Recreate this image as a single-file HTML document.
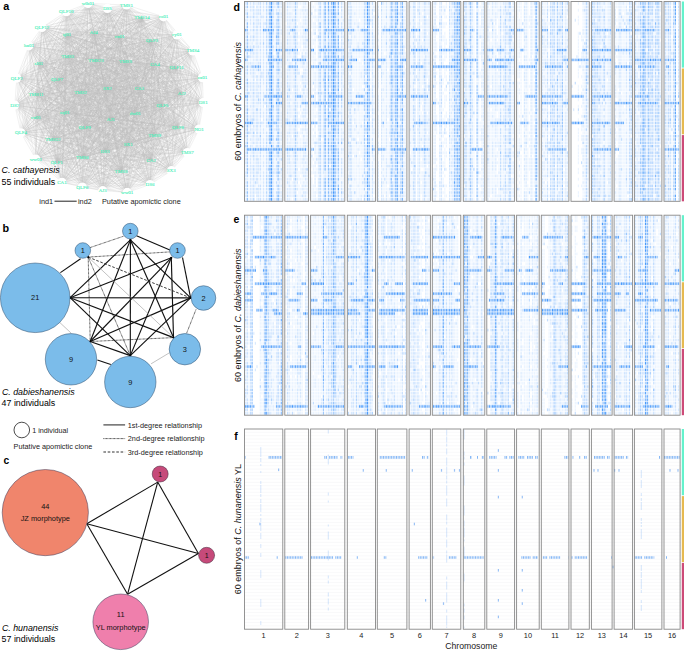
<!DOCTYPE html>
<html><head><meta charset="utf-8"><style>
html,body{margin:0;padding:0;background:#fff;}
svg{display:block;}

</style></head><body>
<svg width="685" height="651" viewBox="0 0 685 651">
<path stroke="#bdbdbd" stroke-width="0.35" stroke-opacity="0.6" fill="none" d="M88.0 3.4L107.4 8.4M88.0 3.4L66.3 11.7M88.0 3.4L42.0 27.4M88.0 3.4L93.7 32.1M88.0 3.4L66.8 34.5M88.0 3.4L28.9 45.8M88.0 3.4L67.6 56.5M88.0 3.4L96.0 60.1M88.0 3.4L38.6 63.8M88.0 3.4L16.8 78.1M88.0 3.4L57.0 79.5M88.0 3.4L36.0 94.5M88.0 3.4L80.6 92.0M88.0 3.4L107.4 88.0M88.0 3.4L126.5 5.0M88.0 3.4L142.0 17.8M88.0 3.4L163.5 16.8M88.0 3.4L119.6 36.5M88.0 3.4L152.0 40.5M88.0 3.4L176.9 34.9M88.0 3.4L192.8 50.9M88.0 3.4L125.5 61.3M88.0 3.4L155.0 64.3M88.0 3.4L176.7 67.6M88.0 3.4L202.4 77.7M88.0 3.4L139.4 88.3M88.0 3.4L181.8 93.3M88.0 3.4L14.8 105.1M88.0 3.4L64.6 112.8M88.0 3.4L35.8 117.7M88.0 3.4L110.8 119.0M88.0 3.4L84.8 127.9M88.0 3.4L21.0 132.8M88.0 3.4L52.9 139.5M88.0 3.4L105.0 151.9M88.0 3.4L82.3 157.6M88.0 3.4L35.8 159.0M88.0 3.4L56.7 162.3M88.0 3.4L62.0 182.3M88.0 3.4L82.3 187.0M88.0 3.4L102.7 190.7M88.0 3.4L203.2 102.5M88.0 3.4L162.4 105.2M88.0 3.4L135.3 113.1M88.0 3.4L178.0 127.4M88.0 3.4L199.0 129.1M88.0 3.4L154.6 135.3M88.0 3.4L128.2 144.7M88.0 3.4L187.3 152.5M88.0 3.4L151.2 160.1M88.0 3.4L121.0 171.5M88.0 3.4L171.3 170.7M88.0 3.4L150.0 184.5M88.0 3.4L127.2 192.4M107.4 8.4L66.3 11.7M107.4 8.4L42.0 27.4M107.4 8.4L93.7 32.1M107.4 8.4L66.8 34.5M107.4 8.4L28.9 45.8M107.4 8.4L67.6 56.5M107.4 8.4L96.0 60.1M107.4 8.4L38.6 63.8M107.4 8.4L16.8 78.1M107.4 8.4L57.0 79.5M107.4 8.4L36.0 94.5M107.4 8.4L80.6 92.0M107.4 8.4L107.4 88.0M107.4 8.4L126.5 5.0M107.4 8.4L142.0 17.8M107.4 8.4L163.5 16.8M107.4 8.4L119.6 36.5M107.4 8.4L152.0 40.5M107.4 8.4L176.9 34.9M107.4 8.4L192.8 50.9M107.4 8.4L125.5 61.3M107.4 8.4L155.0 64.3M107.4 8.4L176.7 67.6M107.4 8.4L202.4 77.7M107.4 8.4L139.4 88.3M107.4 8.4L181.8 93.3M107.4 8.4L14.8 105.1M107.4 8.4L64.6 112.8M107.4 8.4L35.8 117.7M107.4 8.4L110.8 119.0M107.4 8.4L84.8 127.9M107.4 8.4L21.0 132.8M107.4 8.4L52.9 139.5M107.4 8.4L105.0 151.9M107.4 8.4L82.3 157.6M107.4 8.4L35.8 159.0M107.4 8.4L56.7 162.3M107.4 8.4L62.0 182.3M107.4 8.4L82.3 187.0M107.4 8.4L102.7 190.7M107.4 8.4L203.2 102.5M107.4 8.4L162.4 105.2M107.4 8.4L135.3 113.1M107.4 8.4L178.0 127.4M107.4 8.4L199.0 129.1M107.4 8.4L154.6 135.3M107.4 8.4L128.2 144.7M107.4 8.4L187.3 152.5M107.4 8.4L151.2 160.1M107.4 8.4L121.0 171.5M107.4 8.4L171.3 170.7M107.4 8.4L150.0 184.5M107.4 8.4L127.2 192.4M66.3 11.7L42.0 27.4M66.3 11.7L93.7 32.1M66.3 11.7L66.8 34.5M66.3 11.7L28.9 45.8M66.3 11.7L67.6 56.5M66.3 11.7L96.0 60.1M66.3 11.7L38.6 63.8M66.3 11.7L16.8 78.1M66.3 11.7L57.0 79.5M66.3 11.7L36.0 94.5M66.3 11.7L80.6 92.0M66.3 11.7L107.4 88.0M66.3 11.7L126.5 5.0M66.3 11.7L142.0 17.8M66.3 11.7L163.5 16.8M66.3 11.7L119.6 36.5M66.3 11.7L152.0 40.5M66.3 11.7L176.9 34.9M66.3 11.7L192.8 50.9M66.3 11.7L125.5 61.3M66.3 11.7L155.0 64.3M66.3 11.7L176.7 67.6M66.3 11.7L202.4 77.7M66.3 11.7L139.4 88.3M66.3 11.7L181.8 93.3M66.3 11.7L14.8 105.1M66.3 11.7L64.6 112.8M66.3 11.7L35.8 117.7M66.3 11.7L110.8 119.0M66.3 11.7L84.8 127.9M66.3 11.7L21.0 132.8M66.3 11.7L52.9 139.5M66.3 11.7L105.0 151.9M66.3 11.7L82.3 157.6M66.3 11.7L35.8 159.0M66.3 11.7L56.7 162.3M66.3 11.7L62.0 182.3M66.3 11.7L82.3 187.0M66.3 11.7L102.7 190.7M66.3 11.7L203.2 102.5M66.3 11.7L162.4 105.2M66.3 11.7L135.3 113.1M66.3 11.7L178.0 127.4M66.3 11.7L199.0 129.1M66.3 11.7L154.6 135.3M66.3 11.7L128.2 144.7M66.3 11.7L187.3 152.5M66.3 11.7L151.2 160.1M66.3 11.7L121.0 171.5M66.3 11.7L171.3 170.7M66.3 11.7L150.0 184.5M66.3 11.7L127.2 192.4M42.0 27.4L93.7 32.1M42.0 27.4L66.8 34.5M42.0 27.4L28.9 45.8M42.0 27.4L67.6 56.5M42.0 27.4L96.0 60.1M42.0 27.4L38.6 63.8M42.0 27.4L16.8 78.1M42.0 27.4L57.0 79.5M42.0 27.4L36.0 94.5M42.0 27.4L80.6 92.0M42.0 27.4L107.4 88.0M42.0 27.4L126.5 5.0M42.0 27.4L142.0 17.8M42.0 27.4L163.5 16.8M42.0 27.4L119.6 36.5M42.0 27.4L152.0 40.5M42.0 27.4L176.9 34.9M42.0 27.4L192.8 50.9M42.0 27.4L125.5 61.3M42.0 27.4L155.0 64.3M42.0 27.4L176.7 67.6M42.0 27.4L202.4 77.7M42.0 27.4L139.4 88.3M42.0 27.4L181.8 93.3M42.0 27.4L14.8 105.1M42.0 27.4L64.6 112.8M42.0 27.4L35.8 117.7M42.0 27.4L110.8 119.0M42.0 27.4L84.8 127.9M42.0 27.4L21.0 132.8M42.0 27.4L52.9 139.5M42.0 27.4L105.0 151.9M42.0 27.4L82.3 157.6M42.0 27.4L35.8 159.0M42.0 27.4L56.7 162.3M42.0 27.4L62.0 182.3M42.0 27.4L82.3 187.0M42.0 27.4L102.7 190.7M42.0 27.4L203.2 102.5M42.0 27.4L162.4 105.2M42.0 27.4L135.3 113.1M42.0 27.4L178.0 127.4M42.0 27.4L199.0 129.1M42.0 27.4L154.6 135.3M42.0 27.4L128.2 144.7M42.0 27.4L187.3 152.5M42.0 27.4L151.2 160.1M42.0 27.4L121.0 171.5M42.0 27.4L171.3 170.7M42.0 27.4L150.0 184.5M42.0 27.4L127.2 192.4M93.7 32.1L66.8 34.5M93.7 32.1L28.9 45.8M93.7 32.1L67.6 56.5M93.7 32.1L96.0 60.1M93.7 32.1L38.6 63.8M93.7 32.1L16.8 78.1M93.7 32.1L57.0 79.5M93.7 32.1L36.0 94.5M93.7 32.1L80.6 92.0M93.7 32.1L107.4 88.0M93.7 32.1L126.5 5.0M93.7 32.1L142.0 17.8M93.7 32.1L163.5 16.8M93.7 32.1L119.6 36.5M93.7 32.1L152.0 40.5M93.7 32.1L176.9 34.9M93.7 32.1L192.8 50.9M93.7 32.1L125.5 61.3M93.7 32.1L155.0 64.3M93.7 32.1L176.7 67.6M93.7 32.1L202.4 77.7M93.7 32.1L139.4 88.3M93.7 32.1L181.8 93.3M93.7 32.1L14.8 105.1M93.7 32.1L64.6 112.8M93.7 32.1L35.8 117.7M93.7 32.1L110.8 119.0M93.7 32.1L84.8 127.9M93.7 32.1L21.0 132.8M93.7 32.1L52.9 139.5M93.7 32.1L105.0 151.9M93.7 32.1L82.3 157.6M93.7 32.1L35.8 159.0M93.7 32.1L56.7 162.3M93.7 32.1L62.0 182.3M93.7 32.1L82.3 187.0M93.7 32.1L102.7 190.7M93.7 32.1L203.2 102.5M93.7 32.1L162.4 105.2M93.7 32.1L135.3 113.1M93.7 32.1L178.0 127.4M93.7 32.1L199.0 129.1M93.7 32.1L154.6 135.3M93.7 32.1L128.2 144.7M93.7 32.1L187.3 152.5M93.7 32.1L151.2 160.1M93.7 32.1L121.0 171.5M93.7 32.1L171.3 170.7M93.7 32.1L150.0 184.5M93.7 32.1L127.2 192.4M66.8 34.5L28.9 45.8M66.8 34.5L67.6 56.5M66.8 34.5L96.0 60.1M66.8 34.5L38.6 63.8M66.8 34.5L16.8 78.1M66.8 34.5L57.0 79.5M66.8 34.5L36.0 94.5M66.8 34.5L80.6 92.0M66.8 34.5L107.4 88.0M66.8 34.5L126.5 5.0M66.8 34.5L142.0 17.8M66.8 34.5L163.5 16.8M66.8 34.5L119.6 36.5M66.8 34.5L152.0 40.5M66.8 34.5L176.9 34.9M66.8 34.5L192.8 50.9M66.8 34.5L125.5 61.3M66.8 34.5L155.0 64.3M66.8 34.5L176.7 67.6M66.8 34.5L202.4 77.7M66.8 34.5L139.4 88.3M66.8 34.5L181.8 93.3M66.8 34.5L14.8 105.1M66.8 34.5L64.6 112.8M66.8 34.5L35.8 117.7M66.8 34.5L110.8 119.0M66.8 34.5L84.8 127.9M66.8 34.5L21.0 132.8M66.8 34.5L52.9 139.5M66.8 34.5L105.0 151.9M66.8 34.5L82.3 157.6M66.8 34.5L35.8 159.0M66.8 34.5L56.7 162.3M66.8 34.5L62.0 182.3M66.8 34.5L82.3 187.0M66.8 34.5L102.7 190.7M66.8 34.5L203.2 102.5M66.8 34.5L162.4 105.2M66.8 34.5L135.3 113.1M66.8 34.5L178.0 127.4M66.8 34.5L199.0 129.1M66.8 34.5L154.6 135.3M66.8 34.5L128.2 144.7M66.8 34.5L187.3 152.5M66.8 34.5L151.2 160.1M66.8 34.5L121.0 171.5M66.8 34.5L171.3 170.7M66.8 34.5L150.0 184.5M66.8 34.5L127.2 192.4M28.9 45.8L67.6 56.5M28.9 45.8L96.0 60.1M28.9 45.8L38.6 63.8M28.9 45.8L16.8 78.1M28.9 45.8L57.0 79.5M28.9 45.8L36.0 94.5M28.9 45.8L80.6 92.0M28.9 45.8L107.4 88.0M28.9 45.8L126.5 5.0M28.9 45.8L142.0 17.8M28.9 45.8L163.5 16.8M28.9 45.8L119.6 36.5M28.9 45.8L152.0 40.5M28.9 45.8L176.9 34.9M28.9 45.8L192.8 50.9M28.9 45.8L125.5 61.3M28.9 45.8L155.0 64.3M28.9 45.8L176.7 67.6M28.9 45.8L202.4 77.7M28.9 45.8L139.4 88.3M28.9 45.8L181.8 93.3M28.9 45.8L14.8 105.1M28.9 45.8L64.6 112.8M28.9 45.8L35.8 117.7M28.9 45.8L110.8 119.0M28.9 45.8L84.8 127.9M28.9 45.8L21.0 132.8M28.9 45.8L52.9 139.5M28.9 45.8L105.0 151.9M28.9 45.8L82.3 157.6M28.9 45.8L35.8 159.0M28.9 45.8L56.7 162.3M28.9 45.8L62.0 182.3M28.9 45.8L82.3 187.0M28.9 45.8L102.7 190.7M28.9 45.8L203.2 102.5M28.9 45.8L162.4 105.2M28.9 45.8L135.3 113.1M28.9 45.8L178.0 127.4M28.9 45.8L199.0 129.1M28.9 45.8L154.6 135.3M28.9 45.8L128.2 144.7M28.9 45.8L187.3 152.5M28.9 45.8L151.2 160.1M28.9 45.8L121.0 171.5M28.9 45.8L171.3 170.7M28.9 45.8L150.0 184.5M28.9 45.8L127.2 192.4M67.6 56.5L96.0 60.1M67.6 56.5L38.6 63.8M67.6 56.5L16.8 78.1M67.6 56.5L57.0 79.5M67.6 56.5L36.0 94.5M67.6 56.5L80.6 92.0M67.6 56.5L107.4 88.0M67.6 56.5L126.5 5.0M67.6 56.5L142.0 17.8M67.6 56.5L163.5 16.8M67.6 56.5L119.6 36.5M67.6 56.5L152.0 40.5M67.6 56.5L176.9 34.9M67.6 56.5L192.8 50.9M67.6 56.5L125.5 61.3M67.6 56.5L155.0 64.3M67.6 56.5L176.7 67.6M67.6 56.5L202.4 77.7M67.6 56.5L139.4 88.3M67.6 56.5L181.8 93.3M67.6 56.5L14.8 105.1M67.6 56.5L64.6 112.8M67.6 56.5L35.8 117.7M67.6 56.5L110.8 119.0M67.6 56.5L84.8 127.9M67.6 56.5L21.0 132.8M67.6 56.5L52.9 139.5M67.6 56.5L105.0 151.9M67.6 56.5L82.3 157.6M67.6 56.5L35.8 159.0M67.6 56.5L56.7 162.3M67.6 56.5L62.0 182.3M67.6 56.5L82.3 187.0M67.6 56.5L102.7 190.7M67.6 56.5L203.2 102.5M67.6 56.5L162.4 105.2M67.6 56.5L135.3 113.1M67.6 56.5L178.0 127.4M67.6 56.5L199.0 129.1M67.6 56.5L154.6 135.3M67.6 56.5L128.2 144.7M67.6 56.5L187.3 152.5M67.6 56.5L151.2 160.1M67.6 56.5L121.0 171.5M67.6 56.5L171.3 170.7M67.6 56.5L150.0 184.5M67.6 56.5L127.2 192.4M96.0 60.1L38.6 63.8M96.0 60.1L16.8 78.1M96.0 60.1L57.0 79.5M96.0 60.1L36.0 94.5M96.0 60.1L80.6 92.0M96.0 60.1L107.4 88.0M96.0 60.1L126.5 5.0M96.0 60.1L142.0 17.8M96.0 60.1L163.5 16.8M96.0 60.1L119.6 36.5M96.0 60.1L152.0 40.5M96.0 60.1L176.9 34.9M96.0 60.1L192.8 50.9M96.0 60.1L125.5 61.3M96.0 60.1L155.0 64.3M96.0 60.1L176.7 67.6M96.0 60.1L202.4 77.7M96.0 60.1L139.4 88.3M96.0 60.1L181.8 93.3M96.0 60.1L14.8 105.1M96.0 60.1L64.6 112.8M96.0 60.1L35.8 117.7M96.0 60.1L110.8 119.0M96.0 60.1L84.8 127.9M96.0 60.1L21.0 132.8M96.0 60.1L52.9 139.5M96.0 60.1L105.0 151.9M96.0 60.1L82.3 157.6M96.0 60.1L35.8 159.0M96.0 60.1L56.7 162.3M96.0 60.1L62.0 182.3M96.0 60.1L82.3 187.0M96.0 60.1L102.7 190.7M96.0 60.1L203.2 102.5M96.0 60.1L162.4 105.2M96.0 60.1L135.3 113.1M96.0 60.1L178.0 127.4M96.0 60.1L199.0 129.1M96.0 60.1L154.6 135.3M96.0 60.1L128.2 144.7M96.0 60.1L187.3 152.5M96.0 60.1L151.2 160.1M96.0 60.1L121.0 171.5M96.0 60.1L171.3 170.7M96.0 60.1L150.0 184.5M96.0 60.1L127.2 192.4M38.6 63.8L16.8 78.1M38.6 63.8L57.0 79.5M38.6 63.8L36.0 94.5M38.6 63.8L80.6 92.0M38.6 63.8L107.4 88.0M38.6 63.8L126.5 5.0M38.6 63.8L142.0 17.8M38.6 63.8L163.5 16.8M38.6 63.8L119.6 36.5M38.6 63.8L152.0 40.5M38.6 63.8L176.9 34.9M38.6 63.8L192.8 50.9M38.6 63.8L125.5 61.3M38.6 63.8L155.0 64.3M38.6 63.8L176.7 67.6M38.6 63.8L202.4 77.7M38.6 63.8L139.4 88.3M38.6 63.8L181.8 93.3M38.6 63.8L14.8 105.1M38.6 63.8L64.6 112.8M38.6 63.8L35.8 117.7M38.6 63.8L110.8 119.0M38.6 63.8L84.8 127.9M38.6 63.8L21.0 132.8M38.6 63.8L52.9 139.5M38.6 63.8L105.0 151.9M38.6 63.8L82.3 157.6M38.6 63.8L35.8 159.0M38.6 63.8L56.7 162.3M38.6 63.8L62.0 182.3M38.6 63.8L82.3 187.0M38.6 63.8L102.7 190.7M38.6 63.8L203.2 102.5M38.6 63.8L162.4 105.2M38.6 63.8L135.3 113.1M38.6 63.8L178.0 127.4M38.6 63.8L199.0 129.1M38.6 63.8L154.6 135.3M38.6 63.8L128.2 144.7M38.6 63.8L187.3 152.5M38.6 63.8L151.2 160.1M38.6 63.8L121.0 171.5M38.6 63.8L171.3 170.7M38.6 63.8L150.0 184.5M38.6 63.8L127.2 192.4M16.8 78.1L57.0 79.5M16.8 78.1L36.0 94.5M16.8 78.1L80.6 92.0M16.8 78.1L107.4 88.0M16.8 78.1L126.5 5.0M16.8 78.1L142.0 17.8M16.8 78.1L163.5 16.8M16.8 78.1L119.6 36.5M16.8 78.1L152.0 40.5M16.8 78.1L176.9 34.9M16.8 78.1L192.8 50.9M16.8 78.1L125.5 61.3M16.8 78.1L155.0 64.3M16.8 78.1L176.7 67.6M16.8 78.1L202.4 77.7M16.8 78.1L139.4 88.3M16.8 78.1L181.8 93.3M16.8 78.1L14.8 105.1M16.8 78.1L64.6 112.8M16.8 78.1L35.8 117.7M16.8 78.1L110.8 119.0M16.8 78.1L84.8 127.9M16.8 78.1L21.0 132.8M16.8 78.1L52.9 139.5M16.8 78.1L105.0 151.9M16.8 78.1L82.3 157.6M16.8 78.1L35.8 159.0M16.8 78.1L56.7 162.3M16.8 78.1L62.0 182.3M16.8 78.1L82.3 187.0M16.8 78.1L102.7 190.7M16.8 78.1L203.2 102.5M16.8 78.1L162.4 105.2M16.8 78.1L135.3 113.1M16.8 78.1L178.0 127.4M16.8 78.1L199.0 129.1M16.8 78.1L154.6 135.3M16.8 78.1L128.2 144.7M16.8 78.1L187.3 152.5M16.8 78.1L151.2 160.1M16.8 78.1L121.0 171.5M16.8 78.1L171.3 170.7M16.8 78.1L150.0 184.5M16.8 78.1L127.2 192.4M57.0 79.5L36.0 94.5M57.0 79.5L80.6 92.0M57.0 79.5L107.4 88.0M57.0 79.5L126.5 5.0M57.0 79.5L142.0 17.8M57.0 79.5L163.5 16.8M57.0 79.5L119.6 36.5M57.0 79.5L152.0 40.5M57.0 79.5L176.9 34.9M57.0 79.5L192.8 50.9M57.0 79.5L125.5 61.3M57.0 79.5L155.0 64.3M57.0 79.5L176.7 67.6M57.0 79.5L202.4 77.7M57.0 79.5L139.4 88.3M57.0 79.5L181.8 93.3M57.0 79.5L14.8 105.1M57.0 79.5L64.6 112.8M57.0 79.5L35.8 117.7M57.0 79.5L110.8 119.0M57.0 79.5L84.8 127.9M57.0 79.5L21.0 132.8M57.0 79.5L52.9 139.5M57.0 79.5L105.0 151.9M57.0 79.5L82.3 157.6M57.0 79.5L35.8 159.0M57.0 79.5L56.7 162.3M57.0 79.5L62.0 182.3M57.0 79.5L82.3 187.0M57.0 79.5L102.7 190.7M57.0 79.5L203.2 102.5M57.0 79.5L162.4 105.2M57.0 79.5L135.3 113.1M57.0 79.5L178.0 127.4M57.0 79.5L199.0 129.1M57.0 79.5L154.6 135.3M57.0 79.5L128.2 144.7M57.0 79.5L187.3 152.5M57.0 79.5L151.2 160.1M57.0 79.5L121.0 171.5M57.0 79.5L171.3 170.7M57.0 79.5L150.0 184.5M57.0 79.5L127.2 192.4M36.0 94.5L80.6 92.0M36.0 94.5L107.4 88.0M36.0 94.5L126.5 5.0M36.0 94.5L142.0 17.8M36.0 94.5L163.5 16.8M36.0 94.5L119.6 36.5M36.0 94.5L152.0 40.5M36.0 94.5L176.9 34.9M36.0 94.5L192.8 50.9M36.0 94.5L125.5 61.3M36.0 94.5L155.0 64.3M36.0 94.5L176.7 67.6M36.0 94.5L202.4 77.7M36.0 94.5L139.4 88.3M36.0 94.5L181.8 93.3M36.0 94.5L14.8 105.1M36.0 94.5L64.6 112.8M36.0 94.5L35.8 117.7M36.0 94.5L110.8 119.0M36.0 94.5L84.8 127.9M36.0 94.5L21.0 132.8M36.0 94.5L52.9 139.5M36.0 94.5L105.0 151.9M36.0 94.5L82.3 157.6M36.0 94.5L35.8 159.0M36.0 94.5L56.7 162.3M36.0 94.5L62.0 182.3M36.0 94.5L82.3 187.0M36.0 94.5L102.7 190.7M36.0 94.5L203.2 102.5M36.0 94.5L162.4 105.2M36.0 94.5L135.3 113.1M36.0 94.5L178.0 127.4M36.0 94.5L199.0 129.1M36.0 94.5L154.6 135.3M36.0 94.5L128.2 144.7M36.0 94.5L187.3 152.5M36.0 94.5L151.2 160.1M36.0 94.5L121.0 171.5M36.0 94.5L171.3 170.7M36.0 94.5L150.0 184.5M36.0 94.5L127.2 192.4M80.6 92.0L107.4 88.0M80.6 92.0L126.5 5.0M80.6 92.0L142.0 17.8M80.6 92.0L163.5 16.8M80.6 92.0L119.6 36.5M80.6 92.0L152.0 40.5M80.6 92.0L176.9 34.9M80.6 92.0L192.8 50.9M80.6 92.0L125.5 61.3M80.6 92.0L155.0 64.3M80.6 92.0L176.7 67.6M80.6 92.0L202.4 77.7M80.6 92.0L139.4 88.3M80.6 92.0L181.8 93.3M80.6 92.0L14.8 105.1M80.6 92.0L64.6 112.8M80.6 92.0L35.8 117.7M80.6 92.0L110.8 119.0M80.6 92.0L84.8 127.9M80.6 92.0L21.0 132.8M80.6 92.0L52.9 139.5M80.6 92.0L105.0 151.9M80.6 92.0L82.3 157.6M80.6 92.0L35.8 159.0M80.6 92.0L56.7 162.3M80.6 92.0L62.0 182.3M80.6 92.0L82.3 187.0M80.6 92.0L102.7 190.7M80.6 92.0L203.2 102.5M80.6 92.0L162.4 105.2M80.6 92.0L135.3 113.1M80.6 92.0L178.0 127.4M80.6 92.0L199.0 129.1M80.6 92.0L154.6 135.3M80.6 92.0L128.2 144.7M80.6 92.0L187.3 152.5M80.6 92.0L151.2 160.1M80.6 92.0L121.0 171.5M80.6 92.0L171.3 170.7M80.6 92.0L150.0 184.5M80.6 92.0L127.2 192.4M107.4 88.0L126.5 5.0M107.4 88.0L142.0 17.8M107.4 88.0L163.5 16.8M107.4 88.0L119.6 36.5M107.4 88.0L152.0 40.5M107.4 88.0L176.9 34.9M107.4 88.0L192.8 50.9M107.4 88.0L125.5 61.3M107.4 88.0L155.0 64.3M107.4 88.0L176.7 67.6M107.4 88.0L202.4 77.7M107.4 88.0L139.4 88.3M107.4 88.0L181.8 93.3M107.4 88.0L14.8 105.1M107.4 88.0L64.6 112.8M107.4 88.0L35.8 117.7M107.4 88.0L110.8 119.0M107.4 88.0L84.8 127.9M107.4 88.0L21.0 132.8M107.4 88.0L52.9 139.5M107.4 88.0L105.0 151.9M107.4 88.0L82.3 157.6M107.4 88.0L35.8 159.0M107.4 88.0L56.7 162.3M107.4 88.0L62.0 182.3M107.4 88.0L82.3 187.0M107.4 88.0L102.7 190.7M107.4 88.0L203.2 102.5M107.4 88.0L162.4 105.2M107.4 88.0L135.3 113.1M107.4 88.0L178.0 127.4M107.4 88.0L199.0 129.1M107.4 88.0L154.6 135.3M107.4 88.0L128.2 144.7M107.4 88.0L187.3 152.5M107.4 88.0L151.2 160.1M107.4 88.0L121.0 171.5M107.4 88.0L171.3 170.7M107.4 88.0L150.0 184.5M107.4 88.0L127.2 192.4M126.5 5.0L142.0 17.8M126.5 5.0L163.5 16.8M126.5 5.0L119.6 36.5M126.5 5.0L152.0 40.5M126.5 5.0L176.9 34.9M126.5 5.0L192.8 50.9M126.5 5.0L125.5 61.3M126.5 5.0L155.0 64.3M126.5 5.0L176.7 67.6M126.5 5.0L202.4 77.7M126.5 5.0L139.4 88.3M126.5 5.0L181.8 93.3M126.5 5.0L14.8 105.1M126.5 5.0L64.6 112.8M126.5 5.0L35.8 117.7M126.5 5.0L110.8 119.0M126.5 5.0L84.8 127.9M126.5 5.0L21.0 132.8M126.5 5.0L52.9 139.5M126.5 5.0L105.0 151.9M126.5 5.0L82.3 157.6M126.5 5.0L35.8 159.0M126.5 5.0L56.7 162.3M126.5 5.0L62.0 182.3M126.5 5.0L82.3 187.0M126.5 5.0L102.7 190.7M126.5 5.0L203.2 102.5M126.5 5.0L162.4 105.2M126.5 5.0L135.3 113.1M126.5 5.0L178.0 127.4M126.5 5.0L199.0 129.1M126.5 5.0L154.6 135.3M126.5 5.0L128.2 144.7M126.5 5.0L187.3 152.5M126.5 5.0L151.2 160.1M126.5 5.0L121.0 171.5M126.5 5.0L171.3 170.7M126.5 5.0L150.0 184.5M126.5 5.0L127.2 192.4M142.0 17.8L163.5 16.8M142.0 17.8L119.6 36.5M142.0 17.8L152.0 40.5M142.0 17.8L176.9 34.9M142.0 17.8L192.8 50.9M142.0 17.8L125.5 61.3M142.0 17.8L155.0 64.3M142.0 17.8L176.7 67.6M142.0 17.8L202.4 77.7M142.0 17.8L139.4 88.3M142.0 17.8L181.8 93.3M142.0 17.8L14.8 105.1M142.0 17.8L64.6 112.8M142.0 17.8L35.8 117.7M142.0 17.8L110.8 119.0M142.0 17.8L84.8 127.9M142.0 17.8L21.0 132.8M142.0 17.8L52.9 139.5M142.0 17.8L105.0 151.9M142.0 17.8L82.3 157.6M142.0 17.8L35.8 159.0M142.0 17.8L56.7 162.3M142.0 17.8L62.0 182.3M142.0 17.8L82.3 187.0M142.0 17.8L102.7 190.7M142.0 17.8L203.2 102.5M142.0 17.8L162.4 105.2M142.0 17.8L135.3 113.1M142.0 17.8L178.0 127.4M142.0 17.8L199.0 129.1M142.0 17.8L154.6 135.3M142.0 17.8L128.2 144.7M142.0 17.8L187.3 152.5M142.0 17.8L151.2 160.1M142.0 17.8L121.0 171.5M142.0 17.8L171.3 170.7M142.0 17.8L150.0 184.5M142.0 17.8L127.2 192.4M163.5 16.8L119.6 36.5M163.5 16.8L152.0 40.5M163.5 16.8L176.9 34.9M163.5 16.8L192.8 50.9M163.5 16.8L125.5 61.3M163.5 16.8L155.0 64.3M163.5 16.8L176.7 67.6M163.5 16.8L202.4 77.7M163.5 16.8L139.4 88.3M163.5 16.8L181.8 93.3M163.5 16.8L14.8 105.1M163.5 16.8L64.6 112.8M163.5 16.8L35.8 117.7M163.5 16.8L110.8 119.0M163.5 16.8L84.8 127.9M163.5 16.8L21.0 132.8M163.5 16.8L52.9 139.5M163.5 16.8L105.0 151.9M163.5 16.8L82.3 157.6M163.5 16.8L35.8 159.0M163.5 16.8L56.7 162.3M163.5 16.8L62.0 182.3M163.5 16.8L82.3 187.0M163.5 16.8L102.7 190.7M163.5 16.8L203.2 102.5M163.5 16.8L162.4 105.2M163.5 16.8L135.3 113.1M163.5 16.8L178.0 127.4M163.5 16.8L199.0 129.1M163.5 16.8L154.6 135.3M163.5 16.8L128.2 144.7M163.5 16.8L187.3 152.5M163.5 16.8L151.2 160.1M163.5 16.8L121.0 171.5M163.5 16.8L171.3 170.7M163.5 16.8L150.0 184.5M163.5 16.8L127.2 192.4M119.6 36.5L152.0 40.5M119.6 36.5L176.9 34.9M119.6 36.5L192.8 50.9M119.6 36.5L125.5 61.3M119.6 36.5L155.0 64.3M119.6 36.5L176.7 67.6M119.6 36.5L202.4 77.7M119.6 36.5L139.4 88.3M119.6 36.5L181.8 93.3M119.6 36.5L14.8 105.1M119.6 36.5L64.6 112.8M119.6 36.5L35.8 117.7M119.6 36.5L110.8 119.0M119.6 36.5L84.8 127.9M119.6 36.5L21.0 132.8M119.6 36.5L52.9 139.5M119.6 36.5L105.0 151.9M119.6 36.5L82.3 157.6M119.6 36.5L35.8 159.0M119.6 36.5L56.7 162.3M119.6 36.5L62.0 182.3M119.6 36.5L82.3 187.0M119.6 36.5L102.7 190.7M119.6 36.5L203.2 102.5M119.6 36.5L162.4 105.2M119.6 36.5L135.3 113.1M119.6 36.5L178.0 127.4M119.6 36.5L199.0 129.1M119.6 36.5L154.6 135.3M119.6 36.5L128.2 144.7M119.6 36.5L187.3 152.5M119.6 36.5L151.2 160.1M119.6 36.5L121.0 171.5M119.6 36.5L171.3 170.7M119.6 36.5L150.0 184.5M119.6 36.5L127.2 192.4M152.0 40.5L176.9 34.9M152.0 40.5L192.8 50.9M152.0 40.5L125.5 61.3M152.0 40.5L155.0 64.3M152.0 40.5L176.7 67.6M152.0 40.5L202.4 77.7M152.0 40.5L139.4 88.3M152.0 40.5L181.8 93.3M152.0 40.5L14.8 105.1M152.0 40.5L64.6 112.8M152.0 40.5L35.8 117.7M152.0 40.5L110.8 119.0M152.0 40.5L84.8 127.9M152.0 40.5L21.0 132.8M152.0 40.5L52.9 139.5M152.0 40.5L105.0 151.9M152.0 40.5L82.3 157.6M152.0 40.5L35.8 159.0M152.0 40.5L56.7 162.3M152.0 40.5L62.0 182.3M152.0 40.5L82.3 187.0M152.0 40.5L102.7 190.7M152.0 40.5L203.2 102.5M152.0 40.5L162.4 105.2M152.0 40.5L135.3 113.1M152.0 40.5L178.0 127.4M152.0 40.5L199.0 129.1M152.0 40.5L154.6 135.3M152.0 40.5L128.2 144.7M152.0 40.5L187.3 152.5M152.0 40.5L151.2 160.1M152.0 40.5L121.0 171.5M152.0 40.5L171.3 170.7M152.0 40.5L150.0 184.5M152.0 40.5L127.2 192.4M176.9 34.9L192.8 50.9M176.9 34.9L125.5 61.3M176.9 34.9L155.0 64.3M176.9 34.9L176.7 67.6M176.9 34.9L202.4 77.7M176.9 34.9L139.4 88.3M176.9 34.9L181.8 93.3M176.9 34.9L14.8 105.1M176.9 34.9L64.6 112.8M176.9 34.9L35.8 117.7M176.9 34.9L110.8 119.0M176.9 34.9L84.8 127.9M176.9 34.9L21.0 132.8M176.9 34.9L52.9 139.5M176.9 34.9L105.0 151.9M176.9 34.9L82.3 157.6M176.9 34.9L35.8 159.0M176.9 34.9L56.7 162.3M176.9 34.9L62.0 182.3M176.9 34.9L82.3 187.0M176.9 34.9L102.7 190.7M176.9 34.9L203.2 102.5M176.9 34.9L162.4 105.2M176.9 34.9L135.3 113.1M176.9 34.9L178.0 127.4M176.9 34.9L199.0 129.1M176.9 34.9L154.6 135.3M176.9 34.9L128.2 144.7M176.9 34.9L187.3 152.5M176.9 34.9L151.2 160.1M176.9 34.9L121.0 171.5M176.9 34.9L171.3 170.7M176.9 34.9L150.0 184.5M176.9 34.9L127.2 192.4M192.8 50.9L125.5 61.3M192.8 50.9L155.0 64.3M192.8 50.9L176.7 67.6M192.8 50.9L202.4 77.7M192.8 50.9L139.4 88.3M192.8 50.9L181.8 93.3M192.8 50.9L14.8 105.1M192.8 50.9L64.6 112.8M192.8 50.9L35.8 117.7M192.8 50.9L110.8 119.0M192.8 50.9L84.8 127.9M192.8 50.9L21.0 132.8M192.8 50.9L52.9 139.5M192.8 50.9L105.0 151.9M192.8 50.9L82.3 157.6M192.8 50.9L35.8 159.0M192.8 50.9L56.7 162.3M192.8 50.9L62.0 182.3M192.8 50.9L82.3 187.0M192.8 50.9L102.7 190.7M192.8 50.9L203.2 102.5M192.8 50.9L162.4 105.2M192.8 50.9L135.3 113.1M192.8 50.9L178.0 127.4M192.8 50.9L199.0 129.1M192.8 50.9L154.6 135.3M192.8 50.9L128.2 144.7M192.8 50.9L187.3 152.5M192.8 50.9L151.2 160.1M192.8 50.9L121.0 171.5M192.8 50.9L171.3 170.7M192.8 50.9L150.0 184.5M192.8 50.9L127.2 192.4M125.5 61.3L155.0 64.3M125.5 61.3L176.7 67.6M125.5 61.3L202.4 77.7M125.5 61.3L139.4 88.3M125.5 61.3L181.8 93.3M125.5 61.3L14.8 105.1M125.5 61.3L64.6 112.8M125.5 61.3L35.8 117.7M125.5 61.3L110.8 119.0M125.5 61.3L84.8 127.9M125.5 61.3L21.0 132.8M125.5 61.3L52.9 139.5M125.5 61.3L105.0 151.9M125.5 61.3L82.3 157.6M125.5 61.3L35.8 159.0M125.5 61.3L56.7 162.3M125.5 61.3L62.0 182.3M125.5 61.3L82.3 187.0M125.5 61.3L102.7 190.7M125.5 61.3L203.2 102.5M125.5 61.3L162.4 105.2M125.5 61.3L135.3 113.1M125.5 61.3L178.0 127.4M125.5 61.3L199.0 129.1M125.5 61.3L154.6 135.3M125.5 61.3L128.2 144.7M125.5 61.3L187.3 152.5M125.5 61.3L151.2 160.1M125.5 61.3L121.0 171.5M125.5 61.3L171.3 170.7M125.5 61.3L150.0 184.5M125.5 61.3L127.2 192.4M155.0 64.3L176.7 67.6M155.0 64.3L202.4 77.7M155.0 64.3L139.4 88.3M155.0 64.3L181.8 93.3M155.0 64.3L14.8 105.1M155.0 64.3L64.6 112.8M155.0 64.3L35.8 117.7M155.0 64.3L110.8 119.0M155.0 64.3L84.8 127.9M155.0 64.3L21.0 132.8M155.0 64.3L52.9 139.5M155.0 64.3L105.0 151.9M155.0 64.3L82.3 157.6M155.0 64.3L35.8 159.0M155.0 64.3L56.7 162.3M155.0 64.3L62.0 182.3M155.0 64.3L82.3 187.0M155.0 64.3L102.7 190.7M155.0 64.3L203.2 102.5M155.0 64.3L162.4 105.2M155.0 64.3L135.3 113.1M155.0 64.3L178.0 127.4M155.0 64.3L199.0 129.1M155.0 64.3L154.6 135.3M155.0 64.3L128.2 144.7M155.0 64.3L187.3 152.5M155.0 64.3L151.2 160.1M155.0 64.3L121.0 171.5M155.0 64.3L171.3 170.7M155.0 64.3L150.0 184.5M155.0 64.3L127.2 192.4M176.7 67.6L202.4 77.7M176.7 67.6L139.4 88.3M176.7 67.6L181.8 93.3M176.7 67.6L14.8 105.1M176.7 67.6L64.6 112.8M176.7 67.6L35.8 117.7M176.7 67.6L110.8 119.0M176.7 67.6L84.8 127.9M176.7 67.6L21.0 132.8M176.7 67.6L52.9 139.5M176.7 67.6L105.0 151.9M176.7 67.6L82.3 157.6M176.7 67.6L35.8 159.0M176.7 67.6L56.7 162.3M176.7 67.6L62.0 182.3M176.7 67.6L82.3 187.0M176.7 67.6L102.7 190.7M176.7 67.6L203.2 102.5M176.7 67.6L162.4 105.2M176.7 67.6L135.3 113.1M176.7 67.6L178.0 127.4M176.7 67.6L199.0 129.1M176.7 67.6L154.6 135.3M176.7 67.6L128.2 144.7M176.7 67.6L187.3 152.5M176.7 67.6L151.2 160.1M176.7 67.6L121.0 171.5M176.7 67.6L171.3 170.7M176.7 67.6L150.0 184.5M176.7 67.6L127.2 192.4M202.4 77.7L139.4 88.3M202.4 77.7L181.8 93.3M202.4 77.7L14.8 105.1M202.4 77.7L64.6 112.8M202.4 77.7L35.8 117.7M202.4 77.7L110.8 119.0M202.4 77.7L84.8 127.9M202.4 77.7L21.0 132.8M202.4 77.7L52.9 139.5M202.4 77.7L105.0 151.9M202.4 77.7L82.3 157.6M202.4 77.7L35.8 159.0M202.4 77.7L56.7 162.3M202.4 77.7L62.0 182.3M202.4 77.7L82.3 187.0M202.4 77.7L102.7 190.7M202.4 77.7L203.2 102.5M202.4 77.7L162.4 105.2M202.4 77.7L135.3 113.1M202.4 77.7L178.0 127.4M202.4 77.7L199.0 129.1M202.4 77.7L154.6 135.3M202.4 77.7L128.2 144.7M202.4 77.7L187.3 152.5M202.4 77.7L151.2 160.1M202.4 77.7L121.0 171.5M202.4 77.7L171.3 170.7M202.4 77.7L150.0 184.5M202.4 77.7L127.2 192.4M139.4 88.3L181.8 93.3M139.4 88.3L14.8 105.1M139.4 88.3L64.6 112.8M139.4 88.3L35.8 117.7M139.4 88.3L110.8 119.0M139.4 88.3L84.8 127.9M139.4 88.3L21.0 132.8M139.4 88.3L52.9 139.5M139.4 88.3L105.0 151.9M139.4 88.3L82.3 157.6M139.4 88.3L35.8 159.0M139.4 88.3L56.7 162.3M139.4 88.3L62.0 182.3M139.4 88.3L82.3 187.0M139.4 88.3L102.7 190.7M139.4 88.3L203.2 102.5M139.4 88.3L162.4 105.2M139.4 88.3L135.3 113.1M139.4 88.3L178.0 127.4M139.4 88.3L199.0 129.1M139.4 88.3L154.6 135.3M139.4 88.3L128.2 144.7M139.4 88.3L187.3 152.5M139.4 88.3L151.2 160.1M139.4 88.3L121.0 171.5M139.4 88.3L171.3 170.7M139.4 88.3L150.0 184.5M139.4 88.3L127.2 192.4M181.8 93.3L14.8 105.1M181.8 93.3L64.6 112.8M181.8 93.3L35.8 117.7M181.8 93.3L110.8 119.0M181.8 93.3L84.8 127.9M181.8 93.3L21.0 132.8M181.8 93.3L52.9 139.5M181.8 93.3L105.0 151.9M181.8 93.3L82.3 157.6M181.8 93.3L35.8 159.0M181.8 93.3L56.7 162.3M181.8 93.3L62.0 182.3M181.8 93.3L82.3 187.0M181.8 93.3L102.7 190.7M181.8 93.3L203.2 102.5M181.8 93.3L162.4 105.2M181.8 93.3L135.3 113.1M181.8 93.3L178.0 127.4M181.8 93.3L199.0 129.1M181.8 93.3L154.6 135.3M181.8 93.3L128.2 144.7M181.8 93.3L187.3 152.5M181.8 93.3L151.2 160.1M181.8 93.3L121.0 171.5M181.8 93.3L171.3 170.7M181.8 93.3L150.0 184.5M181.8 93.3L127.2 192.4M14.8 105.1L64.6 112.8M14.8 105.1L35.8 117.7M14.8 105.1L110.8 119.0M14.8 105.1L84.8 127.9M14.8 105.1L21.0 132.8M14.8 105.1L52.9 139.5M14.8 105.1L105.0 151.9M14.8 105.1L82.3 157.6M14.8 105.1L35.8 159.0M14.8 105.1L56.7 162.3M14.8 105.1L62.0 182.3M14.8 105.1L82.3 187.0M14.8 105.1L102.7 190.7M14.8 105.1L203.2 102.5M14.8 105.1L162.4 105.2M14.8 105.1L135.3 113.1M14.8 105.1L178.0 127.4M14.8 105.1L199.0 129.1M14.8 105.1L154.6 135.3M14.8 105.1L128.2 144.7M14.8 105.1L187.3 152.5M14.8 105.1L151.2 160.1M14.8 105.1L121.0 171.5M14.8 105.1L171.3 170.7M14.8 105.1L150.0 184.5M14.8 105.1L127.2 192.4M64.6 112.8L35.8 117.7M64.6 112.8L110.8 119.0M64.6 112.8L84.8 127.9M64.6 112.8L21.0 132.8M64.6 112.8L52.9 139.5M64.6 112.8L105.0 151.9M64.6 112.8L82.3 157.6M64.6 112.8L35.8 159.0M64.6 112.8L56.7 162.3M64.6 112.8L62.0 182.3M64.6 112.8L82.3 187.0M64.6 112.8L102.7 190.7M64.6 112.8L203.2 102.5M64.6 112.8L162.4 105.2M64.6 112.8L135.3 113.1M64.6 112.8L178.0 127.4M64.6 112.8L199.0 129.1M64.6 112.8L154.6 135.3M64.6 112.8L128.2 144.7M64.6 112.8L187.3 152.5M64.6 112.8L151.2 160.1M64.6 112.8L121.0 171.5M64.6 112.8L171.3 170.7M64.6 112.8L150.0 184.5M64.6 112.8L127.2 192.4M35.8 117.7L110.8 119.0M35.8 117.7L84.8 127.9M35.8 117.7L21.0 132.8M35.8 117.7L52.9 139.5M35.8 117.7L105.0 151.9M35.8 117.7L82.3 157.6M35.8 117.7L35.8 159.0M35.8 117.7L56.7 162.3M35.8 117.7L62.0 182.3M35.8 117.7L82.3 187.0M35.8 117.7L102.7 190.7M35.8 117.7L203.2 102.5M35.8 117.7L162.4 105.2M35.8 117.7L135.3 113.1M35.8 117.7L178.0 127.4M35.8 117.7L199.0 129.1M35.8 117.7L154.6 135.3M35.8 117.7L128.2 144.7M35.8 117.7L187.3 152.5M35.8 117.7L151.2 160.1M35.8 117.7L121.0 171.5M35.8 117.7L171.3 170.7M35.8 117.7L150.0 184.5M35.8 117.7L127.2 192.4M110.8 119.0L84.8 127.9M110.8 119.0L21.0 132.8M110.8 119.0L52.9 139.5M110.8 119.0L105.0 151.9M110.8 119.0L82.3 157.6M110.8 119.0L35.8 159.0M110.8 119.0L56.7 162.3M110.8 119.0L62.0 182.3M110.8 119.0L82.3 187.0M110.8 119.0L102.7 190.7M110.8 119.0L203.2 102.5M110.8 119.0L162.4 105.2M110.8 119.0L135.3 113.1M110.8 119.0L178.0 127.4M110.8 119.0L199.0 129.1M110.8 119.0L154.6 135.3M110.8 119.0L128.2 144.7M110.8 119.0L187.3 152.5M110.8 119.0L151.2 160.1M110.8 119.0L121.0 171.5M110.8 119.0L171.3 170.7M110.8 119.0L150.0 184.5M110.8 119.0L127.2 192.4M84.8 127.9L21.0 132.8M84.8 127.9L52.9 139.5M84.8 127.9L105.0 151.9M84.8 127.9L82.3 157.6M84.8 127.9L35.8 159.0M84.8 127.9L56.7 162.3M84.8 127.9L62.0 182.3M84.8 127.9L82.3 187.0M84.8 127.9L102.7 190.7M84.8 127.9L203.2 102.5M84.8 127.9L162.4 105.2M84.8 127.9L135.3 113.1M84.8 127.9L178.0 127.4M84.8 127.9L199.0 129.1M84.8 127.9L154.6 135.3M84.8 127.9L128.2 144.7M84.8 127.9L187.3 152.5M84.8 127.9L151.2 160.1M84.8 127.9L121.0 171.5M84.8 127.9L171.3 170.7M84.8 127.9L150.0 184.5M84.8 127.9L127.2 192.4M21.0 132.8L52.9 139.5M21.0 132.8L105.0 151.9M21.0 132.8L82.3 157.6M21.0 132.8L35.8 159.0M21.0 132.8L56.7 162.3M21.0 132.8L62.0 182.3M21.0 132.8L82.3 187.0M21.0 132.8L102.7 190.7M21.0 132.8L203.2 102.5M21.0 132.8L162.4 105.2M21.0 132.8L135.3 113.1M21.0 132.8L178.0 127.4M21.0 132.8L199.0 129.1M21.0 132.8L154.6 135.3M21.0 132.8L128.2 144.7M21.0 132.8L187.3 152.5M21.0 132.8L151.2 160.1M21.0 132.8L121.0 171.5M21.0 132.8L171.3 170.7M21.0 132.8L150.0 184.5M21.0 132.8L127.2 192.4M52.9 139.5L105.0 151.9M52.9 139.5L82.3 157.6M52.9 139.5L35.8 159.0M52.9 139.5L56.7 162.3M52.9 139.5L62.0 182.3M52.9 139.5L82.3 187.0M52.9 139.5L102.7 190.7M52.9 139.5L203.2 102.5M52.9 139.5L162.4 105.2M52.9 139.5L135.3 113.1M52.9 139.5L178.0 127.4M52.9 139.5L199.0 129.1M52.9 139.5L154.6 135.3M52.9 139.5L128.2 144.7M52.9 139.5L187.3 152.5M52.9 139.5L151.2 160.1M52.9 139.5L121.0 171.5M52.9 139.5L171.3 170.7M52.9 139.5L150.0 184.5M52.9 139.5L127.2 192.4M105.0 151.9L82.3 157.6M105.0 151.9L35.8 159.0M105.0 151.9L56.7 162.3M105.0 151.9L62.0 182.3M105.0 151.9L82.3 187.0M105.0 151.9L102.7 190.7M105.0 151.9L203.2 102.5M105.0 151.9L162.4 105.2M105.0 151.9L135.3 113.1M105.0 151.9L178.0 127.4M105.0 151.9L199.0 129.1M105.0 151.9L154.6 135.3M105.0 151.9L128.2 144.7M105.0 151.9L187.3 152.5M105.0 151.9L151.2 160.1M105.0 151.9L121.0 171.5M105.0 151.9L171.3 170.7M105.0 151.9L150.0 184.5M105.0 151.9L127.2 192.4M82.3 157.6L35.8 159.0M82.3 157.6L56.7 162.3M82.3 157.6L62.0 182.3M82.3 157.6L82.3 187.0M82.3 157.6L102.7 190.7M82.3 157.6L203.2 102.5M82.3 157.6L162.4 105.2M82.3 157.6L135.3 113.1M82.3 157.6L178.0 127.4M82.3 157.6L199.0 129.1M82.3 157.6L154.6 135.3M82.3 157.6L128.2 144.7M82.3 157.6L187.3 152.5M82.3 157.6L151.2 160.1M82.3 157.6L121.0 171.5M82.3 157.6L171.3 170.7M82.3 157.6L150.0 184.5M82.3 157.6L127.2 192.4M35.8 159.0L56.7 162.3M35.8 159.0L62.0 182.3M35.8 159.0L82.3 187.0M35.8 159.0L102.7 190.7M35.8 159.0L203.2 102.5M35.8 159.0L162.4 105.2M35.8 159.0L135.3 113.1M35.8 159.0L178.0 127.4M35.8 159.0L199.0 129.1M35.8 159.0L154.6 135.3M35.8 159.0L128.2 144.7M35.8 159.0L187.3 152.5M35.8 159.0L151.2 160.1M35.8 159.0L121.0 171.5M35.8 159.0L171.3 170.7M35.8 159.0L150.0 184.5M35.8 159.0L127.2 192.4M56.7 162.3L62.0 182.3M56.7 162.3L82.3 187.0M56.7 162.3L102.7 190.7M56.7 162.3L203.2 102.5M56.7 162.3L162.4 105.2M56.7 162.3L135.3 113.1M56.7 162.3L178.0 127.4M56.7 162.3L199.0 129.1M56.7 162.3L154.6 135.3M56.7 162.3L128.2 144.7M56.7 162.3L187.3 152.5M56.7 162.3L151.2 160.1M56.7 162.3L121.0 171.5M56.7 162.3L171.3 170.7M56.7 162.3L150.0 184.5M56.7 162.3L127.2 192.4M62.0 182.3L82.3 187.0M62.0 182.3L102.7 190.7M62.0 182.3L203.2 102.5M62.0 182.3L162.4 105.2M62.0 182.3L135.3 113.1M62.0 182.3L178.0 127.4M62.0 182.3L199.0 129.1M62.0 182.3L154.6 135.3M62.0 182.3L128.2 144.7M62.0 182.3L187.3 152.5M62.0 182.3L151.2 160.1M62.0 182.3L121.0 171.5M62.0 182.3L171.3 170.7M62.0 182.3L150.0 184.5M62.0 182.3L127.2 192.4M82.3 187.0L102.7 190.7M82.3 187.0L203.2 102.5M82.3 187.0L162.4 105.2M82.3 187.0L135.3 113.1M82.3 187.0L178.0 127.4M82.3 187.0L199.0 129.1M82.3 187.0L154.6 135.3M82.3 187.0L128.2 144.7M82.3 187.0L187.3 152.5M82.3 187.0L151.2 160.1M82.3 187.0L121.0 171.5M82.3 187.0L171.3 170.7M82.3 187.0L150.0 184.5M82.3 187.0L127.2 192.4M102.7 190.7L203.2 102.5M102.7 190.7L162.4 105.2M102.7 190.7L135.3 113.1M102.7 190.7L178.0 127.4M102.7 190.7L199.0 129.1M102.7 190.7L154.6 135.3M102.7 190.7L128.2 144.7M102.7 190.7L187.3 152.5M102.7 190.7L151.2 160.1M102.7 190.7L121.0 171.5M102.7 190.7L171.3 170.7M102.7 190.7L150.0 184.5M102.7 190.7L127.2 192.4M203.2 102.5L162.4 105.2M203.2 102.5L135.3 113.1M203.2 102.5L178.0 127.4M203.2 102.5L199.0 129.1M203.2 102.5L154.6 135.3M203.2 102.5L128.2 144.7M203.2 102.5L187.3 152.5M203.2 102.5L151.2 160.1M203.2 102.5L121.0 171.5M203.2 102.5L171.3 170.7M203.2 102.5L150.0 184.5M203.2 102.5L127.2 192.4M162.4 105.2L135.3 113.1M162.4 105.2L178.0 127.4M162.4 105.2L199.0 129.1M162.4 105.2L154.6 135.3M162.4 105.2L128.2 144.7M162.4 105.2L187.3 152.5M162.4 105.2L151.2 160.1M162.4 105.2L121.0 171.5M162.4 105.2L171.3 170.7M162.4 105.2L150.0 184.5M162.4 105.2L127.2 192.4M135.3 113.1L178.0 127.4M135.3 113.1L199.0 129.1M135.3 113.1L154.6 135.3M135.3 113.1L128.2 144.7M135.3 113.1L187.3 152.5M135.3 113.1L151.2 160.1M135.3 113.1L121.0 171.5M135.3 113.1L171.3 170.7M135.3 113.1L150.0 184.5M135.3 113.1L127.2 192.4M178.0 127.4L199.0 129.1M178.0 127.4L154.6 135.3M178.0 127.4L128.2 144.7M178.0 127.4L187.3 152.5M178.0 127.4L151.2 160.1M178.0 127.4L121.0 171.5M178.0 127.4L171.3 170.7M178.0 127.4L150.0 184.5M178.0 127.4L127.2 192.4M199.0 129.1L154.6 135.3M199.0 129.1L128.2 144.7M199.0 129.1L187.3 152.5M199.0 129.1L151.2 160.1M199.0 129.1L121.0 171.5M199.0 129.1L171.3 170.7M199.0 129.1L150.0 184.5M199.0 129.1L127.2 192.4M154.6 135.3L128.2 144.7M154.6 135.3L187.3 152.5M154.6 135.3L151.2 160.1M154.6 135.3L121.0 171.5M154.6 135.3L171.3 170.7M154.6 135.3L150.0 184.5M154.6 135.3L127.2 192.4M128.2 144.7L187.3 152.5M128.2 144.7L151.2 160.1M128.2 144.7L121.0 171.5M128.2 144.7L171.3 170.7M128.2 144.7L150.0 184.5M128.2 144.7L127.2 192.4M187.3 152.5L151.2 160.1M187.3 152.5L121.0 171.5M187.3 152.5L171.3 170.7M187.3 152.5L150.0 184.5M187.3 152.5L127.2 192.4M151.2 160.1L121.0 171.5M151.2 160.1L171.3 170.7M151.2 160.1L150.0 184.5M151.2 160.1L127.2 192.4M121.0 171.5L171.3 170.7M121.0 171.5L150.0 184.5M121.0 171.5L127.2 192.4M171.3 170.7L150.0 184.5M171.3 170.7L127.2 192.4M150.0 184.5L127.2 192.4"/>
<circle cx="88.0" cy="3.4" r="4.6" fill="#fff"/>
<circle cx="107.4" cy="8.4" r="4.6" fill="#fff"/>
<circle cx="66.3" cy="11.7" r="4.6" fill="#fff"/>
<circle cx="42.0" cy="27.4" r="4.6" fill="#fff"/>
<circle cx="28.9" cy="45.8" r="4.6" fill="#fff"/>
<circle cx="16.8" cy="78.1" r="4.6" fill="#fff"/>
<circle cx="126.5" cy="5.0" r="4.6" fill="#fff"/>
<circle cx="163.5" cy="16.8" r="4.6" fill="#fff"/>
<circle cx="176.9" cy="34.9" r="4.6" fill="#fff"/>
<circle cx="192.8" cy="50.9" r="4.6" fill="#fff"/>
<circle cx="202.4" cy="77.7" r="4.6" fill="#fff"/>
<circle cx="14.8" cy="105.1" r="4.6" fill="#fff"/>
<circle cx="21.0" cy="132.8" r="4.6" fill="#fff"/>
<circle cx="35.8" cy="159.0" r="4.6" fill="#fff"/>
<circle cx="62.0" cy="182.3" r="4.6" fill="#fff"/>
<circle cx="82.3" cy="187.0" r="4.6" fill="#fff"/>
<circle cx="102.7" cy="190.7" r="4.6" fill="#fff"/>
<circle cx="203.2" cy="102.5" r="4.6" fill="#fff"/>
<circle cx="199.0" cy="129.1" r="4.6" fill="#fff"/>
<circle cx="187.3" cy="152.5" r="4.6" fill="#fff"/>
<circle cx="171.3" cy="170.7" r="4.6" fill="#fff"/>
<circle cx="150.0" cy="184.5" r="4.6" fill="#fff"/>
<circle cx="127.2" cy="192.4" r="4.6" fill="#fff"/>
<g fill="#4ef0bc" stroke="#4ef0bc" stroke-width="0.12" font-family="Liberation Serif, serif" font-size="5.0" text-anchor="middle">
<text x="88.0" y="4.9">wlk01</text>
<text x="107.4" y="9.9">DS5</text>
<text x="66.3" y="13.2">QLF10</text>
<text x="42.0" y="28.9">QLF12</text>
<text x="93.7" y="33.6">AJ4</text>
<text x="66.8" y="36.0">sj01</text>
<text x="28.9" y="47.3">hx01</text>
<text x="67.6" y="58.0">TMS3</text>
<text x="96.0" y="61.6">TMS23</text>
<text x="38.6" y="65.3">zl01</text>
<text x="16.8" y="79.6">QLF2</text>
<text x="57.0" y="81.0">QLF7</text>
<text x="36.0" y="96.0">TMS11</text>
<text x="80.6" y="93.5">TMS2</text>
<text x="107.4" y="89.5">SX2</text>
<text x="126.5" y="6.5">TMS1</text>
<text x="142.0" y="19.3">TMS14</text>
<text x="163.5" y="18.3">ca01</text>
<text x="119.6" y="38.0">cx01</text>
<text x="152.0" y="42.0">QLF3</text>
<text x="176.9" y="36.4">cy01</text>
<text x="192.8" y="52.4">TMS4</text>
<text x="125.5" y="62.8">TMS5</text>
<text x="155.0" y="65.8">CA4</text>
<text x="176.7" y="69.1">QLF11</text>
<text x="202.4" y="79.2">zx01</text>
<text x="139.4" y="89.8">CA3</text>
<text x="181.8" y="94.8">AJ2</text>
<text x="14.8" y="106.6">DS2</text>
<text x="64.6" y="114.3">zq01</text>
<text x="35.8" y="119.2">cx01</text>
<text x="110.8" y="120.5">AJ1</text>
<text x="84.8" y="129.4">QLF9</text>
<text x="21.0" y="134.3">QLF4</text>
<text x="52.9" y="141.0">TMS12</text>
<text x="105.0" y="153.4">DS3</text>
<text x="82.3" y="159.1">TMS6</text>
<text x="35.8" y="160.5">ww01</text>
<text x="56.7" y="163.8">QLF1</text>
<text x="62.0" y="183.8">CA1</text>
<text x="82.3" y="188.5">QLF6</text>
<text x="102.7" y="192.2">AJ3</text>
<text x="203.2" y="104.0">DS1</text>
<text x="162.4" y="106.7">QLF5</text>
<text x="135.3" y="114.6">dw01</text>
<text x="178.0" y="128.9">QLF8</text>
<text x="199.0" y="130.6">NG1</text>
<text x="154.6" y="136.8">TMS9</text>
<text x="128.2" y="146.2">SX1</text>
<text x="187.3" y="154.0">TMS7</text>
<text x="151.2" y="161.6">CA2</text>
<text x="121.0" y="173.0">TMS8</text>
<text x="171.3" y="172.2">SX3</text>
<text x="150.0" y="186.0">DS6</text>
<text x="127.2" y="193.9">ww01</text>
</g>
<text x="3.2" y="9.9" font-family="Liberation Sans, sans-serif" font-weight="bold" font-size="10.8">a</text>
<text x="1.6" y="172.8" font-family="Liberation Sans, sans-serif" font-style="italic" font-size="8.85" fill="#000">C. cathayensis</text>
<text x="1.5" y="184.5" font-family="Liberation Sans, sans-serif" font-size="8.85" fill="#000">55 individuals</text>
<text x="39.3" y="204" font-family="Liberation Sans, sans-serif" font-size="7.3" fill="#222">ind1</text>
<line x1="54.5" y1="201.2" x2="76.7" y2="201.2" stroke="#222" stroke-width="1"/>
<text x="78" y="204" font-family="Liberation Sans, sans-serif" font-size="7.3" fill="#222">ind2</text>
<text x="102" y="204" font-family="Liberation Sans, sans-serif" font-size="7.3" fill="#222">Putative apomictic clone</text>
<text x="2.6" y="231.8" font-family="Liberation Sans, sans-serif" font-weight="bold" font-size="10.8">b</text>
<line x1="130.4" y1="239.9" x2="190.6" y2="297.9" stroke="#111" stroke-width="1.15"/>
<line x1="130.4" y1="239.9" x2="173.5" y2="337.6" stroke="#111" stroke-width="1.15"/>
<line x1="130.4" y1="239.9" x2="130.3" y2="355.6" stroke="#111" stroke-width="1.15"/>
<line x1="130.4" y1="239.9" x2="90.2" y2="341.5" stroke="#111" stroke-width="1.15"/>
<line x1="130.4" y1="239.9" x2="70.1" y2="297.7" stroke="#111" stroke-width="1.15"/>
<line x1="171.3" y1="257.8" x2="173.5" y2="337.6" stroke="#111" stroke-width="1.15"/>
<line x1="171.3" y1="257.8" x2="130.3" y2="355.6" stroke="#111" stroke-width="1.15"/>
<line x1="171.3" y1="257.8" x2="90.2" y2="341.5" stroke="#111" stroke-width="1.15"/>
<line x1="171.3" y1="257.8" x2="70.1" y2="297.7" stroke="#111" stroke-width="1.15"/>
<line x1="88.2" y1="257.1" x2="169.7" y2="251.9" stroke="#000" stroke-width="0.75" stroke-dasharray="0.8 0.55"/>
<line x1="190.6" y1="297.9" x2="130.3" y2="355.6" stroke="#111" stroke-width="1.15"/>
<line x1="190.6" y1="297.9" x2="90.2" y2="341.5" stroke="#111" stroke-width="1.15"/>
<line x1="190.6" y1="297.9" x2="70.1" y2="297.7" stroke="#111" stroke-width="1.15"/>
<line x1="190.6" y1="297.9" x2="88.2" y2="257.1" stroke="#222" stroke-width="0.9" stroke-dasharray="2.6 1.7"/>
<line x1="173.5" y1="337.6" x2="90.2" y2="341.5" stroke="#000" stroke-width="0.75" stroke-dasharray="0.8 0.55"/>
<line x1="173.5" y1="337.6" x2="70.1" y2="297.7" stroke="#111" stroke-width="1.15"/>
<line x1="173.5" y1="337.6" x2="88.2" y2="257.1" stroke="#999" stroke-width="0.6"/>
<line x1="130.3" y1="355.6" x2="90.2" y2="341.5" stroke="#111" stroke-width="1.15"/>
<line x1="130.3" y1="355.6" x2="70.1" y2="297.7" stroke="#111" stroke-width="1.15"/>
<line x1="130.3" y1="355.6" x2="88.2" y2="257.1" stroke="#000" stroke-width="0.75" stroke-dasharray="0.8 0.55"/>
<line x1="90.2" y1="341.5" x2="88.2" y2="257.1" stroke="#000" stroke-width="0.75" stroke-dasharray="0.8 0.55"/>
<line x1="90" y1="247.6" x2="123.6" y2="236.2" stroke="#000" stroke-width="0.75" stroke-dasharray="0.8 0.55"/>
<line x1="136.5" y1="235.8" x2="171" y2="250.5" stroke="#111" stroke-width="1.15"/>
<line x1="182.5" y1="257.5" x2="190.6" y2="297.9" stroke="#111" stroke-width="1.15"/>
<line x1="60.4" y1="272.6" x2="80.6" y2="258.7" stroke="#111" stroke-width="1.15"/>
<line x1="196" y1="309.5" x2="186.5" y2="333.5" stroke="#000" stroke-width="0.75" stroke-dasharray="0.8 0.55"/>
<line x1="169.6" y1="352.7" x2="151.1" y2="363.8" stroke="#999" stroke-width="0.6"/>
<line x1="97.4" y1="360" x2="110.8" y2="364.5" stroke="#111" stroke-width="1.15"/>
<line x1="59.8" y1="322.5" x2="71.2" y2="333.2" stroke="#999" stroke-width="0.6"/>
<circle cx="130.4" cy="239.9" r="1.1" fill="#000"/>
<circle cx="171.3" cy="257.8" r="1.1" fill="#000"/>
<circle cx="190.6" cy="297.9" r="1.1" fill="#000"/>
<circle cx="173.5" cy="337.6" r="1.1" fill="#000"/>
<circle cx="130.3" cy="355.6" r="1.1" fill="#000"/>
<circle cx="90.2" cy="341.5" r="1.1" fill="#000"/>
<circle cx="70.1" cy="297.7" r="1.1" fill="#000"/>
<circle cx="88.2" cy="257.1" r="1.1" fill="#000"/>
<circle cx="35.2" cy="297.8" r="34.8" fill="#7bbcea" stroke="#2a4a6a" stroke-width="0.5"/>
<text x="35.2" y="300.40000000000003" font-family="Liberation Sans, sans-serif" font-size="7.4" text-anchor="middle" fill="#111">21</text>
<circle cx="130.3" cy="231.1" r="7.8" fill="#7bbcea" stroke="#2a4a6a" stroke-width="0.5"/>
<text x="130.3" y="233.7" font-family="Liberation Sans, sans-serif" font-size="7.4" text-anchor="middle" fill="#111">1</text>
<circle cx="82.8" cy="250.5" r="7.8" fill="#7bbcea" stroke="#2a4a6a" stroke-width="0.5"/>
<text x="82.8" y="253.1" font-family="Liberation Sans, sans-serif" font-size="7.4" text-anchor="middle" fill="#111">1</text>
<circle cx="177.5" cy="250.5" r="7.8" fill="#7bbcea" stroke="#2a4a6a" stroke-width="0.5"/>
<text x="177.5" y="253.1" font-family="Liberation Sans, sans-serif" font-size="7.4" text-anchor="middle" fill="#111">1</text>
<circle cx="203.5" cy="298" r="12.3" fill="#7bbcea" stroke="#2a4a6a" stroke-width="0.5"/>
<text x="203.5" y="300.6" font-family="Liberation Sans, sans-serif" font-size="7.4" text-anchor="middle" fill="#111">2</text>
<circle cx="184.9" cy="349.2" r="15.7" fill="#7bbcea" stroke="#2a4a6a" stroke-width="0.5"/>
<text x="184.9" y="351.8" font-family="Liberation Sans, sans-serif" font-size="7.4" text-anchor="middle" fill="#111">3</text>
<circle cx="71" cy="359.3" r="25.7" fill="#7bbcea" stroke="#2a4a6a" stroke-width="0.5"/>
<text x="71" y="361.90000000000003" font-family="Liberation Sans, sans-serif" font-size="7.4" text-anchor="middle" fill="#111">9</text>
<circle cx="130.3" cy="382" r="25.7" fill="#7bbcea" stroke="#2a4a6a" stroke-width="0.5"/>
<text x="130.3" y="384.6" font-family="Liberation Sans, sans-serif" font-size="7.4" text-anchor="middle" fill="#111">9</text>
<text x="1.9" y="394.8" font-family="Liberation Sans, sans-serif" font-style="italic" font-size="8.85" fill="#000">C. dabieshanensis</text>
<text x="1.6" y="406.3" font-family="Liberation Sans, sans-serif" font-size="8.85" fill="#000">47 individuals</text>
<circle cx="21.8" cy="430" r="7.8" fill="#fff" stroke="#111" stroke-width="0.75"/>
<text x="32.2" y="432.8" font-family="Liberation Sans, sans-serif" font-size="7.2" fill="#222">1 individual</text>
<text x="13.6" y="448.8" font-family="Liberation Sans, sans-serif" font-size="7.3" fill="#222">Putative apomictic clone</text>
<line x1="103.4" y1="424.9" x2="125.1" y2="424.9" stroke="#444" stroke-width="1.2"/>
<line x1="103.4" y1="438.6" x2="125.1" y2="438.6" stroke="#111" stroke-width="0.85" stroke-dasharray="0.8 0.55"/>
<line x1="103.4" y1="452" x2="125.1" y2="452" stroke="#333" stroke-width="1" stroke-dasharray="2.6 1.7"/>
<text x="127.8" y="427.6" font-family="Liberation Sans, sans-serif" font-size="7.3" fill="#222">1st-degree relationship</text>
<text x="127.8" y="441.2" font-family="Liberation Sans, sans-serif" font-size="7.3" fill="#222">2nd-degree relationship</text>
<text x="127.8" y="455" font-family="Liberation Sans, sans-serif" font-size="7.3" fill="#222">3rd-degree relationship</text>
<text x="3.4" y="464.0" font-family="Liberation Sans, sans-serif" font-weight="bold" font-size="10.3">c</text>
<line x1="86.8" y1="523.8" x2="157.7" y2="482.1" stroke="#111" stroke-width="1.1"/>
<line x1="86.8" y1="523.8" x2="198.4" y2="553.5" stroke="#111" stroke-width="1.1"/>
<line x1="86.8" y1="523.8" x2="127.6" y2="594.2" stroke="#111" stroke-width="1.1"/>
<line x1="157.7" y1="482.1" x2="198.4" y2="553.5" stroke="#111" stroke-width="1.1"/>
<line x1="157.7" y1="482.1" x2="127.6" y2="594.2" stroke="#111" stroke-width="1.1"/>
<line x1="198.4" y1="553.5" x2="127.6" y2="594.2" stroke="#111" stroke-width="1.1"/>
<circle cx="45.3" cy="512.6" r="43.1" fill="#f0856c" stroke="#3a3a5a" stroke-width="0.5"/>
<text x="45.3" y="508.7" font-family="Liberation Sans, sans-serif" font-size="7.4" text-anchor="middle" fill="#111">44</text>
<text x="45.3" y="521.3" font-family="Liberation Sans, sans-serif" font-size="7.4" text-anchor="middle" fill="#111">JZ morphotype</text>
<circle cx="160.2" cy="474" r="8" fill="#c64a7a" stroke="#3a2a3a" stroke-width="0.5"/>
<text x="160.2" y="476.6" font-family="Liberation Sans, sans-serif" font-size="7" text-anchor="middle" fill="#111">1</text>
<circle cx="206.6" cy="555.3" r="8" fill="#c64a7a" stroke="#3a2a3a" stroke-width="0.5"/>
<text x="206.6" y="557.9" font-family="Liberation Sans, sans-serif" font-size="7" text-anchor="middle" fill="#111">1</text>
<circle cx="120.7" cy="621.8" r="27.8" fill="#ef7fac" stroke="#3a3a5a" stroke-width="0.5"/>
<text x="120.7" y="617.4" font-family="Liberation Sans, sans-serif" font-size="7.4" text-anchor="middle" fill="#111">11</text>
<text x="120.7" y="630" font-family="Liberation Sans, sans-serif" font-size="7.4" text-anchor="middle" fill="#111">YL morphotype</text>
<text x="1.9" y="630.5" font-family="Liberation Sans, sans-serif" font-style="italic" font-size="8.85" fill="#000">C. hunanensis</text>
<text x="1.6" y="641.9" font-family="Liberation Sans, sans-serif" font-size="8.85" fill="#000">57 individuals</text>
<path stroke="rgb(30, 130, 250)" stroke-width="1.15" stroke-opacity="0.090" d="M245.7 15.3v3.3M245.7 21.9v6.6M245.7 51.7v3.3M245.7 101.4v3.3M245.7 137.8v3.3M245.7 164.4v6.6M245.7 197.5v3.3M248.9 2.0v13.3M248.9 18.6v13.3M248.9 35.1v3.3M248.9 51.7v3.3M248.9 58.3v3.3M248.9 68.3v13.3M248.9 88.1v3.3M248.9 98.1v9.9M248.9 111.3v3.3M248.9 127.9v3.3M248.9 134.5v13.3M248.9 151.1v16.6M248.9 171.0v29.8M250.5 11.9v3.3M250.5 25.2v3.3M250.5 31.8v3.3M250.5 41.8v3.3M250.5 58.3v3.3M250.5 74.9v6.6M250.5 91.5v3.3M250.5 98.1v6.6M250.5 108.0v6.6M250.5 134.5v3.3M250.5 141.2v3.3M250.5 151.1v3.3M252.1 2.0v3.3M252.1 11.9v3.3M252.1 18.6v9.9M252.1 31.8v3.3M252.1 58.3v3.3M252.1 78.2v3.3M252.1 124.6v3.3M252.1 157.7v6.6M252.1 174.3v3.3M252.1 180.9v3.3M253.8 41.8v3.3M253.8 144.5v3.3M255.4 2.0v3.3M255.4 8.6v56.3M255.4 68.3v9.9M255.4 81.5v49.7M255.4 134.5v13.3M255.4 151.1v29.8M255.4 184.2v9.9M257.0 71.6v3.3M257.0 184.2v3.3M258.6 5.3v3.3M258.6 15.3v3.3M258.6 25.2v19.9M258.6 48.4v13.3M258.6 71.6v13.3M258.6 88.1v3.3M258.6 104.7v16.6M258.6 124.6v13.3M258.6 141.2v6.6M258.6 151.1v6.6M258.6 174.3v9.9M260.3 180.9v3.3M261.9 2.0v13.3M261.9 18.6v53.0M261.9 78.2v39.8M261.9 124.6v23.2M261.9 151.1v49.7M263.5 11.9v3.3M263.5 18.6v3.3M263.5 84.8v6.6M263.5 108.0v3.3M263.5 124.6v3.3M263.5 134.5v3.3M263.5 151.1v3.3M263.5 157.7v3.3M263.5 167.7v3.3M265.1 2.0v19.9M265.1 25.2v3.3M265.1 31.8v63.0M265.1 98.1v3.3M265.1 108.0v39.8M265.1 151.1v49.7M266.7 58.3v3.3M266.7 127.9v3.3M268.4 2.0v3.3M268.4 15.3v3.3M268.4 48.4v3.3M268.4 65.0v3.3M268.4 84.8v3.3M268.4 91.5v3.3M268.4 111.3v3.3M268.4 127.9v6.6M268.4 141.2v6.6M268.4 171.0v3.3M268.4 190.9v3.3M273.2 41.8v3.3M273.2 51.7v3.3M274.9 8.6v16.6M274.9 28.5v23.2M274.9 55.0v3.3M274.9 61.6v33.1M274.9 98.1v23.2M274.9 124.6v3.3M274.9 131.2v16.6M274.9 151.1v3.3M274.9 157.7v9.9M274.9 174.3v23.2M276.5 5.3v3.3M276.5 15.3v3.3M276.5 131.2v3.3M276.5 141.2v3.3M276.5 161.0v3.3M276.5 177.6v3.3M276.5 187.5v3.3M279.7 124.6v3.3M279.7 167.7v3.3M279.7 174.3v3.3M281.3 8.6v3.3M281.3 18.6v9.9M281.3 35.1v6.6M281.3 51.7v3.3M281.3 68.3v3.3M281.3 78.2v3.3M281.3 88.1v3.3M281.3 98.1v3.3M281.3 108.0v3.3M281.3 127.9v3.3M281.3 141.2v3.3M281.3 161.0v6.6M281.3 180.9v3.3M281.3 187.5v3.3M286.0 2.0v19.9M286.0 25.2v23.2M286.0 51.7v13.3M286.0 68.3v49.7M286.0 124.6v23.2M286.0 151.1v49.7M287.6 61.6v3.3M287.6 124.6v6.6M287.6 174.3v3.3M287.6 184.2v3.3M289.2 8.6v3.3M289.2 137.8v3.3M290.9 8.6v3.3M290.9 31.8v3.3M290.9 58.3v3.3M290.9 94.8v3.3M290.9 101.4v3.3M290.9 118.0v3.3M290.9 151.1v3.3M290.9 157.7v3.3M290.9 180.9v3.3M290.9 197.5v3.3M292.5 2.0v16.6M292.5 21.9v6.6M292.5 31.8v16.6M292.5 51.7v6.6M292.5 61.6v3.3M292.5 68.3v19.9M292.5 91.5v29.8M292.5 124.6v9.9M292.5 137.8v9.9M292.5 151.1v26.5M292.5 180.9v16.6M294.1 11.9v3.3M294.1 61.6v3.3M297.4 8.6v13.3M297.4 28.5v3.3M297.4 38.4v3.3M297.4 45.1v3.3M297.4 55.0v3.3M297.4 61.6v3.3M297.4 74.9v9.9M297.4 98.1v3.3M297.4 108.0v3.3M297.4 124.6v6.6M297.4 137.8v3.3M297.4 144.5v3.3M297.4 151.1v3.3M297.4 161.0v6.6M297.4 171.0v6.6M297.4 184.2v3.3M297.4 194.2v6.6M299.0 2.0v3.3M299.0 8.6v23.2M299.0 35.1v3.3M299.0 41.8v6.6M299.0 51.7v3.3M299.0 61.6v9.9M299.0 74.9v19.9M299.0 98.1v9.9M299.0 111.3v3.3M299.0 118.0v3.3M299.0 124.6v3.3M299.0 131.2v16.6M299.0 151.1v16.6M299.0 171.0v9.9M299.0 184.2v16.6M300.6 2.0v3.3M300.6 8.6v9.9M300.6 21.9v29.8M300.6 61.6v6.6M300.6 74.9v6.6M300.6 84.8v3.3M300.6 91.5v3.3M300.6 98.1v6.6M300.6 108.0v3.3M300.6 114.7v6.6M300.6 127.9v6.6M300.6 137.8v9.9M300.6 151.1v23.2M300.6 177.6v6.6M300.6 187.5v13.3M302.2 2.0v6.6M302.2 11.9v13.3M302.2 28.5v6.6M302.2 38.4v6.6M302.2 48.4v3.3M302.2 71.6v3.3M302.2 84.8v3.3M302.2 91.5v3.3M302.2 104.7v6.6M302.2 118.0v3.3M302.2 124.6v3.3M302.2 134.5v13.3M302.2 151.1v6.6M302.2 164.4v3.3M302.2 174.3v9.9M302.2 190.9v3.3M302.2 197.5v3.3M303.9 51.7v3.3M303.9 104.7v3.3M303.9 124.6v3.3M303.9 131.2v3.3M303.9 177.6v3.3M305.5 5.3v3.3M305.5 11.9v3.3M305.5 25.2v3.3M305.5 48.4v3.3M305.5 61.6v6.6M305.5 88.1v6.6M305.5 118.0v3.3M305.5 131.2v9.9M305.5 157.7v3.3M305.5 164.4v3.3M305.5 180.9v3.3M305.5 187.5v3.3M307.1 2.0v6.6M307.1 84.8v3.3M307.1 98.1v3.3M307.1 114.7v3.3M307.1 124.6v3.3M307.1 151.1v3.3M307.1 194.2v3.3M311.8 2.0v9.9M311.8 15.3v13.3M311.8 31.8v16.6M311.8 51.7v9.9M311.8 68.3v26.5M311.8 98.1v3.3M311.8 104.7v16.6M311.8 124.6v23.2M311.8 151.1v3.3M311.8 157.7v9.9M311.8 171.0v3.3M311.8 177.6v23.2M313.4 5.3v3.3M313.4 15.3v3.3M313.4 21.9v13.3M313.4 38.4v6.6M313.4 51.7v13.3M313.4 68.3v13.3M313.4 88.1v3.3M313.4 98.1v3.3M313.4 104.7v16.6M313.4 127.9v3.3M313.4 134.5v9.9M313.4 157.7v3.3M313.4 164.4v9.9M313.4 184.2v16.6M315.1 2.0v6.6M315.1 11.9v3.3M315.1 18.6v3.3M315.1 35.1v3.3M315.1 41.8v9.9M315.1 55.0v3.3M315.1 61.6v3.3M315.1 68.3v3.3M315.1 108.0v6.6M315.1 118.0v3.3M315.1 127.9v3.3M315.1 137.8v3.3M315.1 154.4v6.6M315.1 167.7v3.3M315.1 187.5v3.3M316.8 2.0v3.3M316.8 8.6v3.3M316.8 15.3v6.6M316.8 25.2v3.3M316.8 35.1v3.3M316.8 58.3v3.3M316.8 68.3v19.9M316.8 91.5v3.3M316.8 104.7v3.3M316.8 111.3v6.6M316.8 137.8v3.3M316.8 144.5v13.3M316.8 161.0v3.3M316.8 167.7v9.9M316.8 187.5v6.6M316.8 197.5v3.3M318.4 5.3v3.3M318.4 31.8v3.3M318.4 41.8v3.3M318.4 58.3v3.3M318.4 131.2v3.3M318.4 174.3v3.3M321.7 2.0v46.4M321.7 51.7v13.3M321.7 68.3v23.2M321.7 94.8v6.6M321.7 104.7v33.1M321.7 141.2v59.6M323.4 5.3v3.3M323.4 88.1v3.3M323.4 137.8v3.3M323.4 174.3v3.3M323.4 190.9v3.3M326.7 2.0v26.5M326.7 31.8v16.6M326.7 51.7v3.3M326.7 61.6v3.3M326.7 68.3v9.9M326.7 81.5v16.6M326.7 108.0v9.9M326.7 121.3v79.5M330.0 88.1v3.3M330.0 108.0v3.3M330.0 164.4v3.3M336.7 2.0v9.9M336.7 21.9v3.3M336.7 68.3v3.3M336.7 78.2v3.3M336.7 91.5v3.3M336.7 98.1v3.3M336.7 134.5v3.3M336.7 141.2v3.3M336.7 174.3v3.3M336.7 187.5v6.6M336.7 197.5v3.3M340.0 2.0v6.6M340.0 11.9v16.6M340.0 31.8v6.6M340.0 41.8v6.6M340.0 51.7v6.6M340.0 61.6v26.5M340.0 91.5v3.3M340.0 98.1v13.3M340.0 114.7v6.6M340.0 124.6v76.2M341.7 18.6v3.3M341.7 124.6v3.3M341.7 144.5v3.3M341.7 154.4v3.3M341.7 177.6v3.3M343.3 2.0v16.6M343.3 21.9v6.6M343.3 31.8v3.3M343.3 38.4v3.3M343.3 45.1v3.3M343.3 61.6v3.3M343.3 74.9v9.9M343.3 88.1v6.6M343.3 98.1v23.2M343.3 124.6v6.6M343.3 134.5v3.3M343.3 141.2v6.6M343.3 151.1v39.8M343.3 194.2v3.3M348.4 15.3v3.3M348.4 48.4v3.3M348.4 84.8v3.3M348.4 111.3v3.3M348.4 118.0v3.3M348.4 171.0v3.3M348.4 184.2v3.3M348.4 190.9v3.3M348.4 197.5v3.3M350.1 35.1v3.3M350.1 71.6v3.3M350.1 137.8v3.3M350.1 180.9v3.3M351.6 2.0v3.3M351.6 45.1v3.3M351.6 74.9v3.3M351.6 108.0v6.6M351.6 141.2v3.3M351.6 180.9v3.3M351.6 187.5v3.3M353.2 2.0v26.5M353.2 31.8v16.6M353.2 51.7v6.6M353.2 61.6v26.5M353.2 91.5v9.9M353.2 104.7v16.6M353.2 124.6v13.3M353.2 141.2v13.3M353.2 157.7v43.1M354.8 2.0v9.9M354.8 15.3v6.6M354.8 25.2v3.3M354.8 31.8v3.3M354.8 38.4v9.9M354.8 51.7v6.6M354.8 61.6v39.8M354.8 104.7v3.3M354.8 114.7v3.3M354.8 124.6v3.3M354.8 131.2v6.6M354.8 141.2v13.3M354.8 157.7v19.9M354.8 180.9v9.9M354.8 194.2v6.6M356.4 2.0v46.4M356.4 51.7v6.6M356.4 61.6v33.1M356.4 98.1v3.3M356.4 104.7v19.9M356.4 127.9v13.3M356.4 144.5v9.9M356.4 157.7v43.1M358.1 2.0v19.9M358.1 31.8v9.9M358.1 51.7v39.8M358.1 98.1v3.3M358.1 111.3v19.9M358.1 134.5v3.3M358.1 144.5v3.3M358.1 151.1v13.3M358.1 167.7v16.6M358.1 187.5v9.9M359.6 2.0v16.6M359.6 21.9v26.5M359.6 51.7v6.6M359.6 61.6v33.1M359.6 98.1v3.3M359.6 104.7v46.4M359.6 154.4v46.4M361.2 2.0v26.5M361.2 31.8v16.6M361.2 51.7v19.9M361.2 78.2v16.6M361.2 98.1v3.3M361.2 104.7v19.9M361.2 127.9v13.3M361.2 144.5v13.3M361.2 161.0v33.1M362.8 2.0v26.5M362.8 31.8v9.9M362.8 45.1v3.3M362.8 51.7v9.9M362.8 65.0v19.9M362.8 88.1v6.6M362.8 98.1v3.3M362.8 104.7v16.6M362.8 124.6v49.7M362.8 177.6v3.3M362.8 184.2v13.3M364.4 84.8v3.3M364.4 91.5v3.3M364.4 111.3v3.3M364.4 174.3v3.3M364.4 190.9v3.3M366.0 25.2v3.3M366.0 74.9v3.3M366.0 88.1v3.3M366.0 121.3v3.3M366.0 134.5v3.3M366.0 141.2v3.3M366.0 167.7v3.3M366.0 187.5v3.3M370.8 2.0v16.6M370.8 21.9v3.3M370.8 28.5v19.9M370.8 51.7v6.6M370.8 61.6v9.9M370.8 78.2v6.6M370.8 88.1v13.3M370.8 104.7v6.6M370.8 114.7v3.3M370.8 121.3v79.5M372.4 5.3v3.3M372.4 134.5v3.3M372.4 157.7v3.3M374.0 2.0v3.3M374.0 18.6v16.6M374.0 55.0v3.3M374.0 61.6v3.3M374.0 68.3v6.6M374.0 78.2v6.6M374.0 88.1v6.6M374.0 98.1v3.3M374.0 104.7v3.3M374.0 114.7v3.3M374.0 121.3v6.6M374.0 134.5v9.9M374.0 151.1v3.3M374.0 161.0v6.6M374.0 174.3v6.6M374.0 184.2v9.9M374.0 197.5v3.3M378.4 2.0v3.3M378.4 35.1v3.3M378.4 41.8v3.3M378.4 88.1v6.6M378.4 111.3v3.3M378.4 137.8v3.3M378.4 154.4v6.6M381.6 84.8v3.3M381.6 167.7v3.3M381.6 174.3v3.3M383.2 5.3v23.2M383.2 35.1v23.2M383.2 65.0v6.6M383.2 74.9v13.3M383.2 91.5v6.6M383.2 101.4v9.9M383.2 114.7v6.6M383.2 127.9v19.9M383.2 151.1v3.3M383.2 161.0v6.6M383.2 171.0v3.3M383.2 177.6v3.3M383.2 184.2v9.9M384.8 2.0v23.2M384.8 31.8v19.9M384.8 55.0v3.3M384.8 61.6v86.1M384.8 151.1v26.5M384.8 180.9v13.3M384.8 197.5v3.3M386.4 18.6v3.3M386.4 51.7v3.3M386.4 98.1v6.6M386.4 124.6v3.3M386.4 151.1v6.6M386.4 177.6v3.3M386.4 184.2v6.6M388.0 2.0v26.5M388.0 31.8v36.4M388.0 71.6v46.4M388.0 121.3v43.1M388.0 167.7v16.6M388.0 187.5v13.3M389.6 2.0v13.3M389.6 18.6v6.6M389.6 35.1v3.3M389.6 41.8v3.3M389.6 48.4v3.3M389.6 58.3v16.6M389.6 78.2v3.3M389.6 84.8v19.9M389.6 108.0v3.3M389.6 114.7v16.6M389.6 134.5v3.3M389.6 141.2v23.2M389.6 167.7v19.9M389.6 190.9v3.3M389.6 197.5v3.3M392.7 55.0v3.3M392.7 177.6v3.3M394.3 98.1v3.3M394.3 118.0v6.6M394.3 154.4v3.3M399.1 2.0v9.9M399.1 15.3v13.3M399.1 35.1v16.6M399.1 55.0v9.9M399.1 71.6v3.3M399.1 78.2v9.9M399.1 91.5v3.3M399.1 98.1v16.6M399.1 118.0v6.6M399.1 127.9v3.3M399.1 137.8v3.3M399.1 144.5v3.3M399.1 157.7v3.3M399.1 164.4v6.6M399.1 177.6v6.6M399.1 187.5v6.6M399.1 197.5v3.3M400.7 18.6v3.3M400.7 88.1v3.3M400.7 121.3v3.3M403.9 2.0v3.3M403.9 11.9v3.3M403.9 31.8v3.3M403.9 38.4v6.6M403.9 61.6v3.3M403.9 68.3v3.3M403.9 78.2v6.6M403.9 88.1v6.6M403.9 98.1v6.6M403.9 108.0v3.3M403.9 121.3v6.6M403.9 131.2v6.6M403.9 144.5v3.3M403.9 157.7v3.3M403.9 187.5v3.3M403.9 197.5v3.3M405.5 2.0v26.5M405.5 31.8v16.6M405.5 51.7v6.6M405.5 61.6v3.3M405.5 68.3v26.5M405.5 98.1v49.7M405.5 151.1v49.7M410.2 2.0v3.3M410.2 8.6v13.3M410.2 25.2v6.6M410.2 38.4v6.6M410.2 48.4v3.3M410.2 55.0v9.9M410.2 68.3v3.3M410.2 74.9v9.9M410.2 88.1v6.6M410.2 98.1v29.8M410.2 131.2v9.9M410.2 144.5v6.6M410.2 154.4v3.3M410.2 161.0v23.2M410.2 187.5v13.3M411.8 2.0v26.5M411.8 31.8v16.6M411.8 51.7v13.3M411.8 68.3v26.5M411.8 98.1v63.0M411.8 164.4v3.3M411.8 174.3v26.5M413.4 38.4v3.3M413.4 74.9v3.3M413.4 101.4v3.3M413.4 144.5v3.3M414.9 84.8v3.3M418.0 18.6v3.3M418.0 31.8v3.3M419.6 111.3v3.3M419.6 174.3v3.3M421.2 2.0v19.9M421.2 25.2v3.3M421.2 31.8v13.3M421.2 51.7v9.9M421.2 68.3v26.5M421.2 98.1v6.6M421.2 111.3v9.9M421.2 124.6v13.3M421.2 141.2v6.6M421.2 151.1v6.6M421.2 161.0v6.6M421.2 171.0v9.9M421.2 184.2v9.9M422.7 2.0v9.9M422.7 15.3v23.2M422.7 41.8v6.6M422.7 51.7v13.3M422.7 68.3v16.6M422.7 88.1v6.6M422.7 98.1v3.3M422.7 104.7v6.6M422.7 114.7v6.6M422.7 124.6v19.9M422.7 151.1v16.6M422.7 171.0v29.8M424.3 55.0v3.3M424.3 167.7v3.3M425.8 197.5v3.3M427.4 2.0v13.3M427.4 18.6v13.3M427.4 35.1v13.3M427.4 51.7v26.5M427.4 84.8v3.3M427.4 91.5v3.3M427.4 98.1v13.3M427.4 114.7v6.6M427.4 124.6v6.6M427.4 134.5v13.3M427.4 151.1v13.3M427.4 167.7v33.1M429.0 71.6v3.3M433.5 2.0v23.2M433.5 31.8v19.9M433.5 55.0v3.3M433.5 61.6v3.3M433.5 78.2v6.6M433.5 88.1v13.3M433.5 104.7v16.6M433.5 124.6v39.8M433.5 167.7v9.9M433.5 180.9v6.6M433.5 190.9v9.9M435.1 51.7v3.3M435.1 131.2v3.3M435.1 164.4v3.3M436.7 2.0v3.3M436.7 15.3v3.3M436.7 25.2v3.3M436.7 31.8v3.3M436.7 41.8v9.9M436.7 55.0v3.3M436.7 71.6v3.3M436.7 81.5v3.3M436.7 98.1v6.6M436.7 114.7v6.6M436.7 124.6v9.9M436.7 157.7v3.3M436.7 164.4v6.6M436.7 184.2v3.3M436.7 190.9v6.6M439.9 61.6v3.3M439.9 134.5v3.3M439.9 141.2v3.3M439.9 177.6v3.3M441.5 11.9v3.3M441.5 41.8v3.3M441.5 68.3v6.6M441.5 108.0v3.3M441.5 137.8v3.3M443.2 5.3v9.9M443.2 21.9v6.6M443.2 35.1v6.6M443.2 51.7v3.3M443.2 58.3v6.6M443.2 78.2v6.6M443.2 91.5v3.3M443.2 108.0v3.3M443.2 118.0v3.3M443.2 131.2v6.6M443.2 141.2v6.6M443.2 151.1v3.3M443.2 161.0v6.6M443.2 171.0v3.3M443.2 177.6v6.6M443.2 190.9v3.3M443.2 197.5v3.3M444.8 5.3v3.3M444.8 11.9v6.6M444.8 21.9v6.6M444.8 31.8v16.6M444.8 51.7v9.9M444.8 68.3v9.9M444.8 88.1v3.3M444.8 94.8v13.3M444.8 114.7v6.6M444.8 124.6v3.3M444.8 137.8v6.6M444.8 147.8v19.9M444.8 174.3v3.3M444.8 184.2v16.6M446.4 2.0v6.6M446.4 15.3v3.3M446.4 21.9v3.3M446.4 38.4v6.6M446.4 51.7v6.6M446.4 68.3v3.3M446.4 74.9v6.6M446.4 88.1v3.3M446.4 94.8v6.6M446.4 111.3v6.6M446.4 124.6v3.3M446.4 131.2v3.3M446.4 137.8v9.9M446.4 151.1v6.6M446.4 167.7v3.3M446.4 184.2v3.3M446.4 194.2v3.3M449.6 144.5v3.3M449.6 187.5v3.3M451.3 5.3v3.3M451.3 18.6v3.3M451.3 25.2v9.9M451.3 38.4v3.3M451.3 51.7v3.3M451.3 84.8v13.3M451.3 101.4v3.3M451.3 108.0v3.3M451.3 114.7v3.3M451.3 124.6v6.6M451.3 134.5v3.3M451.3 144.5v3.3M451.3 151.1v3.3M451.3 157.7v3.3M451.3 167.7v3.3M451.3 180.9v3.3M451.3 187.5v3.3M451.3 194.2v6.6M452.9 8.6v3.3M452.9 25.2v3.3M452.9 51.7v3.3M452.9 98.1v3.3M452.9 111.3v6.6M452.9 124.6v3.3M452.9 141.2v3.3M452.9 151.1v3.3M452.9 167.7v3.3M464.4 11.9v3.3M464.4 88.1v3.3M464.4 134.5v3.3M464.4 184.2v3.3M464.4 197.5v3.3M467.6 2.0v46.4M467.6 55.0v3.3M467.6 61.6v39.8M467.6 104.7v96.1M469.2 21.9v3.3M469.2 45.1v3.3M469.2 61.6v3.3M469.2 68.3v3.3M469.2 111.3v6.6M469.2 131.2v6.6M469.2 190.9v6.6M472.3 21.9v3.3M472.3 31.8v3.3M472.3 38.4v6.6M472.3 55.0v3.3M472.3 68.3v3.3M472.3 74.9v3.3M472.3 94.8v3.3M472.3 118.0v3.3M472.3 131.2v3.3M472.3 144.5v3.3M472.3 151.1v6.6M472.3 167.7v3.3M472.3 194.2v3.3M473.9 2.0v26.5M473.9 31.8v26.5M473.9 61.6v9.9M473.9 74.9v36.4M473.9 114.7v33.1M473.9 151.1v16.6M473.9 171.0v29.8M478.6 2.0v72.9M478.6 78.2v16.6M478.6 101.4v46.4M478.6 151.1v19.9M478.6 174.3v9.9M478.6 187.5v13.3M480.2 5.3v3.3M480.2 11.9v3.3M480.2 25.2v9.9M480.2 51.7v3.3M480.2 71.6v6.6M480.2 121.3v9.9M480.2 134.5v6.6M480.2 171.0v3.3M480.2 177.6v9.9M480.2 190.9v6.6M481.8 2.0v6.6M481.8 28.5v6.6M481.8 38.4v3.3M481.8 61.6v6.6M481.8 71.6v3.3M481.8 78.2v3.3M481.8 88.1v6.6M481.8 101.4v3.3M481.8 108.0v6.6M481.8 118.0v9.9M481.8 141.2v6.6M481.8 151.1v3.3M481.8 164.4v3.3M481.8 171.0v6.6M481.8 180.9v3.3M481.8 187.5v3.3M481.8 194.2v6.6M483.4 55.0v3.3M483.4 91.5v3.3M483.4 121.3v3.3M483.4 147.8v3.3M487.9 41.8v3.3M487.9 108.0v3.3M489.5 2.0v3.3M489.5 8.6v19.9M489.5 31.8v16.6M489.5 51.7v6.6M489.5 61.6v3.3M489.5 68.3v26.5M489.5 98.1v3.3M489.5 104.7v92.8M491.1 2.0v16.6M491.1 21.9v6.6M491.1 31.8v6.6M491.1 41.8v6.6M491.1 51.7v6.6M491.1 61.6v3.3M491.1 68.3v16.6M491.1 88.1v6.6M491.1 98.1v3.3M491.1 104.7v3.3M491.1 111.3v9.9M491.1 124.6v69.6M491.1 197.5v3.3M492.7 15.3v3.3M492.7 38.4v6.6M492.7 58.3v3.3M492.7 68.3v6.6M492.7 91.5v3.3M492.7 98.1v3.3M492.7 104.7v9.9M492.7 118.0v3.3M492.7 127.9v13.3M492.7 157.7v3.3M492.7 171.0v16.6M492.7 194.2v6.6M494.2 2.0v19.9M494.2 25.2v39.8M494.2 68.3v26.5M494.2 98.1v3.3M494.2 104.7v16.6M494.2 124.6v76.2M495.8 8.6v3.3M495.8 25.2v3.3M495.8 51.7v3.3M495.8 111.3v6.6M495.8 137.8v3.3M495.8 147.8v6.6M495.8 171.0v3.3M495.8 177.6v6.6M495.8 197.5v3.3M497.4 2.0v16.6M497.4 35.1v3.3M497.4 41.8v6.6M497.4 71.6v23.2M497.4 98.1v3.3M497.4 104.7v6.6M497.4 118.0v3.3M497.4 124.6v23.2M497.4 151.1v6.6M497.4 161.0v3.3M497.4 174.3v13.3M497.4 194.2v6.6M499.0 2.0v6.6M499.0 11.9v13.3M499.0 28.5v16.6M499.0 55.0v3.3M499.0 71.6v3.3M499.0 78.2v6.6M499.0 91.5v3.3M499.0 98.1v3.3M499.0 104.7v13.3M499.0 124.6v16.6M499.0 151.1v19.9M499.0 174.3v13.3M499.0 190.9v3.3M499.0 197.5v3.3M500.6 2.0v3.3M500.6 104.7v3.3M500.6 124.6v3.3M500.6 190.9v3.3M502.1 2.0v29.8M502.1 35.1v13.3M502.1 51.7v6.6M502.1 61.6v3.3M502.1 68.3v26.5M502.1 98.1v3.3M502.1 104.7v16.6M502.1 124.6v63.0M502.1 190.9v9.9M503.7 5.3v3.3M503.7 15.3v6.6M503.7 31.8v3.3M503.7 41.8v6.6M503.7 51.7v6.6M503.7 71.6v3.3M503.7 81.5v3.3M503.7 98.1v3.3M503.7 104.7v3.3M503.7 111.3v3.3M503.7 124.6v9.9M503.7 137.8v3.3M503.7 144.5v9.9M503.7 171.0v13.3M503.7 194.2v3.3M505.3 171.0v3.3M506.9 21.9v3.3M506.9 45.1v3.3M506.9 55.0v3.3M506.9 124.6v3.3M506.9 131.2v3.3M506.9 144.5v3.3M506.9 164.4v6.6M506.9 174.3v9.9M506.9 194.2v6.6M508.4 15.3v3.3M508.4 21.9v6.6M508.4 45.1v6.6M508.4 55.0v3.3M508.4 71.6v3.3M508.4 81.5v6.6M508.4 98.1v3.3M508.4 118.0v3.3M508.4 124.6v3.3M508.4 144.5v3.3M508.4 157.7v6.6M508.4 167.7v3.3M508.4 190.9v3.3M511.6 5.3v23.2M511.6 31.8v3.3M511.6 41.8v6.6M511.6 51.7v6.6M511.6 61.6v59.6M511.6 124.6v49.7M511.6 177.6v23.2M513.2 11.9v3.3M513.2 38.4v3.3M513.2 74.9v6.6M513.2 134.5v3.3M513.2 141.2v3.3M513.2 147.8v3.3M513.2 157.7v3.3M513.2 174.3v3.3M513.2 184.2v3.3M513.2 197.5v3.3M517.8 2.0v26.5M517.8 31.8v46.4M517.8 81.5v19.9M517.8 104.7v46.4M517.8 157.7v23.2M517.8 184.2v3.3M517.8 190.9v9.9M519.4 2.0v9.9M519.4 18.6v9.9M519.4 31.8v26.5M519.4 61.6v3.3M519.4 68.3v9.9M519.4 81.5v3.3M519.4 88.1v6.6M519.4 114.7v3.3M519.4 121.3v13.3M519.4 137.8v13.3M519.4 154.4v6.6M519.4 167.7v3.3M519.4 174.3v3.3M519.4 180.9v3.3M519.4 187.5v3.3M519.4 194.2v3.3M521.1 2.0v26.5M521.1 31.8v16.6M521.1 51.7v13.3M521.1 68.3v53.0M521.1 124.6v19.9M521.1 147.8v3.3M521.1 154.4v46.4M524.4 2.0v3.3M524.4 21.9v3.3M524.4 41.8v3.3M524.4 51.7v3.3M524.4 61.6v3.3M524.4 68.3v3.3M524.4 81.5v9.9M524.4 114.7v3.3M524.4 127.9v3.3M524.4 137.8v3.3M524.4 144.5v3.3M524.4 154.4v3.3M524.4 161.0v3.3M524.4 171.0v3.3M524.4 180.9v9.9M526.1 51.7v3.3M526.1 61.6v3.3M526.1 88.1v3.3M526.1 104.7v3.3M526.1 131.2v3.3M526.1 151.1v3.3M526.1 187.5v3.3M527.8 2.0v63.0M527.8 68.3v26.5M527.8 98.1v23.2M527.8 124.6v19.9M527.8 147.8v33.1M527.8 184.2v16.6M529.4 15.3v6.6M529.4 25.2v3.3M529.4 58.3v3.3M529.4 84.8v3.3M529.4 111.3v3.3M529.4 121.3v3.3M529.4 131.2v3.3M529.4 137.8v3.3M529.4 144.5v3.3M529.4 157.7v13.3M529.4 187.5v3.3M531.1 111.3v3.3M532.7 2.0v53.0M532.7 58.3v6.6M532.7 68.3v26.5M532.7 98.1v56.3M532.7 157.7v43.1M534.4 5.3v9.9M534.4 18.6v39.8M534.4 61.6v3.3M534.4 68.3v3.3M534.4 74.9v3.3M534.4 81.5v13.3M534.4 98.1v9.9M534.4 111.3v9.9M534.4 124.6v9.9M534.4 137.8v6.6M534.4 147.8v39.8M534.4 190.9v6.6M537.7 8.6v13.3M537.7 25.2v3.3M537.7 38.4v6.6M537.7 55.0v3.3M537.7 61.6v9.9M537.7 74.9v9.9M537.7 88.1v6.6M537.7 98.1v9.9M537.7 111.3v9.9M537.7 124.6v9.9M537.7 137.8v3.3M537.7 144.5v13.3M537.7 177.6v6.6M537.7 187.5v6.6M537.7 197.5v3.3M542.5 15.3v3.3M542.5 137.8v3.3M542.5 151.1v3.3M542.5 157.7v3.3M544.1 2.0v6.6M544.1 15.3v3.3M544.1 31.8v3.3M544.1 55.0v3.3M544.1 71.6v3.3M544.1 84.8v9.9M544.1 104.7v3.3M544.1 114.7v6.6M544.1 127.9v3.3M544.1 137.8v13.3M544.1 157.7v3.3M544.1 171.0v3.3M544.1 177.6v3.3M544.1 184.2v3.3M544.1 190.9v3.3M544.1 197.5v3.3M545.8 2.0v19.9M545.8 31.8v6.6M545.8 41.8v3.3M545.8 51.7v6.6M545.8 68.3v9.9M545.8 81.5v3.3M545.8 88.1v3.3M545.8 104.7v3.3M545.8 111.3v6.6M545.8 131.2v9.9M545.8 151.1v6.6M545.8 161.0v13.3M545.8 177.6v3.3M545.8 184.2v9.9M545.8 197.5v3.3M547.5 21.9v3.3M547.5 48.4v3.3M547.5 177.6v3.3M549.1 5.3v6.6M549.1 21.9v3.3M549.1 31.8v6.6M549.1 41.8v6.6M549.1 58.3v6.6M549.1 68.3v13.3M549.1 84.8v3.3M549.1 91.5v3.3M549.1 98.1v3.3M549.1 111.3v3.3M549.1 124.6v3.3M549.1 131.2v3.3M549.1 144.5v3.3M549.1 151.1v3.3M549.1 161.0v16.6M549.1 187.5v3.3M549.1 194.2v3.3M555.8 2.0v63.0M555.8 68.3v13.3M555.8 84.8v9.9M555.8 104.7v16.6M555.8 124.6v23.2M555.8 151.1v13.3M555.8 167.7v9.9M555.8 180.9v19.9M557.4 71.6v3.3M557.4 190.9v3.3M559.1 88.1v6.6M559.1 187.5v3.3M560.8 38.4v3.3M564.1 2.0v46.4M564.1 51.7v3.3M564.1 61.6v29.8M564.1 94.8v6.6M564.1 104.7v43.1M564.1 151.1v16.6M564.1 171.0v6.6M564.1 180.9v3.3M564.1 187.5v13.3M565.8 81.5v3.3M565.8 108.0v3.3M567.4 5.3v3.3M567.4 11.9v3.3M567.4 18.6v9.9M567.4 31.8v6.6M567.4 41.8v3.3M567.4 48.4v9.9M567.4 61.6v3.3M567.4 68.3v29.8M567.4 104.7v3.3M567.4 111.3v19.9M567.4 134.5v13.3M567.4 157.7v3.3M567.4 164.4v16.6M567.4 187.5v3.3M567.4 197.5v3.3M578.4 2.0v3.3M578.4 8.6v3.3M578.4 15.3v9.9M578.4 31.8v26.5M578.4 61.6v16.6M578.4 84.8v9.9M578.4 98.1v3.3M578.4 104.7v3.3M578.4 111.3v3.3M578.4 118.0v3.3M578.4 127.9v13.3M578.4 144.5v19.9M578.4 167.7v6.6M578.4 177.6v3.3M578.4 184.2v3.3M578.4 190.9v6.6M581.6 35.1v6.6M581.6 51.7v6.6M581.6 61.6v6.6M581.6 74.9v3.3M581.6 84.8v3.3M581.6 91.5v3.3M581.6 104.7v3.3M581.6 114.7v3.3M581.6 124.6v6.6M581.6 134.5v6.6M581.6 147.8v6.6M581.6 184.2v3.3M583.1 5.3v3.3M583.1 11.9v16.6M583.1 35.1v3.3M583.1 41.8v3.3M583.1 61.6v3.3M583.1 71.6v16.6M583.1 91.5v3.3M583.1 104.7v9.9M583.1 118.0v3.3M583.1 127.9v6.6M583.1 144.5v3.3M583.1 161.0v3.3M583.1 167.7v3.3M583.1 177.6v3.3M583.1 184.2v3.3M583.1 190.9v6.6M584.7 2.0v6.6M584.7 11.9v26.5M584.7 45.1v3.3M584.7 51.7v6.6M584.7 61.6v53.0M584.7 118.0v82.8M586.3 131.2v3.3M587.9 41.8v3.3M587.9 48.4v3.3M587.9 55.0v3.3M587.9 84.8v3.3M587.9 91.5v6.6M587.9 108.0v3.3M587.9 127.9v6.6M587.9 154.4v3.3M587.9 174.3v3.3M587.9 180.9v6.6M587.9 197.5v3.3M592.6 134.5v3.3M595.9 5.3v3.3M595.9 18.6v3.3M595.9 154.4v3.3M595.9 161.0v3.3M599.1 104.7v3.3M599.1 154.4v3.3M600.8 45.1v3.3M600.8 98.1v3.3M600.8 144.5v3.3M600.8 161.0v3.3M600.8 171.0v3.3M600.8 197.5v3.3M602.4 2.0v6.6M602.4 11.9v16.6M602.4 31.8v6.6M602.4 41.8v6.6M602.4 51.7v6.6M602.4 61.6v23.2M602.4 88.1v6.6M602.4 98.1v3.3M602.4 104.7v16.6M602.4 124.6v23.2M602.4 151.1v49.7M604.1 5.3v3.3M604.1 101.4v3.3M604.1 111.3v3.3M604.1 141.2v3.3M605.7 2.0v26.5M605.7 31.8v3.3M605.7 38.4v6.6M605.7 51.7v6.6M605.7 61.6v33.1M605.7 98.1v3.3M605.7 104.7v16.6M605.7 124.6v23.2M605.7 151.1v43.1M605.7 197.5v3.3M607.3 2.0v26.5M607.3 35.1v13.3M607.3 51.7v6.6M607.3 61.6v9.9M607.3 74.9v3.3M607.3 81.5v9.9M607.3 98.1v23.2M607.3 124.6v23.2M607.3 151.1v29.8M607.3 184.2v16.6M615.2 2.0v6.6M615.2 25.2v6.6M615.2 38.4v6.6M615.2 55.0v6.6M615.2 74.9v9.9M615.2 98.1v3.3M615.2 104.7v3.3M615.2 111.3v3.3M615.2 124.6v3.3M615.2 134.5v3.3M615.2 154.4v6.6M615.2 164.4v6.6M615.2 174.3v3.3M615.2 180.9v9.9M615.2 194.2v6.6M616.8 2.0v6.6M616.8 18.6v3.3M616.8 25.2v3.3M616.8 31.8v16.6M616.8 55.0v3.3M616.8 68.3v29.8M616.8 104.7v13.3M616.8 124.6v3.3M616.8 131.2v9.9M616.8 157.7v26.5M616.8 187.5v13.3M618.4 2.0v26.5M618.4 31.8v13.3M618.4 51.7v13.3M618.4 68.3v19.9M618.4 91.5v9.9M618.4 104.7v16.6M618.4 124.6v23.2M618.4 154.4v46.4M621.6 2.0v13.3M621.6 18.6v9.9M621.6 31.8v16.6M621.6 51.7v13.3M621.6 68.3v23.2M621.6 94.8v6.6M621.6 104.7v16.6M621.6 124.6v13.3M621.6 141.2v26.5M621.6 171.0v29.8M623.2 5.3v6.6M623.2 15.3v3.3M623.2 21.9v6.6M623.2 31.8v16.6M623.2 55.0v9.9M623.2 68.3v33.1M623.2 104.7v6.6M623.2 114.7v6.6M623.2 124.6v76.2M624.8 2.0v19.9M624.8 31.8v16.6M624.8 51.7v13.3M624.8 68.3v33.1M624.8 108.0v92.8M626.4 2.0v3.3M626.4 15.3v3.3M626.4 21.9v3.3M626.4 38.4v3.3M626.4 55.0v6.6M626.4 88.1v3.3M626.4 114.7v3.3M626.4 124.6v6.6M626.4 134.5v3.3M626.4 164.4v3.3M626.4 187.5v13.3M628.0 2.0v3.3M628.0 8.6v3.3M628.0 15.3v3.3M628.0 25.2v3.3M628.0 31.8v16.6M628.0 51.7v9.9M628.0 68.3v33.1M628.0 104.7v86.1M628.0 197.5v3.3M629.6 91.5v3.3M631.2 31.8v3.3M631.2 98.1v3.3M631.2 134.5v3.3M635.6 5.3v3.3M635.6 35.1v3.3M635.6 141.2v3.3M635.6 157.7v3.3M635.6 177.6v3.3M637.2 2.0v3.3M637.2 11.9v3.3M637.2 21.9v3.3M637.2 41.8v9.9M637.2 65.0v6.6M637.2 88.1v6.6M637.2 98.1v3.3M637.2 108.0v6.6M637.2 134.5v3.3M637.2 147.8v3.3M637.2 171.0v3.3M638.9 35.1v3.3M638.9 71.6v6.6M638.9 111.3v3.3M638.9 157.7v3.3M638.9 197.5v3.3M640.5 8.6v3.3M640.5 118.0v3.3M640.5 144.5v3.3M645.5 127.9v3.3M645.5 184.2v3.3M647.2 48.4v3.3M647.2 88.1v3.3M650.5 15.3v3.3M650.5 51.7v3.3M653.8 8.6v9.9M653.8 21.9v3.3M653.8 31.8v3.3M653.8 38.4v3.3M653.8 48.4v3.3M653.8 71.6v3.3M653.8 78.2v3.3M653.8 84.8v3.3M653.8 157.7v3.3M653.8 184.2v3.3M653.8 194.2v3.3M655.5 5.3v3.3M655.5 31.8v3.3M655.5 194.2v3.3M657.1 71.6v3.3M657.1 147.8v3.3M660.4 2.0v9.9M660.4 15.3v23.2M660.4 41.8v16.6M660.4 61.6v33.1M660.4 98.1v3.3M660.4 104.7v39.8M660.4 147.8v29.8M660.4 180.9v3.3M660.4 187.5v13.3M666.9 38.4v3.3M666.9 51.7v3.3M666.9 151.1v3.3M668.5 61.6v3.3M668.5 91.5v3.3M668.5 141.2v3.3M668.5 161.0v3.3M668.5 174.3v3.3M670.2 127.9v6.6M670.2 144.5v3.3M671.9 2.0v3.3M671.9 8.6v26.5M671.9 38.4v13.3M671.9 55.0v3.3M671.9 61.6v39.8M671.9 108.0v19.9M671.9 134.5v13.3M671.9 151.1v49.7M673.6 104.7v3.3M673.6 127.9v3.3M673.6 141.2v3.3M678.6 98.1v3.3M678.6 131.2v3.3M678.6 154.4v3.3"/>
<path stroke="rgb(30, 130, 250)" stroke-width="1.15" stroke-opacity="0.180" d="M245.7 2.0v13.3M245.7 18.6v3.3M245.7 31.8v16.6M245.7 55.0v3.3M245.7 61.6v33.1M245.7 98.1v3.3M245.7 104.7v16.6M245.7 124.6v13.3M245.7 141.2v3.3M245.7 147.8v16.6M245.7 171.0v26.5M247.3 8.6v3.3M247.3 18.6v3.3M247.3 61.6v3.3M247.3 74.9v3.3M247.3 177.6v3.3M248.9 15.3v3.3M248.9 31.8v3.3M248.9 38.4v9.9M248.9 61.6v6.6M248.9 81.5v6.6M248.9 94.8v3.3M248.9 108.0v3.3M248.9 114.7v6.6M248.9 124.6v3.3M248.9 167.7v3.3M250.5 2.0v9.9M250.5 15.3v9.9M250.5 28.5v3.3M250.5 35.1v6.6M250.5 45.1v3.3M250.5 51.7v6.6M250.5 61.6v13.3M250.5 81.5v9.9M250.5 94.8v3.3M250.5 104.7v3.3M250.5 114.7v6.6M250.5 124.6v9.9M250.5 137.8v3.3M250.5 144.5v3.3M250.5 154.4v46.4M252.1 5.3v6.6M252.1 15.3v3.3M252.1 28.5v3.3M252.1 35.1v13.3M252.1 51.7v6.6M252.1 61.6v3.3M252.1 68.3v9.9M252.1 81.5v36.4M252.1 127.9v19.9M252.1 151.1v6.6M252.1 164.4v9.9M252.1 177.6v3.3M252.1 184.2v16.6M253.8 18.6v3.3M253.8 31.8v3.3M253.8 55.0v9.9M253.8 108.0v3.3M253.8 127.9v3.3M253.8 137.8v3.3M253.8 161.0v3.3M253.8 180.9v3.3M257.0 2.0v3.3M257.0 61.6v3.3M257.0 98.1v3.3M257.0 104.7v3.3M257.0 151.1v3.3M257.0 197.5v3.3M258.6 2.0v3.3M258.6 8.6v6.6M258.6 18.6v6.6M258.6 45.1v3.3M258.6 61.6v3.3M258.6 84.8v3.3M258.6 91.5v6.6M258.6 101.4v3.3M258.6 121.3v3.3M258.6 137.8v3.3M258.6 157.7v16.6M258.6 184.2v16.6M260.3 15.3v6.6M260.3 31.8v9.9M260.3 45.1v3.3M260.3 51.7v6.6M260.3 71.6v3.3M260.3 88.1v3.3M260.3 94.8v3.3M260.3 104.7v3.3M260.3 118.0v3.3M260.3 127.9v3.3M260.3 157.7v6.6M260.3 171.0v3.3M260.3 177.6v3.3M260.3 190.9v6.6M263.5 2.0v9.9M263.5 15.3v3.3M263.5 21.9v6.6M263.5 31.8v9.9M263.5 45.1v39.8M263.5 91.5v6.6M263.5 101.4v6.6M263.5 111.3v13.3M263.5 127.9v6.6M263.5 137.8v9.9M263.5 154.4v3.3M263.5 161.0v6.6M263.5 171.0v29.8M268.4 5.3v9.9M268.4 18.6v9.9M268.4 31.8v16.6M268.4 51.7v3.3M268.4 61.6v3.3M268.4 68.3v3.3M268.4 74.9v9.9M268.4 88.1v3.3M268.4 98.1v13.3M268.4 114.7v6.6M268.4 124.6v3.3M268.4 134.5v6.6M268.4 151.1v16.6M268.4 174.3v16.6M268.4 194.2v6.6M273.2 5.3v3.3M273.2 18.6v3.3M273.2 25.2v3.3M273.2 35.1v6.6M273.2 48.4v3.3M273.2 68.3v6.6M273.2 84.8v3.3M273.2 98.1v6.6M273.2 111.3v3.3M273.2 124.6v9.9M273.2 141.2v3.3M273.2 154.4v16.6M273.2 174.3v13.3M273.2 190.9v3.3M273.2 197.5v3.3M274.9 2.0v6.6M274.9 25.2v3.3M274.9 127.9v3.3M274.9 154.4v3.3M274.9 167.7v6.6M274.9 197.5v3.3M276.5 8.6v3.3M276.5 55.0v3.3M276.5 61.6v6.6M276.5 71.6v13.3M276.5 111.3v3.3M276.5 134.5v3.3M276.5 154.4v3.3M276.5 167.7v3.3M276.5 174.3v3.3M276.5 184.2v3.3M276.5 194.2v3.3M278.1 8.6v3.3M278.1 45.1v3.3M278.1 157.7v3.3M278.1 180.9v3.3M279.7 2.0v23.2M279.7 28.5v19.9M279.7 51.7v6.6M279.7 61.6v6.6M279.7 71.6v16.6M279.7 91.5v3.3M279.7 98.1v3.3M279.7 104.7v19.9M279.7 127.9v19.9M279.7 151.1v16.6M279.7 177.6v13.3M279.7 194.2v6.6M281.3 2.0v6.6M281.3 11.9v6.6M281.3 28.5v6.6M281.3 41.8v6.6M281.3 55.0v3.3M281.3 61.6v6.6M281.3 71.6v6.6M281.3 81.5v6.6M281.3 104.7v3.3M281.3 111.3v16.6M281.3 131.2v9.9M281.3 144.5v3.3M281.3 151.1v6.6M281.3 171.0v9.9M281.3 184.2v3.3M281.3 190.9v9.9M287.6 2.0v3.3M287.6 8.6v29.8M287.6 45.1v3.3M287.6 51.7v6.6M287.6 65.0v9.9M287.6 78.2v3.3M287.6 88.1v3.3M287.6 98.1v13.3M287.6 114.7v3.3M287.6 131.2v16.6M287.6 157.7v16.6M287.6 177.6v3.3M287.6 187.5v6.6M287.6 197.5v3.3M289.2 2.0v6.6M289.2 11.9v13.3M289.2 28.5v3.3M289.2 35.1v13.3M289.2 55.0v9.9M289.2 71.6v13.3M289.2 91.5v3.3M289.2 98.1v3.3M289.2 108.0v13.3M289.2 124.6v6.6M289.2 134.5v3.3M289.2 141.2v6.6M289.2 151.1v3.3M289.2 164.4v9.9M289.2 177.6v6.6M289.2 187.5v13.3M290.9 2.0v6.6M290.9 11.9v16.6M290.9 35.1v13.3M290.9 51.7v6.6M290.9 61.6v3.3M290.9 68.3v26.5M290.9 98.1v3.3M290.9 104.7v13.3M290.9 124.6v23.2M290.9 154.4v3.3M290.9 161.0v13.3M290.9 177.6v3.3M290.9 184.2v13.3M294.1 2.0v9.9M294.1 15.3v3.3M294.1 21.9v3.3M294.1 45.1v3.3M294.1 74.9v3.3M294.1 81.5v3.3M294.1 88.1v13.3M294.1 104.7v3.3M294.1 111.3v3.3M294.1 124.6v3.3M294.1 137.8v9.9M294.1 157.7v3.3M294.1 164.4v6.6M294.1 174.3v3.3M294.1 197.5v3.3M295.7 180.9v3.3M297.4 2.0v6.6M297.4 25.2v3.3M297.4 31.8v6.6M297.4 41.8v3.3M297.4 51.7v3.3M297.4 68.3v6.6M297.4 84.8v9.9M297.4 101.4v6.6M297.4 111.3v9.9M297.4 134.5v3.3M297.4 141.2v3.3M297.4 154.4v6.6M297.4 167.7v3.3M297.4 177.6v6.6M297.4 187.5v3.3M302.2 8.6v3.3M302.2 25.2v3.3M302.2 35.1v3.3M302.2 51.7v3.3M302.2 61.6v6.6M302.2 78.2v6.6M302.2 88.1v3.3M302.2 98.1v3.3M302.2 111.3v6.6M302.2 127.9v6.6M302.2 157.7v6.6M302.2 167.7v6.6M302.2 184.2v6.6M303.9 2.0v26.5M303.9 31.8v9.9M303.9 45.1v6.6M303.9 65.0v6.6M303.9 78.2v3.3M303.9 94.8v6.6M303.9 111.3v3.3M303.9 118.0v3.3M303.9 127.9v3.3M303.9 137.8v3.3M303.9 144.5v3.3M303.9 151.1v3.3M303.9 161.0v13.3M303.9 180.9v9.9M303.9 194.2v6.6M305.5 2.0v3.3M305.5 8.6v3.3M305.5 15.3v9.9M305.5 31.8v16.6M305.5 51.7v6.6M305.5 68.3v16.6M305.5 94.8v6.6M305.5 104.7v13.3M305.5 124.6v6.6M305.5 141.2v6.6M305.5 151.1v6.6M305.5 161.0v3.3M305.5 167.7v13.3M305.5 184.2v3.3M305.5 190.9v9.9M307.1 8.6v19.9M307.1 31.8v6.6M307.1 41.8v43.1M307.1 88.1v9.9M307.1 104.7v9.9M307.1 118.0v3.3M307.1 127.9v23.2M307.1 154.4v13.3M307.1 171.0v23.2M307.1 197.5v3.3M315.1 8.6v3.3M315.1 15.3v3.3M315.1 21.9v9.9M315.1 38.4v3.3M315.1 51.7v3.3M315.1 58.3v3.3M315.1 71.6v29.8M315.1 104.7v3.3M315.1 114.7v3.3M315.1 124.6v3.3M315.1 131.2v6.6M315.1 144.5v9.9M315.1 161.0v6.6M315.1 171.0v16.6M315.1 190.9v9.9M318.4 2.0v3.3M318.4 8.6v23.2M318.4 38.4v3.3M318.4 45.1v13.3M318.4 61.6v3.3M318.4 68.3v23.2M318.4 94.8v6.6M318.4 104.7v26.5M318.4 134.5v39.8M318.4 177.6v23.2M320.1 18.6v3.3M320.1 58.3v3.3M323.4 2.0v3.3M323.4 8.6v39.8M323.4 51.7v6.6M323.4 61.6v3.3M323.4 68.3v9.9M323.4 81.5v6.6M323.4 91.5v9.9M323.4 104.7v33.1M323.4 141.2v33.1M323.4 177.6v13.3M323.4 194.2v6.6M330.0 2.0v3.3M330.0 25.2v3.3M330.0 35.1v3.3M330.0 61.6v3.3M330.0 71.6v3.3M330.0 124.6v6.6M330.0 151.1v3.3M336.7 11.9v9.9M336.7 25.2v3.3M336.7 31.8v16.6M336.7 51.7v6.6M336.7 61.6v6.6M336.7 71.6v3.3M336.7 81.5v9.9M336.7 101.4v19.9M336.7 124.6v9.9M336.7 137.8v3.3M336.7 144.5v3.3M336.7 151.1v23.2M336.7 177.6v9.9M336.7 194.2v3.3M338.3 15.3v3.3M338.3 31.8v3.3M338.3 51.7v3.3M338.3 144.5v3.3M338.3 180.9v3.3M341.7 11.9v3.3M341.7 68.3v3.3M341.7 84.8v3.3M341.7 108.0v3.3M341.7 127.9v9.9M341.7 151.1v3.3M341.7 164.4v3.3M341.7 174.3v3.3M341.7 184.2v3.3M341.7 194.2v3.3M343.3 18.6v3.3M343.3 35.1v3.3M343.3 41.8v3.3M343.3 51.7v3.3M343.3 65.0v9.9M343.3 84.8v3.3M343.3 94.8v3.3M343.3 131.2v3.3M343.3 137.8v3.3M343.3 147.8v3.3M343.3 190.9v3.3M343.3 197.5v3.3M348.4 2.0v13.3M348.4 18.6v9.9M348.4 31.8v6.6M348.4 41.8v6.6M348.4 51.7v13.3M348.4 68.3v16.6M348.4 88.1v13.3M348.4 104.7v6.6M348.4 114.7v3.3M348.4 121.3v19.9M348.4 144.5v9.9M348.4 157.7v13.3M348.4 174.3v3.3M348.4 180.9v3.3M348.4 187.5v3.3M348.4 194.2v3.3M351.6 5.3v23.2M351.6 31.8v13.3M351.6 48.4v6.6M351.6 61.6v3.3M351.6 68.3v6.6M351.6 78.2v23.2M351.6 104.7v3.3M351.6 114.7v26.5M351.6 144.5v33.1M351.6 184.2v3.3M351.6 190.9v9.9M354.8 11.9v3.3M354.8 21.9v3.3M354.8 35.1v3.3M354.8 111.3v3.3M354.8 118.0v6.6M354.8 127.9v3.3M354.8 154.4v3.3M354.8 177.6v3.3M358.1 21.9v3.3M358.1 28.5v3.3M358.1 41.8v3.3M358.1 91.5v3.3M358.1 104.7v6.6M358.1 131.2v3.3M358.1 141.2v3.3M358.1 147.8v3.3M358.1 164.4v3.3M358.1 184.2v3.3M358.1 197.5v3.3M361.2 71.6v6.6M361.2 194.2v6.6M364.4 5.3v3.3M364.4 184.2v3.3M366.0 78.2v3.3M366.0 94.8v3.3M366.0 157.7v3.3M366.0 197.5v3.3M369.2 190.9v3.3M372.4 15.3v3.3M372.4 28.5v3.3M372.4 45.1v3.3M372.4 55.0v3.3M372.4 68.3v3.3M372.4 74.9v9.9M372.4 98.1v9.9M372.4 114.7v3.3M372.4 127.9v6.6M372.4 141.2v3.3M372.4 154.4v3.3M372.4 161.0v6.6M372.4 171.0v3.3M372.4 180.9v6.6M372.4 194.2v6.6M374.0 5.3v6.6M374.0 15.3v3.3M374.0 35.1v19.9M374.0 65.0v3.3M374.0 74.9v3.3M374.0 84.8v3.3M374.0 94.8v3.3M374.0 101.4v3.3M374.0 108.0v6.6M374.0 118.0v3.3M374.0 127.9v6.6M374.0 144.5v3.3M374.0 154.4v6.6M374.0 167.7v6.6M374.0 180.9v3.3M378.4 5.3v9.9M378.4 18.6v16.6M378.4 38.4v3.3M378.4 45.1v3.3M378.4 51.7v6.6M378.4 61.6v3.3M378.4 68.3v19.9M378.4 94.8v16.6M378.4 114.7v23.2M378.4 141.2v6.6M378.4 151.1v3.3M378.4 161.0v39.8M381.6 5.3v3.3M381.6 11.9v46.4M381.6 61.6v9.9M381.6 78.2v6.6M381.6 88.1v33.1M381.6 124.6v23.2M381.6 151.1v16.6M381.6 171.0v3.3M381.6 177.6v3.3M381.6 187.5v13.3M383.2 2.0v3.3M383.2 31.8v3.3M383.2 61.6v3.3M383.2 71.6v3.3M383.2 88.1v3.3M383.2 98.1v3.3M383.2 111.3v3.3M383.2 124.6v3.3M383.2 154.4v6.6M383.2 167.7v3.3M383.2 174.3v3.3M383.2 180.9v3.3M383.2 194.2v6.6M386.4 2.0v13.3M386.4 21.9v6.6M386.4 31.8v9.9M386.4 45.1v6.6M386.4 55.0v43.1M386.4 104.7v19.9M386.4 127.9v23.2M386.4 157.7v19.9M386.4 180.9v3.3M386.4 190.9v9.9M389.6 15.3v3.3M389.6 25.2v3.3M389.6 31.8v3.3M389.6 38.4v3.3M389.6 45.1v3.3M389.6 51.7v3.3M389.6 74.9v3.3M389.6 81.5v3.3M389.6 104.7v3.3M389.6 111.3v3.3M389.6 131.2v3.3M389.6 164.4v3.3M389.6 187.5v3.3M391.2 151.1v3.3M392.7 11.9v3.3M392.7 31.8v3.3M392.7 151.1v3.3M394.3 2.0v6.6M394.3 11.9v16.6M394.3 38.4v3.3M394.3 48.4v3.3M394.3 68.3v3.3M394.3 78.2v13.3M394.3 104.7v6.6M394.3 114.7v3.3M394.3 124.6v6.6M394.3 141.2v6.6M394.3 151.1v3.3M394.3 157.7v13.3M394.3 177.6v23.2M397.5 25.2v3.3M399.1 11.9v3.3M399.1 31.8v3.3M399.1 51.7v3.3M399.1 68.3v3.3M399.1 74.9v3.3M399.1 88.1v3.3M399.1 114.7v3.3M399.1 124.6v3.3M399.1 131.2v3.3M399.1 141.2v3.3M399.1 151.1v6.6M399.1 161.0v3.3M399.1 171.0v6.6M399.1 184.2v3.3M399.1 194.2v3.3M400.7 161.0v3.3M402.3 55.0v3.3M402.3 167.7v3.3M403.9 5.3v6.6M403.9 15.3v13.3M403.9 35.1v3.3M403.9 48.4v9.9M403.9 65.0v3.3M403.9 74.9v3.3M403.9 84.8v3.3M403.9 104.7v3.3M403.9 111.3v9.9M403.9 127.9v3.3M403.9 137.8v6.6M403.9 154.4v3.3M403.9 161.0v26.5M403.9 190.9v6.6M410.2 5.3v3.3M410.2 21.9v3.3M410.2 31.8v6.6M410.2 45.1v3.3M410.2 51.7v3.3M410.2 65.0v3.3M410.2 71.6v3.3M410.2 84.8v3.3M410.2 94.8v3.3M410.2 127.9v3.3M410.2 141.2v3.3M410.2 157.7v3.3M410.2 184.2v3.3M413.4 2.0v3.3M413.4 8.6v9.9M413.4 21.9v3.3M413.4 45.1v3.3M413.4 55.0v9.9M413.4 68.3v3.3M413.4 78.2v3.3M413.4 84.8v3.3M413.4 91.5v3.3M413.4 114.7v3.3M413.4 121.3v3.3M413.4 131.2v6.6M413.4 141.2v3.3M413.4 151.1v29.8M413.4 190.9v9.9M414.9 18.6v3.3M414.9 31.8v3.3M414.9 41.8v3.3M414.9 101.4v3.3M416.5 38.4v3.3M416.5 74.9v3.3M418.0 2.0v6.6M418.0 11.9v6.6M418.0 21.9v6.6M418.0 35.1v6.6M418.0 51.7v9.9M418.0 68.3v9.9M418.0 81.5v6.6M418.0 98.1v23.2M418.0 124.6v3.3M418.0 131.2v16.6M418.0 151.1v23.2M418.0 177.6v3.3M418.0 184.2v16.6M419.6 2.0v9.9M419.6 15.3v13.3M419.6 31.8v3.3M419.6 41.8v6.6M419.6 51.7v6.6M419.6 71.6v23.2M419.6 108.0v3.3M419.6 127.9v3.3M419.6 134.5v13.3M419.6 151.1v23.2M419.6 177.6v23.2M424.3 5.3v3.3M424.3 11.9v3.3M424.3 25.2v3.3M424.3 41.8v3.3M424.3 51.7v3.3M424.3 84.8v3.3M424.3 124.6v3.3M424.3 131.2v3.3M424.3 164.4v3.3M424.3 171.0v3.3M425.8 5.3v9.9M425.8 25.2v3.3M425.8 38.4v9.9M425.8 51.7v3.3M425.8 78.2v3.3M425.8 104.7v6.6M425.8 124.6v3.3M425.8 134.5v3.3M425.8 141.2v6.6M425.8 151.1v3.3M425.8 164.4v6.6M425.8 177.6v3.3M425.8 187.5v6.6M429.0 5.3v56.3M429.0 65.0v6.6M429.0 74.9v9.9M429.0 91.5v26.5M429.0 124.6v13.3M429.0 141.2v6.6M429.0 151.1v3.3M429.0 157.7v3.3M429.0 164.4v9.9M429.0 177.6v23.2M433.5 25.2v3.3M433.5 51.7v3.3M433.5 58.3v3.3M433.5 68.3v9.9M433.5 177.6v3.3M435.1 5.3v6.6M435.1 15.3v3.3M435.1 25.2v3.3M435.1 31.8v19.9M435.1 58.3v3.3M435.1 68.3v3.3M435.1 81.5v3.3M435.1 88.1v3.3M435.1 94.8v6.6M435.1 104.7v16.6M435.1 124.6v6.6M435.1 134.5v29.8M435.1 167.7v13.3M435.1 187.5v6.6M435.1 197.5v3.3M438.3 101.4v3.3M439.9 2.0v19.9M439.9 25.2v19.9M439.9 51.7v3.3M439.9 58.3v3.3M439.9 68.3v6.6M439.9 78.2v3.3M439.9 84.8v19.9M439.9 108.0v13.3M439.9 127.9v3.3M439.9 137.8v3.3M439.9 147.8v3.3M439.9 157.7v19.9M439.9 187.5v13.3M441.5 2.0v9.9M441.5 18.6v3.3M441.5 25.2v16.6M441.5 45.1v3.3M441.5 51.7v3.3M441.5 58.3v3.3M441.5 74.9v3.3M441.5 81.5v3.3M441.5 88.1v9.9M441.5 104.7v3.3M441.5 114.7v6.6M441.5 127.9v9.9M441.5 141.2v3.3M441.5 147.8v9.9M441.5 161.0v3.3M441.5 171.0v29.8M448.0 118.0v3.3M449.6 2.0v3.3M449.6 11.9v3.3M449.6 25.2v19.9M449.6 51.7v9.9M449.6 71.6v3.3M449.6 81.5v9.9M449.6 94.8v3.3M449.6 101.4v13.3M449.6 124.6v9.9M449.6 137.8v6.6M449.6 154.4v3.3M449.6 161.0v3.3M449.6 167.7v19.9M449.6 190.9v9.9M451.3 2.0v3.3M451.3 8.6v9.9M451.3 21.9v3.3M451.3 35.1v3.3M451.3 45.1v3.3M451.3 55.0v9.9M451.3 68.3v3.3M451.3 74.9v9.9M451.3 98.1v3.3M451.3 104.7v3.3M451.3 111.3v3.3M451.3 118.0v3.3M451.3 131.2v3.3M451.3 137.8v6.6M451.3 147.8v3.3M451.3 154.4v3.3M451.3 161.0v6.6M451.3 174.3v6.6M451.3 184.2v3.3M451.3 190.9v3.3M452.9 5.3v3.3M452.9 11.9v13.3M452.9 28.5v6.6M452.9 38.4v9.9M452.9 55.0v3.3M452.9 61.6v3.3M452.9 68.3v19.9M452.9 91.5v6.6M452.9 101.4v9.9M452.9 118.0v3.3M452.9 127.9v13.3M452.9 144.5v6.6M452.9 154.4v13.3M452.9 171.0v29.8M454.5 8.6v3.3M454.5 91.5v3.3M454.5 101.4v3.3M457.7 137.8v3.3M464.4 68.3v3.3M464.4 74.9v3.3M464.4 98.1v3.3M464.4 108.0v3.3M464.4 118.0v3.3M464.4 141.2v3.3M464.4 190.9v3.3M466.0 137.8v3.3M469.2 5.3v16.6M469.2 25.2v13.3M469.2 41.8v3.3M469.2 51.7v6.6M469.2 65.0v3.3M469.2 71.6v13.3M469.2 88.1v23.2M469.2 118.0v3.3M469.2 124.6v6.6M469.2 137.8v39.8M469.2 180.9v6.6M469.2 197.5v3.3M470.7 124.6v3.3M470.7 154.4v3.3M472.3 2.0v19.9M472.3 25.2v3.3M472.3 35.1v3.3M472.3 45.1v9.9M472.3 61.6v6.6M472.3 71.6v3.3M472.3 78.2v16.6M472.3 98.1v6.6M472.3 108.0v9.9M472.3 121.3v9.9M472.3 134.5v9.9M472.3 157.7v6.6M472.3 171.0v23.2M472.3 197.5v3.3M477.1 8.6v3.3M477.1 78.2v6.6M478.6 74.9v3.3M478.6 98.1v3.3M481.8 8.6v19.9M481.8 35.1v3.3M481.8 41.8v19.9M481.8 68.3v3.3M481.8 74.9v3.3M481.8 81.5v6.6M481.8 98.1v3.3M481.8 104.7v3.3M481.8 114.7v3.3M481.8 127.9v13.3M481.8 154.4v9.9M481.8 167.7v3.3M481.8 177.6v3.3M481.8 184.2v3.3M481.8 190.9v3.3M483.4 2.0v46.4M483.4 51.7v3.3M483.4 58.3v3.3M483.4 65.0v26.5M483.4 98.1v23.2M483.4 124.6v23.2M483.4 151.1v49.7M487.9 5.3v19.9M487.9 31.8v3.3M487.9 38.4v3.3M487.9 45.1v3.3M487.9 51.7v3.3M487.9 61.6v3.3M487.9 68.3v6.6M487.9 81.5v3.3M487.9 104.7v3.3M487.9 111.3v13.3M487.9 127.9v6.6M487.9 137.8v6.6M487.9 147.8v3.3M487.9 154.4v3.3M487.9 164.4v13.3M487.9 180.9v19.9M492.7 2.0v13.3M492.7 18.6v3.3M492.7 25.2v3.3M492.7 31.8v6.6M492.7 45.1v3.3M492.7 55.0v3.3M492.7 61.6v3.3M492.7 74.9v16.6M492.7 114.7v3.3M492.7 124.6v3.3M492.7 141.2v16.6M492.7 161.0v9.9M492.7 187.5v6.6M495.8 2.0v6.6M495.8 11.9v13.3M495.8 28.5v23.2M495.8 55.0v3.3M495.8 61.6v3.3M495.8 68.3v26.5M495.8 98.1v3.3M495.8 104.7v6.6M495.8 118.0v3.3M495.8 124.6v13.3M495.8 141.2v6.6M495.8 154.4v16.6M495.8 174.3v3.3M495.8 184.2v13.3M499.0 8.6v3.3M499.0 25.2v3.3M499.0 45.1v3.3M499.0 51.7v3.3M499.0 61.6v3.3M499.0 68.3v3.3M499.0 74.9v3.3M499.0 84.8v6.6M499.0 118.0v3.3M499.0 141.2v9.9M499.0 171.0v3.3M499.0 187.5v3.3M499.0 194.2v3.3M500.6 5.3v3.3M500.6 11.9v3.3M500.6 31.8v6.6M500.6 55.0v3.3M500.6 91.5v3.3M500.6 98.1v3.3M500.6 108.0v3.3M500.6 134.5v9.9M500.6 147.8v3.3M500.6 171.0v3.3M500.6 177.6v3.3M500.6 194.2v3.3M503.7 2.0v3.3M503.7 8.6v6.6M503.7 21.9v9.9M503.7 35.1v6.6M503.7 61.6v3.3M503.7 68.3v3.3M503.7 74.9v6.6M503.7 88.1v6.6M503.7 108.0v3.3M503.7 114.7v6.6M503.7 134.5v3.3M503.7 141.2v3.3M503.7 154.4v16.6M503.7 184.2v9.9M503.7 197.5v3.3M505.3 2.0v3.3M505.3 11.9v6.6M505.3 131.2v3.3M506.9 2.0v9.9M506.9 15.3v6.6M506.9 28.5v3.3M506.9 35.1v9.9M506.9 48.4v6.6M506.9 61.6v3.3M506.9 68.3v26.5M506.9 98.1v23.2M506.9 127.9v3.3M506.9 134.5v9.9M506.9 147.8v6.6M506.9 157.7v6.6M506.9 171.0v3.3M506.9 184.2v9.9M508.4 2.0v13.3M508.4 18.6v3.3M508.4 28.5v16.6M508.4 51.7v3.3M508.4 61.6v9.9M508.4 74.9v6.6M508.4 88.1v9.9M508.4 101.4v6.6M508.4 111.3v6.6M508.4 127.9v16.6M508.4 147.8v6.6M508.4 171.0v19.9M508.4 194.2v6.6M510.0 8.6v3.3M510.0 21.9v3.3M510.0 144.5v3.3M513.2 2.0v9.9M513.2 15.3v13.3M513.2 35.1v3.3M513.2 41.8v6.6M513.2 51.7v3.3M513.2 61.6v13.3M513.2 84.8v49.7M513.2 137.8v3.3M513.2 151.1v6.6M513.2 161.0v13.3M513.2 177.6v6.6M513.2 187.5v9.9M524.4 5.3v16.6M524.4 25.2v16.6M524.4 45.1v6.6M524.4 55.0v6.6M524.4 71.6v9.9M524.4 91.5v23.2M524.4 118.0v3.3M524.4 124.6v3.3M524.4 131.2v6.6M524.4 141.2v3.3M524.4 147.8v6.6M524.4 157.7v3.3M524.4 164.4v6.6M524.4 174.3v6.6M524.4 190.9v9.9M526.1 2.0v33.1M526.1 38.4v13.3M526.1 55.0v6.6M526.1 68.3v19.9M526.1 91.5v3.3M526.1 98.1v6.6M526.1 108.0v13.3M526.1 124.6v6.6M526.1 134.5v6.6M526.1 144.5v6.6M526.1 154.4v33.1M526.1 190.9v9.9M531.1 2.0v63.0M531.1 68.3v26.5M531.1 98.1v13.3M531.1 114.7v86.1M537.7 2.0v6.6M537.7 28.5v9.9M537.7 45.1v3.3M537.7 51.7v3.3M537.7 71.6v3.3M537.7 84.8v3.3M537.7 94.8v3.3M537.7 108.0v3.3M537.7 121.3v3.3M537.7 134.5v3.3M537.7 141.2v3.3M537.7 157.7v19.9M537.7 184.2v3.3M537.7 194.2v3.3M542.5 2.0v13.3M542.5 21.9v3.3M542.5 31.8v3.3M542.5 45.1v49.7M542.5 98.1v3.3M542.5 104.7v3.3M542.5 111.3v9.9M542.5 127.9v6.6M542.5 141.2v9.9M542.5 161.0v29.8M542.5 194.2v6.6M544.1 8.6v6.6M544.1 18.6v9.9M544.1 35.1v19.9M544.1 58.3v13.3M544.1 74.9v9.9M544.1 98.1v3.3M544.1 108.0v6.6M544.1 124.6v3.3M544.1 131.2v6.6M544.1 151.1v6.6M544.1 161.0v9.9M544.1 174.3v3.3M544.1 180.9v3.3M544.1 187.5v3.3M544.1 194.2v3.3M545.8 21.9v6.6M545.8 38.4v3.3M545.8 45.1v6.6M545.8 58.3v3.3M545.8 78.2v3.3M545.8 84.8v3.3M545.8 91.5v3.3M545.8 98.1v3.3M545.8 108.0v3.3M545.8 118.0v3.3M545.8 124.6v6.6M545.8 141.2v3.3M545.8 147.8v3.3M545.8 174.3v3.3M545.8 194.2v3.3M547.5 2.0v6.6M547.5 18.6v3.3M547.5 25.2v3.3M547.5 45.1v3.3M547.5 58.3v3.3M547.5 68.3v3.3M547.5 74.9v3.3M547.5 84.8v6.6M547.5 104.7v6.6M547.5 118.0v3.3M547.5 131.2v3.3M547.5 154.4v3.3M547.5 164.4v3.3M547.5 171.0v3.3M547.5 180.9v3.3M547.5 190.9v3.3M550.8 127.9v3.3M550.8 154.4v3.3M552.5 2.0v3.3M552.5 11.9v9.9M552.5 25.2v3.3M552.5 35.1v9.9M552.5 48.4v16.6M552.5 68.3v16.6M552.5 88.1v6.6M552.5 104.7v3.3M552.5 114.7v6.6M552.5 124.6v9.9M552.5 141.2v6.6M552.5 154.4v16.6M552.5 174.3v23.2M554.1 74.9v3.3M554.1 81.5v3.3M557.4 151.1v3.3M559.1 2.0v9.9M559.1 15.3v3.3M559.1 21.9v3.3M559.1 35.1v3.3M559.1 55.0v6.6M559.1 68.3v3.3M559.1 74.9v13.3M559.1 98.1v16.6M559.1 118.0v3.3M559.1 124.6v6.6M559.1 134.5v6.6M559.1 151.1v6.6M559.1 164.4v3.3M559.1 171.0v9.9M559.1 184.2v3.3M560.8 5.3v9.9M560.8 18.6v6.6M560.8 31.8v6.6M560.8 41.8v6.6M560.8 51.7v13.3M560.8 68.3v16.6M560.8 88.1v6.6M560.8 98.1v26.5M560.8 134.5v13.3M560.8 154.4v6.6M560.8 164.4v3.3M560.8 171.0v29.8M562.4 21.9v3.3M562.4 45.1v3.3M562.4 141.2v3.3M565.8 2.0v26.5M565.8 31.8v16.6M565.8 51.7v3.3M565.8 65.0v16.6M565.8 84.8v6.6M565.8 94.8v6.6M565.8 104.7v3.3M565.8 111.3v23.2M565.8 137.8v9.9M565.8 151.1v49.7M567.4 8.6v3.3M567.4 38.4v3.3M567.4 45.1v3.3M567.4 98.1v3.3M567.4 108.0v3.3M567.4 154.4v3.3M567.4 161.0v3.3M567.4 180.9v6.6M567.4 190.9v3.3M572.1 84.8v3.3M573.7 108.0v3.3M575.3 18.6v3.3M576.9 55.0v3.3M583.1 2.0v3.3M583.1 8.6v3.3M583.1 28.5v6.6M583.1 38.4v3.3M583.1 45.1v3.3M583.1 51.7v6.6M583.1 65.0v6.6M583.1 88.1v3.3M583.1 98.1v6.6M583.1 114.7v3.3M583.1 124.6v3.3M583.1 134.5v6.6M583.1 147.8v13.3M583.1 164.4v3.3M583.1 174.3v3.3M583.1 180.9v3.3M583.1 187.5v3.3M583.1 197.5v3.3M586.3 101.4v3.3M586.3 124.6v3.3M586.3 141.2v3.3M587.9 2.0v39.8M587.9 45.1v3.3M587.9 51.7v3.3M587.9 61.6v3.3M587.9 68.3v6.6M587.9 78.2v3.3M587.9 88.1v3.3M587.9 98.1v9.9M587.9 111.3v16.6M587.9 134.5v19.9M587.9 157.7v16.6M587.9 177.6v3.3M587.9 187.5v9.9M595.9 2.0v3.3M595.9 8.6v3.3M595.9 61.6v3.3M595.9 114.7v3.3M595.9 124.6v3.3M595.9 144.5v3.3M595.9 174.3v3.3M595.9 187.5v3.3M597.5 11.9v13.3M597.5 35.1v13.3M597.5 51.7v3.3M597.5 61.6v3.3M597.5 78.2v13.3M597.5 98.1v19.9M597.5 124.6v3.3M597.5 134.5v6.6M597.5 144.5v3.3M597.5 154.4v3.3M597.5 161.0v3.3M597.5 174.3v16.6M597.5 197.5v3.3M599.1 5.3v3.3M599.1 21.9v3.3M599.1 45.1v3.3M599.1 68.3v6.6M599.1 84.8v6.6M599.1 108.0v3.3M599.1 134.5v3.3M599.1 161.0v3.3M599.1 167.7v13.3M599.1 190.9v3.3M599.1 197.5v3.3M600.8 2.0v13.3M600.8 18.6v9.9M600.8 31.8v3.3M600.8 38.4v6.6M600.8 51.7v6.6M600.8 61.6v3.3M600.8 68.3v9.9M600.8 84.8v3.3M600.8 91.5v3.3M600.8 101.4v19.9M600.8 124.6v19.9M600.8 151.1v9.9M600.8 167.7v3.3M600.8 177.6v6.6M600.8 187.5v9.9M604.1 104.7v3.3M604.1 118.0v3.3M609.0 2.0v16.6M609.0 21.9v6.6M609.0 31.8v3.3M609.0 38.4v9.9M609.0 51.7v6.6M609.0 61.6v33.1M609.0 98.1v23.2M609.0 124.6v19.9M609.0 151.1v16.6M609.0 171.0v6.6M609.0 184.2v9.9M610.6 5.3v23.2M610.6 35.1v13.3M610.6 51.7v6.6M610.6 61.6v13.3M610.6 78.2v16.6M610.6 98.1v3.3M610.6 104.7v16.6M610.6 124.6v3.3M610.6 134.5v9.9M610.6 157.7v6.6M610.6 167.7v3.3M610.6 174.3v26.5M615.2 8.6v16.6M615.2 31.8v6.6M615.2 45.1v3.3M615.2 51.7v3.3M615.2 61.6v3.3M615.2 68.3v6.6M615.2 84.8v13.3M615.2 108.0v3.3M615.2 114.7v6.6M615.2 127.9v6.6M615.2 137.8v9.9M615.2 151.1v3.3M615.2 161.0v3.3M615.2 171.0v3.3M615.2 177.6v3.3M615.2 190.9v3.3M620.0 2.0v6.6M620.0 15.3v6.6M620.0 38.4v9.9M620.0 51.7v9.9M620.0 78.2v3.3M620.0 88.1v3.3M620.0 94.8v3.3M620.0 104.7v6.6M620.0 118.0v3.3M620.0 124.6v3.3M620.0 131.2v3.3M620.0 137.8v29.8M620.0 171.0v3.3M620.0 177.6v3.3M620.0 190.9v3.3M623.2 2.0v3.3M623.2 51.7v3.3M623.2 111.3v3.3M626.4 5.3v9.9M626.4 18.6v3.3M626.4 31.8v6.6M626.4 41.8v6.6M626.4 51.7v3.3M626.4 61.6v3.3M626.4 71.6v16.6M626.4 91.5v9.9M626.4 104.7v9.9M626.4 118.0v6.6M626.4 131.2v3.3M626.4 137.8v26.5M626.4 167.7v9.9M626.4 180.9v6.6M629.6 11.9v3.3M629.6 58.3v3.3M629.6 118.0v3.3M629.6 131.2v9.9M629.6 161.0v6.6M629.6 180.9v3.3M629.6 194.2v3.3M631.2 104.7v3.3M631.2 194.2v3.3M635.6 11.9v9.9M635.6 25.2v3.3M635.6 38.4v3.3M635.6 65.0v3.3M635.6 91.5v3.3M635.6 104.7v3.3M635.6 114.7v6.6M635.6 127.9v3.3M635.6 134.5v6.6M635.6 144.5v3.3M635.6 161.0v3.3M635.6 171.0v3.3M635.6 187.5v13.3M637.2 5.3v6.6M637.2 15.3v6.6M637.2 25.2v3.3M637.2 31.8v9.9M637.2 51.7v6.6M637.2 61.6v3.3M637.2 71.6v16.6M637.2 101.4v6.6M637.2 114.7v19.9M637.2 137.8v9.9M637.2 151.1v19.9M637.2 174.3v9.9M637.2 187.5v13.3M638.9 2.0v3.3M638.9 8.6v6.6M638.9 21.9v6.6M638.9 31.8v3.3M638.9 38.4v19.9M638.9 68.3v3.3M638.9 84.8v6.6M638.9 98.1v3.3M638.9 114.7v16.6M638.9 134.5v9.9M638.9 147.8v9.9M638.9 164.4v6.6M638.9 174.3v23.2M640.5 35.1v3.3M640.5 108.0v3.3M640.5 121.3v3.3M642.2 15.3v3.3M642.2 38.4v3.3M642.2 68.3v3.3M645.5 48.4v3.3M645.5 91.5v3.3M647.2 2.0v9.9M647.2 25.2v3.3M647.2 35.1v3.3M647.2 74.9v3.3M647.2 91.5v3.3M647.2 98.1v3.3M647.2 131.2v3.3M647.2 137.8v3.3M647.2 144.5v9.9M647.2 164.4v6.6M647.2 177.6v9.9M648.8 78.2v3.3M650.5 8.6v3.3M650.5 18.6v3.3M650.5 35.1v6.6M650.5 74.9v3.3M650.5 88.1v3.3M650.5 94.8v6.6M650.5 104.7v3.3M650.5 114.7v23.2M650.5 147.8v3.3M650.5 154.4v6.6M650.5 164.4v3.3M650.5 180.9v3.3M650.5 190.9v3.3M650.5 197.5v3.3M652.1 15.3v3.3M652.1 45.1v3.3M652.1 180.9v3.3M653.8 2.0v6.6M653.8 18.6v3.3M653.8 25.2v3.3M653.8 35.1v3.3M653.8 41.8v6.6M653.8 51.7v6.6M653.8 61.6v3.3M653.8 68.3v3.3M653.8 74.9v3.3M653.8 81.5v3.3M653.8 88.1v13.3M653.8 104.7v53.0M653.8 161.0v23.2M653.8 187.5v6.6M653.8 197.5v3.3M655.5 18.6v3.3M655.5 131.2v6.6M655.5 161.0v3.3M657.1 45.1v3.3M657.1 154.4v3.3M657.1 164.4v3.3M658.8 55.0v3.3M666.9 5.3v6.6M666.9 15.3v3.3M666.9 21.9v6.6M666.9 31.8v6.6M666.9 41.8v9.9M666.9 55.0v3.3M666.9 61.6v3.3M666.9 68.3v33.1M666.9 104.7v6.6M666.9 114.7v23.2M666.9 144.5v3.3M666.9 154.4v6.6M666.9 164.4v3.3M666.9 171.0v19.9M666.9 194.2v6.6M668.5 25.2v3.3M668.5 51.7v3.3M668.5 81.5v3.3M668.5 104.7v3.3M668.5 127.9v3.3M668.5 134.5v3.3M668.5 157.7v3.3M668.5 184.2v3.3M668.5 190.9v3.3M670.2 91.5v3.3M673.6 11.9v3.3M673.6 31.8v3.3M673.6 45.1v6.6M673.6 81.5v3.3M673.6 88.1v3.3M673.6 118.0v3.3M673.6 190.9v3.3M676.9 81.5v3.3M676.9 114.7v3.3M676.9 134.5v3.3M678.6 2.0v3.3M678.6 8.6v19.9M678.6 31.8v3.3M678.6 38.4v6.6M678.6 48.4v19.9M678.6 71.6v3.3M678.6 78.2v13.3M678.6 104.7v13.3M678.6 121.3v3.3M678.6 137.8v3.3M678.6 151.1v3.3M678.6 161.0v3.3M678.6 180.9v19.9"/>
<path stroke="rgb(30, 130, 250)" stroke-width="1.15" stroke-opacity="0.270" d="M253.8 2.0v13.3M253.8 25.2v3.3M253.8 38.4v3.3M253.8 48.4v6.6M253.8 68.3v23.2M253.8 94.8v13.3M253.8 111.3v6.6M253.8 121.3v6.6M253.8 134.5v3.3M253.8 141.2v3.3M253.8 151.1v3.3M253.8 157.7v3.3M253.8 164.4v3.3M253.8 171.0v3.3M253.8 177.6v3.3M253.8 184.2v13.3M255.4 180.9v3.3M257.0 5.3v19.9M257.0 31.8v29.8M257.0 68.3v3.3M257.0 78.2v16.6M257.0 101.4v3.3M257.0 111.3v9.9M257.0 127.9v3.3M257.0 134.5v13.3M257.0 154.4v3.3M257.0 161.0v9.9M257.0 174.3v3.3M257.0 180.9v3.3M257.0 190.9v6.6M260.3 2.0v13.3M260.3 21.9v9.9M260.3 41.8v3.3M260.3 48.4v3.3M260.3 58.3v6.6M260.3 68.3v3.3M260.3 74.9v13.3M260.3 91.5v3.3M260.3 98.1v6.6M260.3 108.0v9.9M260.3 121.3v6.6M260.3 131.2v3.3M260.3 137.8v9.9M260.3 151.1v6.6M260.3 164.4v6.6M260.3 174.3v3.3M260.3 184.2v6.6M260.3 197.5v3.3M261.9 15.3v3.3M261.9 71.6v6.6M261.9 121.3v3.3M265.1 21.9v3.3M265.1 101.4v3.3M266.7 5.3v3.3M266.7 11.9v3.3M266.7 31.8v3.3M266.7 38.4v6.6M266.7 55.0v3.3M266.7 61.6v13.3M266.7 78.2v3.3M266.7 91.5v3.3M266.7 98.1v3.3M266.7 108.0v9.9M266.7 121.3v6.6M266.7 131.2v9.9M266.7 144.5v3.3M266.7 151.1v23.2M266.7 187.5v3.3M266.7 194.2v6.6M270.0 144.5v3.3M271.6 141.2v3.3M273.2 2.0v3.3M273.2 8.6v9.9M273.2 21.9v3.3M273.2 31.8v3.3M273.2 45.1v3.3M273.2 55.0v3.3M273.2 61.6v3.3M273.2 74.9v9.9M273.2 88.1v6.6M273.2 108.0v3.3M273.2 114.7v6.6M273.2 134.5v6.6M273.2 144.5v3.3M273.2 151.1v3.3M273.2 171.0v3.3M273.2 187.5v3.3M273.2 194.2v3.3M276.5 2.0v3.3M276.5 11.9v3.3M276.5 18.6v16.6M276.5 38.4v3.3M276.5 45.1v3.3M276.5 51.7v3.3M276.5 68.3v3.3M276.5 84.8v9.9M276.5 98.1v3.3M276.5 104.7v6.6M276.5 114.7v6.6M276.5 124.6v6.6M276.5 144.5v3.3M276.5 151.1v3.3M276.5 157.7v3.3M276.5 164.4v3.3M276.5 171.0v3.3M276.5 180.9v3.3M276.5 190.9v3.3M276.5 197.5v3.3M278.1 74.9v3.3M279.7 25.2v3.3M279.7 88.1v3.3M279.7 190.9v3.3M286.0 118.0v3.3M287.6 5.3v3.3M287.6 38.4v6.6M287.6 58.3v3.3M287.6 74.9v3.3M287.6 81.5v6.6M287.6 91.5v3.3M287.6 111.3v3.3M287.6 118.0v3.3M287.6 151.1v6.6M287.6 180.9v3.3M287.6 194.2v3.3M289.2 25.2v3.3M289.2 51.7v3.3M289.2 68.3v3.3M289.2 84.8v3.3M289.2 101.4v6.6M289.2 131.2v3.3M289.2 154.4v9.9M289.2 174.3v3.3M289.2 184.2v3.3M292.5 18.6v3.3M294.1 18.6v3.3M294.1 25.2v3.3M294.1 31.8v3.3M294.1 38.4v6.6M294.1 51.7v6.6M294.1 68.3v6.6M294.1 78.2v3.3M294.1 84.8v3.3M294.1 101.4v3.3M294.1 108.0v3.3M294.1 114.7v6.6M294.1 127.9v9.9M294.1 151.1v6.6M294.1 161.0v3.3M294.1 171.0v3.3M294.1 177.6v19.9M295.7 81.5v3.3M295.7 88.1v3.3M295.7 101.4v3.3M295.7 127.9v3.3M295.7 184.2v3.3M295.7 190.9v3.3M297.4 131.2v3.3M299.0 71.6v3.3M300.6 104.7v3.3M302.2 194.2v3.3M303.9 28.5v3.3M303.9 41.8v3.3M303.9 55.0v3.3M303.9 71.6v6.6M303.9 81.5v13.3M303.9 108.0v3.3M303.9 114.7v3.3M303.9 134.5v3.3M303.9 141.2v3.3M303.9 154.4v6.6M303.9 174.3v3.3M303.9 190.9v3.3M311.8 11.9v3.3M311.8 154.4v3.3M313.4 81.5v3.3M316.8 141.2v3.3M316.8 157.7v3.3M321.7 91.5v3.3M325.1 61.6v3.3M325.1 171.0v6.6M326.7 55.0v3.3M326.7 118.0v3.3M328.4 38.4v3.3M328.4 127.9v3.3M328.4 134.5v3.3M330.0 5.3v3.3M330.0 11.9v13.3M330.0 31.8v3.3M330.0 38.4v6.6M330.0 51.7v3.3M330.0 78.2v9.9M330.0 91.5v3.3M330.0 98.1v3.3M330.0 118.0v3.3M330.0 134.5v9.9M330.0 154.4v3.3M330.0 161.0v3.3M330.0 174.3v3.3M330.0 180.9v3.3M330.0 187.5v6.6M330.0 197.5v3.3M336.7 74.9v3.3M338.3 108.0v3.3M340.0 111.3v3.3M341.7 2.0v9.9M341.7 15.3v3.3M341.7 21.9v6.6M341.7 31.8v16.6M341.7 51.7v6.6M341.7 61.6v3.3M341.7 71.6v13.3M341.7 88.1v6.6M341.7 101.4v3.3M341.7 111.3v9.9M341.7 137.8v3.3M341.7 147.8v3.3M341.7 157.7v6.6M341.7 167.7v6.6M341.7 180.9v3.3M341.7 187.5v3.3M341.7 197.5v3.3M350.1 2.0v13.3M350.1 31.8v3.3M350.1 38.4v6.6M350.1 51.7v6.6M350.1 68.3v3.3M350.1 74.9v6.6M350.1 88.1v3.3M350.1 94.8v6.6M350.1 104.7v3.3M350.1 114.7v3.3M350.1 124.6v3.3M350.1 131.2v3.3M350.1 147.8v3.3M350.1 154.4v3.3M350.1 161.0v13.3M350.1 187.5v13.3M353.2 137.8v3.3M354.8 28.5v3.3M354.8 137.8v3.3M356.4 124.6v3.3M356.4 141.2v3.3M356.4 154.4v3.3M358.1 45.1v3.3M361.2 124.6v3.3M361.2 141.2v3.3M362.8 41.8v3.3M362.8 174.3v3.3M362.8 180.9v3.3M364.4 2.0v3.3M364.4 18.6v9.9M364.4 31.8v9.9M364.4 51.7v3.3M364.4 65.0v3.3M364.4 71.6v3.3M364.4 78.2v3.3M364.4 131.2v3.3M364.4 144.5v9.9M364.4 161.0v9.9M364.4 180.9v3.3M364.4 194.2v3.3M366.0 8.6v16.6M366.0 31.8v6.6M366.0 41.8v3.3M366.0 55.0v3.3M366.0 61.6v6.6M366.0 84.8v3.3M366.0 98.1v3.3M366.0 104.7v9.9M366.0 118.0v3.3M366.0 124.6v3.3M366.0 131.2v3.3M366.0 137.8v3.3M366.0 144.5v6.6M366.0 154.4v3.3M366.0 161.0v3.3M366.0 171.0v9.9M366.0 184.2v3.3M366.0 190.9v6.6M367.6 118.0v3.3M367.6 167.7v3.3M369.2 55.0v3.3M369.2 81.5v3.3M369.2 131.2v3.3M370.8 18.6v3.3M372.4 2.0v3.3M372.4 8.6v6.6M372.4 18.6v9.9M372.4 35.1v9.9M372.4 51.7v3.3M372.4 61.6v6.6M372.4 71.6v3.3M372.4 84.8v13.3M372.4 108.0v6.6M372.4 118.0v9.9M372.4 137.8v3.3M372.4 151.1v3.3M372.4 167.7v3.3M372.4 174.3v6.6M372.4 187.5v6.6M381.6 8.6v3.3M381.6 71.6v6.6M381.6 121.3v3.3M381.6 180.9v6.6M384.8 25.2v3.3M384.8 177.6v3.3M388.0 164.4v3.3M391.2 31.8v3.3M391.2 121.3v3.3M391.2 164.4v3.3M392.7 5.3v3.3M392.7 21.9v3.3M392.7 38.4v3.3M392.7 45.1v3.3M392.7 61.6v3.3M392.7 68.3v6.6M392.7 88.1v3.3M392.7 98.1v3.3M392.7 104.7v6.6M392.7 124.6v3.3M392.7 134.5v13.3M392.7 154.4v6.6M392.7 174.3v3.3M392.7 180.9v3.3M394.3 8.6v3.3M394.3 31.8v6.6M394.3 45.1v3.3M394.3 51.7v16.6M394.3 71.6v6.6M394.3 91.5v6.6M394.3 101.4v3.3M394.3 111.3v3.3M394.3 134.5v6.6M394.3 171.0v6.6M395.9 134.5v3.3M395.9 171.0v3.3M399.1 134.5v3.3M400.7 8.6v9.9M400.7 41.8v3.3M400.7 55.0v3.3M400.7 61.6v3.3M400.7 78.2v3.3M400.7 98.1v9.9M400.7 111.3v6.6M400.7 134.5v3.3M400.7 164.4v3.3M400.7 171.0v9.9M400.7 184.2v3.3M400.7 194.2v6.6M402.3 104.7v3.3M402.3 194.2v3.3M403.9 45.1v3.3M411.8 161.0v3.3M411.8 171.0v3.3M413.4 5.3v3.3M413.4 18.6v3.3M413.4 25.2v3.3M413.4 31.8v6.6M413.4 41.8v3.3M413.4 71.6v3.3M413.4 81.5v3.3M413.4 88.1v3.3M413.4 98.1v3.3M413.4 104.7v9.9M413.4 118.0v3.3M413.4 127.9v3.3M413.4 137.8v3.3M413.4 180.9v9.9M414.9 2.0v3.3M414.9 8.6v6.6M414.9 21.9v6.6M414.9 35.1v6.6M414.9 58.3v3.3M414.9 71.6v6.6M414.9 81.5v3.3M414.9 88.1v6.6M414.9 98.1v3.3M414.9 104.7v3.3M414.9 111.3v9.9M414.9 124.6v6.6M414.9 134.5v3.3M414.9 144.5v3.3M414.9 151.1v3.3M414.9 157.7v6.6M414.9 167.7v3.3M414.9 174.3v16.6M414.9 194.2v6.6M418.0 41.8v6.6M418.0 61.6v3.3M418.0 88.1v6.6M418.0 127.9v3.3M418.0 174.3v3.3M418.0 180.9v3.3M419.6 11.9v3.3M419.6 35.1v6.6M419.6 58.3v6.6M419.6 68.3v3.3M419.6 98.1v9.9M419.6 114.7v3.3M419.6 124.6v3.3M419.6 131.2v3.3M421.2 45.1v3.3M421.2 137.8v3.3M424.3 2.0v3.3M424.3 8.6v3.3M424.3 18.6v6.6M424.3 28.5v9.9M424.3 45.1v3.3M424.3 58.3v16.6M424.3 78.2v6.6M424.3 91.5v3.3M424.3 98.1v23.2M424.3 127.9v3.3M424.3 134.5v9.9M424.3 154.4v3.3M424.3 161.0v3.3M424.3 174.3v16.6M424.3 194.2v6.6M425.8 2.0v3.3M425.8 15.3v9.9M425.8 28.5v9.9M425.8 55.0v23.2M425.8 81.5v13.3M425.8 98.1v6.6M425.8 111.3v9.9M425.8 127.9v6.6M425.8 137.8v3.3M425.8 154.4v9.9M425.8 174.3v3.3M425.8 180.9v6.6M425.8 194.2v3.3M427.4 121.3v3.3M429.0 2.0v3.3M429.0 61.6v3.3M429.0 118.0v6.6M429.0 137.8v3.3M429.0 154.4v3.3M429.0 161.0v3.3M435.1 2.0v3.3M435.1 11.9v3.3M435.1 18.6v6.6M435.1 55.0v3.3M435.1 71.6v3.3M435.1 78.2v3.3M435.1 84.8v3.3M435.1 91.5v3.3M435.1 180.9v6.6M435.1 194.2v3.3M439.9 45.1v3.3M439.9 55.0v3.3M439.9 74.9v3.3M439.9 81.5v3.3M439.9 104.7v3.3M439.9 124.6v3.3M439.9 131.2v3.3M439.9 144.5v3.3M439.9 151.1v6.6M439.9 180.9v6.6M441.5 15.3v3.3M441.5 21.9v3.3M441.5 55.0v3.3M441.5 61.6v3.3M441.5 84.8v3.3M441.5 98.1v6.6M441.5 111.3v3.3M441.5 124.6v3.3M441.5 144.5v3.3M441.5 157.7v3.3M441.5 164.4v6.6M443.2 184.2v3.3M444.8 8.6v3.3M444.8 127.9v6.6M444.8 167.7v3.3M446.4 84.8v3.3M448.0 81.5v3.3M449.6 5.3v6.6M449.6 15.3v9.9M449.6 45.1v3.3M449.6 61.6v3.3M449.6 68.3v3.3M449.6 74.9v6.6M449.6 91.5v3.3M449.6 98.1v3.3M449.6 114.7v6.6M449.6 147.8v3.3M449.6 157.7v3.3M449.6 164.4v3.3M451.3 71.6v3.3M456.1 88.1v3.3M457.7 78.2v3.3M457.7 91.5v3.3M457.7 98.1v6.6M459.3 131.2v3.3M464.4 2.0v9.9M464.4 15.3v3.3M464.4 21.9v6.6M464.4 35.1v9.9M464.4 51.7v6.6M464.4 61.6v6.6M464.4 71.6v3.3M464.4 78.2v9.9M464.4 94.8v3.3M464.4 111.3v3.3M464.4 121.3v13.3M464.4 137.8v3.3M464.4 144.5v39.8M464.4 187.5v3.3M464.4 194.2v3.3M466.0 8.6v3.3M466.0 21.9v3.3M466.0 35.1v3.3M466.0 55.0v3.3M466.0 61.6v3.3M466.0 74.9v6.6M466.0 88.1v9.9M466.0 114.7v6.6M466.0 131.2v6.6M466.0 164.4v3.3M466.0 174.3v6.6M466.0 190.9v3.3M469.2 187.5v3.3M472.3 104.7v3.3M473.9 71.6v3.3M477.1 114.7v3.3M478.6 171.0v3.3M480.2 35.1v3.3M487.9 2.0v3.3M487.9 25.2v6.6M487.9 35.1v3.3M487.9 65.0v3.3M487.9 74.9v6.6M487.9 88.1v6.6M487.9 98.1v6.6M487.9 124.6v3.3M487.9 151.1v3.3M487.9 161.0v3.3M487.9 177.6v3.3M491.1 18.6v3.3M500.6 8.6v3.3M500.6 18.6v13.3M500.6 38.4v6.6M500.6 51.7v3.3M500.6 61.6v3.3M500.6 68.3v23.2M500.6 111.3v9.9M500.6 127.9v6.6M500.6 144.5v3.3M500.6 154.4v16.6M500.6 174.3v3.3M500.6 180.9v9.9M500.6 197.5v3.3M502.1 187.5v3.3M505.3 8.6v3.3M505.3 25.2v29.8M505.3 81.5v6.6M505.3 91.5v3.3M505.3 98.1v3.3M505.3 108.0v9.9M505.3 127.9v3.3M505.3 141.2v9.9M505.3 157.7v9.9M505.3 174.3v6.6M505.3 187.5v13.3M511.6 35.1v6.6M513.2 55.0v3.3M517.8 151.1v6.6M519.4 151.1v3.3M519.4 164.4v3.3M522.8 21.9v3.3M522.8 114.7v3.3M529.4 190.9v3.3M534.4 2.0v3.3M534.4 58.3v3.3M534.4 144.5v3.3M536.1 180.9v3.3M537.7 21.9v3.3M542.5 18.6v3.3M542.5 25.2v3.3M542.5 38.4v6.6M542.5 108.0v3.3M542.5 124.6v3.3M542.5 134.5v3.3M542.5 154.4v3.3M542.5 190.9v3.3M547.5 8.6v9.9M547.5 31.8v13.3M547.5 51.7v6.6M547.5 61.6v3.3M547.5 71.6v3.3M547.5 78.2v6.6M547.5 91.5v3.3M547.5 98.1v3.3M547.5 111.3v6.6M547.5 127.9v3.3M547.5 134.5v19.9M547.5 157.7v6.6M547.5 167.7v3.3M547.5 174.3v3.3M547.5 184.2v6.6M547.5 194.2v6.6M549.1 88.1v3.3M549.1 141.2v3.3M550.8 2.0v3.3M550.8 8.6v9.9M550.8 21.9v3.3M550.8 35.1v3.3M550.8 48.4v6.6M550.8 74.9v3.3M550.8 84.8v9.9M550.8 108.0v3.3M550.8 124.6v3.3M550.8 131.2v6.6M550.8 144.5v3.3M550.8 151.1v3.3M550.8 161.0v3.3M550.8 167.7v3.3M550.8 174.3v3.3M550.8 180.9v3.3M550.8 190.9v3.3M550.8 197.5v3.3M552.5 5.3v6.6M552.5 21.9v3.3M552.5 28.5v6.6M552.5 45.1v3.3M552.5 98.1v3.3M552.5 108.0v6.6M552.5 137.8v3.3M552.5 151.1v3.3M552.5 171.0v3.3M552.5 197.5v3.3M554.1 15.3v3.3M554.1 31.8v3.3M554.1 98.1v3.3M554.1 118.0v3.3M554.1 137.8v3.3M554.1 171.0v3.3M555.8 81.5v3.3M557.4 11.9v3.3M557.4 35.1v6.6M557.4 55.0v3.3M557.4 61.6v3.3M557.4 68.3v3.3M557.4 81.5v3.3M557.4 91.5v3.3M557.4 111.3v3.3M557.4 127.9v3.3M557.4 157.7v16.6M557.4 180.9v3.3M557.4 187.5v3.3M557.4 194.2v6.6M559.1 11.9v3.3M559.1 18.6v3.3M559.1 25.2v3.3M559.1 31.8v3.3M559.1 38.4v9.9M559.1 51.7v3.3M559.1 61.6v3.3M559.1 131.2v3.3M559.1 144.5v3.3M559.1 161.0v3.3M559.1 167.7v3.3M559.1 180.9v3.3M559.1 190.9v9.9M560.8 2.0v3.3M560.8 25.2v3.3M560.8 84.8v3.3M560.8 124.6v9.9M560.8 151.1v3.3M560.8 161.0v3.3M560.8 167.7v3.3M562.4 15.3v3.3M562.4 28.5v6.6M562.4 74.9v3.3M562.4 108.0v3.3M562.4 154.4v3.3M562.4 180.9v3.3M564.1 55.0v3.3M564.1 91.5v3.3M565.8 55.0v3.3M565.8 61.6v3.3M565.8 91.5v3.3M565.8 134.5v3.3M567.4 2.0v3.3M567.4 131.2v3.3M567.4 151.1v3.3M567.4 194.2v3.3M575.3 81.5v3.3M578.4 108.0v3.3M580.0 31.8v3.3M580.0 65.0v3.3M581.6 161.0v3.3M583.1 171.0v3.3M584.7 8.6v3.3M584.7 41.8v3.3M586.3 5.3v13.3M586.3 35.1v3.3M586.3 55.0v3.3M586.3 61.6v3.3M586.3 68.3v3.3M586.3 111.3v3.3M586.3 121.3v3.3M586.3 134.5v6.6M586.3 154.4v9.9M586.3 177.6v9.9M586.3 190.9v3.3M592.6 15.3v6.6M592.6 25.2v3.3M592.6 31.8v3.3M592.6 71.6v3.3M592.6 104.7v3.3M592.6 114.7v6.6M592.6 147.8v3.3M592.6 171.0v3.3M592.6 194.2v6.6M594.2 2.0v16.6M594.2 25.2v6.6M594.2 51.7v6.6M594.2 71.6v3.3M594.2 78.2v6.6M594.2 88.1v6.6M594.2 104.7v3.3M594.2 111.3v3.3M594.2 118.0v3.3M594.2 124.6v3.3M594.2 151.1v3.3M594.2 167.7v6.6M594.2 180.9v3.3M594.2 187.5v6.6M595.9 11.9v6.6M595.9 21.9v6.6M595.9 31.8v9.9M595.9 45.1v3.3M595.9 51.7v6.6M595.9 68.3v3.3M595.9 78.2v3.3M595.9 84.8v3.3M595.9 91.5v3.3M595.9 98.1v3.3M595.9 104.7v3.3M595.9 111.3v3.3M595.9 118.0v3.3M595.9 127.9v16.6M595.9 151.1v3.3M595.9 157.7v3.3M595.9 164.4v9.9M595.9 177.6v9.9M595.9 190.9v9.9M597.5 2.0v9.9M597.5 25.2v3.3M597.5 31.8v3.3M597.5 55.0v3.3M597.5 68.3v9.9M597.5 91.5v3.3M597.5 127.9v6.6M597.5 141.2v3.3M597.5 151.1v3.3M597.5 157.7v3.3M597.5 164.4v9.9M597.5 190.9v6.6M599.1 2.0v3.3M599.1 8.6v6.6M599.1 25.2v3.3M599.1 35.1v9.9M599.1 51.7v3.3M599.1 74.9v3.3M599.1 81.5v3.3M599.1 111.3v9.9M599.1 131.2v3.3M599.1 137.8v9.9M599.1 151.1v3.3M599.1 157.7v3.3M599.1 180.9v6.6M600.8 15.3v3.3M600.8 35.1v3.3M600.8 78.2v6.6M600.8 88.1v3.3M600.8 164.4v3.3M600.8 174.3v3.3M600.8 184.2v3.3M602.4 8.6v3.3M602.4 38.4v3.3M602.4 84.8v3.3M602.4 101.4v3.3M604.1 2.0v3.3M604.1 11.9v3.3M604.1 21.9v6.6M604.1 51.7v3.3M604.1 81.5v3.3M604.1 114.7v3.3M604.1 127.9v3.3M604.1 161.0v3.3M604.1 177.6v3.3M605.7 35.1v3.3M605.7 45.1v3.3M605.7 101.4v3.3M605.7 194.2v3.3M607.3 71.6v3.3M607.3 91.5v3.3M609.0 18.6v3.3M609.0 35.1v3.3M609.0 167.7v3.3M609.0 177.6v6.6M609.0 197.5v3.3M610.6 2.0v3.3M610.6 31.8v3.3M610.6 74.9v3.3M610.6 101.4v3.3M610.6 121.3v3.3M610.6 127.9v3.3M610.6 144.5v3.3M610.6 151.1v6.6M610.6 164.4v3.3M610.6 171.0v3.3M618.4 45.1v3.3M620.0 8.6v3.3M620.0 21.9v6.6M620.0 31.8v6.6M620.0 61.6v3.3M620.0 68.3v9.9M620.0 81.5v6.6M620.0 91.5v3.3M620.0 98.1v3.3M620.0 111.3v6.6M620.0 127.9v3.3M620.0 134.5v3.3M620.0 167.7v3.3M620.0 174.3v3.3M620.0 180.9v9.9M620.0 194.2v6.6M621.6 15.3v3.3M621.6 137.8v3.3M621.6 167.7v3.3M623.2 18.6v3.3M624.8 21.9v3.3M628.0 11.9v3.3M628.0 18.6v6.6M628.0 190.9v3.3M629.6 2.0v9.9M629.6 15.3v3.3M629.6 21.9v6.6M629.6 31.8v16.6M629.6 55.0v3.3M629.6 61.6v3.3M629.6 68.3v9.9M629.6 81.5v9.9M629.6 94.8v6.6M629.6 104.7v3.3M629.6 111.3v6.6M629.6 121.3v9.9M629.6 141.2v19.9M629.6 167.7v13.3M629.6 184.2v9.9M629.6 197.5v3.3M631.2 2.0v9.9M631.2 21.9v3.3M631.2 38.4v3.3M631.2 51.7v3.3M631.2 61.6v3.3M631.2 71.6v3.3M631.2 81.5v3.3M631.2 88.1v6.6M631.2 121.3v6.6M631.2 131.2v3.3M631.2 144.5v3.3M631.2 151.1v3.3M631.2 167.7v3.3M631.2 174.3v3.3M631.2 187.5v6.6M635.6 2.0v3.3M635.6 8.6v3.3M635.6 21.9v3.3M635.6 31.8v3.3M635.6 41.8v16.6M635.6 61.6v3.3M635.6 68.3v13.3M635.6 84.8v6.6M635.6 98.1v6.6M635.6 108.0v6.6M635.6 121.3v6.6M635.6 131.2v3.3M635.6 147.8v9.9M635.6 164.4v6.6M635.6 174.3v3.3M635.6 180.9v6.6M638.9 5.3v3.3M638.9 15.3v6.6M638.9 61.6v3.3M638.9 78.2v6.6M638.9 91.5v3.3M638.9 104.7v6.6M638.9 131.2v3.3M638.9 144.5v3.3M638.9 161.0v3.3M640.5 5.3v3.3M640.5 11.9v6.6M640.5 25.2v3.3M640.5 31.8v3.3M640.5 48.4v3.3M640.5 81.5v3.3M640.5 98.1v3.3M640.5 104.7v3.3M640.5 111.3v6.6M640.5 131.2v3.3M640.5 147.8v3.3M640.5 154.4v3.3M640.5 164.4v3.3M640.5 174.3v6.6M640.5 194.2v6.6M643.9 11.9v3.3M643.9 190.9v3.3M645.5 5.3v19.9M645.5 31.8v3.3M645.5 55.0v3.3M645.5 61.6v3.3M645.5 68.3v3.3M645.5 84.8v3.3M645.5 98.1v3.3M645.5 104.7v19.9M645.5 131.2v9.9M645.5 147.8v13.3M645.5 167.7v3.3M645.5 174.3v6.6M645.5 190.9v3.3M647.2 11.9v13.3M647.2 31.8v3.3M647.2 38.4v9.9M647.2 51.7v6.6M647.2 61.6v3.3M647.2 68.3v6.6M647.2 78.2v9.9M647.2 104.7v26.5M647.2 134.5v3.3M647.2 141.2v3.3M647.2 154.4v9.9M647.2 171.0v6.6M647.2 187.5v13.3M650.5 2.0v6.6M650.5 11.9v3.3M650.5 21.9v6.6M650.5 31.8v3.3M650.5 41.8v9.9M650.5 55.0v3.3M650.5 61.6v3.3M650.5 68.3v6.6M650.5 78.2v9.9M650.5 91.5v3.3M650.5 108.0v6.6M650.5 137.8v9.9M650.5 151.1v3.3M650.5 161.0v3.3M650.5 167.7v13.3M650.5 184.2v6.6M650.5 194.2v3.3M652.1 21.9v3.3M652.1 81.5v3.3M652.1 98.1v3.3M652.1 127.9v3.3M652.1 147.8v3.3M652.1 164.4v3.3M655.5 8.6v9.9M655.5 28.5v3.3M655.5 35.1v6.6M655.5 45.1v13.3M655.5 68.3v3.3M655.5 74.9v13.3M655.5 91.5v3.3M655.5 98.1v3.3M655.5 104.7v9.9M655.5 118.0v3.3M655.5 137.8v23.2M655.5 164.4v9.9M655.5 177.6v3.3M655.5 187.5v6.6M655.5 197.5v3.3M657.1 21.9v3.3M657.1 35.1v3.3M657.1 61.6v3.3M657.1 74.9v3.3M657.1 91.5v3.3M657.1 104.7v3.3M657.1 134.5v3.3M657.1 141.2v3.3M657.1 157.7v6.6M657.1 167.7v3.3M657.1 174.3v13.3M658.8 11.9v3.3M658.8 35.1v3.3M658.8 84.8v3.3M658.8 141.2v3.3M658.8 161.0v6.6M658.8 184.2v3.3M658.8 190.9v3.3M658.8 197.5v3.3M660.4 94.8v3.3M660.4 184.2v3.3M665.2 15.3v6.6M665.2 25.2v3.3M665.2 38.4v3.3M665.2 48.4v9.9M665.2 65.0v3.3M665.2 71.6v3.3M665.2 78.2v3.3M665.2 84.8v3.3M665.2 91.5v6.6M665.2 104.7v9.9M665.2 124.6v23.2M665.2 151.1v3.3M665.2 161.0v3.3M665.2 167.7v3.3M665.2 174.3v3.3M665.2 180.9v3.3M665.2 197.5v3.3M666.9 11.9v3.3M666.9 111.3v3.3M666.9 137.8v6.6M666.9 161.0v3.3M666.9 167.7v3.3M666.9 190.9v3.3M668.5 2.0v23.2M668.5 31.8v19.9M668.5 55.0v3.3M668.5 68.3v3.3M668.5 74.9v6.6M668.5 84.8v6.6M668.5 94.8v6.6M668.5 108.0v13.3M668.5 124.6v3.3M668.5 131.2v3.3M668.5 137.8v3.3M668.5 144.5v3.3M668.5 151.1v3.3M668.5 164.4v9.9M668.5 177.6v6.6M668.5 194.2v6.6M670.2 2.0v13.3M670.2 18.6v6.6M670.2 35.1v9.9M670.2 51.7v6.6M670.2 65.0v3.3M670.2 71.6v3.3M670.2 78.2v6.6M670.2 88.1v3.3M670.2 98.1v3.3M670.2 104.7v3.3M670.2 114.7v3.3M670.2 124.6v3.3M670.2 134.5v9.9M670.2 151.1v19.9M670.2 174.3v13.3M670.2 190.9v6.6M671.9 51.7v3.3M671.9 104.7v3.3M671.9 127.9v3.3M673.6 2.0v9.9M673.6 18.6v3.3M673.6 25.2v6.6M673.6 35.1v3.3M673.6 41.8v3.3M673.6 55.0v3.3M673.6 65.0v3.3M673.6 71.6v9.9M673.6 84.8v3.3M673.6 91.5v9.9M673.6 108.0v9.9M673.6 121.3v6.6M673.6 131.2v9.9M673.6 144.5v3.3M673.6 151.1v23.2M673.6 177.6v6.6M673.6 187.5v3.3M673.6 194.2v6.6M675.3 25.2v3.3M675.3 164.4v3.3M675.3 190.9v3.3M678.6 5.3v3.3M678.6 28.5v3.3M678.6 35.1v3.3M678.6 45.1v3.3M678.6 68.3v3.3M678.6 74.9v3.3M678.6 91.5v3.3M678.6 118.0v3.3M678.6 127.9v3.3M678.6 134.5v3.3M678.6 141.2v6.6M678.6 157.7v3.3M678.6 164.4v16.6"/>
<path stroke="rgb(30, 130, 250)" stroke-width="1.15" stroke-opacity="0.360" d="M245.7 144.5v3.3M247.3 31.8v3.3M247.3 68.3v6.6M247.3 84.8v9.9M247.3 101.4v6.6M247.3 137.8v3.3M247.3 154.4v3.3M247.3 174.3v3.3M247.3 187.5v3.3M248.9 55.0v3.3M248.9 91.5v3.3M248.9 131.2v3.3M252.1 118.0v3.3M253.8 15.3v3.3M253.8 21.9v3.3M253.8 28.5v3.3M253.8 35.1v3.3M253.8 45.1v3.3M253.8 91.5v3.3M253.8 118.0v3.3M253.8 154.4v3.3M253.8 167.7v3.3M253.8 174.3v3.3M253.8 197.5v3.3M257.0 25.2v6.6M257.0 74.9v3.3M257.0 94.8v3.3M257.0 121.3v6.6M257.0 131.2v3.3M257.0 157.7v3.3M257.0 171.0v3.3M257.0 177.6v3.3M257.0 187.5v3.3M258.6 68.3v3.3M258.6 98.1v3.3M263.5 41.8v3.3M263.5 98.1v3.3M266.7 2.0v3.3M266.7 8.6v3.3M266.7 15.3v13.3M266.7 35.1v3.3M266.7 45.1v9.9M266.7 74.9v3.3M266.7 81.5v9.9M266.7 101.4v6.6M266.7 118.0v3.3M266.7 141.2v3.3M266.7 174.3v13.3M266.7 190.9v3.3M268.4 55.0v3.3M268.4 71.6v3.3M268.4 167.7v3.3M270.0 104.7v3.3M270.0 161.0v3.3M279.7 68.3v3.3M279.7 171.0v3.3M281.3 91.5v3.3M281.3 157.7v3.3M281.3 167.7v3.3M289.2 31.8v3.3M289.2 94.8v3.3M290.9 174.3v3.3M295.7 5.3v3.3M295.7 15.3v9.9M295.7 28.5v16.6M295.7 51.7v6.6M295.7 71.6v3.3M295.7 78.2v3.3M295.7 84.8v3.3M295.7 91.5v3.3M295.7 98.1v3.3M295.7 104.7v9.9M295.7 124.6v3.3M295.7 131.2v3.3M295.7 141.2v6.6M295.7 157.7v9.9M295.7 171.0v6.6M295.7 187.5v3.3M302.2 55.0v3.3M302.2 74.9v3.3M302.2 94.8v3.3M303.9 61.6v3.3M305.5 84.8v3.3M307.1 38.4v3.3M315.1 31.8v3.3M315.1 141.2v3.3M318.4 35.1v3.3M318.4 91.5v3.3M320.1 2.0v3.3M320.1 15.3v3.3M320.1 28.5v3.3M320.1 51.7v3.3M320.1 78.2v3.3M320.1 88.1v3.3M320.1 111.3v3.3M320.1 124.6v9.9M320.1 141.2v3.3M320.1 157.7v6.6M320.1 171.0v6.6M320.1 187.5v3.3M320.1 194.2v6.6M323.4 78.2v3.3M325.1 41.8v3.3M330.0 8.6v3.3M330.0 45.1v3.3M330.0 55.0v3.3M330.0 68.3v3.3M330.0 74.9v3.3M330.0 144.5v6.6M330.0 157.7v3.3M330.0 167.7v6.6M330.0 177.6v3.3M330.0 184.2v3.3M331.7 5.3v3.3M331.7 25.2v3.3M331.7 104.7v3.3M331.7 111.3v9.9M331.7 131.2v9.9M331.7 154.4v3.3M331.7 164.4v3.3M331.7 180.9v3.3M331.7 194.2v3.3M335.0 118.0v3.3M335.0 137.8v3.3M336.7 147.8v3.3M338.3 68.3v3.3M338.3 91.5v3.3M338.3 118.0v3.3M338.3 134.5v6.6M338.3 171.0v6.6M341.7 65.0v3.3M341.7 104.7v3.3M343.3 55.0v3.3M348.4 38.4v3.3M348.4 141.2v3.3M348.4 154.4v3.3M348.4 177.6v3.3M350.1 15.3v13.3M350.1 45.1v6.6M350.1 61.6v3.3M350.1 81.5v6.6M350.1 91.5v3.3M350.1 108.0v6.6M350.1 118.0v6.6M350.1 127.9v3.3M350.1 134.5v3.3M350.1 141.2v6.6M350.1 151.1v3.3M350.1 157.7v3.3M350.1 174.3v6.6M350.1 184.2v3.3M351.6 55.0v3.3M351.6 177.6v3.3M354.8 108.0v3.3M354.8 190.9v3.3M358.1 25.2v3.3M364.4 8.6v9.9M364.4 41.8v6.6M364.4 55.0v3.3M364.4 61.6v3.3M364.4 68.3v3.3M364.4 74.9v3.3M364.4 81.5v3.3M364.4 88.1v3.3M364.4 94.8v6.6M364.4 104.7v6.6M364.4 114.7v16.6M364.4 134.5v3.3M364.4 141.2v3.3M364.4 154.4v6.6M364.4 171.0v3.3M364.4 177.6v3.3M364.4 187.5v3.3M364.4 197.5v3.3M366.0 2.0v6.6M366.0 38.4v3.3M366.0 45.1v3.3M366.0 51.7v3.3M366.0 58.3v3.3M366.0 68.3v6.6M366.0 91.5v3.3M366.0 114.7v3.3M366.0 151.1v3.3M366.0 164.4v3.3M366.0 180.9v3.3M367.6 88.1v3.3M369.2 45.1v3.3M369.2 177.6v3.3M372.4 31.8v3.3M378.4 15.3v3.3M386.4 15.3v3.3M386.4 41.8v3.3M389.6 55.0v3.3M391.2 84.8v3.3M391.2 197.5v3.3M392.7 2.0v3.3M392.7 15.3v6.6M392.7 35.1v3.3M392.7 41.8v3.3M392.7 51.7v3.3M392.7 58.3v3.3M392.7 81.5v6.6M392.7 91.5v3.3M392.7 101.4v3.3M392.7 111.3v9.9M392.7 161.0v13.3M392.7 184.2v6.6M392.7 194.2v6.6M394.3 41.8v3.3M400.7 2.0v6.6M400.7 21.9v6.6M400.7 31.8v9.9M400.7 45.1v9.9M400.7 68.3v9.9M400.7 81.5v6.6M400.7 91.5v3.3M400.7 108.0v3.3M400.7 118.0v3.3M400.7 124.6v9.9M400.7 137.8v9.9M400.7 151.1v9.9M400.7 167.7v3.3M400.7 180.9v3.3M400.7 187.5v3.3M403.9 71.6v3.3M403.9 151.1v3.3M413.4 51.7v3.3M414.9 5.3v3.3M414.9 15.3v3.3M414.9 45.1v3.3M414.9 51.7v6.6M414.9 61.6v3.3M414.9 68.3v3.3M414.9 78.2v3.3M414.9 108.0v3.3M414.9 131.2v3.3M414.9 137.8v6.6M414.9 154.4v3.3M414.9 171.0v3.3M414.9 190.9v3.3M418.0 8.6v3.3M418.0 78.2v3.3M419.6 118.0v3.3M424.3 15.3v3.3M424.3 38.4v3.3M424.3 88.1v3.3M424.3 144.5v3.3M424.3 151.1v3.3M424.3 157.7v3.3M424.3 190.9v3.3M429.0 88.1v3.3M429.0 174.3v3.3M433.5 84.8v3.3M433.5 187.5v3.3M435.1 61.6v3.3M441.5 78.2v3.3M449.6 134.5v3.3M451.3 41.8v3.3M451.3 171.0v3.3M452.9 2.0v3.3M452.9 35.1v3.3M452.9 88.1v3.3M454.5 5.3v3.3M454.5 15.3v6.6M454.5 35.1v3.3M454.5 51.7v6.6M454.5 61.6v3.3M454.5 71.6v13.3M454.5 134.5v9.9M454.5 157.7v3.3M454.5 167.7v3.3M456.1 11.9v6.6M456.1 81.5v3.3M456.1 108.0v3.3M456.1 134.5v3.3M456.1 151.1v3.3M456.1 161.0v3.3M456.1 171.0v3.3M456.1 180.9v3.3M464.4 18.6v3.3M464.4 28.5v3.3M464.4 45.1v3.3M464.4 91.5v3.3M464.4 104.7v3.3M464.4 114.7v3.3M466.0 2.0v3.3M466.0 11.9v9.9M466.0 28.5v6.6M466.0 38.4v3.3M466.0 45.1v3.3M466.0 51.7v3.3M466.0 65.0v9.9M466.0 81.5v6.6M466.0 108.0v3.3M466.0 121.3v9.9M466.0 147.8v6.6M466.0 157.7v6.6M466.0 167.7v6.6M466.0 184.2v6.6M466.0 194.2v6.6M469.2 2.0v3.3M469.2 38.4v3.3M469.2 84.8v3.3M469.2 121.3v3.3M469.2 177.6v3.3M470.7 8.6v3.3M470.7 15.3v3.3M470.7 21.9v6.6M470.7 41.8v3.3M470.7 51.7v6.6M470.7 71.6v3.3M470.7 81.5v3.3M470.7 98.1v3.3M470.7 104.7v3.3M470.7 111.3v6.6M470.7 121.3v3.3M470.7 127.9v6.6M470.7 144.5v3.3M470.7 171.0v3.3M470.7 177.6v3.3M470.7 190.9v9.9M472.3 164.4v3.3M473.9 28.5v3.3M473.9 111.3v3.3M473.9 167.7v3.3M477.1 25.2v3.3M477.1 55.0v3.3M477.1 104.7v6.6M477.1 134.5v3.3M477.1 144.5v3.3M477.1 151.1v3.3M477.1 161.0v6.6M477.1 197.5v3.3M483.4 48.4v3.3M487.9 55.0v3.3M487.9 84.8v3.3M487.9 134.5v3.3M492.7 21.9v3.3M492.7 28.5v3.3M492.7 51.7v3.3M500.6 15.3v3.3M503.7 84.8v3.3M505.3 5.3v3.3M505.3 21.9v3.3M505.3 55.0v3.3M505.3 61.6v3.3M505.3 68.3v13.3M505.3 88.1v3.3M505.3 101.4v6.6M505.3 118.0v3.3M505.3 124.6v3.3M505.3 134.5v6.6M505.3 151.1v6.6M505.3 167.7v3.3M505.3 180.9v6.6M506.9 11.9v3.3M506.9 25.2v3.3M506.9 31.8v3.3M506.9 154.4v3.3M508.4 108.0v3.3M508.4 154.4v3.3M508.4 164.4v3.3M510.0 45.1v3.3M510.0 74.9v6.6M510.0 88.1v3.3M510.0 114.7v3.3M510.0 174.3v3.3M510.0 184.2v6.6M513.2 31.8v3.3M513.2 81.5v3.3M513.2 144.5v3.3M517.8 187.5v3.3M521.1 144.5v3.3M526.1 35.1v3.3M526.1 141.2v3.3M536.1 114.7v3.3M542.5 35.1v3.3M545.8 61.6v3.3M545.8 144.5v3.3M545.8 157.7v3.3M550.8 5.3v3.3M550.8 25.2v6.6M550.8 38.4v3.3M550.8 45.1v3.3M550.8 58.3v6.6M550.8 68.3v6.6M550.8 78.2v6.6M550.8 98.1v3.3M550.8 104.7v3.3M550.8 114.7v6.6M550.8 137.8v6.6M550.8 157.7v3.3M550.8 164.4v3.3M550.8 177.6v3.3M550.8 184.2v6.6M550.8 194.2v3.3M552.5 134.5v3.3M554.1 5.3v3.3M554.1 11.9v3.3M554.1 21.9v9.9M554.1 35.1v6.6M554.1 45.1v3.3M554.1 55.0v9.9M554.1 68.3v6.6M554.1 78.2v3.3M554.1 84.8v9.9M554.1 108.0v9.9M554.1 124.6v3.3M554.1 131.2v6.6M554.1 151.1v6.6M554.1 167.7v3.3M554.1 180.9v3.3M554.1 190.9v9.9M557.4 2.0v3.3M557.4 8.6v3.3M557.4 15.3v16.6M557.4 41.8v6.6M557.4 51.7v3.3M557.4 58.3v3.3M557.4 74.9v3.3M557.4 84.8v6.6M557.4 98.1v3.3M557.4 104.7v3.3M557.4 114.7v6.6M557.4 124.6v3.3M557.4 131.2v16.6M557.4 154.4v3.3M557.4 177.6v3.3M557.4 184.2v3.3M559.1 71.6v3.3M559.1 114.7v3.3M562.4 5.3v3.3M562.4 18.6v3.3M562.4 25.2v3.3M562.4 35.1v6.6M562.4 55.0v6.6M562.4 71.6v3.3M562.4 78.2v3.3M562.4 98.1v9.9M562.4 127.9v6.6M562.4 144.5v3.3M562.4 157.7v6.6M562.4 167.7v3.3M562.4 174.3v3.3M562.4 187.5v3.3M562.4 194.2v6.6M583.1 141.2v3.3M584.7 114.7v3.3M586.3 2.0v3.3M586.3 18.6v16.6M586.3 38.4v3.3M586.3 45.1v3.3M586.3 51.7v3.3M586.3 71.6v3.3M586.3 81.5v6.6M586.3 91.5v9.9M586.3 104.7v6.6M586.3 114.7v6.6M586.3 127.9v3.3M586.3 144.5v9.9M586.3 164.4v13.3M586.3 187.5v3.3M586.3 194.2v6.6M587.9 74.9v3.3M587.9 81.5v3.3M592.6 2.0v13.3M592.6 35.1v3.3M592.6 51.7v6.6M592.6 61.6v3.3M592.6 68.3v3.3M592.6 78.2v16.6M592.6 108.0v6.6M592.6 127.9v6.6M592.6 141.2v6.6M592.6 151.1v3.3M592.6 157.7v13.3M592.6 177.6v16.6M594.2 18.6v6.6M594.2 31.8v16.6M594.2 68.3v3.3M594.2 74.9v3.3M594.2 84.8v3.3M594.2 98.1v3.3M594.2 108.0v3.3M594.2 114.7v3.3M594.2 127.9v3.3M594.2 134.5v13.3M594.2 154.4v9.9M594.2 174.3v6.6M594.2 184.2v3.3M594.2 194.2v6.6M595.9 41.8v3.3M595.9 71.6v6.6M595.9 81.5v3.3M595.9 101.4v3.3M595.9 108.0v3.3M597.5 118.0v3.3M599.1 15.3v6.6M599.1 31.8v3.3M599.1 61.6v3.3M599.1 91.5v3.3M599.1 101.4v3.3M599.1 124.6v3.3M604.1 8.6v3.3M604.1 18.6v3.3M604.1 31.8v9.9M604.1 61.6v3.3M604.1 71.6v6.6M604.1 88.1v6.6M604.1 108.0v3.3M604.1 131.2v9.9M604.1 144.5v3.3M604.1 151.1v9.9M604.1 164.4v9.9M604.1 180.9v13.3M609.0 144.5v3.3M609.0 194.2v3.3M610.6 131.2v3.3M620.0 11.9v3.3M626.4 25.2v3.3M626.4 68.3v3.3M626.4 177.6v3.3M631.2 15.3v3.3M631.2 25.2v3.3M631.2 35.1v3.3M631.2 45.1v3.3M631.2 55.0v6.6M631.2 68.3v3.3M631.2 74.9v6.6M631.2 94.8v3.3M631.2 108.0v6.6M631.2 127.9v3.3M631.2 137.8v6.6M631.2 147.8v3.3M631.2 157.7v9.9M631.2 171.0v3.3M631.2 177.6v3.3M631.2 184.2v3.3M637.2 184.2v3.3M640.5 21.9v3.3M640.5 45.1v3.3M640.5 51.7v6.6M640.5 61.6v3.3M640.5 71.6v3.3M640.5 88.1v3.3M640.5 124.6v6.6M640.5 134.5v3.3M640.5 151.1v3.3M640.5 157.7v3.3M640.5 167.7v6.6M640.5 180.9v6.6M642.2 8.6v6.6M642.2 18.6v3.3M642.2 45.1v3.3M642.2 71.6v3.3M642.2 91.5v3.3M642.2 114.7v6.6M642.2 134.5v3.3M642.2 151.1v3.3M642.2 157.7v3.3M642.2 174.3v3.3M642.2 180.9v3.3M642.2 194.2v3.3M645.5 2.0v3.3M645.5 25.2v3.3M645.5 35.1v13.3M645.5 71.6v13.3M645.5 88.1v3.3M645.5 124.6v3.3M645.5 141.2v6.6M645.5 161.0v6.6M645.5 171.0v3.3M645.5 180.9v3.3M645.5 187.5v3.3M645.5 194.2v6.6M648.8 25.2v3.3M648.8 68.3v3.3M652.1 2.0v3.3M652.1 31.8v3.3M652.1 41.8v3.3M652.1 51.7v6.6M652.1 61.6v3.3M652.1 84.8v3.3M652.1 114.7v3.3M652.1 121.3v6.6M652.1 131.2v3.3M652.1 137.8v6.6M652.1 154.4v6.6M652.1 167.7v6.6M652.1 177.6v3.3M652.1 197.5v3.3M655.5 2.0v3.3M655.5 25.2v3.3M655.5 41.8v3.3M655.5 61.6v6.6M655.5 71.6v3.3M655.5 88.1v3.3M655.5 94.8v3.3M655.5 114.7v3.3M655.5 121.3v9.9M655.5 180.9v3.3M657.1 8.6v13.3M657.1 25.2v9.9M657.1 48.4v6.6M657.1 65.0v6.6M657.1 78.2v6.6M657.1 88.1v3.3M657.1 94.8v3.3M657.1 108.0v6.6M657.1 118.0v13.3M657.1 137.8v3.3M657.1 144.5v3.3M657.1 187.5v3.3M657.1 194.2v6.6M658.8 5.3v6.6M658.8 15.3v6.6M658.8 25.2v3.3M658.8 31.8v3.3M658.8 38.4v13.3M658.8 61.6v6.6M658.8 74.9v9.9M658.8 88.1v3.3M658.8 94.8v3.3M658.8 101.4v3.3M658.8 108.0v3.3M658.8 114.7v13.3M658.8 131.2v3.3M658.8 144.5v9.9M658.8 157.7v3.3M658.8 167.7v3.3M658.8 180.9v3.3M658.8 187.5v3.3M665.2 2.0v13.3M665.2 21.9v3.3M665.2 31.8v6.6M665.2 41.8v6.6M665.2 61.6v3.3M665.2 68.3v3.3M665.2 74.9v3.3M665.2 81.5v3.3M665.2 88.1v3.3M665.2 98.1v3.3M665.2 114.7v9.9M665.2 154.4v6.6M665.2 164.4v3.3M665.2 171.0v3.3M665.2 177.6v3.3M665.2 187.5v9.9M666.9 2.0v3.3M668.5 121.3v3.3M668.5 187.5v3.3M670.2 15.3v3.3M670.2 25.2v9.9M670.2 45.1v6.6M670.2 61.6v3.3M670.2 68.3v3.3M670.2 74.9v3.3M670.2 84.8v3.3M670.2 94.8v3.3M670.2 108.0v6.6M670.2 121.3v3.3M670.2 171.0v3.3M670.2 197.5v3.3M673.6 15.3v3.3M673.6 38.4v3.3M673.6 51.7v3.3M673.6 61.6v3.3M673.6 68.3v3.3M673.6 174.3v3.3M673.6 184.2v3.3M678.6 124.6v3.3"/>
<path stroke="rgb(30, 130, 250)" stroke-width="1.15" stroke-opacity="0.450" d="M247.3 2.0v6.6M247.3 11.9v6.6M247.3 38.4v6.6M247.3 51.7v9.9M247.3 65.0v3.3M247.3 78.2v3.3M247.3 98.1v3.3M247.3 114.7v3.3M247.3 127.9v9.9M247.3 157.7v9.9M247.3 180.9v6.6M247.3 194.2v3.3M253.8 131.2v3.3M260.3 134.5v3.3M270.0 118.0v3.3M271.6 11.9v3.3M273.2 104.7v3.3M276.5 41.8v3.3M276.5 137.8v3.3M278.1 15.3v3.3M278.1 21.9v3.3M278.1 38.4v3.3M278.1 65.0v3.3M278.1 71.6v3.3M278.1 88.1v3.3M278.1 104.7v3.3M278.1 121.3v9.9M278.1 141.2v3.3M278.1 154.4v3.3M278.1 187.5v3.3M287.6 94.8v3.3M289.2 88.1v3.3M294.1 35.1v3.3M295.7 2.0v3.3M295.7 8.6v6.6M295.7 25.2v3.3M295.7 45.1v3.3M295.7 61.6v3.3M295.7 68.3v3.3M295.7 74.9v3.3M295.7 114.7v6.6M295.7 134.5v6.6M295.7 151.1v6.6M295.7 167.7v3.3M295.7 177.6v3.3M295.7 194.2v6.6M307.1 167.7v3.3M320.1 5.3v9.9M320.1 31.8v3.3M320.1 38.4v9.9M320.1 55.0v3.3M320.1 68.3v9.9M320.1 84.8v3.3M320.1 91.5v9.9M320.1 108.0v3.3M320.1 114.7v9.9M320.1 137.8v3.3M320.1 144.5v3.3M320.1 151.1v3.3M320.1 164.4v6.6M320.1 177.6v9.9M320.1 190.9v3.3M328.4 11.9v6.6M328.4 31.8v3.3M328.4 41.8v3.3M328.4 51.7v3.3M328.4 61.6v3.3M328.4 68.3v6.6M328.4 81.5v3.3M328.4 88.1v3.3M328.4 154.4v3.3M328.4 161.0v3.3M328.4 171.0v6.6M328.4 187.5v3.3M328.4 194.2v3.3M330.0 104.7v3.3M330.0 114.7v3.3M330.0 131.2v3.3M330.0 194.2v3.3M331.7 8.6v3.3M331.7 15.3v3.3M331.7 21.9v3.3M331.7 31.8v3.3M331.7 38.4v9.9M331.7 51.7v3.3M331.7 61.6v3.3M331.7 74.9v3.3M331.7 81.5v9.9M331.7 98.1v3.3M331.7 108.0v3.3M331.7 127.9v3.3M331.7 141.2v3.3M331.7 151.1v3.3M331.7 157.7v6.6M331.7 167.7v9.9M331.7 184.2v6.6M338.3 8.6v3.3M338.3 25.2v3.3M338.3 61.6v3.3M338.3 98.1v3.3M338.3 104.7v3.3M338.3 124.6v3.3M338.3 147.8v3.3M338.3 161.0v6.6M338.3 194.2v6.6M341.7 98.1v3.3M341.7 190.9v3.3M364.4 137.8v3.3M366.0 81.5v3.3M366.0 127.9v3.3M369.2 8.6v6.6M369.2 28.5v3.3M369.2 35.1v3.3M369.2 41.8v3.3M369.2 68.3v9.9M369.2 108.0v3.3M369.2 121.3v3.3M369.2 147.8v3.3M369.2 157.7v3.3M369.2 164.4v3.3M369.2 171.0v3.3M369.2 180.9v3.3M369.2 194.2v3.3M372.4 144.5v3.3M381.6 2.0v3.3M391.2 11.9v3.3M391.2 18.6v6.6M391.2 35.1v6.6M391.2 45.1v3.3M391.2 55.0v3.3M391.2 61.6v3.3M391.2 88.1v6.6M391.2 124.6v6.6M391.2 134.5v3.3M391.2 141.2v3.3M391.2 154.4v3.3M391.2 161.0v3.3M391.2 167.7v3.3M391.2 174.3v3.3M391.2 184.2v6.6M391.2 194.2v3.3M392.7 8.6v3.3M392.7 25.2v3.3M392.7 48.4v3.3M392.7 65.0v3.3M392.7 74.9v6.6M392.7 94.8v3.3M392.7 121.3v3.3M392.7 127.9v6.6M392.7 190.9v3.3M394.3 131.2v3.3M395.9 5.3v3.3M397.5 35.1v3.3M397.5 51.7v3.3M397.5 118.0v3.3M397.5 127.9v3.3M397.5 141.2v3.3M397.5 174.3v3.3M402.3 8.6v3.3M402.3 31.8v3.3M402.3 38.4v3.3M402.3 61.6v3.3M402.3 68.3v3.3M402.3 141.2v6.6M402.3 157.7v6.6M413.4 124.6v3.3M424.3 74.9v3.3M425.8 171.0v3.3M429.0 84.8v3.3M435.1 74.9v3.3M439.9 21.9v3.3M449.6 151.1v3.3M454.5 2.0v3.3M454.5 11.9v3.3M454.5 21.9v13.3M454.5 41.8v6.6M454.5 84.8v3.3M454.5 94.8v3.3M454.5 104.7v13.3M454.5 124.6v3.3M454.5 131.2v3.3M454.5 147.8v6.6M454.5 161.0v6.6M454.5 171.0v9.9M454.5 184.2v6.6M454.5 197.5v3.3M456.1 2.0v6.6M456.1 45.1v3.3M456.1 51.7v6.6M456.1 61.6v3.3M456.1 68.3v3.3M456.1 91.5v6.6M456.1 104.7v3.3M456.1 111.3v23.2M456.1 137.8v3.3M456.1 144.5v3.3M456.1 157.7v3.3M456.1 164.4v3.3M456.1 177.6v3.3M456.1 184.2v3.3M457.7 8.6v6.6M457.7 21.9v3.3M457.7 35.1v3.3M457.7 41.8v3.3M457.7 71.6v3.3M457.7 84.8v6.6M457.7 104.7v3.3M457.7 111.3v3.3M457.7 124.6v3.3M457.7 144.5v3.3M457.7 174.3v3.3M457.7 180.9v3.3M457.7 187.5v3.3M457.7 194.2v6.6M459.3 55.0v3.3M459.3 74.9v3.3M459.3 118.0v6.6M459.3 151.1v3.3M459.3 171.0v3.3M464.4 31.8v3.3M466.0 5.3v3.3M466.0 25.2v3.3M466.0 41.8v3.3M466.0 98.1v3.3M466.0 104.7v3.3M466.0 154.4v3.3M466.0 180.9v3.3M470.7 11.9v3.3M470.7 18.6v3.3M470.7 31.8v3.3M470.7 45.1v3.3M470.7 84.8v6.6M470.7 94.8v3.3M470.7 108.0v3.3M470.7 134.5v9.9M470.7 151.1v3.3M470.7 161.0v3.3M470.7 167.7v3.3M470.7 174.3v3.3M470.7 180.9v3.3M470.7 187.5v3.3M477.1 21.9v3.3M477.1 45.1v3.3M477.1 51.7v3.3M477.1 68.3v3.3M477.1 88.1v3.3M477.1 94.8v6.6M477.1 118.0v3.3M477.1 124.6v3.3M477.1 137.8v6.6M477.1 157.7v3.3M477.1 167.7v3.3M477.1 174.3v3.3M477.1 180.9v6.6M477.1 190.9v3.3M483.4 61.6v3.3M487.9 144.5v3.3M487.9 157.7v3.3M500.6 45.1v3.3M500.6 151.1v3.3M505.3 18.6v3.3M510.0 15.3v6.6M510.0 31.8v3.3M510.0 41.8v3.3M510.0 51.7v3.3M510.0 61.6v6.6M510.0 71.6v3.3M510.0 84.8v3.3M510.0 98.1v6.6M510.0 118.0v3.3M510.0 124.6v6.6M510.0 134.5v3.3M510.0 147.8v3.3M510.0 154.4v3.3M510.0 180.9v3.3M510.0 194.2v3.3M547.5 124.6v3.3M550.8 31.8v3.3M550.8 41.8v3.3M550.8 55.0v3.3M550.8 111.3v3.3M550.8 171.0v3.3M552.5 84.8v3.3M554.1 2.0v3.3M554.1 8.6v3.3M554.1 18.6v3.3M554.1 41.8v3.3M554.1 48.4v6.6M554.1 104.7v3.3M554.1 141.2v6.6M554.1 157.7v9.9M554.1 174.3v3.3M554.1 184.2v6.6M557.4 5.3v3.3M557.4 108.0v3.3M557.4 174.3v3.3M559.1 141.2v3.3M559.1 157.7v3.3M560.8 15.3v3.3M562.4 2.0v3.3M562.4 8.6v6.6M562.4 41.8v3.3M562.4 51.7v3.3M562.4 61.6v3.3M562.4 68.3v3.3M562.4 81.5v16.6M562.4 111.3v16.6M562.4 134.5v6.6M562.4 164.4v3.3M562.4 171.0v3.3M562.4 177.6v3.3M562.4 184.2v3.3M562.4 190.9v3.3M586.3 41.8v3.3M586.3 74.9v3.3M592.6 21.9v3.3M592.6 28.5v3.3M592.6 41.8v6.6M592.6 74.9v3.3M592.6 94.8v6.6M592.6 124.6v3.3M592.6 137.8v3.3M592.6 174.3v3.3M594.2 61.6v3.3M594.2 131.2v3.3M594.2 164.4v3.3M595.9 88.1v3.3M599.1 55.0v3.3M599.1 78.2v3.3M599.1 164.4v3.3M599.1 187.5v3.3M599.1 194.2v3.3M604.1 15.3v3.3M604.1 45.1v3.3M604.1 55.0v3.3M604.1 65.0v6.6M604.1 78.2v3.3M604.1 84.8v3.3M604.1 98.1v3.3M604.1 194.2v6.6M629.6 18.6v3.3M629.6 51.7v3.3M629.6 78.2v3.3M629.6 108.0v3.3M631.2 11.9v3.3M631.2 18.6v3.3M631.2 41.8v3.3M631.2 84.8v3.3M631.2 114.7v6.6M631.2 154.4v3.3M631.2 180.9v3.3M631.2 197.5v3.3M635.6 81.5v3.3M638.9 171.0v3.3M640.5 2.0v3.3M640.5 18.6v3.3M640.5 28.5v3.3M640.5 38.4v6.6M640.5 68.3v3.3M640.5 74.9v6.6M640.5 84.8v3.3M640.5 91.5v3.3M640.5 137.8v6.6M640.5 161.0v3.3M640.5 187.5v6.6M642.2 2.0v6.6M642.2 21.9v16.6M642.2 55.0v3.3M642.2 78.2v3.3M642.2 84.8v3.3M642.2 98.1v3.3M642.2 108.0v3.3M642.2 124.6v3.3M642.2 131.2v3.3M642.2 137.8v13.3M642.2 167.7v3.3M642.2 187.5v3.3M642.2 197.5v3.3M645.5 51.7v3.3M648.8 11.9v9.9M648.8 31.8v6.6M648.8 51.7v6.6M648.8 74.9v3.3M648.8 84.8v3.3M648.8 104.7v3.3M648.8 111.3v6.6M648.8 137.8v9.9M648.8 161.0v6.6M648.8 174.3v3.3M648.8 184.2v13.3M652.1 5.3v9.9M652.1 18.6v3.3M652.1 25.2v3.3M652.1 35.1v6.6M652.1 48.4v3.3M652.1 68.3v13.3M652.1 91.5v6.6M652.1 104.7v9.9M652.1 118.0v3.3M652.1 134.5v3.3M652.1 151.1v3.3M652.1 161.0v3.3M652.1 174.3v3.3M652.1 184.2v13.3M655.5 184.2v3.3M657.1 5.3v3.3M657.1 38.4v6.6M657.1 55.0v3.3M657.1 84.8v3.3M657.1 98.1v3.3M657.1 114.7v3.3M657.1 131.2v3.3M657.1 151.1v3.3M657.1 190.9v3.3M658.8 2.0v3.3M658.8 21.9v3.3M658.8 28.5v3.3M658.8 51.7v3.3M658.8 68.3v6.6M658.8 91.5v3.3M658.8 98.1v3.3M658.8 104.7v3.3M658.8 111.3v3.3M658.8 127.9v3.3M658.8 134.5v3.3M658.8 154.4v3.3M658.8 174.3v6.6M658.8 194.2v3.3M666.9 18.6v3.3M668.5 71.6v3.3M668.5 154.4v3.3M670.2 187.5v3.3M673.6 21.9v3.3M678.6 94.8v3.3"/>
<path stroke="rgb(30, 130, 250)" stroke-width="1.15" stroke-opacity="0.540" d="M247.3 21.9v9.9M247.3 35.1v3.3M247.3 45.1v3.3M247.3 81.5v3.3M247.3 108.0v6.6M247.3 118.0v3.3M247.3 124.6v3.3M247.3 141.2v6.6M247.3 151.1v3.3M247.3 167.7v6.6M247.3 190.9v3.3M247.3 197.5v3.3M252.1 147.8v3.3M253.8 65.0v3.3M257.0 108.0v3.3M260.3 65.0v3.3M263.5 147.8v3.3M266.7 28.5v3.3M266.7 94.8v3.3M273.2 121.3v3.3M274.9 58.3v3.3M276.5 35.1v3.3M276.5 121.3v3.3M278.1 5.3v3.3M278.1 11.9v3.3M278.1 25.2v3.3M278.1 61.6v3.3M278.1 108.0v3.3M278.1 114.7v3.3M278.1 134.5v3.3M278.1 161.0v3.3M278.1 167.7v3.3M278.1 174.3v6.6M278.1 184.2v3.3M278.1 190.9v3.3M281.3 58.3v3.3M286.0 121.3v3.3M287.6 48.4v3.3M289.2 48.4v3.3M290.9 28.5v3.3M290.9 48.4v3.3M290.9 121.3v3.3M292.5 58.3v3.3M292.5 65.0v3.3M295.7 48.4v3.3M295.7 94.8v3.3M297.4 65.0v3.3M311.8 101.4v3.3M311.8 147.8v3.3M313.4 147.8v3.3M320.1 21.9v3.3M320.1 35.1v3.3M320.1 61.6v6.6M320.1 81.5v3.3M320.1 104.7v3.3M320.1 134.5v3.3M320.1 154.4v3.3M323.4 58.3v3.3M325.1 25.2v3.3M325.1 35.1v3.3M325.1 51.7v3.3M325.1 68.3v3.3M325.1 114.7v3.3M325.1 127.9v6.6M325.1 151.1v3.3M325.1 157.7v3.3M325.1 197.5v3.3M328.4 18.6v6.6M328.4 28.5v3.3M328.4 48.4v3.3M328.4 58.3v3.3M328.4 74.9v3.3M328.4 84.8v3.3M328.4 94.8v6.6M328.4 104.7v9.9M328.4 118.0v3.3M328.4 131.2v3.3M328.4 137.8v3.3M328.4 144.5v3.3M328.4 151.1v3.3M328.4 157.7v3.3M328.4 164.4v6.6M328.4 180.9v3.3M328.4 190.9v3.3M328.4 197.5v3.3M330.0 111.3v3.3M331.7 11.9v3.3M331.7 18.6v3.3M331.7 35.1v3.3M331.7 55.0v3.3M331.7 68.3v6.6M331.7 78.2v3.3M331.7 91.5v3.3M331.7 124.6v3.3M331.7 144.5v6.6M331.7 177.6v3.3M331.7 190.9v3.3M331.7 197.5v3.3M335.0 131.2v3.3M338.3 5.3v3.3M338.3 21.9v3.3M338.3 74.9v6.6M338.3 84.8v3.3M338.3 101.4v3.3M338.3 111.3v6.6M338.3 127.9v6.6M338.3 141.2v3.3M338.3 151.1v6.6M338.3 167.7v3.3M338.3 177.6v3.3M338.3 184.2v3.3M338.3 190.9v3.3M341.7 48.4v3.3M341.7 141.2v3.3M343.3 48.4v3.3M350.1 28.5v3.3M351.6 28.5v3.3M353.2 101.4v3.3M354.8 48.4v3.3M356.4 48.4v3.3M356.4 101.4v3.3M359.6 48.4v3.3M361.2 28.5v3.3M364.4 58.3v3.3M367.6 68.3v6.6M367.6 78.2v3.3M367.6 98.1v3.3M367.6 127.9v3.3M367.6 147.8v3.3M367.6 174.3v3.3M367.6 187.5v3.3M369.2 2.0v6.6M369.2 15.3v3.3M369.2 25.2v3.3M369.2 61.6v3.3M369.2 78.2v3.3M369.2 91.5v9.9M369.2 104.7v3.3M369.2 114.7v6.6M369.2 134.5v6.6M369.2 151.1v3.3M369.2 161.0v3.3M369.2 167.7v3.3M369.2 187.5v3.3M369.2 197.5v3.3M378.4 48.4v3.3M378.4 65.0v3.3M384.8 28.5v3.3M391.2 2.0v9.9M391.2 25.2v3.3M391.2 41.8v3.3M391.2 68.3v6.6M391.2 94.8v3.3M391.2 101.4v16.6M391.2 131.2v3.3M391.2 137.8v3.3M391.2 144.5v3.3M391.2 180.9v3.3M392.7 28.5v3.3M392.7 147.8v3.3M395.9 18.6v3.3M395.9 35.1v6.6M395.9 55.0v3.3M395.9 71.6v3.3M395.9 78.2v13.3M395.9 124.6v6.6M395.9 144.5v3.3M395.9 161.0v3.3M395.9 167.7v3.3M395.9 197.5v3.3M397.5 2.0v3.3M397.5 21.9v3.3M397.5 31.8v3.3M397.5 45.1v6.6M397.5 55.0v3.3M397.5 61.6v3.3M397.5 101.4v6.6M397.5 111.3v6.6M397.5 134.5v3.3M397.5 151.1v3.3M397.5 157.7v3.3M397.5 164.4v3.3M397.5 180.9v3.3M397.5 190.9v6.6M400.7 190.9v3.3M402.3 11.9v3.3M402.3 18.6v9.9M402.3 35.1v3.3M402.3 41.8v13.3M402.3 101.4v3.3M402.3 111.3v6.6M402.3 124.6v9.9M402.3 154.4v3.3M402.3 177.6v3.3M413.4 65.0v3.3M414.9 164.4v3.3M416.5 121.3v3.3M418.0 28.5v3.3M418.0 94.8v3.3M419.6 147.8v3.3M422.7 121.3v3.3M424.3 94.8v3.3M424.3 121.3v3.3M425.8 121.3v3.3M429.0 147.8v3.3M436.7 65.0v3.3M438.3 121.3v3.3M443.2 48.4v3.3M451.3 121.3v3.3M454.5 38.4v3.3M454.5 48.4v3.3M454.5 68.3v3.3M454.5 98.1v3.3M454.5 118.0v3.3M454.5 127.9v3.3M454.5 144.5v3.3M454.5 154.4v3.3M454.5 190.9v6.6M456.1 8.6v3.3M456.1 18.6v9.9M456.1 31.8v13.3M456.1 48.4v3.3M456.1 71.6v9.9M456.1 84.8v3.3M456.1 98.1v6.6M456.1 154.4v3.3M456.1 167.7v3.3M456.1 174.3v3.3M456.1 187.5v13.3M457.7 38.4v3.3M457.7 48.4v6.6M457.7 81.5v3.3M457.7 108.0v3.3M457.7 114.7v3.3M457.7 134.5v3.3M457.7 151.1v3.3M457.7 161.0v3.3M457.7 167.7v6.6M457.7 190.9v3.3M459.3 5.3v3.3M459.3 25.2v3.3M459.3 31.8v3.3M459.3 61.6v3.3M459.3 98.1v3.3M459.3 114.7v3.3M459.3 127.9v3.3M459.3 137.8v6.6M459.3 154.4v3.3M459.3 161.0v9.9M459.3 187.5v3.3M459.3 197.5v3.3M466.0 111.3v3.3M466.0 144.5v3.3M470.7 2.0v6.6M470.7 35.1v6.6M470.7 61.6v9.9M470.7 78.2v3.3M470.7 91.5v3.3M470.7 101.4v3.3M470.7 118.0v3.3M470.7 147.8v3.3M470.7 157.7v3.3M470.7 164.4v3.3M470.7 184.2v3.3M473.9 58.3v3.3M477.1 5.3v3.3M477.1 11.9v9.9M477.1 28.5v3.3M477.1 35.1v9.9M477.1 48.4v3.3M477.1 61.6v6.6M477.1 71.6v6.6M477.1 84.8v3.3M477.1 91.5v3.3M477.1 101.4v3.3M477.1 111.3v3.3M477.1 121.3v3.3M477.1 127.9v6.6M477.1 147.8v3.3M477.1 177.6v3.3M477.1 187.5v3.3M483.4 94.8v3.3M489.5 48.4v3.3M492.7 121.3v3.3M494.2 121.3v3.3M495.8 94.8v3.3M497.4 48.4v3.3M503.7 48.4v3.3M503.7 58.3v3.3M503.7 94.8v3.3M503.7 101.4v3.3M505.3 58.3v3.3M510.0 2.0v6.6M510.0 11.9v3.3M510.0 25.2v6.6M510.0 35.1v6.6M510.0 55.0v3.3M510.0 68.3v3.3M510.0 81.5v3.3M510.0 91.5v6.6M510.0 104.7v9.9M510.0 131.2v3.3M510.0 137.8v3.3M510.0 151.1v3.3M510.0 161.0v3.3M510.0 167.7v6.6M510.0 177.6v3.3M510.0 190.9v3.3M510.0 197.5v3.3M526.1 121.3v3.3M536.1 51.7v3.3M547.5 94.8v3.3M547.5 101.4v3.3M549.1 121.3v3.3M550.8 121.3v3.3M552.5 147.8v3.3M554.1 94.8v3.3M554.1 177.6v3.3M555.8 147.8v3.3M557.4 31.8v3.3M557.4 65.0v3.3M557.4 78.2v3.3M557.4 101.4v3.3M559.1 94.8v3.3M560.8 28.5v3.3M562.4 65.0v3.3M562.4 151.1v3.3M565.8 147.8v3.3M567.4 65.0v3.3M573.7 58.3v3.3M573.7 94.8v3.3M575.3 58.3v3.3M581.6 58.3v3.3M586.3 78.2v3.3M586.3 88.1v3.3M592.6 38.4v3.3M594.2 58.3v3.3M597.5 94.8v3.3M599.1 58.3v3.3M599.1 98.1v3.3M599.1 127.9v3.3M600.8 58.3v3.3M600.8 121.3v3.3M602.4 28.5v3.3M604.1 41.8v3.3M604.1 174.3v3.3M615.2 48.4v3.3M615.2 121.3v3.3M616.8 147.8v3.3M620.0 65.0v3.3M621.6 48.4v3.3M621.6 101.4v3.3M623.2 65.0v3.3M624.8 48.4v3.3M629.6 28.5v3.3M635.6 94.8v3.3M642.2 41.8v3.3M642.2 48.4v6.6M642.2 61.6v6.6M642.2 74.9v3.3M642.2 81.5v3.3M642.2 88.1v3.3M642.2 104.7v3.3M642.2 111.3v3.3M642.2 121.3v3.3M642.2 127.9v3.3M642.2 154.4v3.3M642.2 161.0v6.6M642.2 171.0v3.3M642.2 177.6v3.3M642.2 184.2v3.3M642.2 190.9v3.3M643.9 2.0v3.3M643.9 38.4v3.3M643.9 114.7v3.3M643.9 134.5v9.9M643.9 151.1v3.3M643.9 174.3v6.6M643.9 184.2v3.3M643.9 194.2v3.3M645.5 58.3v3.3M645.5 94.8v3.3M647.2 58.3v3.3M647.2 65.0v3.3M648.8 8.6v3.3M648.8 21.9v3.3M648.8 38.4v13.3M648.8 61.6v3.3M648.8 71.6v3.3M648.8 88.1v6.6M648.8 98.1v3.3M648.8 108.0v3.3M648.8 121.3v3.3M648.8 131.2v6.6M648.8 147.8v9.9M648.8 167.7v3.3M648.8 180.9v3.3M650.5 28.5v3.3M652.1 65.0v3.3M655.5 21.9v3.3M655.5 174.3v3.3M657.1 2.0v3.3M657.1 171.0v3.3M658.8 171.0v3.3M665.2 28.5v3.3M665.2 184.2v3.3M666.9 58.3v3.3M666.9 147.8v3.3M670.2 58.3v3.3M670.2 118.0v3.3M675.3 141.2v3.3M676.9 101.4v3.3M678.6 147.8v3.3"/>
<path stroke="rgb(30, 130, 250)" stroke-width="1.15" stroke-opacity="0.630" d="M247.3 48.4v3.3M250.5 147.8v3.3M252.1 65.0v3.3M255.4 65.0v3.3M257.0 65.0v3.3M258.6 147.8v3.3M265.1 94.8v3.3M268.4 58.3v3.3M268.4 94.8v3.3M268.4 147.8v3.3M270.0 2.0v6.6M270.0 25.2v3.3M270.0 45.1v3.3M270.0 71.6v3.3M270.0 88.1v3.3M270.0 101.4v3.3M270.0 114.7v3.3M270.0 127.9v6.6M270.0 174.3v3.3M271.6 147.8v3.3M273.2 28.5v3.3M273.2 58.3v3.3M273.2 94.8v3.3M274.9 121.3v3.3M278.1 18.6v3.3M278.1 31.8v3.3M278.1 41.8v3.3M278.1 68.3v3.3M278.1 78.2v3.3M278.1 84.8v3.3M278.1 111.3v3.3M278.1 118.0v3.3M278.1 137.8v3.3M278.1 164.4v3.3M279.7 94.8v3.3M281.3 48.4v3.3M281.3 147.8v3.3M286.0 147.8v3.3M292.5 28.5v3.3M292.5 121.3v3.3M294.1 58.3v3.3M294.1 65.0v3.3M294.1 147.8v3.3M295.7 65.0v3.3M295.7 147.8v3.3M297.4 48.4v3.3M297.4 58.3v3.3M297.4 94.8v3.3M297.4 147.8v3.3M299.0 58.3v3.3M299.0 121.3v3.3M300.6 94.8v3.3M300.6 147.8v3.3M302.2 58.3v3.3M302.2 101.4v3.3M303.9 147.8v3.3M305.5 101.4v3.3M313.4 65.0v3.3M313.4 94.8v3.3M313.4 121.3v3.3M315.1 65.0v3.3M315.1 101.4v3.3M315.1 121.3v3.3M316.8 65.0v3.3M316.8 121.3v3.3M320.1 25.2v3.3M320.1 147.8v3.3M323.4 65.0v3.3M323.4 101.4v3.3M325.1 2.0v3.3M325.1 21.9v3.3M325.1 38.4v3.3M325.1 55.0v3.3M325.1 91.5v3.3M325.1 108.0v3.3M325.1 121.3v3.3M325.1 161.0v3.3M325.1 167.7v3.3M325.1 177.6v3.3M325.1 187.5v3.3M326.7 28.5v3.3M326.7 101.4v3.3M328.4 2.0v9.9M328.4 25.2v3.3M328.4 35.1v3.3M328.4 45.1v3.3M328.4 55.0v3.3M328.4 65.0v3.3M328.4 91.5v3.3M328.4 121.3v6.6M328.4 141.2v3.3M328.4 147.8v3.3M328.4 177.6v3.3M328.4 184.2v3.3M330.0 28.5v3.3M330.0 58.3v3.3M330.0 65.0v3.3M330.0 101.4v3.3M331.7 2.0v3.3M331.7 48.4v3.3M331.7 58.3v3.3M331.7 94.8v3.3M331.7 121.3v3.3M333.4 41.8v3.3M333.4 124.6v3.3M333.4 141.2v3.3M335.0 8.6v3.3M335.0 18.6v3.3M335.0 25.2v6.6M335.0 51.7v3.3M335.0 78.2v6.6M335.0 88.1v3.3M335.0 108.0v6.6M335.0 124.6v3.3M335.0 134.5v3.3M335.0 141.2v6.6M335.0 167.7v3.3M335.0 174.3v6.6M335.0 197.5v3.3M336.7 28.5v3.3M336.7 94.8v3.3M338.3 2.0v3.3M338.3 11.9v3.3M338.3 18.6v3.3M338.3 28.5v3.3M338.3 35.1v16.6M338.3 55.0v6.6M338.3 65.0v3.3M338.3 71.6v3.3M338.3 81.5v3.3M338.3 157.7v3.3M340.0 94.8v3.3M340.0 121.3v3.3M341.7 28.5v3.3M348.4 101.4v3.3M350.1 65.0v3.3M351.6 58.3v3.3M353.2 58.3v3.3M354.8 58.3v3.3M354.8 101.4v3.3M359.6 94.8v3.3M361.2 48.4v3.3M361.2 101.4v3.3M362.8 48.4v3.3M362.8 101.4v3.3M364.4 28.5v3.3M364.4 101.4v3.3M366.0 48.4v3.3M366.0 101.4v3.3M367.6 21.9v3.3M367.6 31.8v3.3M367.6 45.1v3.3M367.6 58.3v6.6M367.6 74.9v3.3M367.6 81.5v3.3M367.6 108.0v6.6M367.6 131.2v3.3M367.6 137.8v6.6M367.6 157.7v9.9M367.6 171.0v3.3M367.6 190.9v3.3M367.6 197.5v3.3M369.2 18.6v6.6M369.2 31.8v3.3M369.2 38.4v3.3M369.2 48.4v6.6M369.2 65.0v3.3M369.2 84.8v6.6M369.2 111.3v3.3M369.2 124.6v6.6M369.2 141.2v3.3M369.2 154.4v3.3M369.2 174.3v3.3M369.2 184.2v3.3M370.8 48.4v3.3M370.8 101.4v3.3M372.4 58.3v3.3M374.0 147.8v3.3M378.4 58.3v3.3M378.4 147.8v3.3M380.0 58.3v3.3M381.6 147.8v3.3M384.8 147.8v3.3M386.4 28.5v3.3M391.2 15.3v3.3M391.2 48.4v3.3M391.2 58.3v3.3M391.2 65.0v3.3M391.2 74.9v9.9M391.2 98.1v3.3M391.2 147.8v3.3M391.2 171.0v3.3M391.2 177.6v3.3M391.2 190.9v3.3M395.9 2.0v3.3M395.9 8.6v6.6M395.9 28.5v3.3M395.9 45.1v6.6M395.9 58.3v3.3M395.9 65.0v3.3M395.9 91.5v6.6M395.9 101.4v3.3M395.9 108.0v3.3M395.9 114.7v3.3M395.9 121.3v3.3M395.9 131.2v3.3M395.9 137.8v3.3M395.9 151.1v6.6M395.9 164.4v3.3M395.9 187.5v3.3M397.5 5.3v6.6M397.5 15.3v3.3M397.5 38.4v3.3M397.5 65.0v3.3M397.5 71.6v6.6M397.5 81.5v3.3M397.5 94.8v3.3M397.5 108.0v3.3M397.5 154.4v3.3M397.5 167.7v6.6M397.5 177.6v3.3M397.5 184.2v6.6M397.5 197.5v3.3M399.1 28.5v3.3M399.1 65.0v3.3M400.7 28.5v3.3M402.3 2.0v3.3M402.3 15.3v3.3M402.3 74.9v3.3M402.3 81.5v16.6M402.3 118.0v6.6M402.3 134.5v3.3M402.3 147.8v6.6M402.3 164.4v3.3M402.3 174.3v3.3M402.3 184.2v3.3M402.3 197.5v3.3M403.9 28.5v3.3M403.9 94.8v3.3M403.9 147.8v3.3M413.4 147.8v3.3M414.9 65.0v3.3M416.5 28.5v3.3M416.5 94.8v3.3M418.0 121.3v3.3M418.0 147.8v3.3M419.6 65.0v3.3M421.2 147.8v3.3M422.7 65.0v3.3M422.7 94.8v3.3M425.8 94.8v3.3M427.4 48.4v3.3M427.4 147.8v3.3M433.5 28.5v3.3M433.5 65.0v3.3M433.5 121.3v3.3M436.7 28.5v3.3M438.3 28.5v3.3M439.9 48.4v3.3M443.2 121.3v3.3M444.8 48.4v3.3M444.8 65.0v3.3M446.4 65.0v3.3M448.0 48.4v3.3M448.0 121.3v3.3M449.6 48.4v3.3M449.6 65.0v3.3M449.6 121.3v3.3M454.5 121.3v3.3M456.1 28.5v3.3M456.1 141.2v3.3M457.7 2.0v6.6M457.7 25.2v3.3M457.7 31.8v3.3M457.7 45.1v3.3M457.7 68.3v3.3M457.7 94.8v3.3M457.7 121.3v3.3M457.7 127.9v6.6M457.7 141.2v3.3M457.7 154.4v6.6M457.7 177.6v3.3M457.7 184.2v3.3M459.3 8.6v3.3M459.3 15.3v9.9M459.3 35.1v6.6M459.3 65.0v3.3M459.3 78.2v3.3M459.3 84.8v6.6M459.3 94.8v3.3M459.3 101.4v6.6M459.3 111.3v3.3M459.3 134.5v3.3M459.3 144.5v6.6M459.3 180.9v3.3M459.3 190.9v6.6M466.0 101.4v3.3M466.0 141.2v3.3M467.6 48.4v3.3M467.6 58.3v3.3M467.6 101.4v3.3M469.2 48.4v3.3M469.2 58.3v3.3M470.7 74.9v3.3M472.3 28.5v3.3M475.5 58.3v3.3M477.1 2.0v3.3M477.1 31.8v3.3M477.1 58.3v3.3M477.1 154.4v3.3M477.1 194.2v3.3M478.6 94.8v3.3M478.6 147.8v3.3M480.2 94.8v3.3M480.2 147.8v3.3M481.8 94.8v3.3M487.9 58.3v3.3M487.9 94.8v3.3M489.5 58.3v3.3M491.1 58.3v3.3M491.1 65.0v3.3M491.1 94.8v3.3M492.7 94.8v3.3M494.2 101.4v3.3M495.8 101.4v3.3M495.8 121.3v3.3M497.4 58.3v3.3M497.4 65.0v3.3M499.0 48.4v3.3M499.0 94.8v3.3M499.0 101.4v3.3M502.1 48.4v3.3M503.7 121.3v3.3M505.3 121.3v3.3M506.9 65.0v3.3M506.9 121.3v3.3M510.0 48.4v3.3M510.0 121.3v3.3M510.0 157.7v3.3M510.0 164.4v3.3M511.6 28.5v3.3M511.6 58.3v3.3M513.2 28.5v3.3M513.2 48.4v3.3M513.2 58.3v3.3M517.8 101.4v3.3M519.4 28.5v3.3M519.4 65.0v3.3M519.4 101.4v3.3M522.8 28.5v3.3M522.8 121.3v3.3M524.4 65.0v3.3M526.1 65.0v3.3M526.1 94.8v3.3M527.8 121.3v3.3M529.4 65.0v3.3M529.4 94.8v3.3M532.7 94.8v3.3M534.4 94.8v3.3M536.1 15.3v3.3M536.1 31.8v3.3M536.1 38.4v3.3M536.1 104.7v6.6M536.1 118.0v3.3M536.1 124.6v3.3M536.1 137.8v9.9M536.1 154.4v3.3M536.1 171.0v3.3M536.1 184.2v3.3M542.5 28.5v3.3M542.5 121.3v3.3M544.1 28.5v3.3M545.8 28.5v3.3M545.8 94.8v3.3M545.8 121.3v3.3M547.5 28.5v3.3M549.1 65.0v3.3M549.1 101.4v3.3M550.8 18.6v3.3M550.8 65.0v3.3M550.8 94.8v3.3M550.8 101.4v3.3M550.8 147.8v3.3M552.5 94.8v3.3M554.1 101.4v3.3M554.1 127.9v3.3M554.1 147.8v3.3M557.4 121.3v3.3M557.4 147.8v3.3M559.1 121.3v3.3M560.8 94.8v3.3M560.8 147.8v3.3M564.1 147.8v3.3M565.8 58.3v3.3M567.4 101.4v3.3M573.7 121.3v3.3M576.9 58.3v3.3M576.9 121.3v3.3M580.0 94.8v3.3M580.0 121.3v3.3M581.6 94.8v3.3M583.1 58.3v3.3M583.1 94.8v3.3M584.7 58.3v3.3M586.3 65.0v3.3M587.9 65.0v3.3M592.6 58.3v3.3M592.6 101.4v3.3M592.6 121.3v3.3M592.6 154.4v3.3M594.2 65.0v3.3M594.2 101.4v3.3M594.2 121.3v3.3M594.2 147.8v3.3M595.9 58.3v3.3M595.9 94.8v3.3M595.9 121.3v3.3M597.5 28.5v3.3M597.5 48.4v3.3M597.5 65.0v3.3M597.5 121.3v3.3M599.1 28.5v3.3M599.1 48.4v3.3M599.1 65.0v3.3M599.1 94.8v3.3M599.1 147.8v3.3M600.8 28.5v3.3M600.8 48.4v3.3M600.8 147.8v3.3M602.4 121.3v3.3M602.4 147.8v3.3M604.1 58.3v3.3M604.1 94.8v3.3M604.1 121.3v6.6M605.7 48.4v3.3M605.7 147.8v3.3M607.3 28.5v3.3M607.3 58.3v3.3M609.0 28.5v3.3M609.0 58.3v3.3M609.0 147.8v3.3M610.6 28.5v3.3M610.6 48.4v3.3M615.2 65.0v3.3M618.4 28.5v3.3M618.4 48.4v3.3M618.4 65.0v3.3M618.4 121.3v3.3M618.4 147.8v3.3M620.0 28.5v3.3M620.0 101.4v3.3M621.6 28.5v3.3M621.6 121.3v3.3M623.2 28.5v3.3M623.2 48.4v3.3M623.2 101.4v3.3M624.8 101.4v3.3M628.0 48.4v3.3M628.0 65.0v3.3M629.6 48.4v3.3M629.6 101.4v3.3M631.2 28.5v3.3M631.2 65.0v3.3M635.6 28.5v3.3M635.6 58.3v3.3M637.2 28.5v3.3M637.2 94.8v3.3M638.9 28.5v3.3M638.9 94.8v3.3M638.9 101.4v3.3M640.5 58.3v3.3M642.2 94.8v3.3M642.2 101.4v3.3M643.9 18.6v3.3M643.9 45.1v3.3M643.9 65.0v3.3M643.9 81.5v3.3M643.9 88.1v3.3M643.9 94.8v3.3M643.9 104.7v9.9M643.9 144.5v3.3M643.9 161.0v6.6M643.9 180.9v3.3M645.5 28.5v3.3M645.5 65.0v3.3M647.2 101.4v3.3M648.8 2.0v6.6M648.8 58.3v3.3M648.8 81.5v3.3M648.8 118.0v3.3M648.8 124.6v6.6M648.8 157.7v3.3M648.8 171.0v3.3M648.8 177.6v3.3M648.8 197.5v3.3M650.5 101.4v3.3M652.1 28.5v3.3M652.1 58.3v3.3M652.1 88.1v3.3M652.1 144.5v3.3M653.8 101.4v3.3M657.1 58.3v3.3M657.1 101.4v3.3M658.8 58.3v3.3M658.8 137.8v3.3M660.4 58.3v3.3M665.2 58.3v3.3M666.9 28.5v3.3M668.5 101.4v3.3M670.2 101.4v3.3M671.9 58.3v3.3M673.6 58.3v3.3M673.6 101.4v3.3M675.3 15.3v3.3M675.3 21.9v3.3M675.3 28.5v3.3M675.3 38.4v3.3M675.3 45.1v9.9M675.3 61.6v6.6M675.3 74.9v6.6M675.3 88.1v6.6M675.3 98.1v3.3M675.3 124.6v3.3M675.3 174.3v3.3M675.3 184.2v3.3M675.3 197.5v3.3M676.9 147.8v3.3"/>
<path stroke="rgb(30, 130, 250)" stroke-width="1.15" stroke-opacity="0.720" d="M245.7 28.5v3.3M245.7 58.3v3.3M245.7 94.8v3.3M245.7 121.3v3.3M247.3 94.8v3.3M247.3 147.8v3.3M248.9 48.4v3.3M250.5 48.4v3.3M252.1 48.4v3.3M252.1 121.3v3.3M255.4 147.8v3.3M257.0 147.8v3.3M258.6 65.0v3.3M260.3 147.8v3.3M261.9 147.8v3.3M263.5 28.5v3.3M265.1 147.8v3.3M266.7 147.8v3.3M268.4 28.5v3.3M268.4 121.3v3.3M270.0 8.6v3.3M270.0 18.6v3.3M270.0 35.1v3.3M270.0 81.5v6.6M270.0 91.5v3.3M270.0 108.0v3.3M270.0 164.4v3.3M270.0 171.0v3.3M270.0 190.9v3.3M270.0 197.5v3.3M271.6 48.4v3.3M271.6 61.6v3.3M271.6 91.5v3.3M271.6 108.0v3.3M271.6 164.4v3.3M271.6 174.3v3.3M271.6 184.2v3.3M273.2 65.0v3.3M273.2 147.8v3.3M276.5 58.3v3.3M276.5 147.8v3.3M278.1 2.0v3.3M278.1 28.5v3.3M278.1 35.1v3.3M278.1 48.4v6.6M278.1 58.3v3.3M278.1 81.5v3.3M278.1 91.5v3.3M278.1 98.1v6.6M278.1 131.2v3.3M278.1 144.5v3.3M278.1 151.1v3.3M278.1 171.0v3.3M278.1 194.2v6.6M279.7 48.4v3.3M279.7 58.3v3.3M281.3 94.8v3.3M281.3 101.4v3.3M286.0 48.4v3.3M287.6 121.3v3.3M287.6 147.8v3.3M289.2 65.0v3.3M289.2 121.3v3.3M289.2 147.8v3.3M290.9 65.0v3.3M292.5 147.8v3.3M294.1 28.5v3.3M294.1 48.4v3.3M294.1 121.3v3.3M295.7 58.3v3.3M297.4 121.3v3.3M299.0 147.8v3.3M300.6 58.3v3.3M300.6 121.3v3.3M302.2 121.3v3.3M302.2 147.8v3.3M303.9 58.3v3.3M303.9 101.4v3.3M303.9 121.3v3.3M305.5 58.3v3.3M305.5 121.3v3.3M307.1 28.5v3.3M307.1 101.4v3.3M307.1 121.3v3.3M311.8 65.0v3.3M311.8 94.8v3.3M311.8 121.3v3.3M313.4 101.4v3.3M316.8 101.4v3.3M318.4 101.4v3.3M320.1 101.4v3.3M321.7 101.4v3.3M323.4 48.4v3.3M325.1 5.3v6.6M325.1 15.3v6.6M325.1 48.4v3.3M325.1 65.0v3.3M325.1 94.8v13.3M325.1 118.0v3.3M325.1 124.6v3.3M325.1 154.4v3.3M325.1 164.4v3.3M325.1 180.9v6.6M325.1 190.9v3.3M326.7 48.4v3.3M326.7 58.3v3.3M326.7 65.0v3.3M328.4 78.2v3.3M328.4 101.4v3.3M330.0 48.4v3.3M330.0 121.3v3.3M331.7 28.5v3.3M331.7 101.4v3.3M333.4 15.3v3.3M333.4 35.1v6.6M333.4 45.1v3.3M333.4 55.0v3.3M333.4 61.6v3.3M333.4 74.9v3.3M333.4 171.0v6.6M333.4 197.5v3.3M335.0 2.0v3.3M335.0 31.8v6.6M335.0 74.9v3.3M335.0 114.7v3.3M335.0 151.1v3.3M335.0 157.7v3.3M335.0 171.0v3.3M335.0 184.2v6.6M338.3 88.1v3.3M338.3 94.8v3.3M340.0 28.5v3.3M340.0 48.4v3.3M340.0 58.3v3.3M341.7 121.3v3.3M343.3 28.5v3.3M343.3 58.3v3.3M343.3 121.3v3.3M350.1 58.3v3.3M350.1 101.4v3.3M351.6 65.0v3.3M351.6 101.4v3.3M353.2 28.5v3.3M356.4 94.8v3.3M358.1 48.4v3.3M358.1 94.8v3.3M358.1 101.4v3.3M359.6 101.4v3.3M362.8 28.5v3.3M362.8 94.8v3.3M364.4 48.4v3.3M366.0 28.5v3.3M367.6 28.5v3.3M367.6 35.1v3.3M367.6 55.0v3.3M367.6 91.5v6.6M367.6 101.4v6.6M367.6 114.7v3.3M367.6 154.4v3.3M367.6 180.9v3.3M369.2 58.3v3.3M369.2 101.4v3.3M369.2 144.5v3.3M370.8 58.3v3.3M372.4 48.4v3.3M372.4 147.8v3.3M374.0 58.3v3.3M380.0 65.0v3.3M380.0 147.8v3.3M381.6 58.3v3.3M383.2 28.5v3.3M383.2 58.3v3.3M383.2 121.3v3.3M383.2 147.8v3.3M389.6 28.5v3.3M391.2 28.5v3.3M391.2 118.0v3.3M391.2 157.7v3.3M394.3 28.5v3.3M395.9 15.3v3.3M395.9 21.9v3.3M395.9 41.8v3.3M395.9 51.7v3.3M395.9 61.6v3.3M395.9 68.3v3.3M395.9 74.9v3.3M395.9 98.1v3.3M395.9 111.3v3.3M395.9 141.2v3.3M395.9 147.8v3.3M395.9 157.7v3.3M395.9 177.6v9.9M395.9 190.9v6.6M397.5 11.9v3.3M397.5 18.6v3.3M397.5 28.5v3.3M397.5 41.8v3.3M397.5 58.3v3.3M397.5 68.3v3.3M397.5 78.2v3.3M397.5 84.8v9.9M397.5 121.3v6.6M397.5 131.2v3.3M397.5 137.8v3.3M397.5 144.5v6.6M397.5 161.0v3.3M399.1 94.8v3.3M399.1 147.8v3.3M400.7 58.3v3.3M400.7 65.0v3.3M400.7 94.8v3.3M400.7 147.8v3.3M402.3 5.3v3.3M402.3 28.5v3.3M402.3 65.0v3.3M402.3 71.6v3.3M402.3 78.2v3.3M402.3 98.1v3.3M402.3 137.8v3.3M402.3 171.0v3.3M402.3 180.9v3.3M402.3 187.5v6.6M405.5 28.5v3.3M405.5 58.3v3.3M405.5 94.8v3.3M405.5 147.8v3.3M411.8 28.5v3.3M411.8 48.4v3.3M411.8 65.0v3.3M411.8 94.8v3.3M413.4 48.4v3.3M414.9 48.4v3.3M414.9 94.8v3.3M414.9 121.3v3.3M414.9 147.8v3.3M416.5 65.0v3.3M416.5 147.8v3.3M418.0 48.4v3.3M418.0 65.0v3.3M419.6 48.4v3.3M419.6 94.8v3.3M419.6 121.3v3.3M421.2 48.4v3.3M421.2 94.8v3.3M422.7 48.4v3.3M422.7 147.8v3.3M424.3 48.4v3.3M425.8 48.4v3.3M427.4 94.8v3.3M433.5 101.4v3.3M435.1 28.5v3.3M435.1 65.0v3.3M435.1 101.4v3.3M435.1 121.3v3.3M438.3 65.0v3.3M441.5 65.0v3.3M443.2 65.0v3.3M444.8 121.3v3.3M446.4 48.4v3.3M448.0 65.0v3.3M451.3 48.4v3.3M452.9 48.4v3.3M452.9 65.0v3.3M452.9 121.3v3.3M454.5 58.3v3.3M454.5 65.0v3.3M454.5 88.1v3.3M454.5 180.9v3.3M456.1 58.3v3.3M456.1 147.8v3.3M457.7 15.3v6.6M457.7 28.5v3.3M457.7 55.0v13.3M457.7 74.9v3.3M457.7 118.0v3.3M457.7 147.8v3.3M457.7 164.4v3.3M459.3 2.0v3.3M459.3 11.9v3.3M459.3 28.5v3.3M459.3 41.8v13.3M459.3 68.3v6.6M459.3 91.5v3.3M459.3 108.0v3.3M459.3 124.6v3.3M459.3 157.7v3.3M459.3 174.3v6.6M459.3 184.2v3.3M464.4 48.4v3.3M464.4 58.3v3.3M466.0 48.4v3.3M466.0 58.3v3.3M470.7 28.5v3.3M470.7 48.4v3.3M470.7 58.3v3.3M472.3 58.3v3.3M472.3 147.8v3.3M475.5 147.8v3.3M481.8 147.8v3.3M487.9 48.4v3.3M489.5 65.0v3.3M489.5 94.8v3.3M489.5 101.4v3.3M491.1 48.4v3.3M491.1 101.4v3.3M491.1 121.3v3.3M492.7 48.4v3.3M492.7 65.0v3.3M492.7 101.4v3.3M494.2 94.8v3.3M495.8 58.3v3.3M497.4 94.8v3.3M497.4 101.4v3.3M499.0 58.3v3.3M499.0 121.3v3.3M500.6 48.4v3.3M500.6 58.3v3.3M500.6 94.8v3.3M500.6 121.3v3.3M502.1 94.8v3.3M502.1 121.3v3.3M503.7 65.0v3.3M505.3 65.0v3.3M505.3 94.8v3.3M506.9 94.8v3.3M508.4 58.3v3.3M508.4 121.3v3.3M510.0 58.3v3.3M510.0 141.2v3.3M511.6 48.4v3.3M511.6 121.3v3.3M517.8 28.5v3.3M521.1 28.5v3.3M521.1 121.3v3.3M522.8 48.4v3.3M522.8 65.0v3.3M524.4 121.3v3.3M527.8 65.0v3.3M527.8 94.8v3.3M531.1 65.0v3.3M532.7 65.0v3.3M536.1 2.0v3.3M536.1 11.9v3.3M536.1 21.9v3.3M536.1 28.5v3.3M536.1 48.4v3.3M536.1 55.0v3.3M536.1 65.0v6.6M536.1 84.8v9.9M536.1 121.3v3.3M536.1 127.9v3.3M536.1 147.8v6.6M536.1 161.0v3.3M536.1 167.7v3.3M536.1 177.6v3.3M536.1 187.5v9.9M537.7 58.3v3.3M542.5 94.8v3.3M542.5 101.4v3.3M544.1 101.4v3.3M545.8 65.0v3.3M547.5 65.0v3.3M549.1 94.8v3.3M549.1 147.8v3.3M552.5 121.3v3.3M554.1 65.0v3.3M554.1 121.3v3.3M555.8 65.0v3.3M555.8 94.8v3.3M555.8 101.4v3.3M557.4 48.4v3.3M557.4 94.8v3.3M559.1 28.5v3.3M559.1 65.0v3.3M559.1 147.8v3.3M560.8 48.4v3.3M560.8 65.0v3.3M562.4 147.8v3.3M564.1 48.4v3.3M564.1 58.3v3.3M565.8 28.5v3.3M565.8 101.4v3.3M567.4 28.5v3.3M567.4 58.3v3.3M572.1 58.3v3.3M572.1 121.3v3.3M575.3 94.8v3.3M576.9 94.8v3.3M578.4 58.3v3.3M578.4 94.8v3.3M580.0 58.3v3.3M581.6 121.3v3.3M583.1 48.4v3.3M583.1 121.3v3.3M584.7 48.4v3.3M586.3 48.4v3.3M586.3 58.3v3.3M587.9 58.3v3.3M594.2 48.4v3.3M594.2 94.8v3.3M595.9 28.5v3.3M595.9 147.8v3.3M597.5 147.8v3.3M600.8 65.0v3.3M600.8 94.8v3.3M602.4 58.3v3.3M604.1 28.5v3.3M604.1 48.4v3.3M604.1 147.8v3.3M605.7 58.3v3.3M605.7 121.3v3.3M607.3 94.8v3.3M609.0 121.3v3.3M610.6 94.8v3.3M610.6 147.8v3.3M615.2 101.4v3.3M615.2 147.8v3.3M616.8 48.4v3.3M616.8 65.0v3.3M616.8 101.4v3.3M616.8 121.3v3.3M618.4 101.4v3.3M620.0 48.4v3.3M620.0 121.3v3.3M624.8 28.5v3.3M624.8 65.0v3.3M626.4 28.5v3.3M626.4 48.4v3.3M626.4 65.0v3.3M628.0 28.5v3.3M628.0 101.4v3.3M629.6 65.0v3.3M631.2 101.4v3.3M637.2 58.3v3.3M638.9 58.3v3.3M638.9 65.0v3.3M640.5 65.0v3.3M640.5 94.8v3.3M640.5 101.4v3.3M642.2 58.3v3.3M643.9 15.3v3.3M643.9 28.5v6.6M643.9 58.3v3.3M643.9 71.6v9.9M643.9 98.1v6.6M643.9 118.0v3.3M643.9 124.6v9.9M643.9 154.4v6.6M643.9 167.7v3.3M645.5 101.4v3.3M647.2 28.5v3.3M648.8 65.0v3.3M648.8 94.8v3.3M648.8 101.4v3.3M650.5 65.0v3.3M652.1 101.4v3.3M655.5 58.3v3.3M655.5 101.4v3.3M665.2 147.8v3.3M666.9 65.0v3.3M666.9 101.4v3.3M668.5 28.5v3.3M668.5 58.3v3.3M668.5 65.0v3.3M668.5 147.8v3.3M670.2 147.8v3.3M671.9 101.4v3.3M671.9 147.8v3.3M673.6 147.8v3.3M675.3 31.8v3.3M675.3 55.0v3.3M675.3 81.5v3.3M675.3 114.7v3.3M675.3 121.3v3.3M675.3 127.9v3.3M675.3 134.5v6.6M675.3 151.1v3.3M675.3 157.7v6.6M675.3 180.9v3.3"/>
<path stroke="rgb(30, 130, 250)" stroke-width="1.15" stroke-opacity="0.810" d="M245.7 48.4v3.3M247.3 121.3v3.3M248.9 121.3v3.3M248.9 147.8v3.3M250.5 121.3v3.3M253.8 147.8v3.3M265.1 28.5v3.3M270.0 11.9v6.6M270.0 21.9v3.3M270.0 28.5v6.6M270.0 38.4v6.6M270.0 48.4v23.2M270.0 74.9v6.6M270.0 94.8v6.6M270.0 111.3v3.3M270.0 121.3v6.6M270.0 134.5v9.9M270.0 147.8v13.3M270.0 167.7v3.3M270.0 177.6v13.3M270.0 194.2v3.3M271.6 2.0v9.9M271.6 15.3v33.1M271.6 51.7v9.9M271.6 65.0v26.5M271.6 94.8v13.3M271.6 111.3v29.8M271.6 144.5v3.3M271.6 151.1v13.3M271.6 167.7v6.6M271.6 177.6v6.6M271.6 187.5v13.3M274.9 94.8v3.3M274.9 147.8v3.3M276.5 48.4v3.3M276.5 94.8v3.3M276.5 101.4v3.3M278.1 55.0v3.3M278.1 94.8v3.3M278.1 147.8v3.3M279.7 101.4v3.3M279.7 147.8v3.3M290.9 147.8v3.3M292.5 48.4v3.3M295.7 121.3v3.3M299.0 94.8v3.3M305.5 28.5v3.3M305.5 147.8v3.3M311.8 48.4v3.3M313.4 48.4v3.3M318.4 65.0v3.3M320.1 48.4v3.3M321.7 48.4v3.3M321.7 65.0v3.3M325.1 11.9v3.3M325.1 28.5v6.6M325.1 45.1v3.3M325.1 58.3v3.3M325.1 71.6v19.9M325.1 111.3v3.3M325.1 134.5v16.6M325.1 194.2v3.3M328.4 114.7v3.3M330.0 94.8v3.3M331.7 65.0v3.3M333.4 2.0v13.3M333.4 18.6v16.6M333.4 48.4v6.6M333.4 58.3v3.3M333.4 65.0v9.9M333.4 78.2v46.4M333.4 127.9v13.3M333.4 144.5v26.5M333.4 177.6v19.9M335.0 5.3v3.3M335.0 11.9v6.6M335.0 21.9v3.3M335.0 38.4v13.3M335.0 55.0v19.9M335.0 84.8v3.3M335.0 91.5v16.6M335.0 121.3v3.3M335.0 127.9v3.3M335.0 147.8v3.3M335.0 154.4v3.3M335.0 161.0v6.6M335.0 180.9v3.3M335.0 190.9v6.6M336.7 48.4v3.3M336.7 58.3v3.3M336.7 121.3v3.3M338.3 121.3v3.3M338.3 187.5v3.3M341.7 58.3v3.3M341.7 94.8v3.3M348.4 28.5v3.3M348.4 65.0v3.3M353.2 48.4v3.3M356.4 58.3v3.3M361.2 94.8v3.3M367.6 2.0v19.9M367.6 25.2v3.3M367.6 38.4v6.6M367.6 48.4v6.6M367.6 65.0v3.3M367.6 84.8v3.3M367.6 121.3v6.6M367.6 134.5v3.3M367.6 144.5v3.3M367.6 151.1v3.3M367.6 177.6v3.3M367.6 184.2v3.3M367.6 194.2v3.3M384.8 58.3v3.3M388.0 28.5v3.3M391.2 51.7v3.3M394.3 147.8v3.3M395.9 25.2v3.3M395.9 31.8v3.3M395.9 104.7v3.3M395.9 118.0v3.3M395.9 174.3v3.3M397.5 98.1v3.3M402.3 58.3v3.3M402.3 108.0v3.3M403.9 58.3v3.3M413.4 28.5v3.3M413.4 94.8v3.3M414.9 28.5v3.3M416.5 48.4v3.3M419.6 28.5v3.3M421.2 65.0v3.3M421.2 121.3v3.3M424.3 147.8v3.3M425.8 147.8v3.3M436.7 121.3v3.3M439.9 65.0v3.3M439.9 121.3v3.3M441.5 48.4v3.3M441.5 121.3v3.3M446.4 121.3v3.3M451.3 65.0v3.3M452.9 58.3v3.3M456.1 65.0v3.3M459.3 58.3v3.3M459.3 81.5v3.3M464.4 101.4v3.3M473.9 147.8v3.3M477.1 171.0v3.3M494.2 65.0v3.3M495.8 65.0v3.3M497.4 121.3v3.3M499.0 65.0v3.3M500.6 65.0v3.3M500.6 101.4v3.3M502.1 58.3v3.3M502.1 65.0v3.3M502.1 101.4v3.3M506.9 58.3v3.3M521.1 48.4v3.3M521.1 65.0v3.3M531.1 94.8v3.3M534.4 65.0v3.3M536.1 5.3v6.6M536.1 18.6v3.3M536.1 25.2v3.3M536.1 35.1v3.3M536.1 41.8v6.6M536.1 58.3v6.6M536.1 71.6v13.3M536.1 94.8v9.9M536.1 111.3v3.3M536.1 131.2v6.6M536.1 157.7v3.3M536.1 164.4v3.3M536.1 174.3v3.3M536.1 197.5v3.3M537.7 48.4v3.3M544.1 94.8v3.3M544.1 121.3v3.3M545.8 101.4v3.3M547.5 121.3v3.3M552.5 65.0v3.3M552.5 101.4v3.3M555.8 121.3v3.3M559.1 48.4v3.3M562.4 48.4v3.3M564.1 101.4v3.3M565.8 48.4v3.3M572.1 94.8v3.3M575.3 121.3v3.3M578.4 121.3v3.3M592.6 48.4v3.3M592.6 65.0v3.3M595.9 48.4v3.3M595.9 65.0v3.3M597.5 58.3v3.3M599.1 121.3v3.3M602.4 48.4v3.3M602.4 94.8v3.3M605.7 28.5v3.3M605.7 94.8v3.3M607.3 48.4v3.3M607.3 121.3v3.3M607.3 147.8v3.3M609.0 48.4v3.3M609.0 94.8v3.3M610.6 58.3v3.3M616.8 28.5v3.3M621.6 65.0v3.3M623.2 121.3v3.3M626.4 101.4v3.3M631.2 48.4v3.3M643.9 5.3v6.6M643.9 21.9v6.6M643.9 35.1v3.3M643.9 41.8v3.3M643.9 48.4v9.9M643.9 61.6v3.3M643.9 68.3v3.3M643.9 84.8v3.3M643.9 91.5v3.3M643.9 121.3v3.3M643.9 147.8v3.3M643.9 171.0v3.3M643.9 187.5v3.3M643.9 197.5v3.3M647.2 94.8v3.3M648.8 28.5v3.3M650.5 58.3v3.3M653.8 28.5v3.3M653.8 58.3v3.3M653.8 65.0v3.3M665.2 101.4v3.3M675.3 2.0v13.3M675.3 18.6v3.3M675.3 35.1v3.3M675.3 41.8v3.3M675.3 58.3v3.3M675.3 68.3v6.6M675.3 84.8v3.3M675.3 94.8v3.3M675.3 101.4v13.3M675.3 118.0v3.3M675.3 131.2v3.3M675.3 144.5v6.6M675.3 154.4v3.3M675.3 167.7v6.6M675.3 177.6v3.3M675.3 187.5v3.3M675.3 194.2v3.3M678.6 101.4v3.3"/>
<path stroke="#fff" stroke-width="0.75" stroke-opacity="0.9" d="M244 5.3H681M244 8.6H681M244 11.9H681M244 15.3H681M244 18.6H681M244 21.9H681M244 25.2H681M244 28.5H681M244 31.8H681M244 35.1H681M244 38.4H681M244 41.8H681M244 45.1H681M244 48.4H681M244 51.7H681M244 55.0H681M244 58.3H681M244 61.6H681M244 65.0H681M244 68.3H681M244 71.6H681M244 74.9H681M244 78.2H681M244 81.5H681M244 84.8H681M244 88.1H681M244 91.5H681M244 94.8H681M244 98.1H681M244 101.4H681M244 104.7H681M244 108.0H681M244 111.3H681M244 114.7H681M244 118.0H681M244 121.3H681M244 124.6H681M244 127.9H681M244 131.2H681M244 134.5H681M244 137.8H681M244 141.2H681M244 144.5H681M244 147.8H681M244 151.1H681M244 154.4H681M244 157.7H681M244 161.0H681M244 164.4H681M244 167.7H681M244 171.0H681M244 174.3H681M244 177.6H681M244 180.9H681M244 184.2H681M244 187.5H681M244 190.9H681M244 194.2H681M244 197.5H681"/>
<rect x="244.5" y="1.5" width="38.3" height="199.8" fill="none" stroke="#888" stroke-width="0.9"/>
<rect x="284.8" y="1.5" width="23.8" height="199.8" fill="none" stroke="#888" stroke-width="0.9"/>
<rect x="310.6" y="1.5" width="34.2" height="199.8" fill="none" stroke="#888" stroke-width="0.9"/>
<rect x="347.3" y="1.5" width="28.2" height="199.8" fill="none" stroke="#888" stroke-width="0.9"/>
<rect x="377.3" y="1.5" width="29.6" height="199.8" fill="none" stroke="#888" stroke-width="0.9"/>
<rect x="409.1" y="1.5" width="21.3" height="199.8" fill="none" stroke="#888" stroke-width="0.9"/>
<rect x="432.3" y="1.5" width="28.5" height="199.8" fill="none" stroke="#888" stroke-width="0.9"/>
<rect x="463.3" y="1.5" width="21.5" height="199.8" fill="none" stroke="#888" stroke-width="0.9"/>
<rect x="486.8" y="1.5" width="27.8" height="199.8" fill="none" stroke="#888" stroke-width="0.9"/>
<rect x="516.6" y="1.5" width="22.6" height="199.8" fill="none" stroke="#888" stroke-width="0.9"/>
<rect x="541.3" y="1.5" width="27.6" height="199.8" fill="none" stroke="#888" stroke-width="0.9"/>
<rect x="571" y="1.5" width="18.3" height="199.8" fill="none" stroke="#888" stroke-width="0.9"/>
<rect x="591.4" y="1.5" width="20.7" height="199.8" fill="none" stroke="#888" stroke-width="0.9"/>
<rect x="614.1" y="1.5" width="18.5" height="199.8" fill="none" stroke="#888" stroke-width="0.9"/>
<rect x="634.4" y="1.5" width="27.5" height="199.8" fill="none" stroke="#888" stroke-width="0.9"/>
<rect x="664" y="1.5" width="16.1" height="199.8" fill="none" stroke="#888" stroke-width="0.9"/>
<rect x="681.8" y="1.5" width="2.2" height="66.10" fill="#64f2cc"/>
<rect x="681.8" y="68.50" width="2.2" height="65.80" fill="#e6b950"/>
<rect x="681.8" y="135.10" width="2.2" height="66.20" fill="#cd4b78"/>
<text x="233.5" y="10.9" font-family="Liberation Sans, sans-serif" font-weight="bold" font-size="10.5">d</text>
<text transform="translate(241.2,101.4) rotate(-90)" font-family="Liberation Sans, sans-serif" font-size="9" text-anchor="middle" fill="#111">60 embryos of <tspan font-style="italic">C. cathayensis</tspan></text>
<path stroke="rgb(30, 130, 250)" stroke-width="1.15" stroke-opacity="0.090" d="M245.7 258.8v3.3M245.7 328.5v3.3M245.7 371.6v3.3M245.7 384.9v3.3M247.3 345.0v3.3M247.3 358.3v3.3M247.3 394.8v3.3M248.9 215.7v9.9M248.9 229.0v9.9M248.9 242.2v6.6M248.9 252.2v3.3M248.9 258.8v9.9M248.9 272.1v13.3M248.9 288.7v3.3M248.9 305.2v23.2M248.9 331.8v13.3M248.9 348.4v16.6M248.9 368.3v36.5M248.9 411.4v3.3M260.3 222.3v13.3M260.3 242.2v3.3M260.3 252.2v3.3M260.3 265.4v13.3M260.3 285.4v13.3M260.3 301.9v3.3M260.3 311.9v3.3M260.3 318.5v13.3M260.3 335.1v3.3M260.3 341.7v6.6M260.3 351.7v9.9M260.3 364.9v13.3M260.3 381.5v3.3M260.3 388.2v26.5M261.9 219.0v6.6M261.9 229.0v6.6M261.9 238.9v16.6M261.9 258.8v23.2M261.9 285.4v3.3M261.9 295.3v6.6M261.9 305.2v3.3M261.9 311.9v33.2M261.9 348.4v29.9M261.9 381.5v13.3M261.9 398.1v16.6M263.5 215.7v19.9M263.5 238.9v16.6M263.5 258.8v9.9M263.5 275.4v6.6M263.5 285.4v6.6M263.5 298.6v9.9M263.5 311.9v33.2M263.5 351.7v63.0M268.4 265.4v3.3M268.4 355.0v3.3M270.0 325.1v3.3M270.0 364.9v3.3M270.0 401.4v3.3M271.6 219.0v3.3M271.6 225.6v6.6M271.6 238.9v6.6M271.6 258.8v9.9M271.6 295.3v6.6M271.6 311.9v16.6M271.6 338.4v6.6M271.6 351.7v3.3M271.6 361.6v6.6M271.6 371.6v6.6M271.6 388.2v3.3M271.6 404.8v9.9M273.2 215.7v9.9M273.2 229.0v3.3M273.2 238.9v9.9M273.2 252.2v3.3M273.2 258.8v13.3M273.2 278.7v3.3M273.2 285.4v6.6M273.2 295.3v3.3M273.2 305.2v3.3M273.2 315.2v6.6M273.2 335.1v9.9M273.2 348.4v29.9M273.2 381.5v6.6M273.2 401.4v3.3M273.2 411.4v3.3M274.9 215.7v13.3M274.9 238.9v16.6M274.9 258.8v23.2M274.9 285.4v3.3M274.9 295.3v6.6M274.9 305.2v3.3M274.9 315.2v6.6M274.9 325.1v19.9M274.9 348.4v66.3M276.5 222.3v3.3M276.5 229.0v3.3M276.5 258.8v3.3M276.5 265.4v3.3M276.5 278.7v3.3M276.5 295.3v3.3M276.5 335.1v3.3M276.5 341.7v3.3M276.5 348.4v3.3M276.5 361.6v13.3M276.5 378.2v16.6M278.1 238.9v3.3M279.7 215.7v19.9M279.7 238.9v26.5M279.7 268.8v13.3M279.7 285.4v26.5M279.7 315.2v9.9M279.7 328.5v16.6M279.7 351.7v9.9M279.7 364.9v16.6M279.7 388.2v16.6M279.7 408.1v6.6M286.0 215.7v13.3M286.0 232.3v3.3M286.0 238.9v6.6M286.0 248.9v6.6M286.0 258.8v9.9M286.0 272.1v3.3M286.0 278.7v9.9M286.0 292.0v3.3M286.0 298.6v6.6M286.0 308.6v6.6M286.0 318.5v3.3M286.0 328.5v3.3M286.0 335.1v3.3M286.0 341.7v26.5M286.0 371.6v13.3M286.0 388.2v13.3M286.0 408.1v3.3M287.6 358.3v3.3M287.6 384.9v3.3M289.2 225.6v6.6M289.2 238.9v3.3M289.2 245.5v3.3M289.2 258.8v3.3M289.2 265.4v3.3M289.2 272.1v3.3M289.2 295.3v3.3M289.2 308.6v3.3M289.2 341.7v3.3M289.2 361.6v3.3M289.2 371.6v3.3M289.2 401.4v3.3M290.9 215.7v3.3M290.9 222.3v3.3M290.9 232.3v3.3M290.9 238.9v3.3M290.9 245.5v3.3M290.9 252.2v3.3M290.9 258.8v3.3M290.9 275.4v3.3M290.9 282.0v6.6M290.9 301.9v6.6M290.9 311.9v9.9M290.9 325.1v16.6M290.9 345.0v9.9M290.9 361.6v3.3M290.9 371.6v3.3M290.9 378.2v26.5M290.9 408.1v6.6M292.5 215.7v19.9M292.5 242.2v26.5M292.5 272.1v3.3M292.5 278.7v19.9M292.5 301.9v6.6M292.5 311.9v53.1M292.5 368.3v19.9M292.5 391.5v9.9M292.5 408.1v3.3M294.1 215.7v19.9M294.1 238.9v29.9M294.1 272.1v6.6M294.1 282.0v3.3M294.1 288.7v9.9M294.1 301.9v6.6M294.1 311.9v13.3M294.1 328.5v36.5M294.1 368.3v36.5M294.1 408.1v6.6M295.7 215.7v19.9M295.7 238.9v19.9M295.7 262.1v36.5M295.7 301.9v13.3M295.7 318.5v16.6M295.7 338.4v26.5M295.7 368.3v6.6M295.7 378.2v26.5M295.7 408.1v3.3M297.4 262.1v6.6M297.4 272.1v3.3M297.4 278.7v3.3M297.4 315.2v3.3M297.4 325.1v3.3M297.4 348.4v3.3M297.4 355.0v3.3M297.4 384.9v3.3M297.4 411.4v3.3M299.0 219.0v9.9M299.0 242.2v6.6M299.0 255.5v6.6M299.0 318.5v3.3M299.0 325.1v3.3M299.0 351.7v3.3M299.0 358.3v3.3M299.0 374.9v6.6M299.0 391.5v9.9M300.6 215.7v3.3M300.6 222.3v6.6M300.6 238.9v3.3M300.6 245.5v6.6M300.6 258.8v13.3M300.6 275.4v3.3M300.6 282.0v3.3M300.6 308.6v3.3M300.6 318.5v3.3M300.6 328.5v3.3M300.6 341.7v3.3M300.6 378.2v3.3M300.6 384.9v3.3M300.6 398.1v3.3M300.6 411.4v3.3M302.2 215.7v9.9M302.2 229.0v6.6M302.2 242.2v19.9M302.2 265.4v16.6M302.2 285.4v6.6M302.2 295.3v59.7M302.2 358.3v6.6M302.2 368.3v36.5M302.2 408.1v6.6M305.5 272.1v3.3M305.5 368.3v3.3M307.1 222.3v3.3M307.1 229.0v3.3M307.1 282.0v3.3M311.8 215.7v33.2M311.8 252.2v16.6M311.8 272.1v3.3M311.8 285.4v13.3M311.8 301.9v6.6M311.8 315.2v29.9M311.8 348.4v66.3M313.4 215.7v53.1M313.4 272.1v9.9M313.4 285.4v13.3M313.4 301.9v6.6M313.4 315.2v16.6M313.4 335.1v9.9M313.4 348.4v23.2M313.4 374.9v26.5M313.4 404.8v9.9M315.1 219.0v3.3M315.1 225.6v6.6M315.1 238.9v3.3M315.1 262.1v6.6M315.1 275.4v3.3M315.1 292.0v3.3M315.1 301.9v3.3M315.1 315.2v13.3M315.1 341.7v3.3M315.1 348.4v6.6M315.1 361.6v16.6M315.1 388.2v16.6M315.1 411.4v3.3M316.8 215.7v49.8M316.8 272.1v9.9M316.8 285.4v13.3M316.8 301.9v6.6M316.8 315.2v9.9M316.8 328.5v16.6M316.8 348.4v66.3M318.4 215.7v33.2M318.4 252.2v29.9M318.4 285.4v13.3M318.4 301.9v6.6M318.4 315.2v29.9M318.4 348.4v26.5M318.4 378.2v26.5M318.4 408.1v6.6M320.1 215.7v63.0M320.1 285.4v23.2M320.1 315.2v29.9M320.1 348.4v26.5M320.1 378.2v26.5M320.1 408.1v6.6M321.7 215.7v9.9M321.7 229.0v9.9M321.7 242.2v23.2M321.7 278.7v3.3M321.7 285.4v6.6M321.7 295.3v6.6M321.7 305.2v3.3M321.7 315.2v13.3M321.7 331.8v13.3M321.7 355.0v3.3M321.7 361.6v3.3M321.7 371.6v23.2M321.7 408.1v6.6M325.1 215.7v3.3M325.1 225.6v9.9M325.1 238.9v33.2M325.1 278.7v6.6M325.1 301.9v6.6M325.1 315.2v13.3M325.1 331.8v16.6M325.1 351.7v6.6M325.1 361.6v6.6M325.1 374.9v3.3M325.1 381.5v23.2M325.1 408.1v6.6M326.7 215.7v3.3M326.7 229.0v6.6M326.7 238.9v6.6M326.7 265.4v9.9M326.7 285.4v6.6M326.7 305.2v3.3M326.7 315.2v3.3M326.7 328.5v9.9M326.7 345.0v3.3M326.7 351.7v6.6M326.7 364.9v23.2M326.7 394.8v3.3M326.7 401.4v3.3M326.7 408.1v3.3M330.0 219.0v3.3M330.0 341.7v3.3M330.0 361.6v3.3M330.0 384.9v3.3M331.7 238.9v3.3M331.7 265.4v3.3M331.7 374.9v3.3M336.7 358.3v3.3M336.7 378.2v3.3M336.7 384.9v6.6M338.3 215.7v3.3M338.3 222.3v3.3M338.3 229.0v6.6M338.3 238.9v3.3M338.3 248.9v6.6M338.3 262.1v3.3M338.3 268.8v3.3M338.3 282.0v3.3M338.3 298.6v3.3M338.3 318.5v3.3M338.3 335.1v6.6M338.3 361.6v3.3M338.3 368.3v16.6M338.3 391.5v3.3M340.0 219.0v3.3M340.0 245.5v3.3M340.0 258.8v6.6M340.0 275.4v6.6M340.0 295.3v3.3M340.0 301.9v3.3M340.0 328.5v3.3M340.0 351.7v3.3M340.0 358.3v16.6M340.0 388.2v3.3M340.0 398.1v3.3M340.0 408.1v3.3M341.7 232.3v6.6M341.7 242.2v3.3M341.7 248.9v3.3M341.7 258.8v3.3M341.7 275.4v6.6M341.7 288.7v3.3M341.7 315.2v3.3M341.7 325.1v3.3M341.7 338.4v3.3M341.7 348.4v3.3M341.7 355.0v3.3M341.7 368.3v16.6M341.7 388.2v3.3M341.7 394.8v6.6M343.3 242.2v3.3M343.3 258.8v3.3M348.4 215.7v39.8M348.4 262.1v19.9M348.4 285.4v23.2M348.4 315.2v13.3M348.4 331.8v13.3M348.4 348.4v16.6M348.4 368.3v16.6M348.4 388.2v19.9M350.1 215.7v9.9M350.1 229.0v19.9M350.1 258.8v23.2M350.1 285.4v9.9M350.1 301.9v6.6M350.1 315.2v29.9M350.1 348.4v16.6M350.1 368.3v9.9M350.1 381.5v33.2M351.6 225.6v3.3M351.6 242.2v3.3M351.6 258.8v6.6M351.6 268.8v6.6M351.6 278.7v3.3M351.6 285.4v3.3M351.6 301.9v3.3M351.6 315.2v3.3M351.6 321.8v3.3M351.6 338.4v3.3M351.6 371.6v3.3M351.6 384.9v3.3M351.6 398.1v3.3M351.6 408.1v3.3M354.8 215.7v39.8M354.8 258.8v39.8M354.8 301.9v6.6M354.8 315.2v29.9M354.8 348.4v66.3M356.4 335.1v3.3M358.1 215.7v9.9M358.1 229.0v3.3M358.1 242.2v6.6M358.1 258.8v6.6M358.1 272.1v16.6M358.1 292.0v3.3M358.1 305.2v3.3M358.1 315.2v3.3M358.1 321.8v13.3M358.1 348.4v6.6M358.1 364.9v16.6M358.1 384.9v3.3M358.1 411.4v3.3M359.6 215.7v33.2M359.6 252.2v3.3M359.6 258.8v13.3M359.6 275.4v23.2M359.6 301.9v9.9M359.6 315.2v3.3M359.6 321.8v9.9M359.6 335.1v9.9M359.6 348.4v13.3M359.6 368.3v16.6M359.6 388.2v16.6M359.6 408.1v6.6M361.2 242.2v3.3M361.2 248.9v3.3M361.2 265.4v3.3M361.2 295.3v3.3M361.2 328.5v3.3M361.2 335.1v3.3M361.2 348.4v6.6M361.2 408.1v3.3M362.8 215.7v3.3M362.8 222.3v6.6M362.8 232.3v6.6M362.8 242.2v3.3M362.8 255.5v6.6M362.8 265.4v9.9M362.8 278.7v16.6M362.8 305.2v3.3M362.8 311.9v13.3M362.8 328.5v3.3M362.8 335.1v3.3M362.8 341.7v3.3M362.8 348.4v16.6M362.8 368.3v6.6M362.8 378.2v3.3M362.8 384.9v3.3M362.8 391.5v13.3M362.8 408.1v3.3M364.4 268.8v3.3M364.4 292.0v3.3M364.4 398.1v3.3M369.2 245.5v3.3M369.2 384.9v3.3M370.8 235.6v6.6M370.8 265.4v3.3M370.8 272.1v3.3M370.8 305.2v3.3M370.8 351.7v6.6M372.4 215.7v3.3M372.4 225.6v3.3M372.4 232.3v3.3M372.4 262.1v3.3M372.4 272.1v3.3M372.4 282.0v6.6M372.4 305.2v3.3M372.4 318.5v6.6M372.4 328.5v3.3M372.4 341.7v3.3M372.4 355.0v9.9M372.4 374.9v3.3M372.4 391.5v3.3M372.4 401.4v9.9M378.4 215.7v3.3M378.4 235.6v3.3M378.4 252.2v3.3M378.4 258.8v3.3M378.4 268.8v3.3M378.4 285.4v6.6M378.4 298.6v3.3M378.4 308.6v3.3M378.4 315.2v3.3M378.4 321.8v6.6M378.4 338.4v6.6M378.4 348.4v3.3M378.4 355.0v6.6M378.4 378.2v6.6M378.4 388.2v3.3M378.4 398.1v3.3M380.0 215.7v26.5M380.0 245.5v9.9M380.0 258.8v26.5M380.0 288.7v9.9M380.0 301.9v3.3M380.0 315.2v29.9M380.0 348.4v16.6M380.0 368.3v3.3M380.0 374.9v36.5M381.6 219.0v3.3M381.6 235.6v19.9M381.6 265.4v6.6M381.6 275.4v3.3M381.6 305.2v3.3M381.6 321.8v3.3M381.6 335.1v9.9M381.6 348.4v3.3M381.6 355.0v6.6M381.6 371.6v6.6M381.6 388.2v3.3M381.6 394.8v13.3M381.6 411.4v3.3M383.2 275.4v3.3M383.2 408.1v3.3M384.8 242.2v3.3M384.8 268.8v3.3M384.8 318.5v3.3M388.0 215.7v3.3M388.0 242.2v6.6M388.0 328.5v3.3M388.0 341.7v3.3M388.0 355.0v6.6M388.0 388.2v3.3M389.6 219.0v13.3M389.6 238.9v3.3M389.6 245.5v9.9M389.6 262.1v19.9M389.6 285.4v6.6M389.6 298.6v9.9M389.6 315.2v29.9M389.6 348.4v13.3M389.6 368.3v33.2M389.6 408.1v6.6M391.2 215.7v6.6M391.2 305.2v3.3M391.2 394.8v3.3M392.7 222.3v3.3M392.7 229.0v6.6M392.7 242.2v13.3M392.7 262.1v16.6M392.7 282.0v6.6M392.7 295.3v13.3M392.7 315.2v13.3M392.7 331.8v13.3M392.7 348.4v13.3M392.7 368.3v6.6M392.7 378.2v13.3M392.7 394.8v6.6M392.7 411.4v3.3M394.3 285.4v3.3M394.3 298.6v3.3M394.3 325.1v3.3M394.3 381.5v3.3M395.9 215.7v19.9M395.9 238.9v16.6M395.9 258.8v23.2M395.9 285.4v6.6M395.9 295.3v13.3M395.9 311.9v13.3M395.9 328.5v3.3M395.9 335.1v9.9M395.9 348.4v16.6M395.9 368.3v36.5M395.9 408.1v6.6M397.5 215.7v19.9M397.5 238.9v16.6M397.5 258.8v23.2M397.5 285.4v6.6M397.5 295.3v13.3M397.5 311.9v13.3M397.5 328.5v16.6M397.5 348.4v9.9M397.5 361.6v3.3M397.5 368.3v36.5M397.5 408.1v6.6M399.1 215.7v16.6M399.1 238.9v16.6M399.1 258.8v23.2M399.1 285.4v6.6M399.1 295.3v3.3M399.1 301.9v3.3M399.1 315.2v9.9M399.1 328.5v13.3M399.1 348.4v3.3M399.1 355.0v6.6M399.1 364.9v13.3M399.1 381.5v23.2M399.1 408.1v3.3M400.7 215.7v33.2M400.7 252.2v3.3M400.7 258.8v23.2M400.7 285.4v6.6M400.7 295.3v3.3M400.7 301.9v6.6M400.7 311.9v33.2M400.7 348.4v56.4M400.7 408.1v6.6M402.3 225.6v3.3M402.3 262.1v3.3M402.3 278.7v3.3M402.3 315.2v3.3M403.9 219.0v3.3M403.9 258.8v3.3M403.9 265.4v6.6M403.9 278.7v3.3M403.9 295.3v3.3M403.9 301.9v3.3M403.9 311.9v3.3M403.9 325.1v3.3M403.9 368.3v6.6M403.9 381.5v3.3M405.5 265.4v3.3M405.5 355.0v3.3M405.5 384.9v3.3M410.2 222.3v3.3M410.2 229.0v26.5M410.2 258.8v29.9M410.2 298.6v3.3M410.2 305.2v3.3M410.2 311.9v19.9M410.2 335.1v6.6M410.2 348.4v13.3M410.2 368.3v19.9M410.2 391.5v9.9M410.2 404.8v9.9M411.8 215.7v3.3M411.8 245.5v3.3M411.8 272.1v3.3M411.8 285.4v3.3M411.8 292.0v3.3M411.8 305.2v3.3M411.8 341.7v3.3M411.8 368.3v3.3M411.8 381.5v6.6M413.4 219.0v3.3M413.4 341.7v3.3M413.4 384.9v3.3M414.9 252.2v3.3M414.9 288.7v3.3M414.9 328.5v3.3M416.5 215.7v39.8M416.5 258.8v23.2M416.5 285.4v13.3M416.5 301.9v3.3M416.5 315.2v33.2M416.5 351.7v33.2M416.5 388.2v26.5M418.0 222.3v3.3M418.0 245.5v3.3M418.0 331.8v3.3M418.0 364.9v3.3M419.6 215.7v6.6M419.6 225.6v3.3M419.6 232.3v13.3M419.6 248.9v6.6M419.6 262.1v3.3M419.6 268.8v6.6M419.6 278.7v3.3M419.6 295.3v3.3M419.6 305.2v3.3M419.6 315.2v9.9M419.6 331.8v9.9M419.6 345.0v13.3M419.6 368.3v19.9M419.6 394.8v9.9M419.6 408.1v6.6M421.2 215.7v19.9M421.2 238.9v16.6M421.2 258.8v23.2M421.2 285.4v13.3M421.2 301.9v3.3M421.2 315.2v6.6M421.2 325.1v36.5M421.2 364.9v13.3M421.2 381.5v6.6M421.2 391.5v13.3M421.2 408.1v6.6M422.7 219.0v3.3M422.7 225.6v3.3M422.7 235.6v3.3M422.7 242.2v3.3M422.7 248.9v3.3M422.7 272.1v9.9M422.7 285.4v6.6M422.7 315.2v6.6M422.7 328.5v3.3M422.7 335.1v6.6M422.7 348.4v3.3M422.7 355.0v6.6M422.7 368.3v3.3M422.7 374.9v6.6M422.7 384.9v3.3M422.7 391.5v9.9M422.7 411.4v3.3M427.4 215.7v39.8M427.4 262.1v19.9M427.4 285.4v13.3M427.4 305.2v3.3M427.4 315.2v29.9M427.4 351.7v39.8M427.4 394.8v9.9M427.4 408.1v6.6M429.0 215.7v3.3M429.0 222.3v6.6M429.0 235.6v9.9M429.0 248.9v6.6M429.0 258.8v6.6M429.0 272.1v26.5M429.0 305.2v6.6M429.0 315.2v6.6M429.0 328.5v16.6M429.0 348.4v3.3M429.0 358.3v6.6M429.0 368.3v3.3M429.0 378.2v23.2M429.0 408.1v6.6M433.5 215.7v19.9M433.5 238.9v13.3M433.5 262.1v3.3M433.5 272.1v19.9M433.5 295.3v3.3M433.5 305.2v3.3M433.5 315.2v29.9M433.5 348.4v13.3M433.5 368.3v36.5M433.5 408.1v6.6M435.1 215.7v19.9M435.1 238.9v13.3M435.1 258.8v9.9M435.1 272.1v19.9M435.1 295.3v3.3M435.1 301.9v3.3M435.1 315.2v13.3M435.1 331.8v13.3M435.1 348.4v16.6M435.1 368.3v36.5M435.1 408.1v6.6M436.7 215.7v19.9M436.7 242.2v6.6M436.7 252.2v3.3M436.7 262.1v6.6M436.7 272.1v19.9M436.7 295.3v3.3M436.7 301.9v6.6M436.7 315.2v29.9M436.7 348.4v19.9M436.7 371.6v19.9M436.7 394.8v9.9M436.7 408.1v6.6M438.3 215.7v3.3M438.3 222.3v3.3M438.3 229.0v6.6M438.3 238.9v13.3M438.3 258.8v3.3M438.3 265.4v3.3M438.3 272.1v19.9M438.3 295.3v3.3M438.3 301.9v3.3M438.3 315.2v29.9M438.3 351.7v3.3M438.3 358.3v46.4M438.3 408.1v6.6M439.9 215.7v6.6M439.9 245.5v3.3M439.9 361.6v3.3M441.5 215.7v19.9M441.5 238.9v16.6M441.5 258.8v33.2M441.5 295.3v13.3M441.5 315.2v29.9M441.5 348.4v3.3M441.5 355.0v9.9M441.5 368.3v33.2M441.5 408.1v6.6M444.8 215.7v3.3M444.8 222.3v13.3M444.8 238.9v16.6M444.8 258.8v13.3M444.8 275.4v16.6M444.8 295.3v13.3M444.8 315.2v6.6M444.8 325.1v9.9M444.8 341.7v13.3M444.8 358.3v6.6M444.8 368.3v6.6M444.8 378.2v26.5M444.8 408.1v6.6M446.4 295.3v3.3M448.0 215.7v6.6M448.0 225.6v9.9M448.0 238.9v13.3M448.0 258.8v33.2M448.0 295.3v13.3M448.0 315.2v49.8M448.0 368.3v26.5M448.0 398.1v3.3M448.0 408.1v6.6M449.6 219.0v13.3M449.6 252.2v3.3M449.6 262.1v3.3M449.6 268.8v3.3M449.6 275.4v3.3M449.6 318.5v3.3M449.6 325.1v3.3M449.6 351.7v3.3M449.6 358.3v3.3M449.6 381.5v3.3M449.6 388.2v6.6M451.3 225.6v3.3M451.3 258.8v3.3M451.3 348.4v3.3M451.3 374.9v3.3M451.3 388.2v3.3M452.9 275.4v3.3M452.9 305.2v3.3M452.9 351.7v3.3M452.9 381.5v3.3M454.5 219.0v6.6M454.5 229.0v6.6M454.5 238.9v16.6M454.5 258.8v23.2M454.5 285.4v23.2M454.5 315.2v3.3M454.5 321.8v23.2M454.5 348.4v56.4M454.5 411.4v3.3M456.1 215.7v39.8M456.1 258.8v9.9M456.1 272.1v9.9M456.1 285.4v3.3M456.1 292.0v6.6M456.1 301.9v6.6M456.1 318.5v3.3M456.1 325.1v19.9M456.1 348.4v33.2M456.1 384.9v9.9M456.1 398.1v6.6M456.1 408.1v6.6M457.7 215.7v9.9M457.7 229.0v26.5M457.7 258.8v23.2M457.7 285.4v13.3M457.7 301.9v6.6M457.7 315.2v29.9M457.7 348.4v9.9M457.7 361.6v39.8M457.7 408.1v6.6M469.2 222.3v3.3M469.2 285.4v3.3M469.2 318.5v3.3M469.2 378.2v3.3M470.7 215.7v13.3M470.7 232.3v3.3M470.7 238.9v6.6M470.7 248.9v6.6M470.7 258.8v9.9M470.7 272.1v33.2M470.7 308.6v36.5M470.7 348.4v9.9M470.7 361.6v3.3M470.7 368.3v46.4M472.3 215.7v19.9M472.3 238.9v16.6M472.3 258.8v9.9M472.3 272.1v3.3M472.3 278.7v13.3M472.3 295.3v3.3M472.3 301.9v23.2M472.3 328.5v13.3M472.3 348.4v16.6M472.3 368.3v13.3M472.3 384.9v19.9M472.3 408.1v6.6M473.9 219.0v3.3M473.9 225.6v3.3M473.9 232.3v3.3M473.9 248.9v6.6M473.9 258.8v3.3M473.9 275.4v3.3M473.9 295.3v3.3M473.9 301.9v3.3M473.9 325.1v6.6M473.9 358.3v3.3M473.9 378.2v3.3M473.9 391.5v3.3M473.9 398.1v3.3M473.9 408.1v3.3M475.5 215.7v16.6M475.5 238.9v29.9M475.5 272.1v13.3M475.5 288.7v56.4M475.5 348.4v16.6M475.5 368.3v9.9M475.5 381.5v29.9M478.6 215.7v19.9M478.6 238.9v16.6M478.6 258.8v9.9M478.6 272.1v9.9M478.6 285.4v26.5M478.6 315.2v29.9M478.6 348.4v33.2M478.6 384.9v29.9M480.2 215.7v19.9M480.2 238.9v16.6M480.2 258.8v9.9M480.2 272.1v9.9M480.2 285.4v59.7M480.2 348.4v3.3M480.2 355.0v53.1M480.2 411.4v3.3M481.8 232.3v3.3M481.8 272.1v3.3M481.8 358.3v3.3M481.8 388.2v3.3M483.4 215.7v39.8M483.4 258.8v53.1M483.4 315.2v46.4M483.4 368.3v23.2M483.4 394.8v19.9M491.1 258.8v3.3M491.1 331.8v3.3M491.1 371.6v3.3M491.1 378.2v3.3M491.1 401.4v3.3M492.7 215.7v3.3M492.7 222.3v3.3M492.7 275.4v3.3M492.7 348.4v3.3M492.7 381.5v6.6M492.7 391.5v3.3M492.7 401.4v3.3M492.7 408.1v3.3M494.2 219.0v3.3M494.2 408.1v3.3M497.4 215.7v9.9M497.4 229.0v6.6M497.4 238.9v3.3M497.4 245.5v19.9M497.4 272.1v3.3M497.4 285.4v6.6M497.4 295.3v3.3M497.4 305.2v3.3M497.4 315.2v16.6M497.4 341.7v3.3M497.4 348.4v19.9M497.4 371.6v9.9M497.4 388.2v16.6M497.4 408.1v6.6M499.0 215.7v6.6M499.0 225.6v33.2M499.0 262.1v19.9M499.0 285.4v6.6M499.0 295.3v3.3M499.0 301.9v6.6M499.0 315.2v6.6M499.0 325.1v19.9M499.0 348.4v43.1M499.0 394.8v6.6M499.0 408.1v6.6M500.6 215.7v6.6M500.6 225.6v9.9M500.6 245.5v3.3M500.6 255.5v3.3M500.6 262.1v3.3M500.6 268.8v3.3M500.6 295.3v3.3M500.6 305.2v3.3M500.6 315.2v3.3M500.6 321.8v19.9M500.6 345.0v3.3M500.6 351.7v6.6M500.6 361.6v16.6M500.6 384.9v3.3M500.6 398.1v3.3M500.6 408.1v3.3M502.1 331.8v3.3M503.7 215.7v3.3M503.7 229.0v6.6M503.7 238.9v13.3M503.7 255.5v6.6M503.7 265.4v9.9M503.7 278.7v3.3M503.7 285.4v6.6M503.7 301.9v6.6M503.7 315.2v16.6M503.7 335.1v3.3M503.7 341.7v3.3M503.7 351.7v3.3M503.7 358.3v13.3M503.7 378.2v3.3M503.7 388.2v3.3M505.3 215.7v3.3M505.3 225.6v3.3M505.3 242.2v6.6M505.3 265.4v3.3M505.3 305.2v3.3M505.3 315.2v3.3M505.3 331.8v3.3M505.3 345.0v6.6M505.3 355.0v3.3M505.3 368.3v3.3M505.3 384.9v6.6M505.3 408.1v3.3M506.9 219.0v3.3M506.9 255.5v3.3M506.9 285.4v3.3M506.9 295.3v3.3M506.9 321.8v3.3M506.9 331.8v3.3M506.9 368.3v3.3M506.9 401.4v3.3M508.4 238.9v3.3M510.0 215.7v19.9M510.0 238.9v29.9M510.0 272.1v9.9M510.0 285.4v3.3M510.0 292.0v9.9M510.0 305.2v3.3M510.0 315.2v33.2M510.0 351.7v36.5M510.0 391.5v6.6M510.0 401.4v3.3M510.0 408.1v6.6M511.6 215.7v19.9M511.6 238.9v13.3M511.6 255.5v13.3M511.6 272.1v9.9M511.6 285.4v16.6M511.6 305.2v3.3M511.6 315.2v82.9M511.6 401.4v9.9M513.2 245.5v3.3M513.2 315.2v3.3M513.2 384.9v3.3M517.8 215.7v26.5M517.8 245.5v3.3M517.8 275.4v9.9M517.8 292.0v6.6M517.8 301.9v19.9M517.8 331.8v6.6M517.8 351.7v19.9M517.8 378.2v3.3M517.8 384.9v6.6M517.8 408.1v3.3M519.4 215.7v3.3M519.4 282.0v3.3M519.4 381.5v3.3M521.1 229.0v9.9M521.1 321.8v3.3M521.1 328.5v3.3M521.1 341.7v3.3M521.1 361.6v3.3M521.1 368.3v3.3M521.1 381.5v3.3M521.1 391.5v3.3M521.1 404.8v3.3M522.8 215.7v6.6M522.8 238.9v3.3M522.8 245.5v16.6M522.8 265.4v9.9M522.8 278.7v3.3M522.8 305.2v3.3M522.8 311.9v26.5M522.8 345.0v6.6M522.8 355.0v9.9M522.8 368.3v16.6M522.8 388.2v6.6M522.8 401.4v9.9M524.4 215.7v19.9M524.4 238.9v23.2M524.4 265.4v6.6M524.4 275.4v3.3M524.4 285.4v6.6M524.4 295.3v13.3M524.4 311.9v102.8M526.1 215.7v19.9M526.1 238.9v29.9M526.1 272.1v9.9M526.1 285.4v3.3M526.1 295.3v13.3M526.1 311.9v69.7M526.1 384.9v29.9M527.8 215.7v19.9M527.8 238.9v16.6M527.8 258.8v9.9M527.8 272.1v9.9M527.8 285.4v6.6M527.8 295.3v13.3M527.8 311.9v96.2M527.8 411.4v3.3M529.4 215.7v3.3M529.4 229.0v3.3M529.4 235.6v3.3M529.4 242.2v6.6M529.4 272.1v3.3M529.4 285.4v3.3M529.4 295.3v3.3M529.4 301.9v3.3M529.4 311.9v3.3M529.4 321.8v13.3M529.4 355.0v3.3M529.4 371.6v6.6M529.4 398.1v3.3M529.4 411.4v3.3M531.1 215.7v6.6M531.1 225.6v9.9M531.1 238.9v3.3M531.1 245.5v3.3M531.1 252.2v3.3M531.1 258.8v6.6M531.1 272.1v9.9M531.1 285.4v3.3M531.1 305.2v3.3M531.1 318.5v13.3M531.1 335.1v6.6M531.1 351.7v13.3M531.1 368.3v16.6M531.1 388.2v3.3M531.1 398.1v3.3M531.1 404.8v3.3M531.1 411.4v3.3M532.7 215.7v6.6M532.7 229.0v3.3M532.7 235.6v6.6M532.7 252.2v3.3M532.7 275.4v6.6M532.7 295.3v3.3M532.7 311.9v13.3M532.7 331.8v19.9M532.7 355.0v3.3M532.7 361.6v6.6M532.7 371.6v3.3M532.7 378.2v6.6M532.7 391.5v3.3M532.7 404.8v6.6M534.4 215.7v39.8M534.4 258.8v23.2M534.4 285.4v6.6M534.4 298.6v9.9M534.4 311.9v6.6M534.4 325.1v19.9M534.4 348.4v66.3M536.1 215.7v3.3M536.1 235.6v3.3M536.1 242.2v3.3M536.1 248.9v3.3M536.1 275.4v3.3M536.1 301.9v3.3M536.1 315.2v3.3M536.1 321.8v3.3M536.1 355.0v3.3M536.1 364.9v3.3M536.1 371.6v3.3M536.1 408.1v3.3M537.7 229.0v6.6M537.7 262.1v3.3M537.7 268.8v3.3M537.7 285.4v3.3M537.7 295.3v3.3M537.7 315.2v3.3M537.7 321.8v3.3M537.7 338.4v3.3M537.7 368.3v6.6M537.7 378.2v3.3M537.7 408.1v3.3M542.5 215.7v29.9M542.5 248.9v33.2M542.5 288.7v3.3M542.5 301.9v3.3M542.5 315.2v73.0M542.5 391.5v23.2M544.1 215.7v19.9M544.1 238.9v3.3M544.1 248.9v33.2M544.1 285.4v6.6M544.1 295.3v3.3M544.1 301.9v6.6M544.1 315.2v23.2M544.1 341.7v9.9M544.1 355.0v33.2M544.1 391.5v3.3M544.1 398.1v16.6M547.5 245.5v3.3M547.5 265.4v3.3M547.5 301.9v3.3M547.5 315.2v3.3M547.5 358.3v3.3M547.5 364.9v3.3M547.5 388.2v9.9M549.1 215.7v19.9M549.1 238.9v36.5M549.1 278.7v6.6M549.1 288.7v9.9M549.1 301.9v6.6M549.1 315.2v92.9M549.1 411.4v3.3M550.8 215.7v6.6M550.8 225.6v6.6M550.8 242.2v6.6M550.8 272.1v6.6M550.8 282.0v3.3M550.8 295.3v3.3M550.8 301.9v3.3M550.8 315.2v3.3M550.8 325.1v6.6M550.8 338.4v3.3M550.8 358.3v3.3M550.8 371.6v6.6M550.8 384.9v9.9M550.8 408.1v6.6M552.5 215.7v3.3M552.5 222.3v13.3M552.5 238.9v13.3M552.5 255.5v13.3M552.5 272.1v36.5M552.5 315.2v6.6M552.5 328.5v6.6M552.5 338.4v23.2M552.5 364.9v26.5M552.5 398.1v16.6M555.8 215.7v3.3M555.8 305.2v3.3M557.4 219.0v16.6M557.4 238.9v13.3M557.4 255.5v13.3M557.4 272.1v6.6M557.4 282.0v3.3M557.4 288.7v19.9M557.4 315.2v6.6M557.4 325.1v36.5M557.4 364.9v13.3M557.4 381.5v33.2M559.1 298.6v3.3M559.1 411.4v3.3M560.8 238.9v3.3M560.8 258.8v3.3M560.8 394.8v3.3M560.8 408.1v3.3M562.4 215.7v6.6M562.4 225.6v9.9M562.4 238.9v3.3M562.4 245.5v19.9M562.4 272.1v9.9M562.4 285.4v3.3M562.4 292.0v16.6M562.4 315.2v16.6M562.4 335.1v29.9M562.4 368.3v36.5M562.4 408.1v6.6M564.1 215.7v6.6M564.1 225.6v3.3M564.1 235.6v19.9M564.1 262.1v6.6M564.1 272.1v6.6M564.1 295.3v6.6M564.1 305.2v3.3M564.1 318.5v9.9M564.1 341.7v6.6M564.1 351.7v3.3M564.1 358.3v6.6M564.1 368.3v3.3M564.1 378.2v6.6M564.1 388.2v3.3M564.1 408.1v6.6M565.8 242.2v3.3M565.8 295.3v3.3M565.8 331.8v3.3M565.8 368.3v3.3M565.8 388.2v3.3M565.8 398.1v3.3M567.4 265.4v3.3M572.1 215.7v3.3M572.1 225.6v9.9M572.1 245.5v3.3M572.1 255.5v13.3M572.1 272.1v9.9M572.1 288.7v3.3M572.1 295.3v3.3M572.1 305.2v3.3M572.1 311.9v19.9M572.1 335.1v3.3M572.1 348.4v16.6M572.1 374.9v6.6M572.1 388.2v6.6M572.1 398.1v13.3M575.3 215.7v6.6M575.3 225.6v6.6M575.3 235.6v46.4M575.3 285.4v6.6M575.3 295.3v3.3M575.3 301.9v6.6M575.3 311.9v3.3M575.3 318.5v26.5M575.3 348.4v9.9M575.3 361.6v9.9M575.3 374.9v36.5M576.9 215.7v6.6M576.9 225.6v6.6M576.9 242.2v3.3M576.9 252.2v3.3M576.9 268.8v3.3M576.9 278.7v3.3M576.9 285.4v6.6M576.9 305.2v3.3M576.9 311.9v6.6M576.9 325.1v3.3M576.9 331.8v6.6M576.9 341.7v3.3M576.9 358.3v9.9M576.9 384.9v3.3M576.9 391.5v6.6M576.9 401.4v3.3M583.1 232.3v3.3M583.1 245.5v3.3M583.1 384.9v3.3M586.3 222.3v3.3M586.3 229.0v3.3M586.3 235.6v3.3M586.3 245.5v3.3M586.3 298.6v3.3M587.9 265.4v3.3M587.9 288.7v6.6M587.9 341.7v3.3M592.6 238.9v3.3M592.6 252.2v6.6M592.6 275.4v3.3M592.6 348.4v3.3M592.6 398.1v3.3M594.2 215.7v19.9M594.2 238.9v16.6M594.2 262.1v6.6M594.2 272.1v6.6M594.2 282.0v16.6M594.2 301.9v63.0M594.2 368.3v6.6M594.2 378.2v26.5M594.2 408.1v6.6M595.9 215.7v19.9M595.9 238.9v16.6M595.9 258.8v9.9M595.9 272.1v26.5M595.9 305.2v3.3M595.9 311.9v53.1M595.9 368.3v3.3M595.9 378.2v26.5M595.9 408.1v6.6M599.1 361.6v3.3M600.8 215.7v19.9M600.8 238.9v29.9M600.8 272.1v9.9M600.8 285.4v6.6M600.8 295.3v3.3M600.8 301.9v6.6M600.8 311.9v19.9M600.8 335.1v29.9M600.8 368.3v29.9M600.8 401.4v3.3M600.8 408.1v6.6M607.3 215.7v6.6M607.3 225.6v9.9M607.3 238.9v29.9M607.3 272.1v9.9M607.3 285.4v6.6M607.3 295.3v3.3M607.3 301.9v6.6M607.3 311.9v53.1M607.3 368.3v6.6M607.3 381.5v3.3M607.3 388.2v16.6M607.3 408.1v6.6M609.0 222.3v3.3M609.0 229.0v3.3M609.0 238.9v3.3M609.0 258.8v3.3M609.0 278.7v3.3M609.0 295.3v3.3M609.0 338.4v3.3M609.0 345.0v13.3M609.0 361.6v3.3M609.0 374.9v3.3M609.0 384.9v3.3M609.0 391.5v3.3M609.0 408.1v3.3M610.6 262.1v3.3M610.6 321.8v3.3M615.2 215.7v19.9M615.2 238.9v3.3M615.2 245.5v23.2M615.2 272.1v9.9M615.2 288.7v3.3M615.2 295.3v13.3M615.2 311.9v46.4M615.2 361.6v16.6M615.2 381.5v13.3M615.2 398.1v6.6M615.2 408.1v6.6M616.8 305.2v3.3M616.8 371.6v3.3M616.8 411.4v3.3M618.4 215.7v19.9M618.4 238.9v3.3M618.4 245.5v3.3M618.4 258.8v23.2M618.4 285.4v6.6M618.4 298.6v9.9M618.4 311.9v13.3M618.4 328.5v16.6M618.4 348.4v56.4M618.4 408.1v6.6M620.0 225.6v3.3M620.0 341.7v3.3M620.0 358.3v6.6M620.0 398.1v3.3M620.0 408.1v3.3M621.6 215.7v23.2M621.6 242.2v13.3M621.6 262.1v19.9M621.6 285.4v23.2M621.6 311.9v53.1M621.6 368.3v36.5M621.6 408.1v6.6M623.2 215.7v66.3M623.2 285.4v23.2M623.2 311.9v33.2M623.2 348.4v16.6M623.2 368.3v36.5M623.2 411.4v3.3M624.8 245.5v3.3M624.8 252.2v3.3M624.8 318.5v3.3M624.8 338.4v3.3M626.4 262.1v3.3M626.4 328.5v3.3M626.4 358.3v3.3M628.0 219.0v9.9M628.0 235.6v3.3M628.0 242.2v33.2M628.0 278.7v3.3M628.0 285.4v6.6M628.0 295.3v3.3M628.0 301.9v3.3M628.0 308.6v3.3M628.0 321.8v23.2M628.0 348.4v3.3M628.0 355.0v6.6M628.0 371.6v13.3M628.0 388.2v6.6M628.0 398.1v3.3M628.0 408.1v6.6M629.6 321.8v3.3M635.6 278.7v3.3M635.6 321.8v6.6M635.6 374.9v3.3M635.6 381.5v3.3M635.6 408.1v3.3M637.2 215.7v43.1M637.2 262.1v19.9M637.2 285.4v13.3M637.2 301.9v19.9M637.2 325.1v9.9M637.2 338.4v26.5M637.2 368.3v3.3M637.2 374.9v19.9M637.2 398.1v16.6M638.9 328.5v3.3M638.9 355.0v3.3M638.9 381.5v3.3M642.2 265.4v3.3M642.2 308.6v3.3M642.2 325.1v6.6M642.2 358.3v3.3M642.2 388.2v3.3M643.9 215.7v53.1M643.9 272.1v9.9M643.9 285.4v13.3M643.9 301.9v26.5M643.9 331.8v13.3M643.9 348.4v19.9M643.9 374.9v3.3M643.9 381.5v9.9M643.9 394.8v3.3M643.9 401.4v3.3M643.9 408.1v6.6M648.8 252.2v3.3M650.5 222.3v3.3M650.5 229.0v3.3M650.5 238.9v3.3M650.5 248.9v3.3M650.5 258.8v6.6M650.5 288.7v6.6M650.5 301.9v3.3M650.5 318.5v6.6M650.5 328.5v3.3M650.5 341.7v3.3M650.5 378.2v6.6M650.5 388.2v3.3M650.5 394.8v9.9M650.5 411.4v3.3M652.1 215.7v23.2M652.1 242.2v13.3M652.1 258.8v16.6M652.1 285.4v3.3M652.1 301.9v6.6M652.1 311.9v3.3M652.1 318.5v3.3M652.1 331.8v3.3M652.1 338.4v6.6M652.1 348.4v6.6M652.1 358.3v13.3M652.1 378.2v3.3M652.1 384.9v3.3M652.1 391.5v13.3M652.1 408.1v6.6M653.8 242.2v3.3M653.8 315.2v3.3M653.8 364.9v3.3M653.8 384.9v3.3M655.5 215.7v26.5M655.5 245.5v9.9M655.5 258.8v23.2M655.5 285.4v13.3M655.5 301.9v6.6M655.5 311.9v36.5M655.5 351.7v53.1M655.5 408.1v6.6M657.1 215.7v3.3M657.1 222.3v6.6M657.1 235.6v19.9M657.1 258.8v23.2M657.1 285.4v13.3M657.1 305.2v3.3M657.1 311.9v92.9M657.1 408.1v6.6M658.8 215.7v3.3M658.8 222.3v86.2M658.8 311.9v23.2M658.8 338.4v6.6M658.8 348.4v56.4M658.8 408.1v6.6M660.4 215.7v16.6M660.4 238.9v6.6M660.4 248.9v3.3M660.4 255.5v53.1M660.4 311.9v102.8M665.2 255.5v3.3M665.2 288.7v3.3M665.2 311.9v3.3M666.9 225.6v3.3M666.9 258.8v3.3M666.9 305.2v3.3M666.9 318.5v3.3M666.9 381.5v3.3M666.9 401.4v3.3M668.5 219.0v3.3M668.5 242.2v3.3M668.5 288.7v3.3M668.5 391.5v3.3M670.2 215.7v19.9M670.2 238.9v23.2M670.2 265.4v16.6M670.2 285.4v13.3M670.2 311.9v16.6M670.2 331.8v3.3M670.2 338.4v6.6M670.2 348.4v43.1M670.2 394.8v9.9M670.2 408.1v6.6M671.9 215.7v29.9M671.9 248.9v26.5M671.9 278.7v3.3M671.9 285.4v13.3M671.9 301.9v6.6M671.9 311.9v29.9M671.9 348.4v3.3M671.9 355.0v49.8M671.9 408.1v3.3M673.6 215.7v13.3M673.6 242.2v3.3M673.6 252.2v6.6M673.6 265.4v6.6M673.6 275.4v3.3M673.6 285.4v9.9M673.6 305.2v3.3M673.6 311.9v3.3M673.6 318.5v6.6M673.6 328.5v6.6M673.6 341.7v3.3M673.6 348.4v3.3M673.6 355.0v3.3M673.6 361.6v6.6M673.6 398.1v16.6M676.9 215.7v16.6M676.9 235.6v3.3M676.9 242.2v26.5M676.9 272.1v9.9M676.9 285.4v13.3M676.9 301.9v6.6M676.9 311.9v3.3M676.9 318.5v19.9M676.9 341.7v3.3M676.9 348.4v6.6M676.9 358.3v36.5M676.9 398.1v13.3M678.6 215.7v3.3M678.6 222.3v3.3M678.6 229.0v23.2M678.6 262.1v6.6M678.6 272.1v9.9M678.6 285.4v6.6M678.6 295.3v3.3M678.6 305.2v3.3M678.6 311.9v13.3M678.6 328.5v9.9M678.6 341.7v3.3M678.6 348.4v3.3M678.6 355.0v3.3M678.6 361.6v6.6M678.6 374.9v9.9M678.6 391.5v6.6M678.6 401.4v6.6M678.6 411.4v3.3"/>
<path stroke="rgb(30, 130, 250)" stroke-width="1.15" stroke-opacity="0.180" d="M245.7 215.7v6.6M245.7 225.6v3.3M245.7 232.3v6.6M245.7 248.9v3.3M245.7 262.1v3.3M245.7 275.4v6.6M245.7 285.4v6.6M245.7 311.9v6.6M245.7 321.8v6.6M245.7 331.8v13.3M245.7 348.4v6.6M245.7 358.3v6.6M245.7 368.3v3.3M245.7 374.9v3.3M245.7 381.5v3.3M245.7 398.1v6.6M245.7 411.4v3.3M247.3 232.3v3.3M247.3 248.9v3.3M247.3 255.5v13.3M247.3 275.4v9.9M247.3 288.7v3.3M247.3 308.6v6.6M247.3 325.1v6.6M247.3 338.4v6.6M247.3 348.4v3.3M247.3 355.0v3.3M247.3 378.2v6.6M247.3 411.4v3.3M250.5 215.7v9.9M250.5 229.0v9.9M250.5 248.9v6.6M250.5 262.1v3.3M250.5 275.4v3.3M250.5 282.0v6.6M250.5 301.9v3.3M250.5 318.5v3.3M250.5 328.5v3.3M250.5 335.1v3.3M250.5 348.4v3.3M250.5 361.6v3.3M250.5 381.5v6.6M250.5 391.5v3.3M252.1 245.5v3.3M253.8 331.8v3.3M255.4 265.4v3.3M255.4 341.7v3.3M255.4 368.3v3.3M257.0 364.9v3.3M260.3 215.7v6.6M260.3 238.9v3.3M260.3 245.5v6.6M260.3 262.1v3.3M260.3 278.7v3.3M260.3 298.6v3.3M260.3 305.2v3.3M260.3 315.2v3.3M260.3 331.8v3.3M260.3 348.4v3.3M260.3 361.6v3.3M260.3 378.2v3.3M266.7 341.7v3.3M268.4 268.8v3.3M268.4 298.6v3.3M268.4 305.2v3.3M268.4 388.2v3.3M268.4 404.8v3.3M270.0 215.7v6.6M270.0 225.6v3.3M270.0 242.2v3.3M270.0 248.9v3.3M270.0 265.4v13.3M270.0 295.3v13.3M270.0 311.9v13.3M270.0 328.5v3.3M270.0 341.7v3.3M270.0 348.4v3.3M270.0 355.0v3.3M270.0 361.6v3.3M270.0 368.3v3.3M270.0 374.9v13.3M270.0 391.5v3.3M270.0 398.1v3.3M270.0 404.8v6.6M271.6 215.7v3.3M271.6 222.3v3.3M271.6 232.3v3.3M271.6 245.5v9.9M271.6 268.8v13.3M271.6 285.4v6.6M271.6 301.9v9.9M271.6 328.5v9.9M271.6 348.4v3.3M271.6 358.3v3.3M271.6 368.3v3.3M271.6 378.2v9.9M271.6 391.5v6.6M271.6 401.4v3.3M273.2 225.6v3.3M273.2 232.3v3.3M273.2 248.9v3.3M273.2 272.1v6.6M273.2 301.9v3.3M273.2 311.9v3.3M273.2 321.8v9.9M273.2 378.2v3.3M273.2 388.2v13.3M273.2 404.8v6.6M276.5 215.7v3.3M276.5 225.6v3.3M276.5 232.3v3.3M276.5 238.9v19.9M276.5 262.1v3.3M276.5 268.8v9.9M276.5 285.4v3.3M276.5 305.2v3.3M276.5 315.2v19.9M276.5 338.4v3.3M276.5 351.7v9.9M276.5 374.9v3.3M276.5 394.8v6.6M276.5 408.1v6.6M278.1 364.9v3.3M281.3 275.4v3.3M287.6 215.7v6.6M287.6 225.6v9.9M287.6 238.9v6.6M287.6 248.9v13.3M287.6 265.4v3.3M287.6 272.1v16.6M287.6 298.6v13.3M287.6 318.5v13.3M287.6 335.1v6.6M287.6 351.7v3.3M287.6 374.9v6.6M287.6 388.2v3.3M287.6 394.8v6.6M287.6 408.1v3.3M289.2 215.7v9.9M289.2 242.2v3.3M289.2 248.9v9.9M289.2 262.1v3.3M289.2 275.4v19.9M289.2 301.9v6.6M289.2 315.2v6.6M289.2 325.1v16.6M289.2 345.0v16.6M289.2 364.9v6.6M289.2 374.9v9.9M289.2 388.2v13.3M289.2 408.1v6.6M292.5 238.9v3.3M292.5 275.4v3.3M292.5 308.6v3.3M292.5 388.2v3.3M297.4 215.7v3.3M297.4 222.3v13.3M297.4 238.9v23.2M297.4 268.8v3.3M297.4 275.4v3.3M297.4 282.0v9.9M297.4 295.3v3.3M297.4 301.9v6.6M297.4 311.9v3.3M297.4 318.5v6.6M297.4 328.5v19.9M297.4 351.7v3.3M297.4 358.3v6.6M297.4 368.3v16.6M297.4 388.2v16.6M297.4 408.1v3.3M299.0 215.7v3.3M299.0 229.0v6.6M299.0 238.9v3.3M299.0 248.9v6.6M299.0 262.1v29.9M299.0 295.3v3.3M299.0 301.9v6.6M299.0 311.9v6.6M299.0 321.8v3.3M299.0 328.5v16.6M299.0 348.4v3.3M299.0 355.0v3.3M299.0 361.6v3.3M299.0 368.3v3.3M299.0 381.5v9.9M299.0 401.4v3.3M299.0 408.1v6.6M300.6 219.0v3.3M300.6 229.0v6.6M300.6 242.2v3.3M300.6 252.2v6.6M300.6 272.1v3.3M300.6 278.7v3.3M300.6 285.4v6.6M300.6 295.3v13.3M300.6 311.9v6.6M300.6 321.8v6.6M300.6 331.8v9.9M300.6 348.4v9.9M300.6 361.6v3.3M300.6 368.3v9.9M300.6 381.5v3.3M300.6 388.2v9.9M300.6 401.4v3.3M300.6 408.1v3.3M305.5 215.7v19.9M305.5 238.9v33.2M305.5 275.4v6.6M305.5 285.4v26.5M305.5 315.2v36.5M305.5 355.0v9.9M305.5 371.6v33.2M305.5 408.1v6.6M307.1 215.7v6.6M307.1 225.6v3.3M307.1 232.3v3.3M307.1 238.9v6.6M307.1 258.8v3.3M307.1 265.4v16.6M307.1 288.7v6.6M307.1 298.6v6.6M307.1 318.5v6.6M307.1 331.8v6.6M307.1 351.7v3.3M307.1 358.3v3.3M307.1 368.3v3.3M307.1 391.5v3.3M307.1 401.4v3.3M307.1 408.1v3.3M315.1 215.7v3.3M315.1 222.3v3.3M315.1 232.3v6.6M315.1 242.2v3.3M315.1 248.9v13.3M315.1 272.1v3.3M315.1 285.4v6.6M315.1 295.3v3.3M315.1 305.2v3.3M315.1 328.5v13.3M315.1 355.0v6.6M315.1 378.2v9.9M315.1 404.8v6.6M321.7 225.6v3.3M321.7 238.9v3.3M321.7 265.4v6.6M321.7 275.4v3.3M321.7 301.9v3.3M321.7 328.5v3.3M321.7 345.0v3.3M321.7 351.7v3.3M321.7 358.3v3.3M321.7 364.9v3.3M321.7 398.1v6.6M323.4 391.5v3.3M325.1 219.0v3.3M325.1 272.1v6.6M325.1 285.4v6.6M325.1 295.3v3.3M325.1 328.5v3.3M325.1 348.4v3.3M325.1 358.3v3.3M325.1 368.3v6.6M325.1 378.2v3.3M326.7 219.0v9.9M326.7 245.5v9.9M326.7 258.8v6.6M326.7 275.4v9.9M326.7 295.3v3.3M326.7 301.9v3.3M326.7 318.5v9.9M326.7 338.4v6.6M326.7 348.4v3.3M326.7 358.3v6.6M326.7 388.2v6.6M326.7 398.1v3.3M326.7 411.4v3.3M328.4 222.3v3.3M328.4 242.2v3.3M328.4 248.9v3.3M328.4 258.8v9.9M328.4 275.4v9.9M328.4 305.2v3.3M328.4 315.2v3.3M328.4 331.8v3.3M328.4 345.0v3.3M328.4 361.6v3.3M328.4 368.3v6.6M328.4 378.2v9.9M328.4 391.5v6.6M328.4 401.4v3.3M328.4 408.1v6.6M330.0 229.0v9.9M330.0 245.5v6.6M330.0 265.4v9.9M330.0 295.3v3.3M330.0 301.9v3.3M330.0 315.2v3.3M330.0 321.8v6.6M330.0 355.0v6.6M330.0 364.9v6.6M330.0 374.9v6.6M330.0 391.5v9.9M330.0 408.1v3.3M335.0 258.8v3.3M335.0 398.1v3.3M336.7 215.7v39.8M336.7 258.8v33.2M336.7 295.3v13.3M336.7 315.2v29.9M336.7 348.4v9.9M336.7 361.6v16.6M336.7 381.5v3.3M336.7 391.5v13.3M336.7 408.1v6.6M338.3 219.0v3.3M338.3 225.6v3.3M338.3 242.2v6.6M338.3 258.8v3.3M338.3 265.4v3.3M338.3 272.1v9.9M338.3 285.4v6.6M338.3 295.3v3.3M338.3 301.9v6.6M338.3 315.2v3.3M338.3 321.8v13.3M338.3 341.7v3.3M338.3 348.4v6.6M338.3 358.3v3.3M338.3 364.9v3.3M338.3 384.9v3.3M338.3 394.8v9.9M338.3 408.1v6.6M340.0 215.7v3.3M340.0 222.3v23.2M340.0 248.9v6.6M340.0 265.4v9.9M340.0 285.4v6.6M340.0 298.6v3.3M340.0 305.2v3.3M340.0 315.2v13.3M340.0 331.8v6.6M340.0 341.7v3.3M340.0 348.4v3.3M340.0 355.0v3.3M340.0 374.9v13.3M340.0 394.8v3.3M340.0 401.4v3.3M340.0 411.4v3.3M341.7 215.7v16.6M341.7 238.9v3.3M341.7 245.5v3.3M341.7 252.2v3.3M341.7 262.1v13.3M341.7 282.0v6.6M341.7 295.3v13.3M341.7 318.5v6.6M341.7 328.5v9.9M341.7 341.7v3.3M341.7 351.7v3.3M341.7 358.3v9.9M341.7 384.9v3.3M341.7 391.5v3.3M341.7 401.4v3.3M341.7 408.1v6.6M343.3 219.0v9.9M343.3 238.9v3.3M343.3 252.2v3.3M343.3 268.8v3.3M343.3 282.0v6.6M343.3 292.0v3.3M343.3 298.6v3.3M343.3 315.2v6.6M343.3 325.1v3.3M343.3 335.1v3.3M343.3 355.0v13.3M343.3 371.6v6.6M343.3 381.5v3.3M343.3 394.8v3.3M343.3 401.4v3.3M343.3 411.4v3.3M351.6 215.7v9.9M351.6 229.0v13.3M351.6 245.5v9.9M351.6 265.4v3.3M351.6 275.4v3.3M351.6 288.7v9.9M351.6 305.2v3.3M351.6 318.5v3.3M351.6 325.1v3.3M351.6 331.8v6.6M351.6 341.7v3.3M351.6 348.4v16.6M351.6 368.3v3.3M351.6 374.9v9.9M351.6 388.2v9.9M351.6 401.4v6.6M351.6 411.4v3.3M353.2 219.0v6.6M353.2 242.2v3.3M353.2 248.9v3.3M353.2 272.1v3.3M353.2 285.4v6.6M353.2 315.2v3.3M353.2 325.1v3.3M353.2 341.7v3.3M353.2 348.4v3.3M353.2 355.0v3.3M353.2 361.6v6.6M353.2 374.9v3.3M353.2 381.5v16.6M353.2 408.1v3.3M356.4 232.3v3.3M356.4 272.1v3.3M356.4 364.9v6.6M356.4 408.1v3.3M358.1 225.6v3.3M358.1 232.3v9.9M358.1 248.9v6.6M358.1 265.4v3.3M358.1 288.7v3.3M358.1 295.3v3.3M358.1 301.9v3.3M358.1 318.5v3.3M358.1 335.1v9.9M358.1 355.0v9.9M358.1 381.5v3.3M358.1 388.2v23.2M361.2 215.7v26.5M361.2 252.2v13.3M361.2 268.8v26.5M361.2 301.9v26.5M361.2 331.8v3.3M361.2 341.7v3.3M361.2 355.0v3.3M361.2 361.6v3.3M361.2 368.3v16.6M361.2 388.2v3.3M361.2 394.8v9.9M361.2 411.4v3.3M362.8 219.0v3.3M362.8 245.5v3.3M362.8 252.2v3.3M362.8 262.1v3.3M362.8 275.4v3.3M362.8 295.3v3.3M362.8 301.9v3.3M362.8 308.6v3.3M362.8 325.1v3.3M362.8 338.4v3.3M362.8 374.9v3.3M362.8 388.2v3.3M364.4 215.7v3.3M364.4 229.0v9.9M364.4 248.9v6.6M364.4 258.8v6.6M364.4 285.4v3.3M364.4 311.9v6.6M364.4 321.8v3.3M364.4 328.5v13.3M364.4 355.0v3.3M364.4 361.6v3.3M364.4 368.3v3.3M364.4 378.2v6.6M364.4 388.2v3.3M364.4 394.8v3.3M364.4 408.1v6.6M369.2 215.7v6.6M369.2 229.0v6.6M369.2 248.9v9.9M369.2 262.1v6.6M369.2 285.4v9.9M369.2 301.9v3.3M369.2 311.9v3.3M369.2 321.8v9.9M369.2 335.1v9.9M369.2 348.4v3.3M369.2 371.6v6.6M369.2 381.5v3.3M369.2 388.2v6.6M369.2 398.1v16.6M370.8 229.0v6.6M370.8 258.8v6.6M370.8 268.8v3.3M370.8 275.4v3.3M370.8 288.7v3.3M370.8 381.5v9.9M370.8 404.8v3.3M372.4 219.0v6.6M372.4 229.0v3.3M372.4 235.6v26.5M372.4 265.4v3.3M372.4 275.4v6.6M372.4 288.7v3.3M372.4 295.3v3.3M372.4 301.9v3.3M372.4 311.9v6.6M372.4 325.1v3.3M372.4 331.8v9.9M372.4 348.4v6.6M372.4 368.3v6.6M372.4 378.2v13.3M372.4 394.8v6.6M378.4 219.0v16.6M378.4 238.9v13.3M378.4 255.5v3.3M378.4 262.1v6.6M378.4 272.1v6.6M378.4 282.0v3.3M378.4 292.0v6.6M378.4 301.9v6.6M378.4 311.9v3.3M378.4 318.5v3.3M378.4 328.5v9.9M378.4 345.0v3.3M378.4 351.7v3.3M378.4 361.6v16.6M378.4 384.9v3.3M378.4 391.5v3.3M378.4 401.4v13.3M381.6 215.7v3.3M381.6 222.3v13.3M381.6 258.8v6.6M381.6 272.1v3.3M381.6 278.7v19.9M381.6 301.9v3.3M381.6 315.2v6.6M381.6 325.1v9.9M381.6 351.7v3.3M381.6 361.6v3.3M381.6 368.3v3.3M381.6 378.2v9.9M381.6 391.5v3.3M381.6 408.1v3.3M383.2 222.3v3.3M383.2 245.5v6.6M383.2 262.1v6.6M383.2 272.1v3.3M383.2 282.0v3.3M383.2 288.7v3.3M383.2 305.2v3.3M383.2 315.2v9.9M383.2 341.7v3.3M383.2 368.3v6.6M383.2 388.2v3.3M384.8 219.0v16.6M384.8 238.9v3.3M384.8 245.5v9.9M384.8 258.8v9.9M384.8 272.1v9.9M384.8 285.4v23.2M384.8 315.2v3.3M384.8 321.8v23.2M384.8 348.4v3.3M384.8 355.0v9.9M384.8 368.3v13.3M384.8 384.9v3.3M384.8 391.5v9.9M386.4 245.5v3.3M386.4 338.4v3.3M386.4 374.9v3.3M388.0 219.0v16.6M388.0 238.9v3.3M388.0 248.9v6.6M388.0 258.8v19.9M388.0 285.4v6.6M388.0 295.3v13.3M388.0 315.2v13.3M388.0 331.8v9.9M388.0 348.4v6.6M388.0 361.6v26.5M388.0 391.5v6.6M388.0 401.4v3.3M388.0 408.1v6.6M391.2 232.3v3.3M391.2 242.2v3.3M391.2 252.2v3.3M391.2 258.8v3.3M391.2 265.4v3.3M391.2 272.1v3.3M391.2 278.7v3.3M391.2 295.3v3.3M391.2 301.9v3.3M391.2 315.2v3.3M391.2 321.8v9.9M391.2 335.1v9.9M391.2 355.0v9.9M391.2 368.3v6.6M391.2 378.2v9.9M391.2 391.5v3.3M391.2 398.1v6.6M391.2 408.1v3.3M392.7 215.7v6.6M392.7 225.6v3.3M392.7 238.9v3.3M392.7 258.8v3.3M392.7 278.7v3.3M392.7 288.7v3.3M392.7 328.5v3.3M392.7 361.6v3.3M392.7 374.9v3.3M392.7 391.5v3.3M392.7 401.4v3.3M392.7 408.1v3.3M394.3 219.0v16.6M394.3 248.9v6.6M394.3 265.4v3.3M394.3 275.4v9.9M394.3 288.7v3.3M394.3 295.3v3.3M394.3 301.9v6.6M394.3 321.8v3.3M394.3 331.8v3.3M394.3 341.7v3.3M394.3 355.0v3.3M394.3 361.6v3.3M394.3 368.3v6.6M394.3 384.9v9.9M394.3 401.4v3.3M394.3 408.1v6.6M402.3 222.3v3.3M402.3 242.2v3.3M402.3 248.9v6.6M402.3 268.8v3.3M402.3 275.4v3.3M402.3 285.4v6.6M402.3 321.8v3.3M402.3 328.5v6.6M402.3 338.4v3.3M402.3 355.0v3.3M402.3 361.6v3.3M402.3 371.6v3.3M402.3 381.5v9.9M402.3 408.1v3.3M405.5 219.0v13.3M405.5 235.6v6.6M405.5 245.5v6.6M405.5 255.5v9.9M405.5 275.4v6.6M405.5 285.4v19.9M405.5 308.6v3.3M405.5 315.2v36.5M405.5 358.3v6.6M405.5 371.6v3.3M405.5 378.2v6.6M405.5 388.2v9.9M405.5 401.4v13.3M410.2 219.0v3.3M410.2 225.6v3.3M410.2 255.5v3.3M410.2 288.7v9.9M410.2 301.9v3.3M410.2 308.6v3.3M410.2 331.8v3.3M410.2 341.7v6.6M410.2 361.6v6.6M410.2 388.2v3.3M411.8 219.0v19.9M411.8 242.2v3.3M411.8 248.9v6.6M411.8 258.8v13.3M411.8 275.4v9.9M411.8 288.7v3.3M411.8 295.3v9.9M411.8 308.6v33.2M411.8 345.0v23.2M411.8 371.6v9.9M411.8 388.2v26.5M413.4 215.7v3.3M413.4 222.3v33.2M413.4 258.8v23.2M413.4 285.4v6.6M413.4 295.3v3.3M413.4 301.9v6.6M413.4 315.2v6.6M413.4 325.1v16.6M413.4 345.0v13.3M413.4 361.6v6.6M413.4 371.6v13.3M413.4 388.2v9.9M413.4 401.4v9.9M414.9 245.5v3.3M414.9 262.1v3.3M414.9 268.8v3.3M414.9 278.7v3.3M414.9 315.2v3.3M414.9 338.4v3.3M414.9 345.0v6.6M414.9 355.0v3.3M418.0 215.7v3.3M418.0 252.2v3.3M418.0 265.4v3.3M418.0 285.4v3.3M418.0 295.3v3.3M418.0 301.9v6.6M418.0 321.8v6.6M418.0 351.7v3.3M418.0 358.3v3.3M418.0 391.5v3.3M425.8 215.7v3.3M425.8 222.3v6.6M425.8 232.3v9.9M425.8 245.5v9.9M425.8 262.1v6.6M425.8 272.1v6.6M425.8 285.4v13.3M425.8 301.9v6.6M425.8 315.2v13.3M425.8 335.1v19.9M425.8 358.3v6.6M425.8 371.6v13.3M425.8 388.2v6.6M425.8 398.1v6.6M425.8 408.1v3.3M429.0 229.0v6.6M429.0 245.5v3.3M429.0 255.5v3.3M429.0 265.4v3.3M429.0 301.9v3.3M429.0 321.8v6.6M429.0 345.0v3.3M429.0 351.7v3.3M429.0 364.9v3.3M429.0 371.6v6.6M429.0 401.4v3.3M439.9 252.2v3.3M439.9 282.0v6.6M439.9 305.2v3.3M439.9 374.9v3.3M439.9 408.1v3.3M444.8 321.8v3.3M444.8 338.4v3.3M444.8 374.9v3.3M446.4 222.3v9.9M446.4 242.2v9.9M446.4 262.1v29.9M446.4 298.6v3.3M446.4 305.2v3.3M446.4 315.2v3.3M446.4 321.8v6.6M446.4 331.8v13.3M446.4 348.4v3.3M446.4 355.0v9.9M446.4 368.3v3.3M446.4 374.9v9.9M446.4 388.2v16.6M446.4 408.1v3.3M449.6 215.7v3.3M449.6 232.3v3.3M449.6 238.9v13.3M449.6 258.8v3.3M449.6 265.4v3.3M449.6 272.1v3.3M449.6 278.7v13.3M449.6 295.3v13.3M449.6 315.2v3.3M449.6 328.5v23.2M449.6 355.0v3.3M449.6 361.6v3.3M449.6 368.3v13.3M449.6 384.9v3.3M449.6 394.8v9.9M449.6 408.1v6.6M451.3 215.7v9.9M451.3 229.0v6.6M451.3 238.9v9.9M451.3 262.1v9.9M451.3 275.4v3.3M451.3 282.0v9.9M451.3 295.3v6.6M451.3 305.2v3.3M451.3 321.8v9.9M451.3 335.1v9.9M451.3 351.7v13.3M451.3 368.3v6.6M451.3 378.2v9.9M451.3 398.1v6.6M451.3 408.1v6.6M452.9 215.7v6.6M452.9 225.6v9.9M452.9 238.9v16.6M452.9 265.4v9.9M452.9 278.7v26.5M452.9 315.2v29.9M452.9 348.4v3.3M452.9 355.0v9.9M452.9 368.3v13.3M452.9 384.9v19.9M452.9 408.1v6.6M464.4 295.3v3.3M464.4 338.4v3.3M466.0 262.1v3.3M466.0 335.1v3.3M466.0 401.4v3.3M467.6 311.9v3.3M469.2 215.7v6.6M469.2 225.6v23.2M469.2 252.2v9.9M469.2 265.4v3.3M469.2 275.4v9.9M469.2 288.7v13.3M469.2 305.2v6.6M469.2 315.2v3.3M469.2 321.8v9.9M469.2 335.1v3.3M469.2 348.4v3.3M469.2 355.0v9.9M469.2 371.6v6.6M469.2 381.5v3.3M469.2 388.2v26.5M473.9 215.7v3.3M473.9 222.3v3.3M473.9 229.0v3.3M473.9 238.9v3.3M473.9 245.5v3.3M473.9 255.5v3.3M473.9 262.1v6.6M473.9 272.1v3.3M473.9 278.7v16.6M473.9 298.6v3.3M473.9 305.2v19.9M473.9 335.1v9.9M473.9 348.4v3.3M473.9 355.0v3.3M473.9 361.6v3.3M473.9 368.3v9.9M473.9 381.5v9.9M473.9 394.8v3.3M473.9 404.8v3.3M473.9 411.4v3.3M477.1 341.7v3.3M477.1 381.5v6.6M481.8 222.3v3.3M481.8 229.0v3.3M481.8 245.5v3.3M481.8 285.4v3.3M481.8 301.9v3.3M481.8 331.8v3.3M487.9 288.7v3.3M491.1 245.5v9.9M491.1 265.4v3.3M491.1 325.1v3.3M491.1 348.4v3.3M491.1 355.0v3.3M491.1 374.9v3.3M491.1 381.5v3.3M491.1 408.1v6.6M492.7 219.0v3.3M492.7 225.6v16.6M492.7 245.5v29.9M492.7 278.7v19.9M492.7 301.9v6.6M492.7 315.2v13.3M492.7 331.8v13.3M492.7 351.7v29.9M492.7 388.2v3.3M492.7 394.8v6.6M492.7 411.4v3.3M494.2 225.6v3.3M494.2 248.9v6.6M494.2 258.8v9.9M494.2 272.1v3.3M494.2 295.3v3.3M494.2 301.9v6.6M494.2 315.2v13.3M494.2 331.8v3.3M494.2 348.4v16.6M494.2 371.6v9.9M494.2 384.9v3.3M494.2 411.4v3.3M497.4 225.6v3.3M497.4 235.6v3.3M497.4 242.2v3.3M497.4 265.4v6.6M497.4 278.7v3.3M497.4 301.9v3.3M497.4 331.8v9.9M497.4 368.3v3.3M497.4 381.5v6.6M500.6 222.3v3.3M500.6 235.6v9.9M500.6 248.9v6.6M500.6 258.8v3.3M500.6 265.4v3.3M500.6 272.1v9.9M500.6 285.4v6.6M500.6 301.9v3.3M500.6 318.5v3.3M500.6 341.7v3.3M500.6 348.4v3.3M500.6 358.3v3.3M500.6 378.2v3.3M500.6 388.2v9.9M500.6 401.4v3.3M500.6 411.4v3.3M502.1 225.6v3.3M502.1 361.6v3.3M503.7 219.0v9.9M503.7 252.2v3.3M503.7 262.1v3.3M503.7 275.4v3.3M503.7 295.3v3.3M503.7 331.8v3.3M503.7 338.4v3.3M503.7 348.4v3.3M503.7 355.0v3.3M503.7 371.6v6.6M503.7 381.5v6.6M503.7 391.5v13.3M503.7 408.1v6.6M505.3 219.0v6.6M505.3 229.0v6.6M505.3 238.9v3.3M505.3 248.9v16.6M505.3 272.1v9.9M505.3 285.4v9.9M505.3 298.6v6.6M505.3 318.5v13.3M505.3 335.1v9.9M505.3 351.7v3.3M505.3 358.3v9.9M505.3 371.6v13.3M505.3 391.5v13.3M505.3 411.4v3.3M506.9 215.7v3.3M506.9 222.3v13.3M506.9 238.9v16.6M506.9 258.8v9.9M506.9 272.1v9.9M506.9 288.7v6.6M506.9 298.6v9.9M506.9 315.2v6.6M506.9 325.1v6.6M506.9 335.1v9.9M506.9 348.4v19.9M506.9 371.6v29.9M506.9 408.1v6.6M508.4 219.0v6.6M508.4 232.3v3.3M508.4 245.5v6.6M508.4 258.8v3.3M508.4 265.4v3.3M508.4 272.1v3.3M508.4 278.7v3.3M508.4 285.4v3.3M508.4 318.5v3.3M508.4 351.7v3.3M508.4 364.9v3.3M508.4 408.1v3.3M513.2 371.6v3.3M513.2 404.8v3.3M517.8 242.2v3.3M517.8 248.9v26.5M517.8 285.4v6.6M517.8 298.6v3.3M517.8 321.8v9.9M517.8 338.4v13.3M517.8 371.6v6.6M517.8 381.5v3.3M517.8 391.5v16.6M517.8 411.4v3.3M521.1 215.7v13.3M521.1 238.9v29.9M521.1 272.1v9.9M521.1 285.4v36.5M521.1 325.1v3.3M521.1 331.8v9.9M521.1 345.0v9.9M521.1 358.3v3.3M521.1 364.9v3.3M521.1 371.6v9.9M521.1 384.9v6.6M521.1 394.8v9.9M521.1 408.1v6.6M529.4 219.0v9.9M529.4 232.3v3.3M529.4 238.9v3.3M529.4 248.9v6.6M529.4 258.8v9.9M529.4 275.4v6.6M529.4 288.7v3.3M529.4 305.2v3.3M529.4 315.2v6.6M529.4 335.1v19.9M529.4 358.3v13.3M529.4 381.5v16.6M529.4 401.4v9.9M532.7 225.6v3.3M532.7 232.3v3.3M532.7 242.2v9.9M532.7 258.8v9.9M532.7 272.1v3.3M532.7 288.7v3.3M532.7 298.6v9.9M532.7 325.1v6.6M532.7 351.7v3.3M532.7 358.3v3.3M532.7 368.3v3.3M532.7 374.9v3.3M532.7 384.9v6.6M532.7 394.8v9.9M532.7 411.4v3.3M536.1 219.0v16.6M536.1 238.9v3.3M536.1 245.5v3.3M536.1 252.2v3.3M536.1 258.8v16.6M536.1 278.7v3.3M536.1 288.7v3.3M536.1 295.3v6.6M536.1 305.2v3.3M536.1 311.9v3.3M536.1 318.5v3.3M536.1 325.1v29.9M536.1 358.3v6.6M536.1 368.3v3.3M536.1 374.9v33.2M536.1 411.4v3.3M537.7 215.7v13.3M537.7 235.6v19.9M537.7 258.8v3.3M537.7 272.1v9.9M537.7 288.7v3.3M537.7 298.6v6.6M537.7 311.9v3.3M537.7 318.5v3.3M537.7 325.1v13.3M537.7 341.7v26.5M537.7 374.9v3.3M537.7 381.5v3.3M537.7 388.2v19.9M537.7 411.4v3.3M545.8 391.5v3.3M550.8 222.3v3.3M550.8 232.3v3.3M550.8 238.9v3.3M550.8 248.9v19.9M550.8 278.7v3.3M550.8 285.4v9.9M550.8 318.5v6.6M550.8 331.8v6.6M550.8 341.7v16.6M550.8 361.6v9.9M550.8 378.2v6.6M550.8 394.8v13.3M554.1 232.3v3.3M554.1 252.2v3.3M557.4 215.7v3.3M557.4 252.2v3.3M557.4 285.4v3.3M557.4 321.8v3.3M557.4 361.6v3.3M557.4 378.2v3.3M559.1 219.0v6.6M559.1 229.0v3.3M559.1 238.9v3.3M559.1 245.5v6.6M559.1 255.5v3.3M559.1 262.1v6.6M559.1 272.1v3.3M559.1 278.7v3.3M559.1 285.4v6.6M559.1 295.3v3.3M559.1 315.2v9.9M559.1 328.5v19.9M559.1 355.0v9.9M559.1 368.3v6.6M559.1 381.5v3.3M559.1 388.2v23.2M560.8 215.7v3.3M560.8 225.6v3.3M560.8 232.3v3.3M560.8 242.2v3.3M560.8 252.2v3.3M560.8 278.7v3.3M560.8 295.3v6.6M560.8 318.5v3.3M560.8 325.1v3.3M560.8 331.8v3.3M560.8 341.7v3.3M560.8 371.6v3.3M560.8 381.5v3.3M560.8 388.2v3.3M560.8 398.1v9.9M564.1 222.3v3.3M564.1 229.0v6.6M564.1 255.5v6.6M564.1 278.7v16.6M564.1 301.9v3.3M564.1 315.2v3.3M564.1 328.5v6.6M564.1 338.4v3.3M564.1 348.4v3.3M564.1 355.0v3.3M564.1 371.6v6.6M564.1 384.9v3.3M564.1 391.5v13.3M565.8 215.7v3.3M565.8 232.3v3.3M565.8 245.5v3.3M565.8 252.2v3.3M565.8 262.1v6.6M565.8 275.4v3.3M565.8 282.0v6.6M565.8 292.0v3.3M565.8 298.6v3.3M565.8 321.8v6.6M565.8 335.1v3.3M565.8 341.7v9.9M565.8 371.6v16.6M565.8 408.1v3.3M567.4 222.3v3.3M567.4 242.2v3.3M567.4 295.3v3.3M567.4 328.5v6.6M567.4 345.0v3.3M567.4 351.7v3.3M567.4 374.9v3.3M567.4 401.4v3.3M567.4 408.1v3.3M578.4 351.7v3.3M578.4 374.9v3.3M581.6 215.7v3.3M581.6 275.4v3.3M583.1 219.0v9.9M583.1 238.9v3.3M583.1 248.9v3.3M583.1 255.5v3.3M583.1 278.7v3.3M583.1 315.2v3.3M583.1 325.1v6.6M583.1 341.7v3.3M583.1 348.4v3.3M583.1 361.6v3.3M583.1 388.2v9.9M583.1 411.4v3.3M584.7 225.6v3.3M586.3 225.6v3.3M586.3 232.3v3.3M586.3 238.9v6.6M586.3 252.2v3.3M586.3 258.8v3.3M586.3 265.4v3.3M586.3 272.1v6.6M586.3 288.7v9.9M586.3 301.9v6.6M586.3 315.2v6.6M586.3 331.8v13.3M586.3 348.4v3.3M586.3 368.3v6.6M586.3 378.2v9.9M586.3 391.5v6.6M586.3 411.4v3.3M587.9 215.7v9.9M587.9 229.0v23.2M587.9 258.8v6.6M587.9 272.1v3.3M587.9 278.7v9.9M587.9 298.6v6.6M587.9 308.6v3.3M587.9 315.2v19.9M587.9 338.4v3.3M587.9 345.0v9.9M587.9 358.3v3.3M587.9 364.9v19.9M587.9 388.2v16.6M587.9 408.1v6.6M597.5 232.3v3.3M597.5 245.5v3.3M597.5 321.8v3.3M597.5 341.7v3.3M597.5 348.4v6.6M597.5 368.3v3.3M597.5 381.5v3.3M597.5 391.5v3.3M599.1 338.4v3.3M604.1 285.4v3.3M604.1 295.3v3.3M610.6 232.3v3.3M610.6 252.2v3.3M610.6 301.9v3.3M610.6 384.9v6.6M610.6 411.4v3.3M616.8 219.0v6.6M616.8 242.2v3.3M616.8 268.8v6.6M616.8 278.7v3.3M616.8 285.4v6.6M616.8 295.3v3.3M616.8 315.2v3.3M616.8 325.1v6.6M616.8 335.1v6.6M616.8 351.7v9.9M616.8 391.5v3.3M616.8 398.1v3.3M616.8 408.1v3.3M620.0 215.7v6.6M620.0 229.0v26.5M620.0 258.8v9.9M620.0 275.4v6.6M620.0 285.4v6.6M620.0 295.3v13.3M620.0 311.9v29.9M620.0 345.0v13.3M620.0 368.3v13.3M620.0 384.9v9.9M620.0 401.4v3.3M620.0 411.4v3.3M624.8 219.0v9.9M624.8 238.9v6.6M624.8 248.9v3.3M624.8 258.8v3.3M624.8 265.4v3.3M624.8 278.7v3.3M624.8 285.4v9.9M624.8 298.6v9.9M624.8 311.9v6.6M624.8 321.8v3.3M624.8 328.5v9.9M624.8 348.4v13.3M624.8 368.3v3.3M624.8 378.2v16.6M624.8 398.1v6.6M624.8 408.1v6.6M626.4 219.0v13.3M626.4 242.2v9.9M626.4 258.8v3.3M626.4 265.4v6.6M626.4 285.4v3.3M626.4 295.3v33.2M626.4 335.1v6.6M626.4 351.7v3.3M626.4 361.6v3.3M626.4 368.3v26.5M626.4 401.4v3.3M626.4 408.1v3.3M628.0 215.7v3.3M628.0 229.0v6.6M628.0 238.9v3.3M628.0 275.4v3.3M628.0 298.6v3.3M628.0 305.2v3.3M628.0 311.9v6.6M628.0 351.7v3.3M628.0 361.6v3.3M628.0 368.3v3.3M628.0 384.9v3.3M628.0 394.8v3.3M628.0 401.4v3.3M629.6 222.3v3.3M629.6 258.8v3.3M629.6 292.0v3.3M629.6 358.3v3.3M629.6 368.3v3.3M629.6 374.9v3.3M629.6 391.5v3.3M635.6 215.7v63.0M635.6 285.4v13.3M635.6 301.9v16.6M635.6 328.5v36.5M635.6 368.3v6.6M635.6 384.9v23.2M635.6 411.4v3.3M638.9 219.0v9.9M638.9 245.5v3.3M638.9 258.8v3.3M638.9 265.4v3.3M638.9 272.1v3.3M638.9 278.7v3.3M638.9 295.3v3.3M638.9 305.2v6.6M638.9 315.2v9.9M638.9 331.8v3.3M638.9 338.4v6.6M638.9 358.3v3.3M638.9 368.3v3.3M638.9 374.9v6.6M638.9 384.9v6.6M638.9 404.8v3.3M642.2 245.5v3.3M642.2 255.5v3.3M642.2 301.9v6.6M648.8 215.7v16.6M648.8 235.6v3.3M648.8 242.2v3.3M648.8 248.9v3.3M648.8 262.1v19.9M648.8 288.7v6.6M648.8 301.9v29.9M648.8 341.7v3.3M648.8 348.4v13.3M648.8 368.3v3.3M648.8 374.9v3.3M648.8 381.5v3.3M648.8 388.2v16.6M648.8 408.1v6.6M650.5 215.7v6.6M650.5 225.6v3.3M650.5 232.3v6.6M650.5 242.2v3.3M650.5 252.2v3.3M650.5 265.4v16.6M650.5 285.4v3.3M650.5 295.3v3.3M650.5 305.2v3.3M650.5 311.9v6.6M650.5 325.1v3.3M650.5 331.8v6.6M650.5 348.4v6.6M650.5 358.3v13.3M650.5 374.9v3.3M650.5 384.9v3.3M650.5 391.5v3.3M650.5 408.1v3.3M653.8 232.3v3.3M660.4 245.5v3.3M665.2 215.7v23.2M665.2 242.2v3.3M665.2 248.9v6.6M665.2 262.1v6.6M665.2 272.1v3.3M665.2 278.7v3.3M665.2 285.4v3.3M665.2 292.0v6.6M665.2 301.9v6.6M665.2 318.5v3.3M665.2 325.1v19.9M665.2 348.4v9.9M665.2 364.9v6.6M665.2 374.9v6.6M665.2 391.5v3.3M665.2 398.1v6.6M665.2 408.1v6.6M666.9 219.0v6.6M666.9 229.0v29.9M666.9 262.1v19.9M666.9 285.4v6.6M666.9 295.3v3.3M666.9 301.9v3.3M666.9 311.9v6.6M666.9 321.8v23.2M666.9 348.4v16.6M666.9 368.3v3.3M666.9 374.9v6.6M666.9 384.9v6.6M666.9 394.8v6.6M666.9 408.1v6.6M668.5 215.7v3.3M668.5 222.3v19.9M668.5 245.5v3.3M668.5 252.2v26.5M668.5 285.4v3.3M668.5 292.0v6.6M668.5 301.9v6.6M668.5 311.9v33.2M668.5 348.4v16.6M668.5 368.3v23.2M668.5 394.8v9.9M668.5 408.1v6.6M673.6 229.0v13.3M673.6 245.5v6.6M673.6 258.8v6.6M673.6 272.1v3.3M673.6 278.7v3.3M673.6 295.3v3.3M673.6 301.9v3.3M673.6 315.2v3.3M673.6 325.1v3.3M673.6 335.1v6.6M673.6 351.7v3.3M673.6 358.3v3.3M673.6 368.3v16.6M673.6 388.2v9.9M675.3 219.0v3.3M675.3 229.0v23.2M675.3 255.5v13.3M675.3 275.4v3.3M675.3 285.4v3.3M675.3 292.0v6.6M675.3 305.2v3.3M675.3 335.1v6.6M675.3 348.4v3.3M675.3 355.0v3.3M675.3 364.9v3.3M675.3 371.6v6.6M675.3 381.5v3.3M675.3 391.5v3.3M675.3 398.1v3.3M675.3 408.1v6.6M676.9 338.4v3.3M676.9 394.8v3.3M676.9 411.4v3.3M678.6 219.0v3.3M678.6 225.6v3.3M678.6 252.2v6.6M678.6 292.0v3.3M678.6 298.6v6.6M678.6 325.1v3.3M678.6 338.4v3.3M678.6 345.0v3.3M678.6 351.7v3.3M678.6 358.3v3.3M678.6 368.3v6.6M678.6 384.9v6.6M678.6 398.1v3.3M678.6 408.1v3.3"/>
<path stroke="rgb(30, 130, 250)" stroke-width="1.15" stroke-opacity="0.270" d="M245.7 222.3v3.3M245.7 229.0v3.3M245.7 238.9v9.9M245.7 252.2v6.6M245.7 265.4v3.3M245.7 272.1v3.3M245.7 282.0v3.3M245.7 295.3v3.3M245.7 301.9v9.9M245.7 345.0v3.3M245.7 355.0v3.3M245.7 364.9v3.3M245.7 378.2v3.3M245.7 388.2v9.9M245.7 408.1v3.3M247.3 215.7v6.6M247.3 225.6v6.6M247.3 235.6v13.3M247.3 272.1v3.3M247.3 285.4v3.3M247.3 295.3v3.3M247.3 301.9v6.6M247.3 315.2v9.9M247.3 331.8v6.6M247.3 351.7v3.3M247.3 361.6v3.3M247.3 368.3v9.9M247.3 384.9v9.9M247.3 398.1v6.6M247.3 408.1v3.3M248.9 225.6v3.3M250.5 225.6v3.3M250.5 238.9v9.9M250.5 255.5v6.6M250.5 265.4v3.3M250.5 272.1v3.3M250.5 278.7v3.3M250.5 288.7v3.3M250.5 295.3v3.3M250.5 305.2v13.3M250.5 321.8v6.6M250.5 331.8v3.3M250.5 338.4v9.9M250.5 351.7v9.9M250.5 368.3v13.3M250.5 388.2v3.3M250.5 394.8v9.9M250.5 408.1v6.6M260.3 338.4v3.3M263.5 272.1v3.3M263.5 348.4v3.3M266.7 262.1v3.3M266.7 315.2v3.3M266.7 408.1v3.3M268.4 219.0v3.3M268.4 225.6v6.6M268.4 238.9v13.3M268.4 258.8v6.6M268.4 275.4v6.6M268.4 288.7v6.6M268.4 301.9v3.3M268.4 308.6v3.3M268.4 315.2v3.3M268.4 321.8v16.6M268.4 341.7v3.3M268.4 348.4v6.6M268.4 361.6v6.6M268.4 374.9v9.9M268.4 398.1v6.6M268.4 408.1v6.6M270.0 229.0v6.6M270.0 238.9v3.3M270.0 245.5v3.3M270.0 252.2v3.3M270.0 258.8v3.3M270.0 278.7v3.3M270.0 285.4v6.6M270.0 308.6v3.3M270.0 331.8v3.3M270.0 338.4v3.3M270.0 351.7v3.3M270.0 358.3v3.3M270.0 371.6v3.3M270.0 388.2v3.3M270.0 394.8v3.3M270.0 411.4v3.3M273.2 331.8v3.3M274.9 229.0v3.3M276.5 288.7v3.3M276.5 298.6v3.3M278.1 215.7v3.3M278.1 222.3v3.3M278.1 229.0v3.3M278.1 242.2v6.6M278.1 252.2v16.6M278.1 272.1v3.3M278.1 295.3v9.9M278.1 315.2v3.3M278.1 321.8v13.3M278.1 341.7v3.3M278.1 348.4v3.3M278.1 358.3v6.6M278.1 368.3v3.3M278.1 374.9v9.9M278.1 398.1v6.6M278.1 411.4v3.3M279.7 381.5v3.3M286.0 295.3v3.3M286.0 368.3v3.3M286.0 384.9v3.3M287.6 222.3v3.3M287.6 245.5v3.3M287.6 262.1v3.3M287.6 288.7v9.9M287.6 311.9v6.6M287.6 331.8v3.3M287.6 341.7v9.9M287.6 355.0v3.3M287.6 361.6v13.3M287.6 381.5v3.3M287.6 391.5v3.3M287.6 401.4v3.3M287.6 411.4v3.3M290.9 242.2v3.3M292.5 411.4v3.3M294.1 285.4v3.3M294.1 308.6v3.3M295.7 335.1v3.3M299.0 371.6v3.3M307.1 245.5v13.3M307.1 262.1v3.3M307.1 285.4v3.3M307.1 295.3v3.3M307.1 305.2v6.6M307.1 315.2v3.3M307.1 325.1v6.6M307.1 338.4v13.3M307.1 361.6v6.6M307.1 371.6v6.6M307.1 381.5v9.9M307.1 394.8v6.6M307.1 411.4v3.3M311.8 248.9v3.3M311.8 275.4v3.3M313.4 401.4v3.3M316.8 325.1v3.3M321.7 272.1v3.3M321.7 368.3v3.3M328.4 215.7v6.6M328.4 225.6v16.6M328.4 245.5v3.3M328.4 252.2v6.6M328.4 268.8v6.6M328.4 285.4v6.6M328.4 295.3v3.3M328.4 301.9v3.3M328.4 318.5v13.3M328.4 335.1v9.9M328.4 348.4v13.3M328.4 364.9v3.3M328.4 374.9v3.3M328.4 388.2v3.3M330.0 215.7v3.3M330.0 222.3v6.6M330.0 238.9v6.6M330.0 252.2v13.3M330.0 275.4v16.6M330.0 305.2v3.3M330.0 318.5v3.3M330.0 328.5v13.3M330.0 345.0v3.3M330.0 351.7v3.3M330.0 371.6v3.3M330.0 381.5v3.3M330.0 388.2v3.3M330.0 401.4v3.3M330.0 411.4v3.3M331.7 222.3v3.3M331.7 235.6v3.3M331.7 248.9v3.3M331.7 258.8v6.6M331.7 272.1v3.3M331.7 278.7v3.3M331.7 285.4v3.3M331.7 305.2v3.3M331.7 315.2v9.9M331.7 328.5v6.6M331.7 345.0v3.3M331.7 351.7v3.3M331.7 358.3v3.3M331.7 388.2v13.3M331.7 411.4v3.3M333.4 288.7v3.3M340.0 282.0v3.3M343.3 215.7v3.3M343.3 229.0v9.9M343.3 245.5v6.6M343.3 262.1v6.6M343.3 272.1v9.9M343.3 295.3v3.3M343.3 305.2v3.3M343.3 328.5v6.6M343.3 338.4v6.6M343.3 348.4v6.6M343.3 368.3v3.3M343.3 378.2v3.3M343.3 384.9v9.9M343.3 398.1v3.3M343.3 408.1v3.3M348.4 258.8v3.3M348.4 328.5v3.3M348.4 411.4v3.3M350.1 252.2v3.3M350.1 295.3v6.6M350.1 378.2v3.3M353.2 215.7v3.3M353.2 225.6v16.6M353.2 245.5v3.3M353.2 252.2v3.3M353.2 258.8v13.3M353.2 275.4v6.6M353.2 295.3v3.3M353.2 301.9v6.6M353.2 318.5v6.6M353.2 328.5v13.3M353.2 351.7v3.3M353.2 358.3v3.3M353.2 371.6v3.3M353.2 378.2v3.3M353.2 398.1v9.9M353.2 411.4v3.3M356.4 215.7v6.6M356.4 225.6v3.3M356.4 242.2v13.3M356.4 258.8v13.3M356.4 275.4v3.3M356.4 282.0v13.3M356.4 301.9v6.6M356.4 315.2v19.9M356.4 341.7v3.3M356.4 348.4v9.9M356.4 371.6v23.2M356.4 401.4v3.3M356.4 411.4v3.3M359.6 272.1v3.3M359.6 331.8v3.3M359.6 384.9v3.3M361.2 391.5v3.3M362.8 229.0v3.3M362.8 238.9v3.3M362.8 411.4v3.3M364.4 219.0v9.9M364.4 238.9v9.9M364.4 255.5v3.3M364.4 265.4v3.3M364.4 278.7v6.6M364.4 288.7v3.3M364.4 298.6v13.3M364.4 318.5v3.3M364.4 341.7v3.3M364.4 348.4v6.6M364.4 364.9v3.3M364.4 371.6v6.6M364.4 384.9v3.3M364.4 391.5v3.3M364.4 401.4v6.6M366.0 338.4v3.3M369.2 222.3v6.6M369.2 235.6v9.9M369.2 258.8v3.3M369.2 268.8v16.6M369.2 295.3v3.3M369.2 305.2v3.3M369.2 315.2v6.6M369.2 331.8v3.3M369.2 351.7v13.3M369.2 368.3v3.3M369.2 378.2v3.3M369.2 394.8v3.3M370.8 215.7v13.3M370.8 242.2v3.3M370.8 248.9v9.9M370.8 278.7v9.9M370.8 292.0v6.6M370.8 301.9v3.3M370.8 311.9v23.2M370.8 338.4v6.6M370.8 348.4v3.3M370.8 358.3v6.6M370.8 368.3v9.9M370.8 391.5v3.3M370.8 398.1v6.6M370.8 411.4v3.3M378.4 278.7v3.3M383.2 219.0v3.3M383.2 225.6v19.9M383.2 252.2v3.3M383.2 258.8v3.3M383.2 268.8v3.3M383.2 278.7v3.3M383.2 292.0v6.6M383.2 301.9v3.3M383.2 325.1v16.6M383.2 348.4v16.6M383.2 374.9v13.3M383.2 391.5v16.6M383.2 411.4v3.3M384.8 351.7v3.3M384.8 381.5v3.3M384.8 388.2v3.3M384.8 408.1v6.6M389.6 361.6v6.6M391.2 222.3v9.9M391.2 238.9v3.3M391.2 245.5v6.6M391.2 262.1v3.3M391.2 268.8v3.3M391.2 275.4v3.3M391.2 282.0v9.9M391.2 298.6v3.3M391.2 318.5v3.3M391.2 331.8v3.3M391.2 348.4v6.6M391.2 374.9v3.3M391.2 388.2v3.3M391.2 411.4v3.3M394.3 215.7v3.3M394.3 238.9v6.6M394.3 258.8v6.6M394.3 268.8v6.6M394.3 315.2v6.6M394.3 328.5v3.3M394.3 338.4v3.3M394.3 348.4v6.6M394.3 358.3v3.3M394.3 374.9v6.6M394.3 394.8v6.6M395.9 325.1v3.3M397.5 358.3v3.3M399.1 411.4v3.3M402.3 215.7v6.6M402.3 229.0v13.3M402.3 245.5v3.3M402.3 258.8v3.3M402.3 265.4v3.3M402.3 272.1v3.3M402.3 295.3v3.3M402.3 301.9v6.6M402.3 311.9v3.3M402.3 318.5v3.3M402.3 325.1v3.3M402.3 335.1v3.3M402.3 341.7v3.3M402.3 348.4v6.6M402.3 358.3v3.3M402.3 364.9v6.6M402.3 374.9v6.6M402.3 391.5v13.3M402.3 411.4v3.3M403.9 318.5v3.3M403.9 338.4v3.3M403.9 351.7v3.3M403.9 394.8v3.3M405.5 215.7v3.3M405.5 232.3v3.3M405.5 242.2v3.3M405.5 252.2v3.3M405.5 268.8v6.6M405.5 282.0v3.3M405.5 311.9v3.3M405.5 351.7v3.3M405.5 364.9v6.6M405.5 374.9v3.3M405.5 398.1v3.3M413.4 292.0v3.3M413.4 298.6v3.3M413.4 321.8v3.3M413.4 358.3v3.3M413.4 368.3v3.3M413.4 398.1v3.3M413.4 411.4v3.3M414.9 215.7v29.9M414.9 248.9v3.3M414.9 265.4v3.3M414.9 272.1v6.6M414.9 285.4v3.3M414.9 292.0v6.6M414.9 301.9v6.6M414.9 318.5v9.9M414.9 331.8v6.6M414.9 341.7v3.3M414.9 351.7v3.3M414.9 358.3v9.9M414.9 371.6v43.1M416.5 305.2v3.3M416.5 384.9v3.3M418.0 219.0v3.3M418.0 229.0v16.6M418.0 248.9v3.3M418.0 258.8v6.6M418.0 268.8v13.3M418.0 288.7v3.3M418.0 315.2v6.6M418.0 328.5v3.3M418.0 335.1v16.6M418.0 355.0v3.3M418.0 361.6v3.3M418.0 368.3v23.2M418.0 394.8v19.9M419.6 288.7v6.6M421.2 378.2v3.3M421.2 388.2v3.3M422.7 305.2v3.3M425.8 219.0v3.3M425.8 229.0v3.3M425.8 242.2v3.3M425.8 258.8v3.3M425.8 278.7v3.3M425.8 331.8v3.3M425.8 355.0v3.3M425.8 364.9v6.6M425.8 394.8v3.3M425.8 411.4v3.3M427.4 345.0v3.3M433.5 252.2v3.3M433.5 301.9v3.3M433.5 361.6v3.3M435.1 305.2v3.3M435.1 328.5v3.3M438.3 305.2v3.3M438.3 348.4v3.3M439.9 222.3v13.3M439.9 242.2v3.3M439.9 248.9v3.3M439.9 258.8v23.2M439.9 288.7v3.3M439.9 295.3v9.9M439.9 315.2v13.3M439.9 331.8v6.6M439.9 341.7v3.3M439.9 351.7v9.9M439.9 364.9v9.9M439.9 378.2v3.3M439.9 391.5v13.3M441.5 351.7v3.3M443.2 265.4v3.3M443.2 355.0v3.3M444.8 219.0v3.3M444.8 272.1v3.3M444.8 355.0v3.3M446.4 215.7v6.6M446.4 232.3v3.3M446.4 238.9v3.3M446.4 252.2v3.3M446.4 258.8v3.3M446.4 301.9v3.3M446.4 318.5v3.3M446.4 328.5v3.3M446.4 345.0v3.3M446.4 351.7v3.3M446.4 371.6v3.3M446.4 384.9v3.3M446.4 411.4v3.3M448.0 394.8v3.3M451.3 248.9v6.6M451.3 272.1v3.3M451.3 278.7v3.3M451.3 301.9v3.3M451.3 315.2v6.6M451.3 331.8v3.3M451.3 345.0v3.3M451.3 391.5v6.6M452.9 258.8v3.3M454.5 225.6v3.3M456.1 268.8v3.3M456.1 321.8v3.3M456.1 381.5v3.3M456.1 394.8v3.3M459.3 292.0v3.3M466.0 288.7v3.3M466.0 318.5v3.3M469.2 248.9v3.3M469.2 262.1v3.3M469.2 301.9v3.3M469.2 311.9v3.3M469.2 331.8v3.3M469.2 341.7v3.3M469.2 351.7v3.3M469.2 368.3v3.3M469.2 384.9v3.3M470.7 305.2v3.3M472.3 292.0v3.3M472.3 298.6v3.3M472.3 381.5v3.3M475.5 285.4v3.3M475.5 411.4v3.3M477.1 215.7v13.3M477.1 232.3v3.3M477.1 238.9v16.6M477.1 258.8v9.9M477.1 272.1v9.9M477.1 285.4v9.9M477.1 301.9v19.9M477.1 325.1v9.9M477.1 348.4v3.3M477.1 371.6v9.9M477.1 391.5v3.3M477.1 398.1v16.6M478.6 381.5v3.3M481.8 215.7v6.6M481.8 242.2v3.3M481.8 252.2v3.3M481.8 258.8v6.6M481.8 275.4v6.6M481.8 292.0v9.9M481.8 305.2v26.5M481.8 338.4v3.3M481.8 345.0v6.6M481.8 361.6v13.3M481.8 378.2v9.9M481.8 398.1v9.9M481.8 411.4v3.3M483.4 364.9v3.3M487.9 328.5v3.3M487.9 391.5v3.3M489.5 265.4v3.3M491.1 215.7v26.5M491.1 262.1v3.3M491.1 272.1v19.9M491.1 295.3v3.3M491.1 301.9v6.6M491.1 318.5v6.6M491.1 328.5v3.3M491.1 335.1v9.9M491.1 351.7v3.3M491.1 358.3v13.3M491.1 384.9v16.6M494.2 215.7v3.3M494.2 222.3v3.3M494.2 229.0v19.9M494.2 255.5v3.3M494.2 268.8v3.3M494.2 275.4v6.6M494.2 285.4v6.6M494.2 328.5v3.3M494.2 335.1v9.9M494.2 364.9v6.6M494.2 381.5v3.3M494.2 388.2v16.6M495.8 301.9v3.3M497.4 275.4v3.3M499.0 321.8v3.3M499.0 391.5v3.3M502.1 238.9v3.3M502.1 248.9v3.3M502.1 255.5v3.3M502.1 265.4v6.6M502.1 278.7v3.3M502.1 285.4v3.3M502.1 295.3v3.3M502.1 318.5v6.6M502.1 338.4v6.6M502.1 351.7v3.3M502.1 368.3v3.3M502.1 374.9v3.3M502.1 384.9v6.6M503.7 345.0v3.3M508.4 215.7v3.3M508.4 225.6v6.6M508.4 242.2v3.3M508.4 252.2v6.6M508.4 275.4v3.3M508.4 288.7v6.6M508.4 298.6v9.9M508.4 315.2v3.3M508.4 321.8v29.9M508.4 355.0v9.9M508.4 368.3v3.3M508.4 374.9v6.6M508.4 384.9v19.9M510.0 348.4v3.3M511.6 411.4v3.3M513.2 215.7v6.6M513.2 232.3v3.3M513.2 242.2v3.3M513.2 248.9v3.3M513.2 258.8v3.3M513.2 265.4v3.3M513.2 275.4v3.3M513.2 285.4v3.3M513.2 301.9v6.6M513.2 331.8v9.9M513.2 345.0v3.3M513.2 358.3v9.9M513.2 374.9v9.9M513.2 408.1v3.3M522.8 308.6v3.3M529.4 298.6v3.3M531.1 248.9v3.3M531.1 384.9v3.3M534.4 295.3v3.3M542.5 285.4v3.3M542.5 388.2v3.3M544.1 242.2v3.3M544.1 338.4v3.3M547.5 232.3v3.3M547.5 318.5v3.3M547.5 408.1v3.3M549.1 275.4v3.3M549.1 408.1v3.3M552.5 219.0v3.3M552.5 252.2v3.3M552.5 321.8v3.3M552.5 361.6v3.3M552.5 391.5v6.6M554.1 318.5v3.3M555.8 219.0v13.3M555.8 238.9v13.3M555.8 258.8v3.3M555.8 265.4v3.3M555.8 272.1v3.3M555.8 278.7v13.3M555.8 295.3v9.9M555.8 315.2v6.6M555.8 325.1v3.3M555.8 331.8v6.6M555.8 341.7v3.3M555.8 348.4v19.9M555.8 371.6v6.6M555.8 381.5v3.3M555.8 388.2v6.6M555.8 398.1v13.3M557.4 278.7v3.3M559.1 215.7v3.3M559.1 225.6v3.3M559.1 232.3v3.3M559.1 242.2v3.3M559.1 252.2v3.3M559.1 258.8v3.3M559.1 275.4v3.3M559.1 292.0v3.3M559.1 301.9v6.6M559.1 325.1v3.3M559.1 351.7v3.3M559.1 374.9v6.6M559.1 384.9v3.3M560.8 219.0v6.6M560.8 229.0v3.3M560.8 245.5v6.6M560.8 262.1v6.6M560.8 272.1v6.6M560.8 285.4v9.9M560.8 301.9v6.6M560.8 315.2v3.3M560.8 321.8v3.3M560.8 328.5v3.3M560.8 335.1v6.6M560.8 345.0v13.3M560.8 361.6v3.3M560.8 368.3v3.3M560.8 374.9v6.6M560.8 384.9v3.3M560.8 411.4v3.3M562.4 222.3v3.3M562.4 265.4v3.3M562.4 331.8v3.3M565.8 219.0v13.3M565.8 235.6v6.6M565.8 248.9v3.3M565.8 258.8v3.3M565.8 272.1v3.3M565.8 288.7v3.3M565.8 301.9v6.6M565.8 315.2v6.6M565.8 328.5v3.3M565.8 338.4v3.3M565.8 351.7v13.3M565.8 391.5v3.3M565.8 401.4v3.3M565.8 411.4v3.3M567.4 215.7v6.6M567.4 225.6v6.6M567.4 235.6v6.6M567.4 245.5v3.3M567.4 252.2v3.3M567.4 262.1v3.3M567.4 272.1v3.3M567.4 278.7v16.6M567.4 298.6v3.3M567.4 305.2v3.3M567.4 315.2v6.6M567.4 325.1v3.3M567.4 335.1v9.9M567.4 348.4v3.3M567.4 355.0v9.9M567.4 368.3v6.6M567.4 378.2v16.6M567.4 398.1v3.3M567.4 411.4v3.3M572.1 219.0v3.3M572.1 268.8v3.3M572.1 368.3v3.3M575.3 411.4v3.3M576.9 265.4v3.3M578.4 315.2v3.3M578.4 401.4v3.3M581.6 325.1v3.3M581.6 394.8v3.3M583.1 215.7v3.3M583.1 229.0v3.3M583.1 242.2v3.3M583.1 252.2v3.3M583.1 258.8v19.9M583.1 285.4v6.6M583.1 295.3v13.3M583.1 311.9v3.3M583.1 318.5v6.6M583.1 331.8v9.9M583.1 345.0v3.3M583.1 351.7v9.9M583.1 364.9v19.9M583.1 398.1v6.6M583.1 408.1v3.3M584.7 222.3v3.3M584.7 252.2v3.3M584.7 278.7v3.3M584.7 325.1v3.3M584.7 331.8v3.3M584.7 364.9v3.3M584.7 371.6v3.3M584.7 388.2v6.6M584.7 398.1v6.6M584.7 408.1v3.3M586.3 215.7v6.6M586.3 248.9v3.3M586.3 262.1v3.3M586.3 268.8v3.3M586.3 278.7v9.9M586.3 311.9v3.3M586.3 321.8v9.9M586.3 345.0v3.3M586.3 351.7v13.3M586.3 374.9v3.3M586.3 388.2v3.3M586.3 398.1v6.6M586.3 408.1v3.3M587.9 225.6v3.3M587.9 252.2v3.3M587.9 268.8v3.3M587.9 275.4v3.3M587.9 295.3v3.3M587.9 305.2v3.3M587.9 355.0v3.3M592.6 215.7v3.3M592.6 232.3v3.3M592.6 245.5v6.6M592.6 258.8v3.3M592.6 265.4v3.3M592.6 272.1v3.3M592.6 282.0v3.3M592.6 288.7v6.6M592.6 298.6v19.9M592.6 325.1v9.9M592.6 338.4v3.3M592.6 345.0v3.3M592.6 351.7v3.3M592.6 371.6v6.6M592.6 388.2v6.6M592.6 401.4v13.3M595.9 371.6v6.6M597.5 215.7v16.6M597.5 238.9v6.6M597.5 248.9v6.6M597.5 258.8v9.9M597.5 272.1v9.9M597.5 288.7v3.3M597.5 295.3v3.3M597.5 301.9v6.6M597.5 311.9v9.9M597.5 325.1v16.6M597.5 345.0v3.3M597.5 358.3v6.6M597.5 371.6v9.9M597.5 384.9v6.6M597.5 394.8v9.9M597.5 408.1v6.6M599.1 215.7v3.3M599.1 222.3v3.3M599.1 229.0v6.6M599.1 238.9v3.3M599.1 248.9v6.6M599.1 262.1v6.6M599.1 272.1v6.6M599.1 288.7v3.3M599.1 311.9v3.3M599.1 321.8v3.3M599.1 331.8v3.3M599.1 341.7v3.3M599.1 348.4v9.9M599.1 371.6v13.3M599.1 388.2v3.3M599.1 394.8v3.3M599.1 401.4v3.3M599.1 411.4v3.3M602.4 219.0v3.3M602.4 358.3v3.3M602.4 401.4v3.3M604.1 338.4v3.3M605.7 408.1v3.3M607.3 222.3v3.3M607.3 374.9v3.3M607.3 384.9v3.3M609.0 262.1v3.3M609.0 401.4v3.3M609.0 411.4v3.3M610.6 215.7v3.3M610.6 225.6v3.3M610.6 238.9v6.6M610.6 255.5v6.6M610.6 265.4v3.3M610.6 305.2v3.3M610.6 311.9v6.6M610.6 325.1v6.6M610.6 335.1v9.9M610.6 348.4v9.9M610.6 361.6v3.3M610.6 368.3v9.9M610.6 381.5v3.3M610.6 391.5v16.6M615.2 268.8v3.3M615.2 285.4v3.3M615.2 358.3v3.3M615.2 378.2v3.3M616.8 215.7v3.3M616.8 225.6v9.9M616.8 238.9v3.3M616.8 245.5v23.2M616.8 275.4v3.3M616.8 298.6v6.6M616.8 311.9v3.3M616.8 318.5v6.6M616.8 331.8v3.3M616.8 341.7v9.9M616.8 361.6v9.9M616.8 374.9v16.6M616.8 394.8v3.3M616.8 401.4v3.3M618.4 242.2v3.3M618.4 248.9v3.3M618.4 295.3v3.3M621.6 238.9v3.3M624.8 215.7v3.3M624.8 229.0v9.9M624.8 262.1v3.3M624.8 268.8v9.9M624.8 295.3v3.3M624.8 325.1v3.3M624.8 341.7v3.3M624.8 361.6v3.3M624.8 371.6v6.6M624.8 394.8v3.3M626.4 215.7v3.3M626.4 235.6v3.3M626.4 252.2v3.3M626.4 272.1v9.9M626.4 288.7v3.3M626.4 331.8v3.3M626.4 341.7v3.3M626.4 348.4v3.3M626.4 355.0v3.3M626.4 394.8v6.6M626.4 411.4v3.3M629.6 219.0v3.3M629.6 225.6v9.9M629.6 238.9v19.9M629.6 262.1v6.6M629.6 272.1v3.3M629.6 278.7v3.3M629.6 285.4v6.6M629.6 295.3v6.6M629.6 305.2v9.9M629.6 325.1v3.3M629.6 331.8v6.6M629.6 341.7v3.3M629.6 348.4v6.6M629.6 361.6v3.3M629.6 371.6v3.3M629.6 378.2v3.3M629.6 384.9v3.3M629.6 394.8v9.9M629.6 408.1v6.6M631.2 235.6v3.3M631.2 252.2v3.3M631.2 348.4v3.3M635.6 318.5v3.3M637.2 321.8v3.3M638.9 215.7v3.3M638.9 229.0v6.6M638.9 238.9v6.6M638.9 248.9v9.9M638.9 262.1v3.3M638.9 275.4v3.3M638.9 285.4v6.6M638.9 301.9v3.3M638.9 311.9v3.3M638.9 325.1v3.3M638.9 335.1v3.3M638.9 345.0v9.9M638.9 361.6v3.3M638.9 371.6v3.3M638.9 391.5v13.3M638.9 408.1v6.6M640.5 219.0v3.3M640.5 229.0v6.6M640.5 242.2v9.9M640.5 278.7v3.3M640.5 285.4v6.6M640.5 305.2v3.3M640.5 315.2v3.3M640.5 328.5v9.9M640.5 341.7v9.9M640.5 374.9v6.6M640.5 388.2v3.3M640.5 401.4v3.3M640.5 411.4v3.3M642.2 215.7v3.3M642.2 222.3v9.9M642.2 238.9v6.6M642.2 248.9v6.6M642.2 258.8v3.3M642.2 272.1v6.6M642.2 288.7v3.3M642.2 295.3v3.3M642.2 321.8v3.3M642.2 331.8v16.6M642.2 355.0v3.3M642.2 368.3v9.9M642.2 384.9v3.3M642.2 391.5v3.3M642.2 398.1v13.3M643.9 328.5v3.3M643.9 368.3v6.6M643.9 391.5v3.3M643.9 398.1v3.3M645.5 301.9v3.3M645.5 364.9v3.3M647.2 285.4v3.3M647.2 292.0v3.3M647.2 391.5v3.3M648.8 232.3v3.3M648.8 238.9v3.3M648.8 245.5v3.3M648.8 258.8v3.3M648.8 285.4v3.3M648.8 295.3v3.3M648.8 331.8v9.9M648.8 361.6v6.6M648.8 371.6v3.3M648.8 378.2v3.3M648.8 384.9v3.3M652.1 335.1v3.3M652.1 355.0v3.3M653.8 225.6v3.3M653.8 235.6v3.3M653.8 248.9v6.6M653.8 258.8v3.3M653.8 265.4v3.3M653.8 272.1v3.3M653.8 292.0v3.3M653.8 311.9v3.3M653.8 318.5v9.9M653.8 335.1v3.3M653.8 341.7v3.3M653.8 348.4v3.3M653.8 358.3v3.3M653.8 371.6v6.6M653.8 381.5v3.3M653.8 391.5v3.3M653.8 398.1v6.6M653.8 408.1v6.6M657.1 219.0v3.3M658.8 335.1v3.3M660.4 232.3v3.3M665.2 238.9v3.3M665.2 245.5v3.3M665.2 258.8v3.3M665.2 268.8v3.3M665.2 315.2v3.3M665.2 321.8v3.3M665.2 358.3v6.6M665.2 371.6v3.3M665.2 381.5v9.9M670.2 235.6v3.3M670.2 305.2v3.3M670.2 391.5v3.3M671.9 275.4v3.3M671.9 341.7v3.3M675.3 215.7v3.3M675.3 222.3v6.6M675.3 252.2v3.3M675.3 278.7v3.3M675.3 288.7v3.3M675.3 301.9v3.3M675.3 311.9v13.3M675.3 328.5v6.6M675.3 341.7v3.3M675.3 351.7v3.3M675.3 358.3v6.6M675.3 368.3v3.3M675.3 378.2v3.3M675.3 394.8v3.3M675.3 401.4v6.6M676.9 238.9v3.3"/>
<path stroke="rgb(30, 130, 250)" stroke-width="1.15" stroke-opacity="0.360" d="M252.1 215.7v3.3M252.1 222.3v9.9M252.1 235.6v3.3M252.1 242.2v3.3M252.1 252.2v3.3M252.1 258.8v6.6M252.1 272.1v3.3M252.1 311.9v9.9M252.1 341.7v6.6M252.1 351.7v3.3M252.1 381.5v6.6M252.1 411.4v3.3M260.3 258.8v3.3M260.3 384.9v3.3M265.1 364.9v3.3M268.4 215.7v3.3M268.4 222.3v3.3M268.4 232.3v6.6M268.4 252.2v6.6M268.4 272.1v3.3M268.4 285.4v3.3M268.4 295.3v3.3M268.4 311.9v3.3M268.4 318.5v3.3M268.4 338.4v3.3M268.4 358.3v3.3M268.4 368.3v6.6M268.4 384.9v3.3M268.4 391.5v6.6M270.0 335.1v3.3M271.6 355.0v3.3M271.6 398.1v3.3M276.5 219.0v3.3M276.5 301.9v3.3M276.5 401.4v3.3M278.1 219.0v3.3M278.1 225.6v3.3M278.1 232.3v3.3M278.1 248.9v3.3M278.1 268.8v3.3M278.1 275.4v6.6M278.1 285.4v9.9M278.1 305.2v3.3M278.1 318.5v3.3M278.1 338.4v3.3M278.1 351.7v6.6M278.1 371.6v3.3M278.1 384.9v13.3M278.1 408.1v3.3M281.3 215.7v3.3M281.3 238.9v3.3M281.3 298.6v3.3M281.3 315.2v3.3M281.3 335.1v6.6M281.3 348.4v3.3M281.3 355.0v3.3M289.2 232.3v3.3M289.2 311.9v3.3M289.2 321.8v3.3M289.2 384.9v3.3M297.4 219.0v3.3M300.6 358.3v3.3M311.8 278.7v3.3M315.1 278.7v3.3M316.8 265.4v3.3M320.1 278.7v3.3M321.7 348.4v3.3M323.4 401.4v3.3M325.1 222.3v3.3M326.7 255.5v3.3M328.4 398.1v3.3M330.0 348.4v3.3M331.7 215.7v6.6M331.7 225.6v6.6M331.7 242.2v6.6M331.7 252.2v6.6M331.7 268.8v3.3M331.7 275.4v3.3M331.7 282.0v3.3M331.7 288.7v3.3M331.7 295.3v3.3M331.7 301.9v3.3M331.7 325.1v3.3M331.7 335.1v9.9M331.7 348.4v3.3M331.7 355.0v3.3M331.7 361.6v13.3M331.7 378.2v9.9M331.7 401.4v3.3M331.7 408.1v3.3M333.4 235.6v3.3M333.4 255.5v3.3M333.4 265.4v6.6M333.4 298.6v3.3M333.4 335.1v3.3M333.4 345.0v3.3M333.4 388.2v3.3M333.4 394.8v6.6M333.4 411.4v3.3M335.0 232.3v3.3M335.0 278.7v3.3M335.0 295.3v3.3M335.0 328.5v3.3M335.0 341.7v3.3M335.0 361.6v3.3M335.0 401.4v3.3M335.0 411.4v3.3M338.3 235.6v3.3M338.3 388.2v3.3M340.0 338.4v3.3M340.0 391.5v3.3M343.3 301.9v3.3M343.3 321.8v3.3M351.6 328.5v3.3M353.2 292.0v3.3M356.4 229.0v3.3M356.4 235.6v6.6M356.4 295.3v3.3M356.4 338.4v3.3M356.4 358.3v3.3M356.4 394.8v6.6M356.4 404.8v3.3M358.1 308.6v3.3M361.2 245.5v3.3M361.2 338.4v3.3M361.2 358.3v3.3M361.2 384.9v3.3M362.8 248.9v3.3M362.8 381.5v3.3M364.4 272.1v3.3M364.4 325.1v3.3M364.4 358.3v3.3M366.0 285.4v3.3M366.0 298.6v3.3M366.0 408.1v3.3M367.6 288.7v3.3M370.8 245.5v3.3M370.8 335.1v3.3M370.8 378.2v3.3M370.8 394.8v3.3M370.8 408.1v3.3M372.4 292.0v3.3M372.4 411.4v3.3M378.4 394.8v3.3M383.2 215.7v3.3M384.8 215.7v3.3M384.8 401.4v3.3M388.0 278.7v3.3M388.0 398.1v3.3M392.7 364.9v3.3M394.3 335.1v3.3M410.2 215.7v3.3M410.2 401.4v3.3M411.8 238.9v3.3M429.0 268.8v3.3M429.0 355.0v3.3M439.9 238.9v3.3M439.9 328.5v3.3M439.9 338.4v3.3M439.9 381.5v9.9M439.9 411.4v3.3M449.6 321.8v3.3M452.9 262.1v3.3M464.4 229.0v3.3M464.4 318.5v3.3M464.4 325.1v3.3M464.4 331.8v3.3M467.6 242.2v3.3M467.6 252.2v3.3M467.6 282.0v3.3M467.6 305.2v6.6M467.6 321.8v3.3M467.6 335.1v3.3M469.2 272.1v3.3M473.9 242.2v3.3M473.9 331.8v3.3M473.9 351.7v3.3M473.9 401.4v3.3M477.1 229.0v3.3M477.1 255.5v3.3M477.1 295.3v6.6M477.1 321.8v3.3M477.1 335.1v6.6M477.1 351.7v13.3M477.1 368.3v3.3M477.1 388.2v3.3M477.1 394.8v3.3M480.2 408.1v3.3M481.8 225.6v3.3M481.8 238.9v3.3M481.8 248.9v3.3M481.8 265.4v6.6M481.8 282.0v3.3M481.8 288.7v3.3M481.8 335.1v3.3M481.8 341.7v3.3M481.8 351.7v6.6M481.8 374.9v3.3M481.8 391.5v6.6M492.7 242.2v3.3M492.7 328.5v3.3M495.8 248.9v3.3M500.6 381.5v3.3M502.1 215.7v9.9M502.1 229.0v6.6M502.1 252.2v3.3M502.1 258.8v6.6M502.1 272.1v6.6M502.1 288.7v3.3M502.1 301.9v6.6M502.1 315.2v3.3M502.1 325.1v6.6M502.1 335.1v3.3M502.1 345.0v6.6M502.1 355.0v6.6M502.1 364.9v3.3M502.1 371.6v3.3M502.1 378.2v6.6M502.1 394.8v9.9M502.1 408.1v6.6M505.3 295.3v3.3M506.9 345.0v3.3M508.4 262.1v3.3M508.4 295.3v3.3M508.4 371.6v3.3M508.4 381.5v3.3M513.2 222.3v9.9M513.2 238.9v3.3M513.2 252.2v3.3M513.2 272.1v3.3M513.2 278.7v3.3M513.2 288.7v6.6M513.2 318.5v13.3M513.2 341.7v3.3M513.2 348.4v9.9M513.2 388.2v9.9M513.2 401.4v3.3M513.2 411.4v3.3M521.1 355.0v3.3M527.8 408.1v3.3M529.4 378.2v3.3M532.7 222.3v3.3M536.1 285.4v3.3M537.7 265.4v3.3M537.7 305.2v3.3M537.7 384.9v3.3M550.8 305.2v3.3M554.1 222.3v3.3M554.1 245.5v3.3M554.1 272.1v6.6M554.1 285.4v9.9M554.1 298.6v6.6M554.1 325.1v6.6M554.1 341.7v6.6M554.1 351.7v3.3M554.1 358.3v3.3M554.1 378.2v3.3M554.1 384.9v3.3M554.1 401.4v3.3M554.1 408.1v3.3M555.8 232.3v3.3M555.8 252.2v6.6M555.8 262.1v3.3M555.8 275.4v3.3M555.8 292.0v3.3M555.8 321.8v3.3M555.8 328.5v3.3M555.8 345.0v3.3M555.8 368.3v3.3M555.8 378.2v3.3M555.8 384.9v3.3M555.8 394.8v3.3M555.8 411.4v3.3M564.1 335.1v3.3M565.8 278.7v3.3M565.8 394.8v3.3M567.4 232.3v3.3M567.4 248.9v3.3M567.4 258.8v3.3M567.4 268.8v3.3M567.4 275.4v3.3M567.4 301.9v3.3M567.4 321.8v3.3M567.4 394.8v3.3M584.7 215.7v6.6M584.7 232.3v3.3M584.7 238.9v3.3M584.7 245.5v3.3M584.7 258.8v3.3M584.7 265.4v9.9M584.7 288.7v3.3M584.7 295.3v6.6M584.7 305.2v3.3M584.7 318.5v3.3M584.7 345.0v6.6M584.7 355.0v6.6M584.7 368.3v3.3M584.7 378.2v6.6M584.7 411.4v3.3M587.9 311.9v3.3M587.9 361.6v3.3M587.9 384.9v3.3M592.6 219.0v13.3M592.6 235.6v3.3M592.6 242.2v3.3M592.6 262.1v3.3M592.6 268.8v3.3M592.6 295.3v3.3M592.6 318.5v6.6M592.6 335.1v3.3M592.6 341.7v3.3M592.6 355.0v16.6M592.6 378.2v6.6M592.6 394.8v3.3M597.5 285.4v3.3M597.5 355.0v3.3M599.1 219.0v3.3M599.1 225.6v3.3M599.1 242.2v6.6M599.1 258.8v3.3M599.1 278.7v3.3M599.1 285.4v3.3M599.1 295.3v3.3M599.1 301.9v6.6M599.1 315.2v6.6M599.1 325.1v6.6M599.1 335.1v3.3M599.1 345.0v3.3M599.1 358.3v3.3M599.1 368.3v3.3M599.1 384.9v3.3M599.1 391.5v3.3M599.1 398.1v3.3M599.1 408.1v3.3M602.4 225.6v3.3M602.4 288.7v3.3M610.6 219.0v6.6M610.6 229.0v3.3M610.6 245.5v6.6M610.6 272.1v9.9M610.6 288.7v3.3M610.6 295.3v3.3M610.6 308.6v3.3M610.6 318.5v3.3M610.6 331.8v3.3M610.6 345.0v3.3M610.6 358.3v3.3M610.6 378.2v3.3M610.6 408.1v3.3M620.0 222.3v3.3M620.0 268.8v6.6M620.0 394.8v3.3M626.4 255.5v3.3M629.6 215.7v3.3M629.6 235.6v3.3M629.6 268.8v3.3M629.6 301.9v3.3M629.6 315.2v6.6M629.6 328.5v3.3M629.6 355.0v3.3M629.6 381.5v3.3M629.6 388.2v3.3M635.6 378.2v3.3M640.5 215.7v3.3M640.5 222.3v6.6M640.5 238.9v3.3M640.5 252.2v16.6M640.5 272.1v6.6M640.5 295.3v3.3M640.5 301.9v3.3M640.5 308.6v6.6M640.5 318.5v9.9M640.5 338.4v3.3M640.5 351.7v13.3M640.5 368.3v6.6M640.5 381.5v6.6M640.5 391.5v9.9M640.5 404.8v6.6M642.2 219.0v3.3M642.2 285.4v3.3M642.2 311.9v9.9M642.2 348.4v6.6M642.2 361.6v3.3M642.2 378.2v6.6M642.2 394.8v3.3M642.2 411.4v3.3M645.5 381.5v3.3M650.5 245.5v3.3M650.5 338.4v3.3M650.5 355.0v3.3M650.5 371.6v3.3M653.8 215.7v9.9M653.8 229.0v3.3M653.8 238.9v3.3M653.8 245.5v3.3M653.8 262.1v3.3M653.8 268.8v3.3M653.8 275.4v6.6M653.8 288.7v3.3M653.8 295.3v3.3M653.8 301.9v3.3M653.8 331.8v3.3M653.8 338.4v3.3M653.8 351.7v6.6M653.8 361.6v3.3M653.8 378.2v3.3M653.8 394.8v3.3M665.2 394.8v3.3M666.9 215.7v3.3M666.9 292.0v3.3M666.9 371.6v3.3M666.9 391.5v3.3M668.5 248.9v3.3M668.5 278.7v3.3M673.6 384.9v3.3M675.3 325.1v3.3M676.9 315.2v3.3"/>
<path stroke="rgb(30, 130, 250)" stroke-width="1.15" stroke-opacity="0.450" d="M245.7 318.5v3.3M247.3 222.3v3.3M247.3 252.2v3.3M252.1 232.3v3.3M252.1 255.5v3.3M252.1 278.7v6.6M252.1 288.7v3.3M252.1 301.9v6.6M252.1 325.1v9.9M252.1 338.4v3.3M252.1 348.4v3.3M252.1 358.3v3.3M252.1 368.3v13.3M252.1 398.1v6.6M252.1 408.1v3.3M266.7 225.6v3.3M266.7 242.2v3.3M266.7 258.8v3.3M266.7 265.4v3.3M266.7 288.7v3.3M266.7 298.6v3.3M266.7 318.5v6.6M266.7 335.1v3.3M266.7 394.8v3.3M266.7 404.8v3.3M270.0 222.3v3.3M270.0 262.1v3.3M281.3 219.0v6.6M281.3 242.2v6.6M281.3 252.2v3.3M281.3 258.8v3.3M281.3 295.3v3.3M281.3 305.2v3.3M281.3 321.8v6.6M281.3 358.3v3.3M281.3 371.6v3.3M281.3 384.9v3.3M281.3 394.8v3.3M305.5 351.7v3.3M307.1 355.0v3.3M307.1 378.2v3.3M323.4 238.9v3.3M323.4 252.2v3.3M323.4 262.1v6.6M323.4 278.7v3.3M323.4 285.4v6.6M323.4 295.3v3.3M323.4 315.2v6.6M323.4 345.0v3.3M323.4 355.0v3.3M323.4 368.3v6.6M323.4 381.5v9.9M323.4 394.8v3.3M323.4 408.1v6.6M331.7 232.3v3.3M333.4 222.3v3.3M333.4 232.3v3.3M333.4 245.5v3.3M333.4 262.1v3.3M333.4 275.4v6.6M333.4 301.9v3.3M333.4 315.2v6.6M333.4 325.1v3.3M333.4 331.8v3.3M333.4 338.4v3.3M333.4 348.4v3.3M333.4 355.0v6.6M333.4 391.5v3.3M333.4 401.4v3.3M333.4 408.1v3.3M335.0 215.7v13.3M335.0 242.2v3.3M335.0 248.9v9.9M335.0 262.1v3.3M335.0 268.8v6.6M335.0 288.7v3.3M335.0 318.5v3.3M335.0 331.8v3.3M335.0 338.4v3.3M335.0 358.3v3.3M335.0 368.3v3.3M335.0 381.5v3.3M335.0 394.8v3.3M335.0 408.1v3.3M343.3 288.7v3.3M353.2 368.3v3.3M356.4 361.6v3.3M364.4 275.4v3.3M364.4 295.3v3.3M391.2 364.9v3.3M394.3 245.5v3.3M405.5 305.2v3.3M414.9 258.8v3.3M425.8 328.5v3.3M425.8 384.9v3.3M443.2 232.3v3.3M443.2 238.9v3.3M443.2 245.5v3.3M443.2 272.1v6.6M443.2 305.2v3.3M443.2 361.6v3.3M443.2 388.2v3.3M452.9 222.3v3.3M464.4 248.9v3.3M464.4 265.4v3.3M464.4 272.1v3.3M464.4 292.0v3.3M464.4 311.9v6.6M464.4 321.8v3.3M464.4 328.5v3.3M464.4 361.6v3.3M464.4 368.3v3.3M464.4 378.2v3.3M464.4 391.5v3.3M466.0 222.3v3.3M466.0 245.5v3.3M466.0 258.8v3.3M466.0 272.1v6.6M466.0 295.3v3.3M466.0 305.2v3.3M466.0 321.8v3.3M466.0 338.4v3.3M466.0 355.0v9.9M466.0 384.9v3.3M466.0 391.5v3.3M466.0 408.1v3.3M467.6 215.7v3.3M467.6 225.6v3.3M467.6 235.6v6.6M467.6 325.1v9.9M467.6 348.4v9.9M467.6 374.9v3.3M467.6 388.2v3.3M467.6 394.8v6.6M467.6 411.4v3.3M469.2 338.4v3.3M477.1 282.0v3.3M491.1 242.2v3.3M491.1 292.0v3.3M502.1 242.2v3.3M513.2 295.3v3.3M513.2 368.3v3.3M554.1 215.7v6.6M554.1 238.9v6.6M554.1 248.9v3.3M554.1 255.5v13.3M554.1 305.2v3.3M554.1 315.2v3.3M554.1 331.8v9.9M554.1 348.4v3.3M554.1 355.0v3.3M554.1 364.9v13.3M554.1 381.5v3.3M554.1 388.2v6.6M554.1 398.1v3.3M554.1 404.8v3.3M554.1 411.4v3.3M555.8 338.4v3.3M559.1 348.4v3.3M560.8 255.5v3.3M560.8 358.3v3.3M560.8 391.5v3.3M584.7 229.0v3.3M584.7 242.2v3.3M584.7 248.9v3.3M584.7 262.1v3.3M584.7 275.4v3.3M584.7 285.4v3.3M584.7 301.9v3.3M584.7 311.9v6.6M584.7 321.8v3.3M584.7 328.5v3.3M584.7 335.1v9.9M584.7 351.7v3.3M584.7 361.6v3.3M584.7 374.9v3.3M584.7 384.9v3.3M584.7 394.8v3.3M587.9 335.1v3.3M592.6 278.7v3.3M592.6 285.4v3.3M604.1 229.0v3.3M604.1 278.7v3.3M604.1 318.5v3.3M604.1 335.1v3.3M620.0 381.5v3.3M624.8 255.5v3.3M626.4 232.3v3.3M626.4 238.9v3.3M629.6 275.4v3.3M642.2 232.3v3.3M642.2 262.1v3.3M653.8 285.4v3.3M653.8 305.2v3.3M653.8 328.5v3.3M665.2 275.4v3.3M675.3 272.1v3.3M675.3 384.9v6.6"/>
<path stroke="rgb(30, 130, 250)" stroke-width="1.15" stroke-opacity="0.540" d="M245.7 292.0v3.3M252.1 219.0v3.3M252.1 238.9v3.3M252.1 248.9v3.3M252.1 265.4v3.3M252.1 285.4v3.3M252.1 292.0v6.6M252.1 308.6v3.3M252.1 321.8v3.3M252.1 335.1v3.3M252.1 355.0v3.3M252.1 388.2v6.6M255.4 255.5v3.3M255.4 282.0v3.3M258.6 235.6v3.3M258.6 308.6v3.3M263.5 292.0v3.3M265.1 222.3v6.6M265.1 252.2v3.3M265.1 265.4v3.3M265.1 295.3v3.3M265.1 321.8v6.6M265.1 358.3v3.3M265.1 394.8v3.3M266.7 219.0v6.6M266.7 238.9v3.3M266.7 245.5v13.3M266.7 275.4v3.3M266.7 285.4v3.3M266.7 311.9v3.3M266.7 325.1v9.9M266.7 348.4v3.3M266.7 374.9v6.6M266.7 391.5v3.3M270.0 235.6v3.3M271.6 282.0v3.3M273.2 235.6v3.3M276.5 345.0v3.3M278.1 335.1v3.3M281.3 225.6v3.3M281.3 232.3v3.3M281.3 248.9v3.3M281.3 255.5v3.3M281.3 268.8v6.6M281.3 285.4v6.6M281.3 301.9v3.3M281.3 308.6v3.3M281.3 328.5v3.3M281.3 341.7v3.3M281.3 351.7v3.3M281.3 361.6v3.3M281.3 391.5v3.3M281.3 398.1v3.3M281.3 404.8v9.9M287.6 268.8v3.3M287.6 404.8v3.3M292.5 298.6v3.3M294.1 268.8v3.3M294.1 364.9v3.3M299.0 298.6v3.3M300.6 345.0v3.3M302.2 235.6v3.3M302.2 292.0v3.3M305.5 404.8v3.3M307.1 404.8v3.3M316.8 345.0v3.3M321.7 292.0v3.3M323.4 215.7v6.6M323.4 245.5v6.6M323.4 255.5v6.6M323.4 268.8v6.6M323.4 298.6v9.9M323.4 325.1v3.3M323.4 331.8v3.3M323.4 341.7v3.3M323.4 348.4v3.3M323.4 358.3v6.6M323.4 398.1v3.3M325.1 311.9v3.3M330.0 292.0v3.3M331.7 404.8v3.3M333.4 219.0v3.3M333.4 225.6v6.6M333.4 242.2v3.3M333.4 252.2v3.3M333.4 258.8v3.3M333.4 272.1v3.3M333.4 282.0v6.6M333.4 295.3v3.3M333.4 305.2v3.3M333.4 328.5v3.3M333.4 341.7v3.3M333.4 351.7v3.3M333.4 364.9v3.3M333.4 371.6v16.6M335.0 245.5v3.3M335.0 282.0v3.3M335.0 298.6v3.3M335.0 311.9v6.6M335.0 321.8v6.6M335.0 335.1v3.3M335.0 345.0v13.3M335.0 364.9v3.3M335.0 371.6v3.3M335.0 378.2v3.3M335.0 384.9v3.3M335.0 391.5v3.3M336.7 311.9v3.3M341.7 404.8v3.3M343.3 255.5v3.3M343.3 345.0v3.3M348.4 282.0v3.3M348.4 308.6v3.3M348.4 345.0v3.3M348.4 364.9v3.3M351.6 298.6v3.3M351.6 311.9v3.3M351.6 364.9v3.3M353.2 311.9v3.3M354.8 311.9v3.3M356.4 222.3v3.3M356.4 278.7v3.3M358.1 255.5v3.3M359.6 345.0v3.3M361.2 364.9v3.3M362.8 345.0v3.3M366.0 215.7v3.3M366.0 238.9v3.3M366.0 258.8v3.3M366.0 341.7v3.3M366.0 348.4v3.3M366.0 411.4v3.3M370.8 308.6v3.3M374.0 298.6v3.3M383.2 285.4v3.3M386.4 292.0v3.3M386.4 308.6v6.6M388.0 311.9v3.3M395.9 255.5v3.3M397.5 255.5v3.3M399.1 308.6v3.3M399.1 345.0v3.3M400.7 308.6v3.3M400.7 345.0v3.3M402.3 255.5v3.3M402.3 298.6v3.3M402.3 345.0v3.3M402.3 404.8v3.3M403.9 298.6v3.3M413.4 255.5v3.3M414.9 368.3v3.3M418.0 225.6v3.3M418.0 292.0v3.3M421.2 404.8v3.3M427.4 404.8v3.3M433.5 345.0v3.3M435.1 364.9v3.3M436.7 235.6v3.3M436.7 268.8v3.3M436.7 292.0v3.3M436.7 298.6v3.3M439.9 348.4v3.3M443.2 215.7v3.3M443.2 242.2v3.3M443.2 252.2v6.6M443.2 262.1v3.3M443.2 295.3v3.3M443.2 341.7v3.3M443.2 364.9v6.6M443.2 378.2v3.3M443.2 398.1v3.3M443.2 408.1v3.3M444.8 292.0v3.3M444.8 404.8v3.3M448.0 235.6v3.3M449.6 404.8v3.3M452.9 235.6v3.3M456.1 255.5v3.3M456.1 345.0v3.3M457.7 282.0v3.3M457.7 308.6v3.3M459.3 311.9v3.3M464.4 215.7v3.3M464.4 222.3v3.3M464.4 232.3v9.9M464.4 245.5v3.3M464.4 252.2v3.3M464.4 258.8v6.6M464.4 268.8v3.3M464.4 285.4v6.6M464.4 298.6v6.6M464.4 335.1v3.3M464.4 348.4v3.3M464.4 355.0v3.3M464.4 371.6v3.3M464.4 388.2v3.3M464.4 401.4v3.3M464.4 408.1v6.6M466.0 215.7v3.3M466.0 238.9v3.3M466.0 265.4v3.3M466.0 278.7v6.6M466.0 315.2v3.3M466.0 331.8v3.3M466.0 348.4v3.3M466.0 368.3v9.9M466.0 398.1v3.3M467.6 222.3v3.3M467.6 232.3v3.3M467.6 248.9v3.3M467.6 255.5v6.6M467.6 265.4v3.3M467.6 272.1v3.3M467.6 285.4v3.3M467.6 292.0v6.6M467.6 301.9v3.3M467.6 315.2v6.6M467.6 358.3v3.3M467.6 368.3v6.6M467.6 378.2v6.6M467.6 391.5v3.3M467.6 401.4v3.3M467.6 408.1v3.3M469.2 268.8v3.3M470.7 235.6v3.3M472.3 268.8v3.3M472.3 345.0v3.3M475.5 268.8v3.3M481.8 235.6v3.3M481.8 408.1v3.3M487.9 345.0v3.3M487.9 404.8v3.3M489.5 345.0v3.3M491.1 315.2v3.3M491.1 404.8v3.3M492.7 298.6v3.3M494.2 282.0v3.3M495.8 215.7v3.3M495.8 238.9v3.3M495.8 268.8v3.3M495.8 364.9v3.3M495.8 398.1v3.3M495.8 411.4v3.3M497.4 404.8v3.3M499.0 308.6v3.3M502.1 245.5v3.3M502.1 282.0v3.3M502.1 391.5v3.3M505.3 404.8v3.3M506.9 311.9v3.3M506.9 404.8v3.3M508.4 411.4v3.3M510.0 235.6v3.3M510.0 268.8v3.3M511.6 268.8v3.3M513.2 235.6v3.3M513.2 262.1v3.3M513.2 298.6v3.3M513.2 398.1v3.3M522.8 235.6v3.3M522.8 282.0v3.3M526.1 282.0v3.3M526.1 292.0v3.3M532.7 268.8v3.3M536.1 255.5v3.3M536.1 292.0v3.3M537.7 282.0v3.3M537.7 292.0v3.3M544.1 292.0v3.3M544.1 298.6v3.3M550.8 298.6v3.3M550.8 308.6v3.3M554.1 225.6v6.6M554.1 268.8v3.3M554.1 278.7v6.6M554.1 321.8v3.3M554.1 361.6v3.3M554.1 394.8v3.3M555.8 311.9v3.3M559.1 282.0v3.3M559.1 311.9v3.3M560.8 235.6v3.3M562.4 235.6v3.3M562.4 364.9v3.3M565.8 268.8v3.3M576.9 298.6v3.3M583.1 235.6v3.3M586.3 404.8v3.3M587.9 404.8v3.3M592.6 384.9v3.3M599.1 268.8v3.3M599.1 364.9v3.3M600.8 235.6v3.3M600.8 268.8v3.3M600.8 292.0v3.3M602.4 235.6v3.3M602.4 295.3v3.3M602.4 311.9v3.3M602.4 318.5v3.3M602.4 325.1v3.3M602.4 338.4v3.3M602.4 345.0v3.3M602.4 374.9v3.3M602.4 384.9v3.3M604.1 215.7v6.6M604.1 232.3v6.6M604.1 265.4v3.3M604.1 282.0v3.3M604.1 305.2v3.3M604.1 331.8v3.3M604.1 351.7v6.6M604.1 361.6v3.3M604.1 378.2v6.6M605.7 222.3v6.6M605.7 245.5v3.3M605.7 295.3v3.3M605.7 338.4v9.9M605.7 358.3v3.3M605.7 371.6v6.6M607.3 292.0v3.3M609.0 235.6v3.3M609.0 268.8v3.3M610.6 285.4v3.3M620.0 282.0v3.3M621.6 255.5v3.3M623.2 308.6v3.3M624.8 345.0v3.3M624.8 364.9v3.3M626.4 345.0v3.3M626.4 404.8v3.3M629.6 338.4v3.3M637.2 282.0v3.3M637.2 364.9v3.3M642.2 268.8v3.3M642.2 278.7v3.3M645.5 235.6v3.3M645.5 252.2v3.3M645.5 288.7v9.9M645.5 308.6v3.3M645.5 315.2v3.3M645.5 331.8v3.3M645.5 348.4v6.6M645.5 371.6v3.3M645.5 378.2v3.3M645.5 394.8v6.6M647.2 235.6v3.3M647.2 265.4v3.3M647.2 272.1v9.9M647.2 305.2v3.3M647.2 348.4v6.6M647.2 361.6v3.3M647.2 374.9v3.3M650.5 255.5v3.3M650.5 298.6v3.3M652.1 308.6v3.3M653.8 368.3v3.3M653.8 388.2v3.3M655.5 282.0v3.3M657.1 255.5v3.3M665.2 404.8v3.3M666.9 298.6v3.3M668.5 282.0v3.3M671.9 308.6v3.3M671.9 404.8v3.3M676.9 308.6v3.3"/>
<path stroke="rgb(30, 130, 250)" stroke-width="1.15" stroke-opacity="0.630" d="M245.7 298.6v3.3M247.3 298.6v3.3M247.3 364.9v3.3M248.9 364.9v3.3M250.5 268.8v3.3M250.5 292.0v3.3M250.5 298.6v3.3M252.1 268.8v3.3M252.1 361.6v6.6M252.1 394.8v3.3M252.1 404.8v3.3M257.0 282.0v3.3M258.6 282.0v3.3M260.3 255.5v3.3M261.9 282.0v3.3M261.9 292.0v3.3M261.9 345.0v3.3M263.5 235.6v3.3M265.1 219.0v3.3M265.1 232.3v3.3M265.1 242.2v6.6M265.1 255.5v3.3M265.1 275.4v3.3M265.1 298.6v3.3M265.1 305.2v9.9M265.1 328.5v3.3M265.1 335.1v3.3M265.1 351.7v6.6M265.1 368.3v6.6M265.1 378.2v3.3M265.1 388.2v3.3M265.1 408.1v3.3M266.7 232.3v3.3M266.7 272.1v3.3M266.7 278.7v3.3M266.7 301.9v6.6M266.7 338.4v3.3M266.7 345.0v3.3M266.7 351.7v6.6M266.7 361.6v3.3M266.7 368.3v6.6M266.7 384.9v6.6M268.4 345.0v3.3M270.0 255.5v3.3M273.2 255.5v3.3M273.2 282.0v3.3M273.2 345.0v3.3M274.9 235.6v3.3M274.9 255.5v3.3M274.9 282.0v3.3M276.5 235.6v3.3M276.5 292.0v3.3M276.5 404.8v3.3M278.1 308.6v6.6M278.1 345.0v3.3M278.1 404.8v3.3M279.7 235.6v3.3M279.7 282.0v3.3M279.7 345.0v3.3M279.7 404.8v3.3M281.3 229.0v3.3M281.3 262.1v6.6M281.3 278.7v6.6M281.3 292.0v3.3M281.3 331.8v3.3M281.3 345.0v3.3M281.3 364.9v6.6M281.3 374.9v9.9M281.3 388.2v3.3M281.3 401.4v3.3M286.0 235.6v3.3M286.0 404.8v3.3M289.2 298.6v3.3M290.9 268.8v3.3M292.5 235.6v3.3M292.5 364.9v3.3M294.1 235.6v3.3M294.1 298.6v3.3M294.1 404.8v3.3M295.7 235.6v3.3M295.7 404.8v3.3M297.4 235.6v3.3M297.4 292.0v3.3M297.4 298.6v3.3M297.4 364.9v3.3M297.4 404.8v3.3M299.0 235.6v3.3M300.6 292.0v3.3M302.2 364.9v3.3M303.9 235.6v3.3M303.9 282.0v3.3M305.5 235.6v3.3M305.5 282.0v3.3M305.5 364.9v3.3M307.1 311.9v3.3M311.8 282.0v3.3M311.8 311.9v3.3M311.8 345.0v3.3M313.4 311.9v3.3M313.4 345.0v3.3M315.1 268.8v3.3M315.1 298.6v3.3M315.1 308.6v3.3M315.1 345.0v3.3M316.8 268.8v3.3M316.8 298.6v3.3M316.8 308.6v6.6M318.4 345.0v3.3M320.1 345.0v3.3M320.1 404.8v3.3M321.7 311.9v3.3M321.7 404.8v3.3M323.4 222.3v13.3M323.4 242.2v3.3M323.4 275.4v3.3M323.4 292.0v3.3M323.4 321.8v3.3M323.4 328.5v3.3M323.4 335.1v6.6M323.4 351.7v3.3M323.4 364.9v3.3M323.4 374.9v6.6M323.4 404.8v3.3M325.1 308.6v3.3M326.7 235.6v3.3M326.7 292.0v3.3M326.7 404.8v3.3M328.4 292.0v3.3M328.4 298.6v3.3M328.4 308.6v3.3M330.0 298.6v3.3M331.7 311.9v3.3M333.4 238.9v3.3M333.4 248.9v3.3M333.4 321.8v3.3M333.4 368.3v3.3M333.4 404.8v3.3M335.0 229.0v3.3M335.0 235.6v6.6M335.0 265.4v3.3M335.0 275.4v3.3M335.0 285.4v3.3M335.0 292.0v3.3M335.0 301.9v3.3M335.0 374.9v3.3M335.0 388.2v3.3M335.0 404.8v3.3M336.7 255.5v3.3M336.7 292.0v3.3M336.7 308.6v3.3M338.3 308.6v3.3M340.0 308.6v6.6M340.0 404.8v3.3M341.7 308.6v6.6M348.4 255.5v3.3M350.1 255.5v3.3M350.1 282.0v3.3M350.1 308.6v3.3M350.1 345.0v3.3M351.6 345.0v3.3M353.2 282.0v3.3M353.2 308.6v3.3M353.2 345.0v3.3M356.4 308.6v6.6M356.4 345.0v3.3M358.1 311.9v3.3M358.1 345.0v3.3M359.6 255.5v3.3M359.6 298.6v3.3M359.6 311.9v3.3M361.2 345.0v3.3M364.4 345.0v3.3M366.0 219.0v3.3M366.0 245.5v6.6M366.0 255.5v3.3M366.0 272.1v3.3M366.0 278.7v3.3M366.0 288.7v3.3M366.0 308.6v3.3M366.0 315.2v3.3M366.0 321.8v3.3M366.0 361.6v3.3M366.0 371.6v3.3M366.0 378.2v3.3M366.0 384.9v3.3M366.0 394.8v3.3M367.6 225.6v3.3M367.6 235.6v6.6M367.6 282.0v3.3M367.6 308.6v3.3M367.6 338.4v3.3M367.6 345.0v3.3M367.6 358.3v6.6M367.6 378.2v6.6M367.6 391.5v6.6M370.8 298.6v3.3M370.8 345.0v3.3M370.8 364.9v3.3M372.4 308.6v3.3M372.4 364.9v3.3M374.0 268.8v3.3M380.0 298.6v3.3M380.0 308.6v3.3M381.6 298.6v3.3M381.6 345.0v3.3M383.2 311.9v3.3M383.2 345.0v3.3M384.8 255.5v3.3M384.8 282.0v3.3M384.8 308.6v3.3M384.8 404.8v3.3M386.4 235.6v3.3M386.4 345.0v3.3M388.0 282.0v3.3M388.0 292.0v3.3M388.0 345.0v3.3M389.6 235.6v3.3M389.6 292.0v3.3M389.6 308.6v3.3M389.6 345.0v3.3M389.6 404.8v3.3M391.2 345.0v3.3M392.7 235.6v3.3M392.7 255.5v3.3M392.7 404.8v3.3M394.3 235.6v3.3M394.3 255.5v3.3M394.3 404.8v3.3M395.9 292.0v3.3M395.9 404.8v3.3M397.5 308.6v3.3M397.5 404.8v3.3M399.1 235.6v3.3M399.1 255.5v3.3M399.1 404.8v3.3M400.7 282.0v3.3M400.7 404.8v3.3M403.9 255.5v3.3M411.8 255.5v3.3M413.4 282.0v3.3M413.4 308.6v3.3M414.9 255.5v3.3M414.9 282.0v3.3M416.5 255.5v3.3M416.5 282.0v3.3M416.5 298.6v3.3M416.5 311.9v3.3M418.0 282.0v3.3M418.0 308.6v3.3M419.6 255.5v3.3M419.6 298.6v3.3M419.6 308.6v3.3M421.2 255.5v3.3M421.2 311.9v3.3M422.7 255.5v3.3M422.7 282.0v3.3M422.7 298.6v3.3M422.7 308.6v3.3M422.7 404.8v3.3M424.3 268.8v3.3M424.3 282.0v3.3M424.3 298.6v3.3M424.3 308.6v3.3M424.3 404.8v3.3M425.8 268.8v3.3M425.8 298.6v3.3M425.8 308.6v3.3M427.4 282.0v3.3M427.4 298.6v3.3M427.4 308.6v3.3M433.5 268.8v3.3M433.5 298.6v3.3M435.1 292.0v3.3M435.1 298.6v3.3M435.1 404.8v3.3M436.7 255.5v3.3M438.3 255.5v3.3M438.3 345.0v3.3M439.9 235.6v3.3M439.9 255.5v3.3M439.9 311.9v3.3M439.9 404.8v3.3M441.5 235.6v3.3M441.5 308.6v6.6M441.5 404.8v3.3M443.2 219.0v13.3M443.2 235.6v3.3M443.2 248.9v3.3M443.2 258.8v3.3M443.2 268.8v3.3M443.2 278.7v3.3M443.2 288.7v3.3M443.2 311.9v6.6M443.2 328.5v3.3M443.2 335.1v6.6M443.2 345.0v6.6M443.2 358.3v3.3M443.2 371.6v6.6M443.2 381.5v6.6M443.2 394.8v3.3M443.2 401.4v3.3M444.8 255.5v3.3M444.8 308.6v6.6M446.4 235.6v3.3M446.4 364.9v3.3M446.4 404.8v3.3M448.0 292.0v3.3M448.0 308.6v3.3M449.6 235.6v3.3M449.6 311.9v3.3M451.3 235.6v3.3M451.3 255.5v3.3M451.3 292.0v3.3M451.3 364.9v3.3M451.3 404.8v3.3M452.9 308.6v3.3M452.9 345.0v3.3M452.9 404.8v3.3M454.5 255.5v3.3M454.5 404.8v3.3M456.1 282.0v3.3M456.1 311.9v3.3M457.7 404.8v3.3M459.3 298.6v3.3M464.4 219.0v3.3M464.4 225.6v3.3M464.4 242.2v3.3M464.4 255.5v3.3M464.4 275.4v9.9M464.4 305.2v3.3M464.4 341.7v6.6M464.4 351.7v3.3M464.4 358.3v3.3M464.4 364.9v3.3M464.4 374.9v3.3M464.4 381.5v6.6M464.4 398.1v3.3M466.0 219.0v3.3M466.0 225.6v13.3M466.0 242.2v3.3M466.0 248.9v6.6M466.0 285.4v3.3M466.0 292.0v3.3M466.0 298.6v6.6M466.0 311.9v3.3M466.0 325.1v6.6M466.0 341.7v6.6M466.0 351.7v3.3M466.0 378.2v6.6M466.0 388.2v3.3M466.0 394.8v3.3M466.0 404.8v3.3M466.0 411.4v3.3M467.6 219.0v3.3M467.6 229.0v3.3M467.6 245.5v3.3M467.6 262.1v3.3M467.6 275.4v6.6M467.6 288.7v3.3M467.6 298.6v3.3M467.6 338.4v9.9M467.6 361.6v6.6M467.6 384.9v3.3M467.6 404.8v3.3M469.2 345.0v3.3M470.7 268.8v3.3M472.3 364.9v3.3M473.9 235.6v3.3M473.9 364.9v3.3M475.5 235.6v3.3M475.5 364.9v3.3M478.6 255.5v3.3M478.6 268.8v3.3M478.6 345.0v3.3M480.2 255.5v3.3M480.2 268.8v3.3M480.2 345.0v3.3M481.8 255.5v3.3M489.5 268.8v3.3M489.5 311.9v3.3M491.1 268.8v3.3M491.1 298.6v3.3M491.1 308.6v3.3M492.7 345.0v3.3M494.2 292.0v3.3M494.2 311.9v3.3M495.8 265.4v3.3M495.8 272.1v3.3M495.8 288.7v3.3M495.8 295.3v6.6M495.8 311.9v3.3M495.8 374.9v3.3M495.8 384.9v3.3M495.8 401.4v3.3M497.4 282.0v3.3M497.4 292.0v3.3M499.0 282.0v3.3M499.0 292.0v3.3M499.0 298.6v3.3M499.0 345.0v3.3M500.6 282.0v3.3M500.6 292.0v3.3M502.1 292.0v3.3M503.7 292.0v3.3M503.7 311.9v3.3M505.3 235.6v3.3M505.3 268.8v3.3M505.3 308.6v6.6M506.9 268.8v3.3M506.9 308.6v3.3M508.4 235.6v3.3M508.4 268.8v3.3M508.4 308.6v3.3M508.4 404.8v3.3M510.0 308.6v6.6M511.6 235.6v3.3M513.2 255.5v3.3M513.2 282.0v3.3M513.2 308.6v3.3M519.4 268.8v3.3M521.1 268.8v3.3M521.1 282.0v3.3M522.8 292.0v3.3M524.4 292.0v3.3M524.4 308.6v3.3M526.1 235.6v3.3M526.1 268.8v3.3M527.8 235.6v3.3M527.8 282.0v3.3M527.8 308.6v3.3M529.4 292.0v3.3M531.1 255.5v3.3M531.1 292.0v3.3M531.1 308.6v3.3M532.7 255.5v3.3M532.7 308.6v3.3M534.4 255.5v3.3M534.4 308.6v3.3M542.5 298.6v3.3M544.1 282.0v3.3M544.1 308.6v3.3M545.8 311.9v3.3M547.5 308.6v6.6M549.1 235.6v3.3M549.1 298.6v3.3M552.5 235.6v3.3M552.5 268.8v3.3M554.1 295.3v3.3M554.1 311.9v3.3M555.8 235.6v3.3M557.4 235.6v3.3M557.4 268.8v3.3M559.1 268.8v3.3M560.8 282.0v3.3M564.1 308.6v6.6M564.1 364.9v3.3M567.4 404.8v3.3M572.1 345.0v3.3M573.7 282.0v3.3M573.7 292.0v3.3M573.7 308.6v3.3M575.3 298.6v3.3M575.3 308.6v3.3M576.9 282.0v3.3M576.9 292.0v3.3M576.9 308.6v3.3M578.4 292.0v3.3M578.4 298.6v3.3M580.0 292.0v3.3M580.0 308.6v3.3M583.1 292.0v3.3M583.1 308.6v3.3M583.1 404.8v3.3M584.7 255.5v3.3M584.7 404.8v3.3M586.3 308.6v3.3M586.3 364.9v3.3M594.2 255.5v3.3M594.2 298.6v3.3M595.9 268.8v3.3M595.9 364.9v3.3M597.5 268.8v3.3M597.5 282.0v3.3M599.1 308.6v3.3M599.1 404.8v3.3M600.8 282.0v3.3M600.8 308.6v3.3M602.4 229.0v3.3M602.4 242.2v6.6M602.4 275.4v6.6M602.4 301.9v3.3M602.4 364.9v3.3M602.4 371.6v3.3M602.4 378.2v3.3M602.4 388.2v3.3M602.4 394.8v6.6M602.4 411.4v3.3M604.1 222.3v3.3M604.1 242.2v3.3M604.1 248.9v3.3M604.1 268.8v3.3M604.1 288.7v3.3M604.1 301.9v3.3M604.1 311.9v3.3M604.1 325.1v3.3M604.1 345.0v6.6M604.1 368.3v6.6M604.1 384.9v3.3M604.1 391.5v3.3M604.1 398.1v3.3M604.1 404.8v6.6M605.7 232.3v13.3M605.7 278.7v3.3M605.7 301.9v6.6M605.7 315.2v3.3M605.7 331.8v6.6M605.7 351.7v3.3M605.7 381.5v6.6M605.7 394.8v3.3M607.3 235.6v3.3M607.3 268.8v3.3M607.3 282.0v3.3M607.3 308.6v3.3M609.0 292.0v3.3M609.0 298.6v3.3M609.0 364.9v3.3M610.6 268.8v3.3M610.6 282.0v3.3M610.6 292.0v3.3M615.2 235.6v3.3M615.2 292.0v3.3M615.2 308.6v3.3M615.2 404.8v3.3M616.8 282.0v3.3M618.4 308.6v3.3M620.0 364.9v3.3M620.0 404.8v3.3M621.6 308.6v3.3M621.6 404.8v3.3M623.2 364.9v3.3M623.2 404.8v3.3M624.8 282.0v3.3M624.8 404.8v3.3M626.4 292.0v3.3M628.0 282.0v3.3M628.0 364.9v3.3M629.6 282.0v3.3M631.2 282.0v3.3M635.6 298.6v3.3M635.6 364.9v3.3M638.9 235.6v3.3M638.9 268.8v3.3M638.9 282.0v3.3M638.9 364.9v3.3M640.5 268.8v3.3M640.5 282.0v3.3M640.5 298.6v3.3M642.2 292.0v3.3M645.5 215.7v3.3M645.5 225.6v9.9M645.5 255.5v6.6M645.5 311.9v3.3M645.5 318.5v6.6M645.5 335.1v6.6M645.5 355.0v3.3M645.5 374.9v3.3M645.5 388.2v3.3M645.5 408.1v3.3M647.2 219.0v9.9M647.2 242.2v3.3M647.2 258.8v3.3M647.2 301.9v3.3M647.2 308.6v3.3M647.2 325.1v3.3M647.2 341.7v3.3M647.2 371.6v3.3M647.2 408.1v3.3M648.8 255.5v3.3M648.8 298.6v3.3M648.8 345.0v3.3M652.1 255.5v3.3M652.1 298.6v3.3M652.1 345.0v3.3M653.8 255.5v3.3M653.8 282.0v3.3M653.8 308.6v3.3M655.5 255.5v3.3M655.5 308.6v3.3M657.1 298.6v3.3M658.8 308.6v3.3M658.8 404.8v3.3M660.4 308.6v3.3M666.9 282.0v3.3M666.9 308.6v3.3M670.2 298.6v3.3M670.2 308.6v3.3M670.2 345.0v3.3M671.9 298.6v3.3M671.9 345.0v3.3M673.6 308.6v3.3M673.6 345.0v3.3M675.3 282.0v3.3M675.3 298.6v3.3M676.9 268.8v3.3M678.6 282.0v3.3"/>
<path stroke="rgb(30, 130, 250)" stroke-width="1.15" stroke-opacity="0.720" d="M245.7 268.8v3.3M247.3 292.0v3.3M248.9 298.6v3.3M248.9 404.8v3.3M250.5 404.8v3.3M252.1 275.4v3.3M253.8 235.6v3.3M253.8 268.8v3.3M253.8 404.8v3.3M255.4 235.6v3.3M255.4 268.8v3.3M257.0 235.6v3.3M257.0 255.5v3.3M257.0 308.6v3.3M258.6 255.5v3.3M260.3 308.6v3.3M261.9 235.6v3.3M261.9 255.5v3.3M261.9 308.6v3.3M263.5 268.8v3.3M263.5 345.0v3.3M265.1 215.7v3.3M265.1 248.9v3.3M265.1 258.8v6.6M265.1 268.8v6.6M265.1 278.7v3.3M265.1 288.7v6.6M265.1 318.5v3.3M265.1 331.8v3.3M265.1 341.7v3.3M265.1 361.6v3.3M265.1 374.9v3.3M265.1 381.5v6.6M265.1 404.8v3.3M266.7 229.0v3.3M266.7 235.6v3.3M266.7 268.8v3.3M266.7 292.0v6.6M266.7 308.6v3.3M266.7 364.9v3.3M266.7 381.5v3.3M266.7 398.1v6.6M266.7 411.4v3.3M270.0 282.0v3.3M270.0 345.0v3.3M271.6 235.6v3.3M271.6 345.0v3.3M273.2 292.0v3.3M273.2 308.6v3.3M274.9 308.6v6.6M274.9 345.0v3.3M276.5 282.0v3.3M276.5 308.6v6.6M278.1 235.6v3.3M278.1 282.0v3.3M281.3 235.6v3.3M281.3 311.9v3.3M281.3 318.5v3.3M286.0 268.8v3.3M287.6 235.6v3.3M289.2 235.6v3.3M289.2 268.8v3.3M289.2 404.8v3.3M290.9 235.6v3.3M290.9 298.6v3.3M290.9 364.9v3.3M290.9 404.8v3.3M292.5 268.8v3.3M295.7 298.6v3.3M297.4 308.6v3.3M299.0 292.0v3.3M299.0 308.6v3.3M299.0 345.0v3.3M299.0 364.9v3.3M299.0 404.8v3.3M300.6 364.9v3.3M300.6 404.8v3.3M302.2 282.0v3.3M302.2 404.8v3.3M303.9 311.9v3.3M303.9 404.8v3.3M307.1 235.6v3.3M311.8 268.8v3.3M311.8 298.6v3.3M311.8 308.6v3.3M313.4 268.8v3.3M313.4 298.6v3.3M313.4 308.6v3.3M315.1 311.9v3.3M316.8 282.0v3.3M318.4 282.0v3.3M318.4 308.6v3.3M320.1 282.0v3.3M321.7 308.6v3.3M323.4 308.6v6.6M325.1 235.6v3.3M325.1 292.0v3.3M325.1 298.6v3.3M325.1 404.8v3.3M326.7 298.6v3.3M326.7 311.9v3.3M328.4 311.9v3.3M328.4 404.8v3.3M330.0 308.6v6.6M330.0 404.8v3.3M331.7 292.0v3.3M331.7 298.6v3.3M333.4 215.7v3.3M333.4 361.6v3.3M336.7 404.8v3.3M338.3 255.5v3.3M338.3 292.0v3.3M338.3 311.9v3.3M338.3 345.0v3.3M338.3 404.8v3.3M340.0 255.5v3.3M340.0 292.0v3.3M341.7 255.5v3.3M341.7 292.0v3.3M341.7 345.0v3.3M343.3 308.6v3.3M348.4 311.9v3.3M351.6 255.5v3.3M351.6 282.0v3.3M351.6 308.6v3.3M353.2 298.6v3.3M354.8 255.5v3.3M354.8 298.6v3.3M354.8 308.6v3.3M354.8 345.0v3.3M356.4 255.5v3.3M358.1 298.6v3.3M359.6 364.9v3.3M359.6 404.8v3.3M361.2 298.6v3.3M362.8 364.9v3.3M366.0 242.2v3.3M366.0 262.1v9.9M366.0 275.4v3.3M366.0 282.0v3.3M366.0 301.9v3.3M366.0 345.0v3.3M366.0 351.7v3.3M366.0 368.3v3.3M366.0 388.2v6.6M367.6 229.0v3.3M367.6 255.5v6.6M367.6 278.7v3.3M367.6 298.6v3.3M367.6 315.2v3.3M369.2 298.6v3.3M369.2 364.9v3.3M372.4 345.0v3.3M374.0 308.6v3.3M374.0 364.9v3.3M380.0 311.9v3.3M380.0 345.0v3.3M380.0 364.9v3.3M381.6 255.5v3.3M381.6 308.6v6.6M381.6 364.9v3.3M383.2 255.5v3.3M383.2 308.6v3.3M383.2 364.9v3.3M384.8 345.0v3.3M384.8 364.9v3.3M386.4 255.5v3.3M386.4 282.0v3.3M386.4 404.8v3.3M388.0 235.6v3.3M388.0 255.5v3.3M388.0 308.6v3.3M388.0 404.8v3.3M389.6 255.5v3.3M389.6 311.9v3.3M391.2 235.6v3.3M391.2 292.0v3.3M391.2 308.6v6.6M391.2 404.8v3.3M392.7 292.0v3.3M392.7 311.9v3.3M392.7 345.0v3.3M394.3 308.6v6.6M394.3 345.0v3.3M394.3 364.9v3.3M395.9 235.6v3.3M395.9 282.0v3.3M395.9 308.6v3.3M395.9 364.9v3.3M397.5 235.6v3.3M397.5 282.0v3.3M397.5 345.0v3.3M399.1 282.0v3.3M399.1 292.0v3.3M400.7 255.5v3.3M400.7 292.0v3.3M400.7 298.6v3.3M402.3 282.0v3.3M402.3 308.6v3.3M403.9 345.0v3.3M413.4 311.9v3.3M414.9 298.6v3.3M414.9 308.6v3.3M416.5 308.6v3.3M418.0 298.6v3.3M419.6 282.0v3.3M419.6 311.9v3.3M419.6 404.8v3.3M421.2 282.0v3.3M421.2 298.6v3.3M422.7 311.9v3.3M424.3 255.5v3.3M425.8 255.5v3.3M425.8 311.9v3.3M427.4 255.5v3.3M427.4 311.9v3.3M429.0 298.6v3.3M429.0 404.8v3.3M433.5 255.5v3.3M433.5 292.0v3.3M433.5 364.9v3.3M433.5 404.8v3.3M435.1 255.5v3.3M435.1 268.8v3.3M435.1 345.0v3.3M436.7 308.6v3.3M436.7 345.0v3.3M438.3 235.6v3.3M438.3 292.0v3.3M438.3 298.6v3.3M438.3 311.9v3.3M439.9 292.0v3.3M439.9 308.6v3.3M439.9 345.0v3.3M441.5 345.0v3.3M443.2 282.0v6.6M443.2 292.0v3.3M443.2 298.6v6.6M443.2 308.6v3.3M443.2 318.5v6.6M443.2 331.8v3.3M443.2 351.7v3.3M443.2 391.5v3.3M443.2 404.8v3.3M443.2 411.4v3.3M444.8 235.6v3.3M444.8 364.9v3.3M446.4 255.5v3.3M446.4 292.0v3.3M446.4 308.6v3.3M448.0 255.5v3.3M448.0 311.9v3.3M448.0 404.8v3.3M449.6 255.5v3.3M449.6 292.0v3.3M449.6 308.6v3.3M449.6 364.9v3.3M452.9 255.5v3.3M452.9 364.9v3.3M454.5 282.0v3.3M454.5 311.9v3.3M456.1 298.6v3.3M456.1 308.6v3.3M456.1 404.8v3.3M457.7 311.9v3.3M457.7 345.0v3.3M459.3 255.5v3.3M459.3 282.0v3.3M459.3 308.6v3.3M459.3 345.0v3.3M459.3 404.8v3.3M464.4 308.6v3.3M464.4 394.8v3.3M464.4 404.8v3.3M466.0 255.5v3.3M466.0 268.8v3.3M466.0 308.6v3.3M467.6 268.8v3.3M470.7 345.0v3.3M470.7 364.9v3.3M472.3 235.6v3.3M473.9 268.8v3.3M473.9 345.0v3.3M475.5 345.0v3.3M477.1 345.0v3.3M483.4 255.5v3.3M487.9 255.5v3.3M487.9 308.6v6.6M489.5 298.6v3.3M489.5 308.6v3.3M489.5 404.8v3.3M491.1 255.5v3.3M491.1 311.9v3.3M491.1 345.0v3.3M492.7 308.6v6.6M494.2 298.6v3.3M494.2 308.6v3.3M495.8 222.3v3.3M495.8 229.0v3.3M495.8 252.2v3.3M495.8 292.0v3.3M495.8 318.5v3.3M495.8 328.5v9.9M495.8 355.0v3.3M495.8 361.6v3.3M495.8 371.6v3.3M495.8 378.2v6.6M495.8 391.5v3.3M497.4 308.6v6.6M497.4 345.0v3.3M499.0 311.9v3.3M499.0 404.8v3.3M500.6 308.6v6.6M500.6 404.8v3.3M502.1 235.6v3.3M502.1 298.6v3.3M502.1 308.6v6.6M502.1 404.8v3.3M503.7 282.0v3.3M503.7 298.6v3.3M503.7 404.8v3.3M505.3 282.0v3.3M508.4 282.0v3.3M510.0 282.0v3.3M510.0 404.8v3.3M511.6 282.0v3.3M511.6 311.9v3.3M513.2 311.9v3.3M524.4 235.6v3.3M524.4 282.0v3.3M527.8 268.8v3.3M527.8 292.0v3.3M529.4 282.0v3.3M529.4 308.6v3.3M531.1 268.8v3.3M532.7 282.0v3.3M532.7 292.0v3.3M534.4 282.0v3.3M534.4 292.0v3.3M536.1 282.0v3.3M536.1 308.6v3.3M537.7 255.5v3.3M542.5 282.0v3.3M542.5 292.0v3.3M542.5 311.9v3.3M544.1 235.6v3.3M544.1 311.9v3.3M545.8 308.6v3.3M547.5 235.6v3.3M549.1 311.9v3.3M550.8 235.6v3.3M550.8 268.8v3.3M555.8 268.8v3.3M555.8 308.6v3.3M557.4 308.6v6.6M559.1 235.6v3.3M559.1 308.6v3.3M559.1 364.9v3.3M560.8 268.8v3.3M560.8 311.9v3.3M560.8 364.9v3.3M562.4 268.8v3.3M562.4 282.0v3.3M562.4 308.6v3.3M562.4 404.8v3.3M564.1 404.8v3.3M565.8 255.5v3.3M565.8 308.6v3.3M565.8 364.9v3.3M565.8 404.8v3.3M567.4 255.5v3.3M567.4 308.6v3.3M572.1 298.6v3.3M572.1 308.6v3.3M573.7 298.6v3.3M573.7 345.0v3.3M575.3 282.0v3.3M575.3 292.0v3.3M575.3 345.0v3.3M578.4 282.0v3.3M578.4 345.0v3.3M580.0 282.0v3.3M580.0 298.6v3.3M580.0 345.0v3.3M581.6 282.0v3.3M581.6 308.6v3.3M581.6 404.8v3.3M583.1 282.0v3.3M584.7 308.6v3.3M587.9 255.5v3.3M594.2 268.8v3.3M594.2 364.9v3.3M595.9 235.6v3.3M595.9 255.5v3.3M595.9 298.6v3.3M595.9 308.6v3.3M597.5 255.5v3.3M597.5 292.0v3.3M597.5 298.6v3.3M597.5 364.9v3.3M597.5 404.8v3.3M599.1 235.6v3.3M599.1 255.5v3.3M599.1 292.0v3.3M599.1 298.6v3.3M600.8 364.9v3.3M602.4 215.7v3.3M602.4 232.3v3.3M602.4 238.9v3.3M602.4 248.9v6.6M602.4 285.4v3.3M602.4 305.2v3.3M602.4 315.2v3.3M602.4 331.8v6.6M602.4 341.7v3.3M602.4 351.7v3.3M602.4 361.6v3.3M602.4 368.3v3.3M602.4 381.5v3.3M602.4 391.5v3.3M602.4 404.8v3.3M604.1 225.6v3.3M604.1 238.9v3.3M604.1 245.5v3.3M604.1 252.2v13.3M604.1 275.4v3.3M604.1 292.0v3.3M604.1 298.6v3.3M604.1 315.2v3.3M604.1 321.8v3.3M604.1 328.5v3.3M604.1 341.7v3.3M604.1 358.3v3.3M604.1 364.9v3.3M604.1 374.9v3.3M604.1 388.2v3.3M604.1 394.8v3.3M604.1 401.4v3.3M604.1 411.4v3.3M605.7 215.7v3.3M605.7 248.9v3.3M605.7 255.5v3.3M605.7 262.1v3.3M605.7 268.8v6.6M605.7 282.0v3.3M605.7 292.0v3.3M605.7 308.6v6.6M605.7 318.5v3.3M605.7 348.4v3.3M605.7 355.0v3.3M605.7 361.6v3.3M605.7 368.3v3.3M605.7 378.2v3.3M605.7 388.2v6.6M605.7 401.4v6.6M607.3 364.9v3.3M607.3 404.8v3.3M609.0 282.0v3.3M610.6 235.6v3.3M610.6 298.6v3.3M610.6 364.9v3.3M615.2 282.0v3.3M616.8 235.6v3.3M616.8 292.0v3.3M616.8 308.6v3.3M616.8 404.8v3.3M618.4 235.6v3.3M618.4 255.5v3.3M618.4 292.0v3.3M618.4 404.8v3.3M620.0 255.5v3.3M620.0 292.0v3.3M621.6 364.9v3.3M626.4 282.0v3.3M626.4 364.9v3.3M628.0 404.8v3.3M629.6 345.0v3.3M629.6 364.9v3.3M631.2 345.0v3.3M637.2 298.6v3.3M640.5 235.6v3.3M640.5 364.9v3.3M642.2 235.6v3.3M643.9 282.0v3.3M643.9 298.6v3.3M643.9 404.8v3.3M645.5 238.9v3.3M645.5 265.4v13.3M645.5 285.4v3.3M645.5 298.6v3.3M645.5 305.2v3.3M645.5 325.1v6.6M645.5 341.7v3.3M645.5 358.3v3.3M645.5 384.9v3.3M645.5 391.5v3.3M645.5 411.4v3.3M647.2 215.7v3.3M647.2 232.3v3.3M647.2 248.9v3.3M647.2 255.5v3.3M647.2 295.3v3.3M647.2 311.9v6.6M647.2 335.1v3.3M647.2 345.0v3.3M647.2 358.3v3.3M647.2 364.9v6.6M647.2 378.2v3.3M647.2 384.9v3.3M647.2 411.4v3.3M648.8 282.0v3.3M648.8 404.8v3.3M650.5 345.0v3.3M650.5 404.8v3.3M652.1 282.0v3.3M652.1 404.8v3.3M653.8 404.8v3.3M655.5 298.6v3.3M655.5 404.8v3.3M657.1 282.0v3.3M657.1 308.6v3.3M657.1 404.8v3.3M665.2 282.0v3.3M665.2 308.6v3.3M665.2 345.0v3.3M666.9 364.9v3.3M668.5 298.6v3.3M668.5 308.6v3.3M668.5 345.0v3.3M668.5 364.9v3.3M673.6 282.0v3.3M673.6 298.6v3.3M675.3 268.8v3.3M675.3 308.6v3.3M675.3 345.0v3.3M676.9 282.0v3.3M676.9 298.6v3.3"/>
<path stroke="rgb(30, 130, 250)" stroke-width="1.15" stroke-opacity="0.810" d="M245.7 404.8v3.3M247.3 268.8v3.3M247.3 404.8v3.3M248.9 268.8v3.3M248.9 292.0v3.3M250.5 364.9v3.3M252.1 298.6v3.3M260.3 235.6v3.3M260.3 282.0v3.3M263.5 255.5v3.3M263.5 282.0v3.3M265.1 229.0v3.3M265.1 235.6v6.6M265.1 282.0v6.6M265.1 301.9v3.3M265.1 315.2v3.3M265.1 338.4v3.3M265.1 345.0v6.6M265.1 391.5v3.3M265.1 398.1v6.6M265.1 411.4v3.3M266.7 215.7v3.3M266.7 282.0v3.3M266.7 358.3v3.3M268.4 282.0v3.3M270.0 292.0v3.3M271.6 255.5v3.3M271.6 292.0v3.3M274.9 292.0v3.3M279.7 311.9v3.3M292.5 404.8v3.3M295.7 364.9v3.3M300.6 235.6v3.3M303.9 364.9v3.3M305.5 311.9v3.3M313.4 282.0v3.3M315.1 282.0v3.3M318.4 311.9v3.3M318.4 404.8v3.3M320.1 308.6v6.6M321.7 282.0v3.3M323.4 235.6v3.3M323.4 282.0v3.3M326.7 308.6v3.3M331.7 308.6v3.3M333.4 292.0v3.3M333.4 308.6v6.6M335.0 305.2v6.6M336.7 345.0v3.3M340.0 345.0v3.3M343.3 311.9v3.3M343.3 404.8v3.3M350.1 311.9v3.3M350.1 364.9v3.3M353.2 255.5v3.3M356.4 298.6v3.3M361.2 404.8v3.3M362.8 298.6v3.3M362.8 404.8v3.3M366.0 222.3v16.6M366.0 252.2v3.3M366.0 292.0v6.6M366.0 305.2v3.3M366.0 311.9v3.3M366.0 318.5v3.3M366.0 325.1v13.3M366.0 355.0v6.6M366.0 364.9v3.3M366.0 374.9v3.3M366.0 381.5v3.3M366.0 398.1v9.9M367.6 215.7v9.9M367.6 232.3v3.3M367.6 242.2v13.3M367.6 262.1v16.6M367.6 285.4v3.3M367.6 292.0v6.6M367.6 301.9v6.6M367.6 311.9v3.3M367.6 318.5v19.9M367.6 341.7v3.3M367.6 348.4v9.9M367.6 364.9v13.3M367.6 384.9v6.6M367.6 398.1v16.6M369.2 308.6v3.3M369.2 345.0v3.3M372.4 268.8v3.3M372.4 298.6v3.3M374.0 345.0v3.3M380.0 255.5v3.3M383.2 298.6v3.3M384.8 235.6v3.3M384.8 311.9v3.3M391.2 255.5v3.3M392.7 308.6v3.3M394.3 292.0v3.3M395.9 345.0v3.3M397.5 292.0v3.3M397.5 364.9v3.3M402.3 292.0v3.3M403.9 292.0v3.3M403.9 308.6v3.3M414.9 311.9v3.3M418.0 255.5v3.3M418.0 311.9v3.3M421.2 308.6v3.3M422.7 268.8v3.3M424.3 311.9v3.3M425.8 282.0v3.3M425.8 404.8v3.3M433.5 235.6v3.3M433.5 308.6v6.6M435.1 235.6v3.3M435.1 308.6v6.6M436.7 311.9v3.3M436.7 404.8v3.3M438.3 268.8v3.3M438.3 308.6v3.3M438.3 404.8v3.3M441.5 255.5v3.3M441.5 292.0v3.3M443.2 325.1v3.3M446.4 311.9v3.3M448.0 364.9v3.3M451.3 308.6v6.6M452.9 311.9v3.3M454.5 235.6v3.3M454.5 308.6v3.3M454.5 345.0v3.3M457.7 255.5v3.3M457.7 298.6v3.3M466.0 364.9v3.3M469.2 364.9v3.3M477.1 235.6v3.3M477.1 268.8v3.3M477.1 364.9v3.3M478.6 235.6v3.3M480.2 235.6v3.3M487.9 268.8v3.3M489.5 255.5v3.3M492.7 404.8v3.3M494.2 345.0v3.3M494.2 404.8v3.3M495.8 219.0v3.3M495.8 225.6v3.3M495.8 232.3v6.6M495.8 242.2v6.6M495.8 255.5v9.9M495.8 275.4v13.3M495.8 305.2v6.6M495.8 315.2v3.3M495.8 321.8v6.6M495.8 338.4v16.6M495.8 358.3v3.3M495.8 368.3v3.3M495.8 388.2v3.3M495.8 394.8v3.3M495.8 404.8v6.6M497.4 298.6v3.3M500.6 298.6v3.3M503.7 235.6v3.3M503.7 308.6v3.3M506.9 235.6v3.3M506.9 282.0v3.3M508.4 311.9v3.3M511.6 308.6v3.3M513.2 268.8v3.3M526.1 308.6v3.3M529.4 255.5v3.3M529.4 268.8v3.3M531.1 282.0v3.3M537.7 308.6v3.3M542.5 308.6v3.3M545.8 235.6v3.3M545.8 298.6v3.3M547.5 298.6v3.3M549.1 308.6v3.3M550.8 311.9v3.3M552.5 308.6v6.6M554.1 235.6v3.3M554.1 308.6v3.3M560.8 308.6v3.3M562.4 311.9v3.3M564.1 268.8v3.3M565.8 311.9v3.3M567.4 311.9v3.3M567.4 364.9v3.3M572.1 282.0v3.3M572.1 292.0v3.3M576.9 345.0v3.3M578.4 308.6v3.3M581.6 292.0v3.3M584.7 235.6v3.3M584.7 282.0v3.3M584.7 292.0v3.3M586.3 255.5v3.3M594.2 235.6v3.3M595.9 404.8v3.3M597.5 235.6v3.3M597.5 308.6v3.3M599.1 282.0v3.3M600.8 298.6v3.3M600.8 404.8v3.3M602.4 222.3v3.3M602.4 255.5v19.9M602.4 282.0v3.3M602.4 292.0v3.3M602.4 298.6v3.3M602.4 308.6v3.3M602.4 321.8v3.3M602.4 328.5v3.3M602.4 348.4v3.3M602.4 355.0v3.3M602.4 408.1v3.3M604.1 272.1v3.3M604.1 308.6v3.3M605.7 219.0v3.3M605.7 229.0v3.3M605.7 252.2v3.3M605.7 258.8v3.3M605.7 265.4v3.3M605.7 275.4v3.3M605.7 285.4v6.6M605.7 298.6v3.3M605.7 321.8v9.9M605.7 364.9v3.3M605.7 398.1v3.3M605.7 411.4v3.3M607.3 298.6v3.3M618.4 282.0v3.3M620.0 308.6v3.3M621.6 282.0v3.3M623.2 282.0v3.3M624.8 308.6v3.3M628.0 292.0v3.3M628.0 345.0v3.3M629.6 404.8v3.3M635.6 282.0v3.3M638.9 292.0v3.3M638.9 298.6v3.3M640.5 292.0v3.3M642.2 282.0v3.3M642.2 298.6v3.3M642.2 364.9v3.3M643.9 268.8v3.3M643.9 345.0v3.3M645.5 219.0v6.6M645.5 242.2v9.9M645.5 262.1v3.3M645.5 278.7v6.6M645.5 345.0v3.3M645.5 361.6v3.3M645.5 368.3v3.3M645.5 401.4v6.6M647.2 229.0v3.3M647.2 238.9v3.3M647.2 245.5v3.3M647.2 252.2v3.3M647.2 262.1v3.3M647.2 268.8v3.3M647.2 282.0v3.3M647.2 288.7v3.3M647.2 298.6v3.3M647.2 318.5v6.6M647.2 328.5v6.6M647.2 338.4v3.3M647.2 355.0v3.3M647.2 381.5v3.3M647.2 388.2v3.3M647.2 394.8v13.3M650.5 282.0v3.3M650.5 308.6v3.3M653.8 298.6v3.3M653.8 345.0v3.3M665.2 298.6v3.3M666.9 345.0v3.3M666.9 404.8v3.3M668.5 404.8v3.3M670.2 282.0v3.3M670.2 404.8v3.3M671.9 282.0v3.3M676.9 345.0v3.3M678.6 268.8v3.3M678.6 308.6v3.3"/>
<path stroke="#fff" stroke-width="0.75" stroke-opacity="0.9" d="M244 219.0H681M244 222.3H681M244 225.6H681M244 229.0H681M244 232.3H681M244 235.6H681M244 238.9H681M244 242.2H681M244 245.5H681M244 248.9H681M244 252.2H681M244 255.5H681M244 258.8H681M244 262.1H681M244 265.4H681M244 268.8H681M244 272.1H681M244 275.4H681M244 278.7H681M244 282.0H681M244 285.4H681M244 288.7H681M244 292.0H681M244 295.3H681M244 298.6H681M244 301.9H681M244 305.2H681M244 308.6H681M244 311.9H681M244 315.2H681M244 318.5H681M244 321.8H681M244 325.1H681M244 328.5H681M244 331.8H681M244 335.1H681M244 338.4H681M244 341.7H681M244 345.0H681M244 348.4H681M244 351.7H681M244 355.0H681M244 358.3H681M244 361.6H681M244 364.9H681M244 368.3H681M244 371.6H681M244 374.9H681M244 378.2H681M244 381.5H681M244 384.9H681M244 388.2H681M244 391.5H681M244 394.8H681M244 398.1H681M244 401.4H681M244 404.8H681M244 408.1H681M244 411.4H681"/>
<rect x="244.5" y="215.2" width="38.3" height="200.0" fill="none" stroke="#888" stroke-width="0.9"/>
<rect x="284.8" y="215.2" width="23.8" height="200.0" fill="none" stroke="#888" stroke-width="0.9"/>
<rect x="310.6" y="215.2" width="34.2" height="200.0" fill="none" stroke="#888" stroke-width="0.9"/>
<rect x="347.3" y="215.2" width="28.2" height="200.0" fill="none" stroke="#888" stroke-width="0.9"/>
<rect x="377.3" y="215.2" width="29.6" height="200.0" fill="none" stroke="#888" stroke-width="0.9"/>
<rect x="409.1" y="215.2" width="21.3" height="200.0" fill="none" stroke="#888" stroke-width="0.9"/>
<rect x="432.3" y="215.2" width="28.5" height="200.0" fill="none" stroke="#888" stroke-width="0.9"/>
<rect x="463.3" y="215.2" width="21.5" height="200.0" fill="none" stroke="#888" stroke-width="0.9"/>
<rect x="486.8" y="215.2" width="27.8" height="200.0" fill="none" stroke="#888" stroke-width="0.9"/>
<rect x="516.6" y="215.2" width="22.6" height="200.0" fill="none" stroke="#888" stroke-width="0.9"/>
<rect x="541.3" y="215.2" width="27.6" height="200.0" fill="none" stroke="#888" stroke-width="0.9"/>
<rect x="571" y="215.2" width="18.3" height="200.0" fill="none" stroke="#888" stroke-width="0.9"/>
<rect x="591.4" y="215.2" width="20.7" height="200.0" fill="none" stroke="#888" stroke-width="0.9"/>
<rect x="614.1" y="215.2" width="18.5" height="200.0" fill="none" stroke="#888" stroke-width="0.9"/>
<rect x="634.4" y="215.2" width="27.5" height="200.0" fill="none" stroke="#888" stroke-width="0.9"/>
<rect x="664" y="215.2" width="16.1" height="200.0" fill="none" stroke="#888" stroke-width="0.9"/>
<rect x="681.8" y="215.2" width="2.2" height="66.17" fill="#64f2cc"/>
<rect x="681.8" y="282.27" width="2.2" height="65.87" fill="#e6b950"/>
<rect x="681.8" y="348.93" width="2.2" height="66.27" fill="#cd4b78"/>
<text x="233.5" y="223.0" font-family="Liberation Sans, sans-serif" font-weight="bold" font-size="10.5">e</text>
<text transform="translate(241.2,315.2) rotate(-90)" font-family="Liberation Sans, sans-serif" font-size="9" text-anchor="middle" fill="#111">60 embryos of <tspan font-style="italic">C. dabieshanensis</tspan></text>
<path stroke="#f1f2f4" stroke-width="0.45" d="M244 432.34H681M244 435.67H681M244 439.01H681M244 442.35H681M244 445.68H681M244 449.02H681M244 452.36H681M244 455.69H681M244 459.03H681M244 462.37H681M244 465.70H681M244 469.04H681M244 472.38H681M244 475.71H681M244 479.05H681M244 482.39H681M244 485.72H681M244 489.06H681M244 492.40H681M244 495.73H681M244 499.07H681M244 502.41H681M244 505.74H681M244 509.08H681M244 512.42H681M244 515.75H681M244 519.09H681M244 522.43H681M244 525.76H681M244 529.10H681M244 532.44H681M244 535.77H681M244 539.11H681M244 542.45H681M244 545.78H681M244 549.12H681M244 552.46H681M244 555.79H681M244 559.13H681M244 562.47H681M244 565.80H681M244 569.14H681M244 572.48H681M244 575.81H681M244 579.15H681M244 582.49H681M244 585.82H681M244 589.16H681M244 592.50H681M244 595.83H681M244 599.17H681M244 602.51H681M244 605.84H681M244 609.18H681M244 612.52H681M244 615.85H681M244 619.19H681M244 622.53H681M244 625.86H681"/>
<path stroke="rgb(120,175,245)" stroke-width="0.9" stroke-opacity="0.35" d="M260.8 447.0v10.0M260.8 458.0v4.0M260.8 464.0v2.0M260.8 471.0v2.0M260.8 481.0v3.0M260.8 485.0v8.0M260.8 494.0v3.0M260.8 499.0v4.0M260.8 504.0v8.0M260.8 514.0v2.0M260.8 518.0v4.0M260.8 523.0v8.0M260.8 533.0v6.0M260.8 544.0v4.0M260.8 553.0v4.0M260.8 570.0v8.0M260.8 599.0v8.0M260.8 621.0v4.0M328.3 429.5v4.0M328.3 454.5v10.0M328.3 492.5v3.0M328.3 500.5v2.0M328.3 524.5v2.0M328.3 531.5v8.0M328.3 550.5v10.0M328.3 575.5v3.0M328.3 580.5v3.0M328.3 592.5v4.0M328.3 598.5v6.0M328.3 607.5v3.0M446.7 429.5v6.0M446.7 436.5v6.0M446.7 443.5v3.0M446.7 448.5v6.0M446.7 457.5v8.0M446.7 466.5v8.0M446.7 475.5v4.0M446.7 480.5v3.0M446.7 485.5v10.0M446.7 498.5v8.0M446.7 514.5v6.0M446.7 521.5v3.0M446.7 527.5v10.0M446.7 539.5v8.0M446.7 550.5v3.0M446.7 554.5v8.0M446.7 576.5v3.0M446.7 581.5v8.0M446.7 592.5v10.0M446.7 609.5v3.0M446.7 615.5v10.0M446.7 626.5v1.5M464.1 429.5v10.0M464.1 451.5v4.0M464.1 456.5v3.0M464.1 462.5v3.0M464.1 475.5v10.0M464.1 505.5v10.0M464.1 520.5v6.0M464.1 527.5v10.0M464.1 539.5v2.0M464.1 546.5v10.0M464.1 573.5v8.0M464.1 603.5v3.0M464.1 608.5v4.0M464.1 615.5v4.0M464.1 626.5v1.5M641.3 470.0v8.0M641.3 480.0v8.0M641.3 493.0v3.0M641.3 498.0v3.0M641.3 502.0v8.0M641.3 518.0v3.0M641.3 522.0v2.0M641.3 525.0v2.0M641.3 529.0v10.0M641.3 565.0v6.0M641.3 572.0v6.0M641.3 579.0v10.0M641.3 590.0v3.0M641.3 600.0v3.0M641.3 605.0v6.0"/>
<g fill="rgb(90,155,240)" fill-opacity="0.6"><rect x="278.0" y="468.5" width="1.2" height="2.6"/><rect x="259.3" y="522.7" width="1.2" height="2.6"/><rect x="362.7" y="469.1" width="1.2" height="2.6"/><rect x="385.7" y="469.1" width="1.2" height="2.6"/><rect x="411.7" y="469.1" width="1.2" height="2.6"/><rect x="440.9" y="469.1" width="1.2" height="2.6"/><rect x="453.9" y="469.1" width="1.2" height="2.6"/><rect x="458.9" y="469.1" width="1.2" height="2.6"/><rect x="497.8" y="449.2" width="1.2" height="2.6"/><rect x="497.8" y="469.1" width="1.2" height="2.6"/><rect x="497.8" y="495.8" width="1.2" height="2.6"/><rect x="497.8" y="569.0" width="1.2" height="2.6"/><rect x="497.8" y="599.0" width="1.2" height="2.6"/><rect x="497.8" y="615.6" width="1.2" height="2.6"/><rect x="521.7" y="495.8" width="1.2" height="2.6"/><rect x="521.7" y="569.0" width="1.2" height="2.6"/><rect x="521.7" y="589.0" width="1.2" height="2.6"/><rect x="521.7" y="602.3" width="1.2" height="2.6"/><rect x="593.4" y="469.1" width="1.2" height="2.6"/><rect x="597.4" y="469.1" width="1.2" height="2.6"/><rect x="614.0" y="469.1" width="1.2" height="2.6"/><rect x="618.4" y="469.1" width="1.2" height="2.6"/><rect x="669.4" y="469.1" width="1.2" height="2.6"/><rect x="677.4" y="469.1" width="1.2" height="2.6"/><rect x="413.8" y="522.7" width="1.2" height="2.6"/><rect x="425.0" y="599.0" width="1.2" height="2.6"/><rect x="442.9" y="602.3" width="1.2" height="2.6"/><rect x="612.4" y="565.7" width="1.2" height="2.6"/></g>
<path fill="rgb(60,140,240)" fill-opacity="0.62" d="M244.50 456.09h1.00v2.54h-1.00zM268.62 456.09h1.00v2.54h-1.00zM270.24 456.09h1.00v2.54h-1.00zM271.86 456.09h1.00v2.54h-1.00zM273.48 456.09h1.00v2.54h-1.00zM275.10 456.09h1.00v2.54h-1.00zM276.72 456.09h1.00v2.54h-1.00zM278.34 456.09h1.00v2.54h-1.00zM279.96 456.09h1.00v2.54h-1.00zM281.58 456.09h0.42v2.54h-0.42zM324.30 456.09h1.00v2.54h-1.00zM325.92 456.09h1.00v2.54h-1.00zM329.16 456.09h1.00v2.54h-1.00zM330.78 456.09h1.00v2.54h-1.00zM332.40 456.09h1.00v2.54h-1.00zM334.02 456.09h1.00v2.54h-1.00zM335.64 456.09h1.00v2.54h-1.00zM337.26 456.09h0.44v2.54h-0.44zM340.50 456.09h1.00v2.54h-1.00zM342.12 456.09h0.28v2.54h-0.28zM347.80 456.09h1.00v2.54h-1.00zM349.42 456.09h1.00v2.54h-1.00zM351.04 456.09h1.00v2.54h-1.00zM352.66 456.09h0.74v2.54h-0.74zM379.80 456.09h1.00v2.54h-1.00zM381.42 456.09h1.00v2.54h-1.00zM383.04 456.09h1.00v2.54h-1.00zM384.66 456.09h1.00v2.54h-1.00zM386.28 456.09h1.00v2.54h-1.00zM387.90 456.09h1.00v2.54h-1.00zM389.52 456.09h1.00v2.54h-1.00zM391.14 456.09h1.00v2.54h-1.00zM392.76 456.09h1.00v2.54h-1.00zM394.38 456.09h1.00v2.54h-1.00zM396.00 456.09h1.00v2.54h-1.00zM397.62 456.09h1.00v2.54h-1.00zM399.24 456.09h1.00v2.54h-1.00zM400.86 456.09h1.00v2.54h-1.00zM402.48 456.09h1.00v2.54h-1.00zM404.10 456.09h1.00v2.54h-1.00zM422.00 456.09h1.00v2.54h-1.00zM423.62 456.09h1.00v2.54h-1.00zM426.86 456.09h1.00v2.54h-1.00zM428.48 456.09h0.22v2.54h-0.22zM470.00 456.09h1.00v2.54h-1.00zM471.62 456.09h0.38v2.54h-0.38zM477.00 456.09h1.00v2.54h-1.00zM481.86 456.09h1.00v2.54h-1.00zM483.48 456.09h0.52v2.54h-0.52zM489.22 456.09h1.00v2.54h-1.00zM490.84 456.09h1.00v2.54h-1.00zM492.46 456.09h1.00v2.54h-1.00zM494.08 456.09h1.00v2.54h-1.00zM495.70 456.09h0.80v2.54h-0.80zM504.50 456.09h1.00v2.54h-1.00zM506.12 456.09h1.00v2.54h-1.00zM509.36 456.09h1.00v2.54h-1.00zM510.98 456.09h1.00v2.54h-1.00zM512.60 456.09h1.00v2.54h-1.00zM518.42 456.09h1.00v2.54h-1.00zM520.04 456.09h1.00v2.54h-1.00zM521.66 456.09h1.00v2.54h-1.00zM523.28 456.09h0.92v2.54h-0.92zM527.00 456.09h1.00v2.54h-1.00zM528.62 456.09h1.00v2.54h-1.00zM530.24 456.09h1.00v2.54h-1.00zM531.86 456.09h1.00v2.54h-1.00zM535.10 456.09h1.00v2.54h-1.00zM536.72 456.09h1.00v2.54h-1.00zM564.40 456.09h1.00v2.54h-1.00zM566.02 456.09h1.00v2.54h-1.00zM567.64 456.09h0.76v2.54h-0.76zM572.50 456.09h0.90v2.54h-0.90zM579.20 456.09h1.00v2.54h-1.00zM584.06 456.09h1.00v2.54h-1.00zM585.68 456.09h1.00v2.54h-1.00zM594.00 456.09h1.00v2.54h-1.00zM595.62 456.09h1.00v2.54h-1.00zM597.24 456.09h1.00v2.54h-1.00zM598.86 456.09h1.00v2.54h-1.00zM600.48 456.09h1.00v2.54h-1.00zM602.10 456.09h1.00v2.54h-1.00zM603.72 456.09h1.00v2.54h-1.00zM606.96 456.09h1.00v2.54h-1.00zM608.58 456.09h1.00v2.54h-1.00zM614.60 456.09h1.00v2.54h-1.00zM616.22 456.09h1.00v2.54h-1.00zM617.84 456.09h1.00v2.54h-1.00zM619.46 456.09h1.00v2.54h-1.00zM621.08 456.09h1.00v2.54h-1.00zM622.70 456.09h1.00v2.54h-1.00zM625.94 456.09h1.00v2.54h-1.00zM627.56 456.09h0.54v2.54h-0.54zM659.00 456.09h1.00v2.54h-1.00zM660.62 456.09h0.08v2.54h-0.08zM664.00 456.09h1.00v2.54h-1.00zM665.62 456.09h1.00v2.54h-1.00zM667.24 456.09h1.00v2.54h-1.00zM668.86 456.09h1.00v2.54h-1.00zM670.48 456.09h1.00v2.54h-1.00zM672.10 456.09h1.00v2.54h-1.00zM673.72 456.09h1.00v2.54h-1.00zM675.34 456.09h1.00v2.54h-1.00zM676.96 456.09h1.00v2.54h-1.00zM678.58 456.09h1.00v2.54h-1.00zM244.50 556.19h1.00v2.54h-1.00zM246.12 556.19h1.00v2.54h-1.00zM247.74 556.19h1.00v2.54h-1.00zM249.36 556.19h0.04v2.54h-0.04zM276.70 556.19h1.00v2.54h-1.00zM285.30 556.19h1.00v2.54h-1.00zM286.92 556.19h1.00v2.54h-1.00zM288.54 556.19h1.00v2.54h-1.00zM290.16 556.19h1.00v2.54h-1.00zM291.78 556.19h1.00v2.54h-1.00zM293.40 556.19h1.00v2.54h-1.00zM295.02 556.19h1.00v2.54h-1.00zM296.64 556.19h1.00v2.54h-1.00zM298.26 556.19h1.00v2.54h-1.00zM299.88 556.19h1.00v2.54h-1.00zM301.50 556.19h1.00v2.54h-1.00zM311.00 556.19h1.00v2.54h-1.00zM312.62 556.19h1.00v2.54h-1.00zM314.24 556.19h1.00v2.54h-1.00zM315.86 556.19h1.00v2.54h-1.00zM317.48 556.19h1.00v2.54h-1.00zM319.10 556.19h1.00v2.54h-1.00zM320.72 556.19h1.00v2.54h-1.00zM322.34 556.19h1.00v2.54h-1.00zM323.96 556.19h1.00v2.54h-1.00zM325.58 556.19h1.00v2.54h-1.00zM327.20 556.19h1.00v2.54h-1.00zM328.82 556.19h1.00v2.54h-1.00zM330.44 556.19h1.00v2.54h-1.00zM332.06 556.19h1.00v2.54h-1.00zM335.30 556.19h1.00v2.54h-1.00zM336.92 556.19h1.00v2.54h-1.00zM338.54 556.19h1.00v2.54h-1.00zM340.16 556.19h1.00v2.54h-1.00zM356.80 556.19h1.00v2.54h-1.00zM383.80 556.19h1.00v2.54h-1.00zM385.42 556.19h0.88v2.54h-0.88zM418.20 556.19h1.00v2.54h-1.00zM419.82 556.19h1.00v2.54h-1.00zM421.44 556.19h1.00v2.54h-1.00zM423.06 556.19h1.00v2.54h-1.00zM424.68 556.19h1.00v2.54h-1.00zM426.30 556.19h1.00v2.54h-1.00zM429.54 556.19h0.06v2.54h-0.06zM432.50 556.19h1.00v2.54h-1.00zM434.12 556.19h0.08v2.54h-0.08zM448.90 556.19h1.00v2.54h-1.00zM450.52 556.19h1.00v2.54h-1.00zM452.14 556.19h1.00v2.54h-1.00zM453.76 556.19h1.00v2.54h-1.00zM455.38 556.19h0.92v2.54h-0.92zM463.70 556.19h1.00v2.54h-1.00zM465.32 556.19h1.00v2.54h-1.00zM466.94 556.19h1.00v2.54h-1.00zM468.56 556.19h1.00v2.54h-1.00zM470.18 556.19h1.00v2.54h-1.00zM471.80 556.19h1.00v2.54h-1.00zM473.42 556.19h1.00v2.54h-1.00zM475.04 556.19h1.00v2.54h-1.00zM476.66 556.19h1.00v2.54h-1.00zM478.28 556.19h1.00v2.54h-1.00zM479.90 556.19h1.00v2.54h-1.00zM481.52 556.19h1.00v2.54h-1.00zM483.14 556.19h0.56v2.54h-0.56zM521.40 556.19h1.00v2.54h-1.00zM523.02 556.19h1.00v2.54h-1.00zM524.64 556.19h1.00v2.54h-1.00zM526.26 556.19h1.00v2.54h-1.00zM527.88 556.19h1.00v2.54h-1.00zM529.50 556.19h1.00v2.54h-1.00zM532.74 556.19h1.00v2.54h-1.00zM534.36 556.19h1.00v2.54h-1.00zM535.98 556.19h1.00v2.54h-1.00zM537.60 556.19h0.40v2.54h-0.40zM542.90 556.19h1.00v2.54h-1.00zM544.52 556.19h1.00v2.54h-1.00zM546.14 556.19h1.00v2.54h-1.00zM549.38 556.19h1.00v2.54h-1.00zM551.00 556.19h1.00v2.54h-1.00zM552.62 556.19h1.00v2.54h-1.00zM554.24 556.19h1.00v2.54h-1.00zM555.86 556.19h1.00v2.54h-1.00zM557.48 556.19h1.00v2.54h-1.00zM559.10 556.19h1.00v2.54h-1.00zM568.12 556.19h0.28v2.54h-0.28zM571.50 556.19h1.00v2.54h-1.00zM574.74 556.19h1.00v2.54h-1.00zM576.36 556.19h1.00v2.54h-1.00zM577.98 556.19h1.00v2.54h-1.00zM579.60 556.19h1.00v2.54h-1.00zM581.22 556.19h1.00v2.54h-1.00zM582.84 556.19h1.00v2.54h-1.00zM584.46 556.19h1.00v2.54h-1.00zM586.08 556.19h1.00v2.54h-1.00zM611.00 556.19h0.70v2.54h-0.70zM634.60 556.19h1.00v2.54h-1.00zM636.22 556.19h1.00v2.54h-1.00zM637.84 556.19h1.00v2.54h-1.00zM639.46 556.19h1.00v2.54h-1.00zM641.08 556.19h1.00v2.54h-1.00zM644.32 556.19h1.00v2.54h-1.00zM645.94 556.19h1.00v2.54h-1.00zM647.56 556.19h1.00v2.54h-1.00zM649.18 556.19h1.00v2.54h-1.00zM650.80 556.19h1.00v2.54h-1.00zM652.42 556.19h1.00v2.54h-1.00zM654.04 556.19h0.26v2.54h-0.26zM666.00 556.19h1.00v2.54h-1.00z"/>
<rect x="244.5" y="429" width="38.3" height="200.2" fill="none" stroke="#888" stroke-width="0.9"/>
<rect x="284.8" y="429" width="23.8" height="200.2" fill="none" stroke="#888" stroke-width="0.9"/>
<rect x="310.6" y="429" width="34.2" height="200.2" fill="none" stroke="#888" stroke-width="0.9"/>
<rect x="347.3" y="429" width="28.2" height="200.2" fill="none" stroke="#888" stroke-width="0.9"/>
<rect x="377.3" y="429" width="29.6" height="200.2" fill="none" stroke="#888" stroke-width="0.9"/>
<rect x="409.1" y="429" width="21.3" height="200.2" fill="none" stroke="#888" stroke-width="0.9"/>
<rect x="432.3" y="429" width="28.5" height="200.2" fill="none" stroke="#888" stroke-width="0.9"/>
<rect x="463.3" y="429" width="21.5" height="200.2" fill="none" stroke="#888" stroke-width="0.9"/>
<rect x="486.8" y="429" width="27.8" height="200.2" fill="none" stroke="#888" stroke-width="0.9"/>
<rect x="516.6" y="429" width="22.6" height="200.2" fill="none" stroke="#888" stroke-width="0.9"/>
<rect x="541.3" y="429" width="27.6" height="200.2" fill="none" stroke="#888" stroke-width="0.9"/>
<rect x="571" y="429" width="18.3" height="200.2" fill="none" stroke="#888" stroke-width="0.9"/>
<rect x="591.4" y="429" width="20.7" height="200.2" fill="none" stroke="#888" stroke-width="0.9"/>
<rect x="614.1" y="429" width="18.5" height="200.2" fill="none" stroke="#888" stroke-width="0.9"/>
<rect x="634.4" y="429" width="27.5" height="200.2" fill="none" stroke="#888" stroke-width="0.9"/>
<rect x="664" y="429" width="16.1" height="200.2" fill="none" stroke="#888" stroke-width="0.9"/>
<rect x="681.8" y="429" width="2.2" height="66.23" fill="#64f2cc"/>
<rect x="681.8" y="496.13" width="2.2" height="65.93" fill="#e6b950"/>
<rect x="681.8" y="562.87" width="2.2" height="66.33" fill="#cd4b78"/>
<text x="234.3" y="440.1" font-family="Liberation Sans, sans-serif" font-weight="bold" font-size="10.5">f</text>
<text transform="translate(241.2,529.1) rotate(-90)" font-family="Liberation Sans, sans-serif" font-size="9" text-anchor="middle" fill="#111">60 embryos of <tspan font-style="italic">C. hunanensis</tspan> YL</text>
<text x="263.6" y="638.1" font-family="Liberation Sans, sans-serif" font-size="7.4" text-anchor="middle" fill="#222">1</text>
<text x="296.7" y="638.1" font-family="Liberation Sans, sans-serif" font-size="7.4" text-anchor="middle" fill="#222">2</text>
<text x="327.7" y="638.1" font-family="Liberation Sans, sans-serif" font-size="7.4" text-anchor="middle" fill="#222">3</text>
<text x="361.4" y="638.1" font-family="Liberation Sans, sans-serif" font-size="7.4" text-anchor="middle" fill="#222">4</text>
<text x="392.1" y="638.1" font-family="Liberation Sans, sans-serif" font-size="7.4" text-anchor="middle" fill="#222">5</text>
<text x="419.8" y="638.1" font-family="Liberation Sans, sans-serif" font-size="7.4" text-anchor="middle" fill="#222">6</text>
<text x="446.6" y="638.1" font-family="Liberation Sans, sans-serif" font-size="7.4" text-anchor="middle" fill="#222">7</text>
<text x="474.1" y="638.1" font-family="Liberation Sans, sans-serif" font-size="7.4" text-anchor="middle" fill="#222">8</text>
<text x="500.7" y="638.1" font-family="Liberation Sans, sans-serif" font-size="7.4" text-anchor="middle" fill="#222">9</text>
<text x="527.9" y="638.1" font-family="Liberation Sans, sans-serif" font-size="7.4" text-anchor="middle" fill="#222">10</text>
<text x="555.1" y="638.1" font-family="Liberation Sans, sans-serif" font-size="7.4" text-anchor="middle" fill="#222">11</text>
<text x="580.1" y="638.1" font-family="Liberation Sans, sans-serif" font-size="7.4" text-anchor="middle" fill="#222">12</text>
<text x="601.8" y="638.1" font-family="Liberation Sans, sans-serif" font-size="7.4" text-anchor="middle" fill="#222">13</text>
<text x="623.4" y="638.1" font-family="Liberation Sans, sans-serif" font-size="7.4" text-anchor="middle" fill="#222">14</text>
<text x="648.1" y="638.1" font-family="Liberation Sans, sans-serif" font-size="7.4" text-anchor="middle" fill="#222">15</text>
<text x="672.0" y="638.1" font-family="Liberation Sans, sans-serif" font-size="7.4" text-anchor="middle" fill="#222">16</text>
<text x="471.3" y="649" font-family="Liberation Sans, sans-serif" font-size="8.7" text-anchor="middle" fill="#222">Chromosome</text>
</svg></body></html>
